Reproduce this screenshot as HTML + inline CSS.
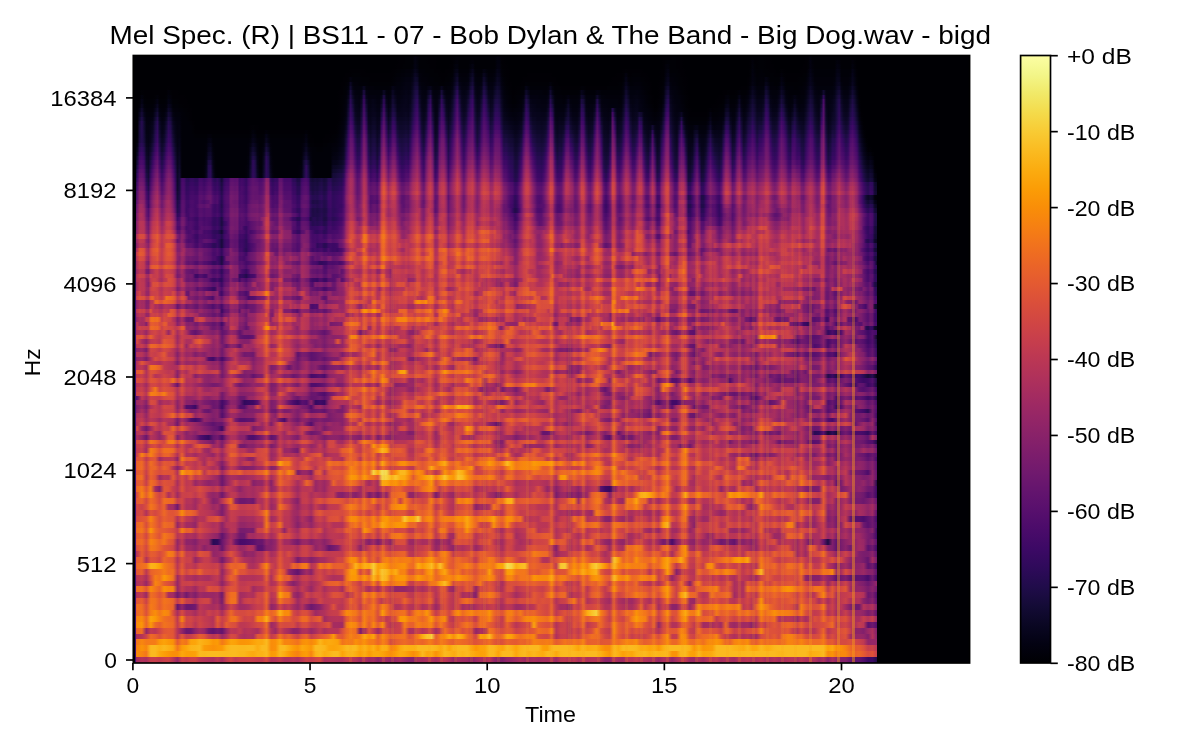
<!DOCTYPE html><html><head><meta charset="utf-8"><style>html,body{margin:0;padding:0;background:#fff;width:1200px;height:750px;overflow:hidden;position:relative}svg{will-change:transform}svg text{font-family:"Liberation Sans",sans-serif;fill:#000}#sp i{position:absolute;left:0;display:block}</style></head><body><div id="sp" style="position:absolute;left:133.30px;top:55.50px;width:836.30px;height:607.50px;overflow:hidden;background:#000004"><i style="top:0.00px;height:5.36px;width:744.2px;background:linear-gradient(90deg,#000004,#000004,#000004,#000004,#000004,#000004,#000004,#000004,#000004,#000004,#000004,#000004,#000004,#000004,#000004,#000004,#000004,#000004,#000004,#000004,#000004,#000004,#000004,#000004,#000004,#000004,#000004,#000004,#000004,#000004,#000004,#000004,#000004,#000004,#000004,#000004,#000004,#000004,#000004,#000004,#000004,#000004,#000004,#000004,#000004,#000004,#000004,#000004,#000004,#000004,#000004,#000004,#000004,#000004,#000004,#000004,#000004,#000004,#000004,#000004,#000004,#000004,#000004,#000004,#000004,#000004,#000004,#000004,#000004,#000004,#000004,#000004,#000004,#000004,#000004,#000004,#000004,#000004,#000004,#000004,#000004,#000004,#000004,#000004,#000004,#000004,#000004,#000004,#000004,#000004,#000004,#000004,#000004,#000004,#000004,#000004,#000004,#000004,#000004,#000004,#000004,#000004,#000004,#000004,#000004,#000004,#000004,#000004,#000004,#000004,#000004,#000004,#000004,#000004,#000004,#000004,#000004,#000004,#000004,#000004,#010005,#010005,#010005,#010106,#010106,#010106,#010106,#030210,#02010a,#010106,#010106,#010106,#010106,#010005,#010005,#010005,#010005,#000004,#000004,#000004,#000004,#000004,#000004,#000004,#010005,#010106,#010108,#010106,#010106,#010106,#010106,#010106,#010106,#010106,#010106,#010106,#010106,#010106,#010106,#010106,#010106,#010106,#010106,#010106,#02020c,#02010a,#010005,#010005,#000004,#000004,#000004,#000004,#000004,#000004,#000004,#000004,#000004,#000004,#000004,#000004,#000004,#000004,#000004,#000004,#000004,#000004,#000004,#000004,#000004,#000004,#000004,#000004,#000004,#000004,#000004,#000004,#000004,#000004,#000004,#000004,#000004,#000004,#000004,#000004,#000004,#000004,#000004,#000004,#000004,#000004,#000004,#000004,#000004,#000004,#000004,#000004,#000004,#000004,#000004,#000004,#000004,#000004,#000004,#000004,#000004,#000004,#000004,#000004,#000004,#000004,#000004,#000004,#000004,#000004,#000004,#000004,#000004,#000004,#000004,#010005,#010005,#010005,#010005,#010106,#010106,#010005,#010005,#010005,#000004,#000004,#000004,#000004,#000004,#000004,#000004,#000004,#000004,#000004,#000004,#000004,#000004,#000004,#000004,#000004,#000004,#000004,#000004,#000004,#000004,#000004,#000004,#000004,#000004,#000004,#000004,#000004,#000004,#000004,#010005,#010106,#010005,#010005,#010106,#010106,#010106,#010005,#010005,#010005,#000004,#000004,#000004,#000004,#000004,#000004,#000004,#000004,#000004,#000004,#000004,#000004,#000004,#000004,#000004,#010005,#010005,#02020c,#010106,#010106,#010106,#010106,#010106,#010106,#010106,#010106,#010106,#010106,#010106,#010106,#010106,#010106,#010106,#010106,#010106,#010106,#010005,#010005,#000004,#000004,#000004,#000004,#000004,#000004,#000004,#000004,#000004,#000004)"></i><i style="top:4.36px;height:5.36px;width:744.2px;background:linear-gradient(90deg,#000004,#000004,#000004,#000004,#000004,#000004,#000004,#000004,#000004,#000004,#000004,#000004,#000004,#000004,#000004,#000004,#000004,#000004,#000004,#000004,#000004,#000004,#000004,#000004,#000004,#000004,#000004,#000004,#000004,#000004,#000004,#000004,#000004,#000004,#000004,#000004,#000004,#000004,#000004,#000004,#000004,#000004,#000004,#000004,#000004,#000004,#000004,#000004,#000004,#000004,#000004,#000004,#000004,#000004,#000004,#000004,#000004,#000004,#000004,#000004,#000004,#000004,#000004,#000004,#000004,#000004,#000004,#000004,#000004,#000004,#000004,#000004,#000004,#000004,#000004,#000004,#000004,#000004,#000004,#000004,#000004,#000004,#000004,#000004,#000004,#000004,#000004,#000004,#000004,#000004,#000004,#000004,#000004,#000004,#000004,#000004,#000004,#000004,#000004,#000004,#000004,#000004,#000004,#000004,#000004,#000004,#000004,#000004,#000004,#000004,#000004,#000004,#000004,#000004,#000004,#000004,#000004,#000004,#000004,#000004,#010005,#010005,#010005,#010106,#010106,#010106,#010106,#040312,#02020c,#010106,#010106,#010106,#010106,#010005,#010005,#010005,#010005,#000004,#000004,#000004,#000004,#000004,#000004,#000004,#010005,#010108,#02010a,#010106,#010106,#010106,#010106,#010106,#010108,#02010a,#010106,#010106,#010106,#010106,#010106,#010106,#010106,#010106,#010106,#010106,#02020e,#02020e,#010005,#010005,#000004,#000004,#000004,#000004,#000004,#000004,#000004,#000004,#000004,#000004,#000004,#000004,#000004,#000004,#000004,#000004,#000004,#000004,#000004,#000004,#000004,#000004,#000004,#000004,#000004,#000004,#000004,#000004,#000004,#000004,#000004,#000004,#000004,#000004,#000004,#000004,#000004,#000004,#000004,#000004,#000004,#000004,#000004,#000004,#000004,#000004,#000004,#000004,#000004,#000004,#000004,#000004,#000004,#000004,#000004,#000004,#000004,#000004,#000004,#000004,#000004,#000004,#000004,#000004,#000004,#000004,#000004,#000004,#000004,#000004,#000004,#010005,#010106,#010108,#010106,#010106,#010106,#010005,#010005,#010005,#000004,#000004,#000004,#000004,#000004,#000004,#000004,#000004,#000004,#000004,#000004,#000004,#000004,#000004,#000004,#000004,#000004,#000004,#000004,#000004,#000004,#000004,#000004,#000004,#000004,#000004,#000004,#000004,#000004,#000004,#010005,#02010a,#010005,#010005,#010106,#010106,#010106,#010005,#010005,#010005,#000004,#000004,#000004,#000004,#000004,#000004,#000004,#000004,#000004,#000004,#000004,#000004,#000004,#000004,#000004,#010005,#010106,#030210,#010108,#010106,#010106,#010106,#010106,#010106,#010106,#010106,#010106,#010106,#010106,#02020c,#02010a,#010106,#010106,#010106,#010106,#010106,#02010a,#010106,#000004,#000004,#000004,#000004,#000004,#000004,#000004,#000004,#000004,#000004)"></i><i style="top:8.73px;height:5.36px;width:744.2px;background:linear-gradient(90deg,#000004,#000004,#000004,#000004,#000004,#000004,#000004,#000004,#000004,#000004,#000004,#000004,#000004,#000004,#000004,#000004,#000004,#000004,#000004,#000004,#000004,#000004,#000004,#000004,#000004,#000004,#000004,#000004,#000004,#000004,#000004,#000004,#000004,#000004,#000004,#000004,#000004,#000004,#000004,#000004,#000004,#000004,#000004,#000004,#000004,#000004,#000004,#000004,#000004,#000004,#000004,#000004,#000004,#000004,#000004,#000004,#000004,#000004,#000004,#000004,#000004,#000004,#000004,#000004,#000004,#000004,#000004,#000004,#000004,#000004,#000004,#000004,#000004,#000004,#000004,#000004,#000004,#000004,#000004,#000004,#000004,#000004,#000004,#000004,#000004,#000004,#000004,#000004,#000004,#000004,#000004,#000004,#000004,#000004,#000004,#000004,#000004,#000004,#000004,#000004,#000004,#000004,#000004,#000004,#000004,#000004,#000004,#000004,#000004,#000004,#000004,#000004,#000004,#000004,#000004,#000004,#000004,#000004,#000004,#010005,#010005,#010005,#010106,#010106,#010106,#010106,#010108,#040314,#02020e,#010106,#010106,#010106,#010106,#010106,#010005,#010005,#010005,#000004,#000004,#000004,#000004,#000004,#000004,#010005,#010005,#02020c,#02020e,#010106,#010106,#010106,#010106,#010106,#02020c,#040312,#010106,#010106,#010106,#010106,#010106,#010106,#010106,#010106,#010106,#010106,#030210,#030210,#010106,#010005,#010005,#000004,#000004,#000004,#000004,#000004,#000004,#000004,#000004,#000004,#000004,#000004,#000004,#000004,#000004,#000004,#000004,#000004,#000004,#000004,#000004,#000004,#000004,#000004,#000004,#000004,#000004,#000004,#000004,#000004,#000004,#000004,#000004,#000004,#000004,#000004,#000004,#000004,#000004,#000004,#000004,#000004,#000004,#000004,#000004,#000004,#000004,#000004,#000004,#000004,#000004,#000004,#000004,#000004,#000004,#000004,#000004,#000004,#000004,#000004,#000004,#000004,#000004,#000004,#000004,#000004,#000004,#000004,#000004,#000004,#000004,#010005,#02010a,#02020c,#010106,#010106,#010106,#010005,#010005,#010005,#000004,#000004,#000004,#000004,#000004,#000004,#000004,#000004,#000004,#000004,#000004,#000004,#000004,#000004,#000004,#000004,#000004,#000004,#000004,#000004,#000004,#000004,#000004,#000004,#000004,#000004,#000004,#000004,#000004,#000004,#010005,#02020c,#010106,#010005,#010106,#010106,#010106,#010005,#010005,#010005,#010005,#000004,#000004,#000004,#000004,#000004,#000004,#000004,#000004,#000004,#000004,#000004,#000004,#000004,#010005,#010005,#010106,#030210,#02010a,#010106,#010106,#010106,#010106,#010106,#010106,#010106,#010106,#010106,#010106,#030210,#02020e,#010106,#010106,#010106,#010106,#010106,#02020e,#010108,#000004,#000004,#000004,#000004,#000004,#000004,#000004,#000004,#000004,#000004)"></i><i style="top:13.09px;height:5.36px;width:744.2px;background:linear-gradient(90deg,#000004,#000004,#000004,#000004,#000004,#000004,#000004,#000004,#000004,#000004,#000004,#000004,#000004,#000004,#000004,#000004,#000004,#000004,#000004,#000004,#000004,#000004,#000004,#000004,#000004,#000004,#000004,#000004,#000004,#000004,#000004,#000004,#000004,#000004,#000004,#000004,#000004,#000004,#000004,#000004,#000004,#000004,#000004,#000004,#000004,#000004,#000004,#000004,#000004,#000004,#000004,#000004,#000004,#000004,#000004,#000004,#000004,#000004,#000004,#000004,#000004,#000004,#000004,#000004,#000004,#000004,#000004,#000004,#000004,#000004,#000004,#000004,#000004,#000004,#000004,#000004,#000004,#000004,#000004,#000004,#000004,#000004,#000004,#000004,#000004,#000004,#000004,#000004,#000004,#000004,#000004,#000004,#000004,#000004,#000004,#000004,#000004,#000004,#010005,#010005,#010005,#010005,#010005,#010005,#010005,#000004,#000004,#000004,#000004,#000004,#000004,#000004,#000004,#000004,#000004,#000004,#000004,#010005,#010005,#010106,#010106,#010108,#010108,#02010a,#02010a,#02010a,#02020e,#07051b,#040314,#010108,#010108,#010108,#010106,#010106,#010106,#010106,#010005,#010005,#010005,#000004,#000004,#010005,#010005,#010005,#010106,#040312,#050417,#010108,#010108,#010108,#010108,#010108,#040312,#08051d,#02010a,#010108,#010108,#010108,#040312,#02020c,#010108,#010108,#010108,#02010a,#050417,#040314,#010108,#010106,#010005,#010005,#000004,#000004,#000004,#000004,#000004,#000004,#000004,#000004,#000004,#000004,#000004,#000004,#000004,#000004,#000004,#000004,#000004,#000004,#000004,#000004,#000004,#000004,#000004,#000004,#000004,#000004,#000004,#000004,#000004,#000004,#000004,#000004,#000004,#000004,#000004,#000004,#000004,#000004,#000004,#000004,#000004,#000004,#000004,#000004,#000004,#000004,#000004,#000004,#000004,#000004,#000004,#010005,#010106,#010005,#010005,#010005,#010005,#010005,#010005,#010005,#000004,#000004,#000004,#000004,#000004,#000004,#000004,#000004,#010005,#010005,#02020c,#040312,#010106,#010106,#010106,#010106,#010005,#010005,#010005,#000004,#000004,#000004,#000004,#000004,#000004,#000004,#000004,#000004,#000004,#000004,#000004,#000004,#000004,#000004,#000004,#000004,#000004,#000004,#000004,#000004,#000004,#000004,#000004,#000004,#000004,#000004,#000004,#000004,#010106,#02020e,#010108,#010106,#010106,#010108,#010106,#010106,#010106,#010005,#010005,#010005,#000004,#000004,#010106,#010005,#000004,#000004,#000004,#000004,#000004,#000004,#000004,#010005,#010005,#010005,#02010a,#040314,#02020c,#010108,#010108,#010108,#010108,#010108,#010108,#010108,#010108,#010108,#010108,#040314,#040312,#010108,#010108,#010108,#010108,#010108,#040314,#02020c,#010005,#000004,#000004,#000004,#000004,#000004,#000004,#000004,#000004,#000004)"></i><i style="top:17.46px;height:5.36px;width:744.2px;background:linear-gradient(90deg,#000004,#000004,#000004,#000004,#000004,#000004,#000004,#000004,#000004,#000004,#000004,#000004,#000004,#000004,#000004,#000004,#000004,#000004,#000004,#000004,#000004,#000004,#000004,#000004,#000004,#000004,#000004,#000004,#000004,#000004,#000004,#000004,#000004,#000004,#000004,#000004,#000004,#000004,#000004,#000004,#000004,#000004,#000004,#000004,#000004,#000004,#000004,#000004,#000004,#000004,#000004,#000004,#000004,#000004,#000004,#000004,#000004,#000004,#000004,#000004,#000004,#000004,#000004,#000004,#000004,#000004,#000004,#000004,#000004,#000004,#000004,#000004,#000004,#000004,#000004,#000004,#000004,#000004,#000004,#000004,#000004,#000004,#000004,#000004,#000004,#000004,#000004,#000004,#000004,#000004,#000004,#000004,#000004,#000004,#000004,#000004,#010005,#010005,#010005,#010106,#010106,#010106,#010106,#010005,#010005,#010005,#010005,#010005,#010005,#010005,#010005,#010005,#010005,#010005,#010005,#010005,#010005,#010005,#010106,#010108,#010108,#02010a,#02010a,#02020c,#02020c,#02020c,#040312,#0b0724,#08051d,#02020c,#02010a,#010108,#010108,#010108,#010106,#010106,#010106,#010106,#010005,#010005,#010005,#010005,#010106,#010106,#010108,#060419,#0a0722,#02020c,#02010a,#02010a,#02010a,#02020c,#07051b,#0c0826,#02020e,#02010a,#02010a,#02020c,#09061f,#040314,#02010a,#02010a,#02010a,#02020e,#07051b,#060419,#02010a,#010106,#010005,#010005,#000004,#000004,#000004,#000004,#000004,#000004,#000004,#000004,#010005,#010005,#010005,#010005,#010005,#010005,#010005,#010005,#010005,#010005,#010005,#000004,#000004,#000004,#000004,#000004,#000004,#000004,#000004,#000004,#000004,#000004,#000004,#000004,#000004,#000004,#000004,#000004,#000004,#000004,#000004,#000004,#000004,#000004,#000004,#000004,#000004,#000004,#000004,#000004,#010005,#010005,#010005,#010106,#030210,#010106,#010005,#010106,#010106,#010106,#010106,#010005,#010005,#010005,#000004,#000004,#000004,#000004,#000004,#000004,#010005,#010005,#030210,#050417,#010108,#010108,#010108,#010106,#010106,#010005,#010005,#000004,#000004,#000004,#000004,#000004,#000004,#000004,#000004,#000004,#000004,#000004,#000004,#000004,#000004,#000004,#000004,#000004,#000004,#000004,#000004,#000004,#000004,#000004,#000004,#000004,#000004,#000004,#000004,#000004,#010106,#030210,#02010a,#010106,#010108,#010108,#010108,#010106,#010106,#010106,#010106,#010005,#010005,#010005,#02010a,#010106,#010005,#010005,#010005,#010005,#010005,#010005,#010005,#010005,#010106,#010106,#02020c,#050417,#030210,#010108,#010108,#010108,#010108,#010108,#010108,#010108,#010108,#010108,#02010a,#050417,#050417,#010108,#010108,#010108,#010108,#02010a,#060419,#02020e,#010005,#000004,#000004,#000004,#000004,#000004,#000004,#000004,#000004,#000004)"></i><i style="top:21.82px;height:5.36px;width:744.2px;background:linear-gradient(90deg,#000004,#000004,#000004,#000004,#000004,#000004,#000004,#000004,#000004,#000004,#000004,#000004,#000004,#000004,#000004,#000004,#000004,#000004,#000004,#000004,#000004,#000004,#000004,#000004,#000004,#000004,#000004,#000004,#000004,#000004,#000004,#000004,#000004,#000004,#000004,#000004,#000004,#000004,#000004,#000004,#000004,#000004,#000004,#000004,#000004,#000004,#000004,#000004,#000004,#000004,#000004,#000004,#000004,#000004,#000004,#000004,#000004,#000004,#000004,#000004,#000004,#000004,#000004,#000004,#000004,#000004,#000004,#000004,#000004,#000004,#000004,#000004,#000004,#000004,#000004,#000004,#000004,#000004,#000004,#000004,#000004,#000004,#000004,#000004,#000004,#000004,#000004,#000004,#000004,#000004,#000004,#000004,#000004,#000004,#000004,#010005,#010005,#010106,#030210,#010108,#010108,#010108,#010108,#010106,#010106,#010106,#010106,#010005,#010005,#010005,#010005,#010005,#010005,#010005,#010005,#010005,#010005,#010106,#010108,#02010a,#02010a,#02020c,#02020e,#030210,#030210,#030210,#050417,#0e092b,#0d0829,#02020e,#02010a,#02010a,#02010a,#010108,#010108,#010108,#010106,#010106,#010106,#010005,#010005,#010106,#010106,#010108,#02020c,#08051d,#10092d,#030210,#02020c,#02020c,#02020c,#02020e,#0a0722,#110a30,#030210,#02020c,#02020c,#030210,#10092d,#07051b,#02020c,#02020c,#02020c,#040312,#0a0722,#08051d,#02020e,#010108,#010106,#010005,#000004,#000004,#000004,#000004,#000004,#000004,#010005,#010005,#010005,#010005,#010005,#010005,#010005,#010005,#010005,#010005,#010005,#010005,#010005,#010005,#010005,#000004,#000004,#000004,#000004,#000004,#000004,#000004,#000004,#000004,#000004,#000004,#000004,#000004,#000004,#000004,#000004,#000004,#000004,#000004,#000004,#000004,#000004,#000004,#000004,#000004,#010005,#010005,#010005,#010005,#010005,#010108,#050417,#02010a,#010106,#010108,#010108,#010108,#010108,#010106,#010106,#010005,#010005,#000004,#000004,#000004,#000004,#000004,#010005,#010106,#040314,#08051d,#02010a,#02010a,#010108,#010108,#010106,#010106,#010005,#010005,#000004,#000004,#000004,#000004,#000004,#000004,#000004,#000004,#000004,#000004,#000004,#000004,#000004,#000004,#000004,#000004,#000004,#000004,#000004,#000004,#000004,#000004,#000004,#000004,#000004,#000004,#000004,#010005,#010108,#030210,#02020c,#010108,#010108,#02010a,#010108,#040312,#02020c,#010106,#010106,#010106,#010106,#010106,#030210,#02010a,#010005,#010005,#010005,#010005,#010005,#010005,#010106,#010106,#010106,#010108,#030210,#07051b,#040312,#02010a,#02010a,#02010a,#02010a,#02010a,#02010a,#02010a,#02010a,#02010a,#02020c,#07051b,#07051b,#02010a,#02010a,#02010a,#02010a,#02020e,#07051b,#040312,#010106,#000004,#000004,#000004,#000004,#000004,#000004,#000004,#000004,#000004)"></i><i style="top:26.19px;height:5.36px;width:744.2px;background:linear-gradient(90deg,#000004,#000004,#000004,#000004,#000004,#000004,#000004,#000004,#000004,#000004,#000004,#000004,#000004,#000004,#000004,#000004,#000004,#000004,#000004,#000004,#000004,#000004,#000004,#000004,#000004,#000004,#000004,#000004,#000004,#000004,#000004,#000004,#000004,#000004,#000004,#000004,#000004,#000004,#000004,#000004,#000004,#000004,#000004,#000004,#000004,#000004,#000004,#000004,#000004,#000004,#000004,#000004,#000004,#000004,#000004,#000004,#000004,#000004,#000004,#000004,#000004,#000004,#000004,#000004,#000004,#000004,#000004,#000004,#000004,#000004,#000004,#000004,#000004,#000004,#000004,#000004,#000004,#000004,#000004,#000004,#000004,#000004,#000004,#000004,#000004,#000004,#000004,#000004,#000004,#000004,#000004,#000004,#000004,#000004,#010005,#010005,#010106,#02010a,#0b0724,#02020c,#02010a,#02010a,#010108,#010108,#010108,#010108,#010106,#010106,#010106,#010106,#010106,#010106,#010106,#010106,#010106,#010106,#010106,#010108,#02010a,#02020c,#02020c,#02020e,#030210,#040312,#040312,#040312,#08051d,#120a32,#120a32,#040312,#02020c,#02020c,#02010a,#02010a,#010108,#010108,#010108,#010108,#010106,#010106,#010106,#010108,#010108,#02010a,#030210,#0b0724,#150b37,#050417,#030210,#02020e,#030210,#040312,#0e092b,#160b39,#040314,#02020e,#02020e,#040314,#150b37,#0b0724,#030210,#030210,#030210,#060419,#0c0826,#0a0722,#030210,#02010a,#010106,#010005,#010005,#000004,#000004,#000004,#000004,#010005,#010005,#010108,#010106,#010106,#010106,#010106,#010106,#010106,#010106,#010106,#010106,#010106,#02020c,#010106,#010005,#010005,#000004,#000004,#000004,#000004,#000004,#000004,#000004,#000004,#000004,#000004,#000004,#000004,#000004,#000004,#000004,#000004,#000004,#000004,#000004,#000004,#000004,#000004,#000004,#010005,#010005,#010005,#010005,#010106,#010106,#02020c,#08051d,#030210,#010108,#010108,#02010a,#02010a,#02010a,#010108,#010106,#010106,#010005,#010005,#000004,#000004,#000004,#010005,#010005,#010108,#060419,#0a0722,#02020e,#02010a,#02010a,#010108,#010106,#010106,#010005,#010005,#000004,#000004,#000004,#000004,#000004,#000004,#000004,#000004,#000004,#000004,#000004,#000004,#000004,#000004,#000004,#000004,#000004,#000004,#000004,#000004,#000004,#000004,#000004,#000004,#000004,#000004,#000004,#010005,#02010a,#040312,#02020e,#010108,#02010a,#02010a,#02010a,#07051b,#040312,#010108,#010108,#010106,#010106,#010108,#040314,#02020e,#010106,#010106,#010106,#010106,#010106,#010106,#010106,#010106,#010108,#02010a,#040312,#08051d,#050417,#02020c,#02010a,#02010a,#02010a,#02010a,#02010a,#02010a,#02010a,#02010a,#030210,#08051d,#0a0722,#02020e,#02010a,#02010a,#02010a,#030210,#09061f,#040314,#010106,#000004,#000004,#000004,#000004,#000004,#000004,#000004,#000004,#000004)"></i><i style="top:30.55px;height:5.36px;width:744.2px;background:linear-gradient(90deg,#000004,#000004,#000004,#000004,#000004,#000004,#000004,#000004,#000004,#000004,#000004,#000004,#000004,#000004,#000004,#000004,#010005,#000004,#000004,#000004,#000004,#000004,#000004,#000004,#000004,#000004,#000004,#000004,#000004,#000004,#000004,#000004,#000004,#000004,#000004,#000004,#000004,#000004,#000004,#000004,#000004,#000004,#000004,#000004,#000004,#000004,#000004,#000004,#000004,#000004,#000004,#000004,#000004,#000004,#000004,#000004,#000004,#000004,#000004,#000004,#000004,#000004,#000004,#000004,#000004,#000004,#000004,#000004,#000004,#000004,#000004,#000004,#000004,#000004,#000004,#000004,#000004,#000004,#000004,#000004,#000004,#000004,#000004,#000004,#000004,#000004,#000004,#000004,#000004,#000004,#000004,#000004,#000004,#000004,#010005,#010106,#010108,#02020e,#120a32,#040312,#02020c,#02020c,#02020c,#02020e,#0a0722,#02020c,#02010a,#02010a,#02010a,#010108,#010108,#010108,#010108,#010108,#010108,#010108,#02010a,#050417,#030210,#02020e,#02020e,#030210,#040312,#040314,#040312,#040314,#0a0722,#160b39,#180c3c,#060419,#02020e,#02020e,#02020c,#040314,#060419,#02020c,#02010a,#02010a,#02020c,#08051d,#02020c,#02010a,#02020c,#02020c,#040314,#110a30,#1f0c48,#09061f,#040312,#040312,#040312,#060419,#150b37,#1e0c45,#060419,#030210,#040312,#07051b,#1c0c43,#110a30,#040314,#040312,#040312,#0a0722,#110a30,#0d0829,#040314,#02020c,#010108,#010106,#010005,#000004,#000004,#010005,#010005,#010106,#010106,#050417,#02020e,#010108,#010108,#010108,#010108,#010108,#010108,#010108,#010108,#02010a,#08051d,#02020c,#010106,#010106,#010106,#010005,#010005,#010005,#010005,#010005,#010005,#010005,#010005,#010005,#010108,#010108,#010005,#010005,#010005,#010005,#010005,#010005,#010005,#010005,#010005,#010005,#010106,#010106,#010106,#010106,#010106,#010106,#010108,#030210,#0c0826,#050417,#02020c,#02020c,#02020c,#02020c,#02020c,#02010a,#010108,#010106,#010106,#010005,#000004,#000004,#000004,#010005,#010106,#02010a,#0b0724,#110a30,#030210,#02020c,#02020c,#02010a,#010108,#010106,#010106,#010005,#000004,#000004,#000004,#000004,#000004,#000004,#000004,#000004,#000004,#000004,#000004,#000004,#000004,#000004,#000004,#000004,#000004,#000004,#000004,#000004,#000004,#000004,#000004,#000004,#010005,#010005,#010005,#010106,#030210,#07051b,#040314,#02020c,#02020c,#02020c,#02020e,#0e092b,#08051d,#02010a,#02010a,#02010a,#010108,#02020e,#08051d,#040314,#010108,#010108,#010108,#010108,#010106,#010106,#010108,#010108,#02010a,#02020c,#050417,#0c0826,#07051b,#030210,#02020c,#02020c,#02020c,#02020c,#02020c,#02020c,#02020c,#02020e,#040312,#0b0724,#10092d,#040312,#02020c,#02020c,#02020e,#050417,#0d0829,#07051b,#02010a,#000004,#000004,#000004,#000004,#000004,#000004,#000004,#000004,#000004)"></i><i style="top:34.92px;height:5.36px;width:744.2px;background:linear-gradient(90deg,#000004,#000004,#000004,#000004,#010106,#010005,#010005,#010005,#010005,#010005,#010005,#010005,#010005,#010005,#010005,#010005,#02010a,#010106,#010005,#010005,#010005,#000004,#000004,#000004,#000004,#000004,#000004,#000004,#000004,#000004,#000004,#000004,#000004,#000004,#000004,#000004,#000004,#000004,#000004,#000004,#000004,#000004,#000004,#000004,#000004,#000004,#000004,#000004,#000004,#000004,#000004,#000004,#000004,#000004,#000004,#000004,#000004,#000004,#000004,#000004,#000004,#000004,#000004,#000004,#000004,#000004,#000004,#000004,#000004,#000004,#000004,#000004,#000004,#000004,#000004,#000004,#000004,#000004,#000004,#000004,#000004,#000004,#000004,#000004,#000004,#000004,#000004,#000004,#000004,#000004,#000004,#000004,#000004,#010005,#010005,#010106,#010108,#040314,#1b0c41,#07051b,#030210,#02020e,#02020e,#040314,#1e0c45,#040312,#02020e,#02020c,#02020c,#02020c,#02020c,#02020c,#02020e,#0c0826,#02020e,#02010a,#02020e,#0b0724,#040314,#030210,#030210,#040312,#040314,#050417,#040314,#050417,#0d0829,#1b0c41,#1f0c48,#08051d,#040312,#030210,#030210,#0a0722,#120a32,#030210,#02020e,#02020e,#040312,#180c3c,#060419,#02020e,#02020e,#030210,#07051b,#160b39,#2d0b59,#0d0829,#050417,#040314,#050417,#0a0722,#1c0c43,#260c51,#08051d,#040312,#040314,#0a0722,#240c4f,#160b39,#07051b,#050417,#050417,#0e092b,#150b37,#110a30,#060419,#02020e,#02010a,#010108,#010106,#010005,#010005,#010106,#010106,#010108,#02010a,#0e092b,#07051b,#02020c,#02020c,#02020c,#02020c,#02020c,#02020c,#02010a,#02010a,#02020e,#110a30,#040314,#010108,#010108,#010108,#010106,#010106,#010106,#010106,#010106,#010106,#010106,#010106,#010108,#07051b,#040312,#010108,#010108,#010108,#010108,#010108,#030210,#02020c,#010108,#010108,#010108,#010108,#010108,#010108,#010108,#010108,#010108,#02010a,#040312,#110a30,#08051d,#02020e,#02020e,#02020e,#030210,#02020e,#02020c,#02010a,#010108,#010106,#010005,#000004,#000004,#000004,#010005,#010106,#02020c,#10092d,#180c3c,#040314,#030210,#02020e,#02020c,#02010a,#010108,#010106,#010005,#000004,#000004,#000004,#000004,#000004,#000004,#000004,#000004,#000004,#000004,#000004,#000004,#000004,#000004,#000004,#000004,#010005,#010005,#010106,#010005,#010005,#010005,#010106,#02010a,#010106,#010106,#010106,#02010a,#040314,#0a0722,#060419,#030210,#02020e,#030210,#040312,#150b37,#0c0826,#02020e,#02020c,#02020c,#02020c,#040312,#0c0826,#08051d,#02020c,#02010a,#010108,#010108,#010108,#010108,#010108,#02010a,#02010a,#030210,#08051d,#10092d,#0b0724,#040312,#030210,#02020e,#040314,#110a30,#030210,#02020e,#030210,#030210,#050417,#0e092b,#160b39,#060419,#030210,#030210,#030210,#08051d,#120a32,#0a0722,#02020e,#000004,#000004,#000004,#000004,#000004,#000004,#000004,#000004,#000004)"></i><i style="top:39.28px;height:5.36px;width:744.2px;background:linear-gradient(90deg,#000004,#000004,#000004,#010005,#02020e,#010106,#010005,#010005,#010005,#010005,#010106,#02010a,#010005,#010005,#010005,#010106,#02020e,#02010a,#010005,#010005,#010005,#010005,#010005,#010005,#000004,#000004,#000004,#000004,#000004,#000004,#000004,#000004,#000004,#000004,#000004,#000004,#000004,#000004,#000004,#000004,#000004,#000004,#000004,#000004,#000004,#000004,#000004,#000004,#000004,#000004,#000004,#000004,#000004,#000004,#000004,#000004,#000004,#000004,#000004,#000004,#000004,#000004,#000004,#000004,#000004,#000004,#000004,#000004,#000004,#000004,#000004,#000004,#000004,#000004,#000004,#000004,#000004,#000004,#000004,#000004,#000004,#000004,#000004,#000004,#000004,#000004,#000004,#000004,#000004,#000004,#000004,#000004,#000004,#010005,#010106,#010108,#02010a,#07051b,#230c4c,#0c0826,#040312,#040312,#030210,#07051b,#2f0a5b,#07051b,#030210,#030210,#030210,#030210,#02020e,#02020e,#050417,#210c4a,#040314,#02020e,#040312,#10092d,#08051d,#040312,#040312,#040314,#050417,#060419,#050417,#07051b,#10092d,#1f0c48,#260c51,#0c0826,#040314,#040312,#040312,#120a32,#240c4f,#040314,#030210,#030210,#07051b,#240c4f,#0c0826,#040312,#040312,#040314,#0a0722,#1e0c45,#390963,#140b34,#07051b,#060419,#07051b,#0e092b,#240c4f,#2f0a5b,#0b0724,#040314,#060419,#0e092b,#2d0b59,#1e0c45,#0a0722,#060419,#07051b,#140b34,#190c3e,#150b37,#08051d,#030210,#02020c,#02010a,#010108,#010005,#010106,#010108,#010108,#02010a,#030210,#180c3c,#0d0829,#030210,#030210,#030210,#030210,#02020e,#02020e,#02020e,#02020e,#040312,#1b0c41,#0a0722,#02020c,#02010a,#02010a,#02010a,#010108,#02010a,#030210,#02010a,#02010a,#02010a,#02010a,#02020c,#10092d,#0b0724,#02020c,#02020c,#02020c,#02020c,#02020c,#10092d,#050417,#02020c,#02020c,#02010a,#02010a,#02010a,#02010a,#02010a,#02010a,#02010a,#02020c,#060419,#160b39,#0c0826,#030210,#030210,#040312,#040312,#030210,#02020e,#02020c,#02010a,#010108,#010106,#010005,#000004,#000004,#010005,#010108,#030210,#160b39,#210c4a,#060419,#040312,#02020e,#02020e,#02020c,#02010a,#010108,#010106,#010005,#000004,#000004,#000004,#000004,#000004,#000004,#000004,#000004,#000004,#000004,#000004,#000004,#000004,#010005,#010005,#010005,#02010a,#02020c,#010106,#010106,#010106,#010108,#050417,#02010a,#010108,#02010a,#02020e,#07051b,#0d0829,#09061f,#040312,#040312,#040314,#060419,#1c0c43,#120a32,#040312,#02020e,#02020e,#02020e,#060419,#120a32,#0c0826,#030210,#02020c,#02010a,#02020c,#040314,#02020c,#02010a,#02020c,#02020c,#040312,#0a0722,#140b34,#0e092b,#050417,#040312,#040312,#09061f,#310a5c,#040314,#030210,#040312,#040314,#08051d,#140b34,#1e0c45,#09061f,#040314,#040312,#040314,#0c0826,#180c3c,#0e092b,#040312,#010005,#000004,#000004,#000004,#000004,#000004,#000004,#000004,#000004)"></i><i style="top:43.65px;height:5.36px;width:744.2px;background:linear-gradient(90deg,#000004,#000004,#000004,#010106,#050417,#010108,#010106,#010106,#010106,#010106,#02010a,#040314,#010106,#010106,#010106,#010108,#040314,#02020e,#010106,#010106,#010106,#010005,#010005,#010005,#010005,#000004,#000004,#000004,#000004,#000004,#000004,#000004,#000004,#000004,#000004,#000004,#000004,#000004,#000004,#000004,#000004,#000004,#000004,#000004,#000004,#000004,#000004,#000004,#000004,#000004,#000004,#000004,#000004,#000004,#000004,#000004,#000004,#000004,#000004,#000004,#000004,#000004,#000004,#000004,#000004,#000004,#000004,#000004,#000004,#000004,#000004,#000004,#000004,#000004,#000004,#000004,#000004,#000004,#000004,#000004,#000004,#000004,#000004,#000004,#000004,#000004,#000004,#000004,#000004,#000004,#000004,#000004,#000004,#010005,#010106,#010108,#02020c,#0b0724,#2b0b57,#120a32,#050417,#040314,#040312,#0b0724,#3d0965,#0d0829,#040314,#040312,#050417,#040314,#030210,#030210,#0a0722,#310a5c,#08051d,#030210,#050417,#140b34,#0b0724,#040314,#040314,#050417,#060419,#07051b,#050417,#08051d,#140b34,#240c4f,#2f0a5b,#10092d,#050417,#040314,#050417,#1c0c43,#310a5c,#07051b,#040312,#040312,#0c0826,#320a5e,#160b39,#060419,#040314,#060419,#0e092b,#260c51,#450a69,#1b0c41,#09061f,#07051b,#09061f,#150b37,#2d0b59,#390963,#0e092b,#060419,#07051b,#150b37,#360961,#260c51,#0e092b,#08051d,#0a0722,#1b0c41,#1f0c48,#190c3e,#0a0722,#040312,#02020e,#02010a,#010108,#010106,#010106,#010108,#02010a,#02020c,#050417,#230c4c,#150b37,#050417,#040314,#040314,#040312,#040312,#030210,#030210,#030210,#060419,#260c51,#10092d,#02020e,#02020c,#02020c,#02020c,#02010a,#02020e,#08051d,#02020e,#02020c,#02020c,#02020c,#030210,#1c0c43,#140b34,#030210,#02020e,#02020e,#02020e,#040312,#240c4f,#0b0724,#030210,#02020e,#02020e,#02020e,#02020c,#02020c,#02020c,#02020c,#02010a,#02020e,#08051d,#1b0c41,#110a30,#040314,#040312,#040314,#050417,#040312,#030210,#02020e,#02010a,#010108,#010106,#010005,#000004,#010005,#010106,#010108,#040314,#1c0c43,#2b0b57,#08051d,#040314,#030210,#02020e,#02020e,#02010a,#010108,#010106,#010005,#000004,#000004,#000004,#000004,#000004,#000004,#000004,#000004,#000004,#000004,#000004,#000004,#010005,#010005,#010005,#010106,#02020e,#040312,#010108,#010108,#010108,#02020c,#0b0724,#02020e,#02010a,#02020c,#040312,#0a0722,#120a32,#0c0826,#050417,#050417,#060419,#09061f,#240c4f,#190c3e,#050417,#040312,#030210,#040312,#09061f,#180c3c,#10092d,#040314,#02020e,#02020c,#02020e,#08051d,#030210,#02020c,#02020c,#02020e,#050417,#0d0829,#180c3c,#120a32,#07051b,#040314,#040314,#10092d,#4d0d6c,#060419,#040312,#040314,#060419,#0a0722,#180c3c,#260c51,#0c0826,#060419,#050417,#060419,#110a30,#1e0c45,#120a32,#050417,#010106,#000004,#000004,#000004,#000004,#000004,#000004,#000004,#000004)"></i><i style="top:48.01px;height:5.36px;width:744.2px;background:linear-gradient(90deg,#000004,#000004,#000004,#02010a,#09061f,#02020c,#010108,#010108,#010108,#010108,#030210,#09061f,#02010a,#010108,#010108,#02010a,#08051d,#050417,#010108,#010108,#010108,#010106,#010106,#010005,#010005,#010005,#000004,#000004,#000004,#000004,#000004,#000004,#000004,#000004,#000004,#000004,#000004,#000004,#000004,#000004,#000004,#000004,#000004,#000004,#000004,#000004,#000004,#000004,#000004,#000004,#000004,#000004,#000004,#000004,#000004,#000004,#000004,#000004,#000004,#000004,#000004,#000004,#000004,#000004,#000004,#000004,#000004,#000004,#000004,#000004,#000004,#000004,#000004,#000004,#000004,#000004,#000004,#000004,#000004,#000004,#000004,#000004,#000004,#000004,#000004,#000004,#000004,#000004,#000004,#000004,#000004,#000004,#000004,#010005,#010106,#02010a,#02020e,#0e092b,#320a5e,#180c3c,#07051b,#050417,#040314,#0e092b,#440a68,#140b34,#050417,#040314,#060419,#050417,#040312,#040312,#10092d,#3b0964,#0c0826,#040312,#07051b,#180c3c,#10092d,#050417,#050417,#060419,#07051b,#07051b,#060419,#0a0722,#160b39,#290b55,#360961,#140b34,#060419,#050417,#07051b,#240c4f,#3b0964,#0a0722,#040312,#040314,#110a30,#3b0964,#1f0c48,#08051d,#050417,#08051d,#110a30,#2b0b57,#4c0c6b,#230c4c,#0b0724,#08051d,#0b0724,#1b0c41,#320a5e,#3e0966,#110a30,#07051b,#09061f,#1b0c41,#3d0965,#2d0b59,#140b34,#09061f,#0c0826,#210c4a,#260c51,#1e0c45,#0c0826,#040314,#030210,#02020c,#02010a,#010108,#010108,#02010a,#02020c,#02020e,#08051d,#2b0b57,#1e0c45,#07051b,#060419,#050417,#040314,#040314,#040312,#040312,#040312,#09061f,#310a5c,#190c3e,#030210,#02020e,#02020e,#02020e,#02020e,#040314,#0d0829,#040312,#02020e,#02020e,#02020e,#040314,#260c51,#1c0c43,#040314,#030210,#040312,#040312,#07051b,#320a5e,#120a32,#040312,#030210,#030210,#02020e,#02020e,#02020e,#02020e,#02020e,#02020c,#030210,#0b0724,#230c4c,#150b37,#060419,#040314,#050417,#060419,#040314,#040312,#02020e,#02020c,#02010a,#010108,#010106,#000004,#010005,#010108,#02010a,#07051b,#240c4f,#340a5f,#0a0722,#050417,#040312,#030210,#02020e,#02020c,#02010a,#010106,#010005,#000004,#000004,#000004,#000004,#000004,#000004,#000004,#000004,#000004,#000004,#010005,#010005,#010005,#010106,#010106,#010108,#050417,#07051b,#02010a,#02010a,#02010a,#040312,#10092d,#040312,#02020c,#02020e,#060419,#0d0829,#160b39,#10092d,#060419,#07051b,#07051b,#0c0826,#2b0b57,#210c4a,#07051b,#040314,#040314,#040314,#0d0829,#1f0c48,#160b39,#07051b,#030210,#02020e,#040312,#0d0829,#040314,#02020e,#030210,#030210,#07051b,#110a30,#1c0c43,#160b39,#09061f,#050417,#040314,#160b39,#540f6d,#08051d,#040312,#050417,#07051b,#0c0826,#190c3e,#2b0b57,#10092d,#08051d,#060419,#07051b,#150b37,#230c4c,#160b39,#08051d,#010108,#000004,#000004,#000004,#000004,#000004,#000004,#000004,#000004)"></i><i style="top:52.38px;height:5.36px;width:744.2px;background:linear-gradient(90deg,#000004,#000004,#000004,#040314,#10092d,#040312,#02010a,#02010a,#02010a,#02010a,#060419,#0e092b,#02020e,#02010a,#02010a,#030210,#0d0829,#09061f,#02020c,#02010a,#02010a,#010108,#010108,#010106,#010106,#010005,#010005,#000004,#000004,#000004,#000004,#000004,#000004,#000004,#000004,#000004,#000004,#000004,#000004,#000004,#000004,#000004,#000004,#000004,#000004,#000004,#000004,#000004,#000004,#000004,#000004,#000004,#000004,#000004,#000004,#000004,#000004,#000004,#000004,#000004,#000004,#000004,#000004,#000004,#000004,#000004,#000004,#000004,#000004,#000004,#000004,#000004,#000004,#000004,#000004,#000004,#000004,#000004,#000004,#000004,#000004,#000004,#000004,#000004,#000004,#000004,#000004,#000004,#000004,#000004,#000004,#000004,#000004,#010005,#010106,#02010a,#030210,#120a32,#360961,#1e0c45,#08051d,#060419,#050417,#120a32,#490b6a,#190c3e,#050417,#050417,#07051b,#060419,#040314,#040314,#160b39,#440a68,#110a30,#050417,#0a0722,#1c0c43,#150b37,#060419,#060419,#07051b,#08051d,#08051d,#07051b,#0b0724,#190c3e,#2f0a5b,#3b0964,#180c3c,#08051d,#050417,#09061f,#290b55,#400a67,#0d0829,#040314,#040314,#160b39,#400a67,#280b53,#0a0722,#060419,#09061f,#150b37,#310a5c,#510e6c,#280b53,#0d0829,#09061f,#0c0826,#210c4a,#380962,#440a68,#140b34,#08051d,#0a0722,#1f0c48,#420a68,#320a5e,#180c3c,#0b0724,#0e092b,#260c51,#2b0b57,#230c4c,#0e092b,#050417,#040312,#030210,#02020c,#02010a,#02020c,#02020c,#02020e,#030210,#0b0724,#320a5e,#240c4f,#09061f,#07051b,#060419,#050417,#050417,#040314,#040314,#040314,#0d0829,#3d0965,#230c4c,#040314,#030210,#030210,#030210,#030210,#07051b,#110a30,#050417,#030210,#030210,#030210,#060419,#2d0b59,#230c4c,#050417,#040312,#040314,#040314,#0b0724,#3d0965,#190c3e,#050417,#040312,#040312,#030210,#040312,#260c51,#09061f,#030210,#030210,#040314,#0e092b,#290b55,#1b0c41,#08051d,#050417,#060419,#07051b,#040314,#040312,#030210,#02020e,#02020c,#02010a,#010108,#010005,#010106,#02010a,#02020e,#0a0722,#2d0b59,#3b0964,#0b0724,#060419,#040312,#030210,#030210,#02020e,#02010a,#010108,#010106,#010005,#000004,#000004,#000004,#000004,#000004,#000004,#000004,#010005,#010108,#010005,#010106,#010106,#010108,#010108,#02010a,#0a0722,#0b0724,#02020e,#02020c,#02020c,#060419,#160b39,#060419,#02020e,#040312,#08051d,#10092d,#190c3e,#120a32,#08051d,#08051d,#09061f,#10092d,#320a5e,#280b53,#0a0722,#050417,#050417,#060419,#110a30,#280b53,#1c0c43,#0b0724,#040314,#030210,#060419,#110a30,#07051b,#030210,#040312,#040314,#09061f,#140b34,#1f0c48,#190c3e,#0b0724,#060419,#050417,#1e0c45,#57106e,#0a0722,#040314,#050417,#08051d,#0d0829,#1b0c41,#2d0b59,#120a32,#09061f,#07051b,#09061f,#190c3e,#260c51,#190c3e,#0a0722,#02010a,#000004,#000004,#000004,#000004,#000004,#000004,#000004,#000004)"></i><i style="top:56.74px;height:5.36px;width:744.2px;background:linear-gradient(90deg,#000004,#000004,#000004,#09061f,#160b39,#07051b,#02020e,#02020c,#02020c,#02020e,#0b0724,#160b39,#040314,#02020c,#02020e,#060419,#150b37,#10092d,#040312,#02020c,#02020c,#02020c,#010108,#010108,#010106,#010106,#010005,#000004,#000004,#000004,#000004,#000004,#000004,#000004,#000004,#000004,#000004,#000004,#000004,#000004,#000004,#000004,#000004,#000004,#000004,#000004,#000004,#000004,#000004,#000004,#000004,#000004,#000004,#000004,#000004,#000004,#000004,#000004,#000004,#000004,#000004,#000004,#000004,#000004,#000004,#000004,#000004,#000004,#000004,#000004,#000004,#000004,#000004,#000004,#000004,#000004,#000004,#000004,#000004,#000004,#000004,#000004,#000004,#000004,#000004,#000004,#000004,#000004,#000004,#000004,#000004,#000004,#000004,#010005,#010108,#02010a,#040312,#160b39,#3b0964,#260c51,#0b0724,#07051b,#07051b,#160b39,#4d0d6c,#210c4a,#07051b,#060419,#08051d,#08051d,#050417,#050417,#1f0c48,#4d0d6c,#180c3c,#07051b,#0d0829,#230c4c,#1c0c43,#09061f,#08051d,#08051d,#09061f,#0a0722,#08051d,#0e092b,#1e0c45,#340a5f,#400a67,#1e0c45,#0a0722,#07051b,#0c0826,#320a5e,#490b6a,#140b34,#050417,#050417,#1c0c43,#450a69,#320a5e,#0d0829,#07051b,#0c0826,#190c3e,#380962,#550f6d,#310a5c,#110a30,#0b0724,#10092d,#290b55,#3e0966,#490b6a,#180c3c,#0a0722,#0d0829,#260c51,#470b6a,#390963,#1f0c48,#0d0829,#120a32,#2d0b59,#310a5c,#290b55,#120a32,#07051b,#050417,#040312,#030210,#02020e,#02020e,#030210,#040312,#040314,#110a30,#390963,#2d0b59,#0c0826,#08051d,#08051d,#07051b,#07051b,#060419,#060419,#07051b,#120a32,#490b6a,#2f0a5b,#050417,#040312,#040314,#040314,#040314,#0b0724,#150b37,#08051d,#040314,#040314,#040312,#09061f,#340a5f,#2b0b57,#08051d,#040314,#050417,#060419,#110a30,#490b6a,#240c4f,#08051d,#040314,#040314,#040312,#050417,#490b6a,#110a30,#040312,#040312,#060419,#120a32,#320a5e,#230c4c,#0b0724,#060419,#08051d,#09061f,#140b34,#10092d,#040314,#030210,#02020e,#02020c,#02010a,#010108,#02010a,#02020c,#040312,#0e092b,#380962,#450a69,#0e092b,#07051b,#040314,#040312,#050417,#0b0724,#02020e,#02010a,#010108,#010005,#010005,#010005,#010005,#010005,#010005,#010005,#010005,#010106,#030210,#010108,#010108,#010108,#02010a,#02010a,#02020e,#10092d,#110a30,#040314,#02020e,#030210,#0a0722,#1c0c43,#09061f,#040312,#050417,#0c0826,#140b34,#1e0c45,#160b39,#0a0722,#0b0724,#0b0724,#150b37,#390963,#2f0a5b,#0d0829,#08051d,#07051b,#09061f,#180c3c,#310a5c,#240c4f,#10092d,#060419,#040314,#0a0722,#160b39,#0a0722,#050417,#050417,#050417,#0c0826,#180c3c,#240c4f,#1e0c45,#0d0829,#08051d,#060419,#260c51,#59106e,#0c0826,#040314,#060419,#0a0722,#0e092b,#1c0c43,#310a5c,#160b39,#0b0724,#09061f,#0b0724,#1e0c45,#290b55,#1e0c45,#0d0829,#02020e,#010005,#000004,#000004,#000004,#000004,#000004,#000004,#000004)"></i><i style="top:61.10px;height:5.36px;width:744.2px;background:linear-gradient(90deg,#000004,#000004,#000004,#0e092b,#1f0c48,#0c0826,#030210,#030210,#030210,#040314,#110a30,#210c4a,#07051b,#030210,#040312,#0a0722,#1e0c45,#160b39,#060419,#030210,#02020e,#02020e,#010108,#010108,#010108,#010106,#010005,#000004,#000004,#000004,#000004,#000004,#000004,#000004,#000004,#000004,#000004,#000004,#000004,#000004,#000004,#000004,#000004,#000004,#000004,#000004,#000004,#000004,#000004,#000004,#000004,#000004,#000004,#000004,#000004,#000004,#000004,#000004,#000004,#000004,#000004,#000004,#000004,#000004,#000004,#000004,#000004,#000004,#000004,#000004,#000004,#000004,#000004,#000004,#000004,#000004,#000004,#000004,#000004,#000004,#000004,#000004,#000004,#000004,#000004,#000004,#000004,#000004,#000004,#000004,#000004,#000004,#000004,#010005,#010108,#02020c,#050417,#1b0c41,#400a67,#2d0b59,#0e092b,#09061f,#09061f,#1c0c43,#540f6d,#290b55,#09061f,#07051b,#0a0722,#0a0722,#060419,#07051b,#290b55,#550f6d,#1f0c48,#0a0722,#110a30,#2d0b59,#240c4f,#0b0724,#0a0722,#0a0722,#0b0724,#0c0826,#0a0722,#110a30,#230c4c,#3b0964,#470b6a,#230c4c,#0c0826,#08051d,#10092d,#390963,#4d0d6c,#190c3e,#060419,#07051b,#240c4f,#4a0c6b,#3d0965,#120a32,#09061f,#0e092b,#1e0c45,#3d0965,#5c126e,#390963,#150b37,#0d0829,#150b37,#320a5e,#450a69,#4f0d6c,#1b0c41,#0c0826,#110a30,#2d0b59,#4d0d6c,#400a67,#280b53,#110a30,#160b39,#340a5f,#380962,#310a5c,#160b39,#09061f,#07051b,#050417,#040314,#040312,#030210,#040312,#040314,#060419,#160b39,#400a67,#340a5f,#110a30,#0a0722,#0a0722,#08051d,#08051d,#08051d,#08051d,#09061f,#190c3e,#540f6d,#3d0965,#08051d,#040314,#060419,#050417,#060419,#120a32,#190c3e,#0b0724,#060419,#050417,#050417,#0c0826,#3d0965,#320a5e,#0b0724,#060419,#07051b,#08051d,#190c3e,#520e6d,#2f0a5b,#0c0826,#060419,#050417,#040314,#07051b,#57106e,#1c0c43,#050417,#050417,#09061f,#180c3c,#3b0964,#2b0b57,#0e092b,#08051d,#09061f,#0b0724,#240c4f,#1c0c43,#050417,#040314,#030210,#02020e,#02020c,#02010a,#02020c,#02020e,#060419,#150b37,#420a68,#4f0d6c,#110a30,#09061f,#050417,#040314,#08051d,#1c0c43,#050417,#02020c,#010108,#010106,#010106,#010106,#010106,#010106,#010106,#010106,#010106,#02010a,#050417,#02010a,#02010a,#02010a,#02020c,#02020e,#040314,#180c3c,#180c3c,#07051b,#040312,#040312,#0e092b,#260c51,#0d0829,#050417,#07051b,#110a30,#180c3c,#240c4f,#190c3e,#0c0826,#0e092b,#0e092b,#1b0c41,#400a67,#360961,#120a32,#0a0722,#0a0722,#0c0826,#1e0c45,#3b0964,#2d0b59,#160b39,#09061f,#07051b,#10092d,#1c0c43,#0e092b,#08051d,#07051b,#07051b,#10092d,#1c0c43,#2b0b57,#230c4c,#110a30,#0a0722,#08051d,#310a5c,#5c126e,#0e092b,#050417,#07051b,#0c0826,#10092d,#1e0c45,#340a5f,#190c3e,#0e092b,#0b0724,#0e092b,#240c4f,#310a5c,#230c4c,#110a30,#040312,#010106,#000004,#000004,#000004,#000004,#000004,#000004,#000004)"></i><i style="top:65.47px;height:5.36px;width:744.2px;background:linear-gradient(90deg,#000004,#000004,#000004,#150b37,#280b53,#110a30,#040312,#030210,#040314,#07051b,#180c3c,#290b55,#0b0724,#040314,#050417,#10092d,#260c51,#1e0c45,#09061f,#040314,#030210,#030210,#010108,#010108,#010108,#010108,#010106,#010005,#000004,#000004,#000004,#000004,#000004,#000004,#000004,#000004,#000004,#000004,#000004,#000004,#000004,#000004,#000004,#000004,#000004,#000004,#000004,#000004,#000004,#000004,#000004,#000004,#000004,#000004,#000004,#000004,#000004,#000004,#000004,#000004,#000004,#000004,#000004,#000004,#000004,#000004,#000004,#000004,#000004,#000004,#000004,#000004,#000004,#000004,#000004,#000004,#000004,#000004,#000004,#000004,#000004,#000004,#000004,#000004,#000004,#000004,#000004,#000004,#000004,#000004,#000004,#000004,#000004,#010106,#02010a,#02020e,#07051b,#1f0c48,#470b6a,#360961,#120a32,#0b0724,#0b0724,#210c4a,#59106e,#340a5f,#0b0724,#08051d,#0c0826,#0c0826,#07051b,#09061f,#360961,#5d126e,#290b55,#0d0829,#160b39,#360961,#2d0b59,#10092d,#0c0826,#0c0826,#0d0829,#0e092b,#0c0826,#150b37,#290b55,#400a67,#4d0d6c,#2b0b57,#0e092b,#0a0722,#150b37,#420a68,#540f6d,#230c4c,#07051b,#08051d,#2d0b59,#510e6c,#470b6a,#180c3c,#0b0724,#120a32,#230c4c,#440a68,#62146e,#440a68,#190c3e,#10092d,#190c3e,#3b0964,#4c0c6b,#540f6d,#210c4a,#0e092b,#150b37,#340a5f,#520e6d,#470b6a,#310a5c,#150b37,#1c0c43,#3d0965,#3e0966,#380962,#190c3e,#0b0724,#0a0722,#08051d,#060419,#050417,#040314,#040314,#060419,#09061f,#1e0c45,#490b6a,#3e0966,#160b39,#0d0829,#0c0826,#0a0722,#0a0722,#09061f,#0a0722,#0c0826,#210c4a,#5c126e,#490b6a,#0a0722,#060419,#08051d,#07051b,#09061f,#190c3e,#1f0c48,#0e092b,#09061f,#07051b,#07051b,#10092d,#450a69,#3b0964,#0e092b,#08051d,#09061f,#0b0724,#230c4c,#5a116e,#3b0964,#110a30,#07051b,#07051b,#060419,#0a0722,#61136e,#290b55,#07051b,#08051d,#0c0826,#1e0c45,#420a68,#340a5f,#140b34,#0a0722,#0c0826,#0d0829,#320a5e,#280b53,#07051b,#050417,#040314,#040312,#030210,#02020e,#030210,#040312,#09061f,#1c0c43,#4d0d6c,#57106e,#140b34,#0b0724,#060419,#050417,#0c0826,#310a5c,#09061f,#02020e,#02010a,#010108,#010108,#010108,#010108,#010108,#010108,#010108,#010108,#030210,#09061f,#02020e,#02020c,#02020e,#030210,#030210,#08051d,#210c4a,#1f0c48,#0a0722,#040314,#050417,#150b37,#2d0b59,#120a32,#060419,#0a0722,#150b37,#1c0c43,#2b0b57,#1e0c45,#10092d,#120a32,#140b34,#210c4a,#470b6a,#3e0966,#190c3e,#0d0829,#0c0826,#10092d,#260c51,#440a68,#380962,#1e0c45,#0c0826,#09061f,#180c3c,#230c4c,#120a32,#0b0724,#0a0722,#09061f,#140b34,#210c4a,#320a5e,#280b53,#140b34,#0c0826,#0a0722,#3b0964,#61136e,#120a32,#060419,#09061f,#0e092b,#120a32,#210c4a,#390963,#1f0c48,#120a32,#0d0829,#110a30,#2b0b57,#360961,#280b53,#160b39,#050417,#02010a,#000004,#000004,#000004,#000004,#000004,#000004,#000004)"></i><i style="top:69.83px;height:5.36px;width:744.2px;background:linear-gradient(90deg,#000004,#000004,#010005,#180c3c,#260c51,#120a32,#040314,#040312,#050417,#09061f,#1c0c43,#2d0b59,#0d0829,#050417,#07051b,#140b34,#2b0b57,#230c4c,#0c0826,#050417,#030210,#040312,#010108,#010108,#010108,#010108,#010108,#010106,#000004,#000004,#000004,#000004,#000004,#000004,#000004,#000004,#000004,#000004,#000004,#000004,#000004,#000004,#000004,#000004,#000004,#000004,#000004,#000004,#000004,#000004,#000004,#000004,#000004,#010005,#010106,#010005,#010005,#000004,#000004,#000004,#000004,#000004,#000004,#000004,#000004,#000004,#000004,#000004,#000004,#000004,#000004,#000004,#000004,#000004,#000004,#000004,#000004,#000004,#000004,#000004,#000004,#000004,#000004,#000004,#000004,#000004,#000004,#000004,#000004,#000004,#000004,#000004,#010005,#010108,#02020c,#030210,#0a0722,#280b53,#4f0d6c,#400a67,#190c3e,#0e092b,#0e092b,#280b53,#61136e,#3e0966,#0e092b,#0a0722,#0e092b,#0e092b,#08051d,#0b0724,#420a68,#64156e,#320a5e,#110a30,#1b0c41,#3e0966,#360961,#140b34,#0e092b,#0e092b,#10092d,#110a30,#0e092b,#190c3e,#320a5e,#490b6a,#550f6d,#320a5e,#120a32,#0c0826,#1c0c43,#4a0c6b,#5c126e,#2d0b59,#09061f,#0b0724,#380962,#57106e,#510e6c,#1f0c48,#0d0829,#180c3c,#290b55,#4c0c6b,#6a176e,#4c0c6b,#210c4a,#140b34,#210c4a,#450a69,#520e6d,#5a116e,#280b53,#110a30,#190c3e,#3b0964,#57106e,#4d0d6c,#390963,#1b0c41,#230c4c,#450a69,#470b6a,#400a67,#1f0c48,#0e092b,#0d0829,#0b0724,#09061f,#07051b,#060419,#060419,#08051d,#0c0826,#280b53,#510e6c,#470b6a,#1e0c45,#110a30,#0e092b,#0c0826,#0c0826,#0b0724,#0c0826,#10092d,#290b55,#64156e,#520e6d,#0d0829,#07051b,#0a0722,#0a0722,#0c0826,#240c4f,#2b0b57,#140b34,#0c0826,#0a0722,#09061f,#150b37,#4d0d6c,#450a69,#140b34,#0a0722,#0b0724,#0e092b,#2f0a5b,#62146e,#440a68,#180c3c,#09061f,#08051d,#07051b,#0d0829,#67166e,#380962,#09061f,#0a0722,#0e092b,#240c4f,#4a0c6b,#3b0964,#180c3c,#0d0829,#0e092b,#120a32,#3d0965,#320a5e,#0a0722,#07051b,#050417,#060419,#140b34,#050417,#040312,#040314,#0d0829,#240c4f,#57106e,#5f136e,#180c3c,#0d0829,#08051d,#060419,#140b34,#3b0964,#110a30,#040314,#02020e,#02020c,#02020c,#040314,#050417,#02020c,#02020c,#02020c,#02020c,#060419,#0e092b,#040314,#030210,#040312,#040312,#040314,#0d0829,#2d0b59,#2b0b57,#10092d,#060419,#08051d,#1b0c41,#360961,#160b39,#08051d,#0d0829,#1b0c41,#230c4c,#340a5f,#240c4f,#120a32,#180c3c,#1b0c41,#290b55,#4f0d6c,#470b6a,#1f0c48,#110a30,#10092d,#140b34,#2d0b59,#4c0c6b,#3e0966,#260c51,#110a30,#0c0826,#1f0c48,#290b55,#160b39,#10092d,#0c0826,#0c0826,#180c3c,#280b53,#3b0964,#310a5c,#180c3c,#0e092b,#0d0829,#490b6a,#67166e,#160b39,#08051d,#0b0724,#120a32,#150b37,#290b55,#400a67,#260c51,#180c3c,#110a30,#160b39,#320a5e,#3e0966,#2f0a5b,#1c0c43,#08051d,#02020e,#010005,#000004,#000004,#000004,#000004,#000004,#000004)"></i><i style="top:74.20px;height:5.36px;width:744.2px;background:linear-gradient(90deg,#000004,#000004,#010106,#190c3e,#260c51,#150b37,#040314,#040312,#060419,#0b0724,#210c4a,#320a5e,#110a30,#060419,#09061f,#190c3e,#310a5c,#290b55,#10092d,#060419,#040312,#040312,#010108,#010108,#010108,#010108,#010108,#010106,#010005,#010005,#010005,#010005,#010005,#010005,#010005,#010005,#010005,#010005,#010005,#010005,#010005,#010005,#010005,#010005,#010005,#010005,#010005,#010005,#010005,#010005,#010005,#010005,#010005,#010106,#02020c,#010108,#010005,#010005,#010005,#010005,#02010a,#010106,#010005,#010005,#010005,#010005,#010005,#010005,#010005,#010005,#010005,#010005,#010005,#010005,#010005,#010005,#010005,#010005,#010108,#010005,#000004,#000004,#000004,#000004,#000004,#000004,#000004,#000004,#000004,#010005,#010005,#010005,#010106,#02010a,#02020e,#040314,#0e092b,#310a5c,#550f6d,#4a0c6b,#1f0c48,#110a30,#120a32,#320a5e,#69166e,#490b6a,#120a32,#0c0826,#120a32,#120a32,#0a0722,#0d0829,#4c0c6b,#6c186e,#3d0965,#160b39,#230c4c,#470b6a,#400a67,#190c3e,#120a32,#110a30,#120a32,#150b37,#110a30,#1e0c45,#3b0964,#510e6c,#5d126e,#3d0965,#160b39,#0e092b,#240c4f,#520e6d,#64156e,#380962,#0a0722,#0d0829,#400a67,#5f136e,#5a116e,#290b55,#110a30,#1c0c43,#320a5e,#540f6d,#721a6e,#540f6d,#280b53,#180c3c,#280b53,#4d0d6c,#59106e,#5f136e,#2d0b59,#140b34,#1e0c45,#420a68,#5c126e,#540f6d,#440a68,#210c4a,#290b55,#4d0d6c,#4f0d6c,#4a0c6b,#290b55,#120a32,#110a30,#0e092b,#0c0826,#0a0722,#07051b,#08051d,#0b0724,#10092d,#320a5e,#59106e,#4f0d6c,#260c51,#150b37,#120a32,#0e092b,#0e092b,#0d0829,#0e092b,#140b34,#320a5e,#6c186e,#5c126e,#110a30,#09061f,#0c0826,#0c0826,#110a30,#310a5c,#380962,#190c3e,#110a30,#0c0826,#0b0724,#1b0c41,#550f6d,#4d0d6c,#190c3e,#0c0826,#0d0829,#120a32,#3b0964,#6a176e,#4c0c6b,#1e0c45,#0a0722,#0a0722,#08051d,#120a32,#6f196e,#470b6a,#0c0826,#0c0826,#120a32,#290b55,#510e6c,#440a68,#1e0c45,#10092d,#120a32,#190c3e,#470b6a,#3d0965,#0e092b,#09061f,#07051b,#0a0722,#2d0b59,#08051d,#050417,#060419,#140b34,#2f0a5b,#61136e,#67166e,#1c0c43,#10092d,#09061f,#07051b,#1c0c43,#450a69,#1c0c43,#07051b,#040312,#02020e,#030210,#0a0722,#0c0826,#030210,#02020e,#02020e,#030210,#0a0722,#160b39,#08051d,#050417,#060419,#050417,#07051b,#140b34,#390963,#360961,#160b39,#08051d,#0a0722,#230c4c,#3e0966,#1c0c43,#0b0724,#10092d,#210c4a,#290b55,#3b0964,#2d0b59,#160b39,#1f0c48,#230c4c,#320a5e,#550f6d,#4f0d6c,#280b53,#160b39,#140b34,#190c3e,#360961,#520e6d,#470b6a,#2f0a5b,#150b37,#10092d,#280b53,#320a5e,#1c0c43,#150b37,#10092d,#0e092b,#1c0c43,#310a5c,#420a68,#390963,#1e0c45,#120a32,#110a30,#550f6d,#6f196e,#1b0c41,#0a0722,#0d0829,#180c3c,#190c3e,#310a5c,#490b6a,#2d0b59,#1e0c45,#150b37,#1c0c43,#3b0964,#470b6a,#380962,#230c4c,#0b0724,#040312,#010108,#000004,#000004,#000004,#000004,#000004,#000004)"></i><i style="top:78.56px;height:5.36px;width:744.2px;background:linear-gradient(90deg,#000004,#000004,#010108,#190c3e,#260c51,#160b39,#050417,#040314,#07051b,#0e092b,#260c51,#380962,#140b34,#08051d,#0c0826,#1e0c45,#360961,#2f0a5b,#140b34,#08051d,#040312,#040314,#010108,#010108,#010108,#010108,#010108,#010108,#010106,#010106,#010106,#010106,#010106,#010106,#02010a,#02010a,#010106,#010106,#010106,#010106,#010106,#010106,#010106,#010106,#010106,#010106,#010106,#010106,#010106,#010106,#010106,#010106,#010106,#010108,#040312,#02020e,#010106,#010106,#010106,#010108,#050417,#02020c,#010106,#010106,#010106,#010106,#010106,#010106,#010106,#010106,#010106,#010106,#010106,#010106,#010106,#010106,#010106,#010108,#030210,#010106,#010005,#000004,#000004,#000004,#000004,#000004,#000004,#010005,#010005,#010005,#010106,#010106,#010108,#02020c,#030210,#050417,#140b34,#390963,#5c126e,#520e6d,#280b53,#150b37,#180c3c,#3b0964,#71196e,#510e6c,#180c3c,#0e092b,#150b37,#150b37,#0b0724,#110a30,#550f6d,#741a6e,#450a69,#1c0c43,#2b0b57,#4f0d6c,#4a0c6b,#1f0c48,#150b37,#140b34,#160b39,#190c3e,#150b37,#240c4f,#450a69,#59106e,#65156e,#450a69,#1c0c43,#110a30,#2d0b59,#5a116e,#6c186e,#420a68,#0d0829,#10092d,#490b6a,#67166e,#62146e,#340a5f,#140b34,#230c4c,#3b0964,#5c126e,#7a1d6d,#5d126e,#310a5c,#1c0c43,#310a5c,#540f6d,#5f136e,#64156e,#340a5f,#160b39,#230c4c,#490b6a,#61136e,#59106e,#4c0c6b,#280b53,#320a5e,#550f6d,#59106e,#520e6d,#320a5e,#160b39,#160b39,#120a32,#10092d,#0d0829,#09061f,#0a0722,#0d0829,#150b37,#3e0966,#62146e,#59106e,#2f0a5b,#1b0c41,#160b39,#120a32,#120a32,#10092d,#110a30,#190c3e,#3b0964,#741a6e,#65156e,#150b37,#0b0724,#10092d,#10092d,#180c3c,#3d0965,#440a68,#210c4a,#180c3c,#10092d,#0e092b,#210c4a,#5d126e,#550f6d,#1f0c48,#10092d,#110a30,#180c3c,#470b6a,#71196e,#550f6d,#280b53,#0c0826,#0b0724,#0a0722,#160b39,#751b6e,#540f6d,#10092d,#10092d,#180c3c,#320a5e,#59106e,#4c0c6b,#260c51,#140b34,#160b39,#230c4c,#510e6c,#490b6a,#140b34,#0c0826,#08051d,#0e092b,#440a68,#0d0829,#060419,#08051d,#1b0c41,#3b0964,#69166e,#71196e,#240c4f,#140b34,#0b0724,#09061f,#280b53,#4f0d6c,#290b55,#0b0724,#040314,#040312,#040312,#0e092b,#150b37,#050417,#040312,#040312,#050417,#10092d,#1e0c45,#0d0829,#08051d,#08051d,#07051b,#0a0722,#1c0c43,#470b6a,#420a68,#1e0c45,#0a0722,#0d0829,#2b0b57,#470b6a,#210c4a,#0d0829,#150b37,#290b55,#320a5e,#440a68,#360961,#1b0c41,#280b53,#2b0b57,#3b0964,#5d126e,#57106e,#310a5c,#1b0c41,#190c3e,#1f0c48,#3e0966,#5a116e,#4f0d6c,#380962,#1b0c41,#140b34,#320a5e,#390963,#210c4a,#1c0c43,#140b34,#120a32,#230c4c,#380962,#4a0c6b,#420a68,#230c4c,#180c3c,#160b39,#5d126e,#771c6d,#210c4a,#0d0829,#110a30,#1e0c45,#1e0c45,#390963,#510e6c,#360961,#260c51,#1b0c41,#230c4c,#440a68,#4d0d6c,#3e0966,#2b0b57,#0e092b,#050417,#02010a,#000004,#000004,#000004,#000004,#000004,#000004)"></i><i style="top:82.93px;height:5.36px;width:744.2px;background:linear-gradient(90deg,#000004,#000004,#02010a,#1b0c41,#240c4f,#180c3c,#060419,#040314,#08051d,#110a30,#290b55,#3b0964,#180c3c,#0a0722,#0e092b,#240c4f,#3b0964,#340a5f,#180c3c,#09061f,#040314,#050417,#010108,#010108,#010108,#010108,#010108,#010108,#010108,#010108,#010108,#010108,#010108,#010108,#030210,#040312,#010108,#010108,#010108,#010108,#010108,#010108,#010108,#010108,#010108,#010108,#010108,#010108,#010108,#010108,#010108,#010108,#010108,#02020c,#060419,#040312,#02010a,#010108,#010108,#02010a,#09061f,#040312,#010108,#010108,#010108,#010108,#010108,#010108,#010108,#010108,#010108,#010108,#010108,#010108,#010108,#010108,#010108,#02010a,#040314,#010108,#010005,#010005,#000004,#000004,#000004,#000004,#010005,#010005,#010005,#010106,#010106,#010108,#02010a,#02020e,#040312,#07051b,#190c3e,#420a68,#64156e,#5a116e,#310a5c,#1b0c41,#1c0c43,#450a69,#771c6d,#5a116e,#1c0c43,#120a32,#190c3e,#190c3e,#0d0829,#150b37,#5d126e,#7c1d6d,#4f0d6c,#240c4f,#360961,#57106e,#520e6d,#280b53,#1b0c41,#180c3c,#1b0c41,#1e0c45,#190c3e,#2d0b59,#4d0d6c,#62146e,#6d186e,#4d0d6c,#210c4a,#150b37,#380962,#64156e,#741a6e,#4c0c6b,#10092d,#140b34,#520e6d,#6f196e,#6c186e,#400a67,#180c3c,#2b0b57,#450a69,#65156e,#84206b,#65156e,#390963,#230c4c,#390963,#5c126e,#65156e,#6a176e,#3b0964,#190c3e,#280b53,#4d0d6c,#67166e,#5f136e,#520e6d,#310a5c,#390963,#5f136e,#61136e,#5c126e,#3d0965,#1b0c41,#1c0c43,#160b39,#140b34,#120a32,#0c0826,#0c0826,#110a30,#1c0c43,#490b6a,#6c186e,#62146e,#390963,#210c4a,#1b0c41,#150b37,#150b37,#120a32,#150b37,#1f0c48,#450a69,#7d1e6d,#6d186e,#190c3e,#0e092b,#120a32,#140b34,#1f0c48,#4a0c6b,#510e6c,#2d0b59,#1f0c48,#140b34,#120a32,#280b53,#65156e,#5d126e,#260c51,#140b34,#150b37,#1e0c45,#510e6c,#781c6d,#5d126e,#310a5c,#10092d,#0d0829,#0c0826,#1b0c41,#7d1e6d,#5f136e,#150b37,#140b34,#1c0c43,#3b0964,#61136e,#540f6d,#2d0b59,#190c3e,#1b0c41,#2d0b59,#59106e,#520e6d,#190c3e,#0e092b,#0a0722,#150b37,#4f0d6c,#160b39,#08051d,#0a0722,#230c4c,#450a69,#721a6e,#781c6d,#2f0a5b,#160b39,#0d0829,#0a0722,#340a5f,#57106e,#3b0964,#110a30,#060419,#050417,#050417,#140b34,#210c4a,#08051d,#050417,#050417,#08051d,#160b39,#280b53,#140b34,#0c0826,#0b0724,#0a0722,#0d0829,#260c51,#520e6d,#4d0d6c,#260c51,#0d0829,#110a30,#360961,#510e6c,#290b55,#110a30,#190c3e,#310a5c,#3b0964,#4c0c6b,#3e0966,#1f0c48,#310a5c,#360961,#440a68,#65156e,#5f136e,#390963,#230c4c,#1e0c45,#260c51,#490b6a,#62146e,#57106e,#420a68,#210c4a,#190c3e,#3d0965,#420a68,#2b0b57,#240c4f,#180c3c,#160b39,#290b55,#400a67,#520e6d,#4a0c6b,#2b0b57,#1c0c43,#1b0c41,#67166e,#7d1e6d,#290b55,#10092d,#150b37,#240c4f,#260c51,#400a67,#57106e,#3e0966,#2f0a5b,#210c4a,#290b55,#4c0c6b,#550f6d,#470b6a,#320a5e,#120a32,#08051d,#030210,#010106,#000004,#000004,#000004,#000004,#000004)"></i><i style="top:87.29px;height:5.36px;width:744.2px;background:linear-gradient(90deg,#000004,#000004,#040312,#230c4c,#2b0b57,#1e0c45,#08051d,#050417,#0b0724,#180c3c,#320a5e,#440a68,#1e0c45,#0d0829,#140b34,#2d0b59,#440a68,#3d0965,#1e0c45,#0c0826,#040314,#060419,#010108,#010108,#010108,#010108,#010108,#010108,#010108,#010108,#010108,#010108,#010108,#02010a,#050417,#07051b,#02010a,#010108,#010108,#010108,#010108,#010108,#010108,#010108,#010108,#010108,#010108,#010108,#010108,#010108,#010108,#010108,#02010a,#040312,#0b0724,#07051b,#02020e,#010108,#010108,#02020e,#10092d,#08051d,#02010a,#010108,#010108,#010108,#010108,#010108,#010108,#010108,#010108,#010108,#010108,#010108,#010108,#010108,#02010a,#030210,#07051b,#02020c,#010106,#010106,#010005,#010005,#010005,#010005,#010106,#010106,#010108,#010108,#02010a,#02010a,#02020c,#030210,#040314,#08051d,#1e0c45,#470b6a,#67166e,#61136e,#380962,#1f0c48,#210c4a,#4a0c6b,#7c1d6d,#61136e,#210c4a,#140b34,#1c0c43,#1c0c43,#10092d,#190c3e,#65156e,#82206c,#57106e,#2b0b57,#3e0966,#5f136e,#5c126e,#2f0a5b,#1f0c48,#1b0c41,#1e0c45,#230c4c,#1c0c43,#340a5f,#540f6d,#67166e,#751b6e,#550f6d,#280b53,#190c3e,#400a67,#6c186e,#7c1d6d,#540f6d,#120a32,#180c3c,#59106e,#741a6e,#71196e,#490b6a,#1c0c43,#310a5c,#4a0c6b,#69166e,#88226a,#6c186e,#400a67,#280b53,#420a68,#62146e,#6c186e,#71196e,#440a68,#1e0c45,#310a5c,#57106e,#6d186e,#67166e,#5a116e,#380962,#400a67,#64156e,#65156e,#62146e,#440a68,#1f0c48,#230c4c,#1b0c41,#160b39,#150b37,#0d0829,#0e092b,#150b37,#230c4c,#520e6d,#741a6e,#6a176e,#440a68,#290b55,#1f0c48,#190c3e,#180c3c,#160b39,#190c3e,#260c51,#4d0d6c,#85216b,#771c6d,#210c4a,#110a30,#160b39,#160b39,#280b53,#540f6d,#59106e,#380962,#280b53,#180c3c,#180c3c,#310a5c,#6d186e,#65156e,#2f0a5b,#180c3c,#180c3c,#240c4f,#59106e,#7f1e6c,#64156e,#380962,#110a30,#0e092b,#0e092b,#230c4c,#84206b,#67166e,#190c3e,#180c3c,#230c4c,#440a68,#69166e,#5c126e,#360961,#1e0c45,#1f0c48,#390963,#62146e,#5c126e,#210c4a,#120a32,#0c0826,#1c0c43,#57106e,#1e0c45,#09061f,#0c0826,#290b55,#4c0c6b,#771c6d,#7d1e6d,#340a5f,#190c3e,#0e092b,#0c0826,#3e0966,#5d126e,#470b6a,#160b39,#07051b,#060419,#08051d,#180c3c,#2b0b57,#0b0724,#060419,#060419,#0a0722,#1c0c43,#2f0a5b,#190c3e,#10092d,#0e092b,#0c0826,#10092d,#2f0a5b,#5a116e,#550f6d,#310a5c,#110a30,#160b39,#3e0966,#59106e,#340a5f,#150b37,#1f0c48,#390963,#420a68,#520e6d,#450a69,#260c51,#380962,#3e0966,#4a0c6b,#6a176e,#64156e,#400a67,#280b53,#230c4c,#2b0b57,#4d0d6c,#67166e,#5c126e,#470b6a,#260c51,#1e0c45,#420a68,#450a69,#310a5c,#2b0b57,#1b0c41,#190c3e,#2f0a5b,#450a69,#550f6d,#4d0d6c,#310a5c,#1f0c48,#210c4a,#6c186e,#82206c,#310a5c,#120a32,#190c3e,#290b55,#2b0b57,#450a69,#5c126e,#440a68,#360961,#260c51,#2f0a5b,#520e6d,#5a116e,#4c0c6b,#390963,#180c3c,#0b0724,#040314,#02010a,#000004,#000004,#000004,#000004,#000004)"></i><i style="top:91.66px;height:5.36px;width:744.2px;background:linear-gradient(90deg,#000004,#000004,#07051b,#2b0b57,#340a5f,#260c51,#0a0722,#07051b,#0e092b,#1e0c45,#3b0964,#4a0c6b,#240c4f,#10092d,#190c3e,#360961,#4a0c6b,#450a69,#260c51,#10092d,#050417,#07051b,#010108,#010108,#010108,#010108,#010108,#010108,#010108,#010108,#010108,#010108,#010108,#02010a,#08051d,#0a0722,#02020c,#010108,#010108,#010108,#010108,#010108,#010108,#010108,#010108,#010108,#010108,#010108,#010108,#010108,#010108,#010108,#02010a,#07051b,#110a30,#0b0724,#030210,#010108,#02010a,#040314,#180c3c,#0d0829,#02020c,#010108,#010108,#010108,#010108,#010108,#010108,#010108,#010108,#010108,#010108,#010108,#010108,#010108,#02010a,#040314,#0b0724,#040312,#02010a,#010108,#010108,#010106,#010106,#010106,#010108,#010108,#010108,#010108,#02020c,#02020c,#02020e,#040314,#060419,#0a0722,#240c4f,#4d0d6c,#6c186e,#65156e,#3e0966,#230c4c,#260c51,#4f0d6c,#7f1e6c,#65156e,#260c51,#160b39,#1f0c48,#1f0c48,#120a32,#1e0c45,#6d186e,#8a226a,#61136e,#360961,#490b6a,#67166e,#64156e,#380962,#240c4f,#1e0c45,#210c4a,#260c51,#1f0c48,#3b0964,#5a116e,#6d186e,#7c1d6d,#5d126e,#2f0a5b,#1f0c48,#4a0c6b,#741a6e,#84206b,#5c126e,#150b37,#1b0c41,#5f136e,#771c6d,#751b6e,#510e6c,#1f0c48,#360961,#510e6c,#6d186e,#8c2369,#721a6e,#470b6a,#2d0b59,#4a0c6b,#6a176e,#721a6e,#781c6d,#4c0c6b,#260c51,#390963,#5f136e,#751b6e,#6f196e,#62146e,#400a67,#470b6a,#6a176e,#6a176e,#67166e,#4a0c6b,#260c51,#280b53,#1f0c48,#1b0c41,#190c3e,#10092d,#110a30,#190c3e,#2b0b57,#5c126e,#7d1e6d,#741a6e,#4d0d6c,#320a5e,#260c51,#1c0c43,#1c0c43,#190c3e,#1e0c45,#2f0a5b,#57106e,#8f2469,#801f6c,#290b55,#140b34,#1b0c41,#1b0c41,#310a5c,#5d126e,#62146e,#420a68,#320a5e,#1c0c43,#1c0c43,#3b0964,#771c6d,#6d186e,#380962,#1c0c43,#1c0c43,#2d0b59,#61136e,#84206b,#69166e,#400a67,#140b34,#10092d,#110a30,#2b0b57,#8a226a,#6f196e,#210c4a,#1c0c43,#290b55,#4d0d6c,#71196e,#65156e,#3e0966,#240c4f,#260c51,#470b6a,#6d186e,#65156e,#2b0b57,#160b39,#10092d,#240c4f,#5f136e,#290b55,#0b0724,#0e092b,#320a5e,#520e6d,#7d1e6d,#82206c,#390963,#1c0c43,#110a30,#0e092b,#470b6a,#62146e,#540f6d,#1c0c43,#08051d,#07051b,#0a0722,#1c0c43,#360961,#10092d,#07051b,#08051d,#0d0829,#230c4c,#380962,#1f0c48,#140b34,#110a30,#0e092b,#140b34,#390963,#64156e,#5d126e,#390963,#150b37,#1b0c41,#490b6a,#61136e,#3d0965,#1b0c41,#260c51,#400a67,#4a0c6b,#57106e,#4a0c6b,#2d0b59,#3e0966,#450a69,#510e6c,#6f196e,#69166e,#450a69,#2f0a5b,#280b53,#310a5c,#520e6d,#6a176e,#5f136e,#4c0c6b,#2b0b57,#230c4c,#470b6a,#490b6a,#340a5f,#320a5e,#1f0c48,#1c0c43,#340a5f,#4a0c6b,#59106e,#520e6d,#360961,#240c4f,#260c51,#71196e,#85216b,#360961,#150b37,#1c0c43,#2d0b59,#310a5c,#490b6a,#5f136e,#490b6a,#3d0965,#2d0b59,#340a5f,#57106e,#5d126e,#510e6c,#400a67,#1c0c43,#0d0829,#060419,#02020e,#010005,#010106,#000004,#000004,#000004)"></i><i style="top:96.02px;height:5.36px;width:744.2px;background:linear-gradient(90deg,#000004,#000004,#0b0724,#340a5f,#3d0965,#2d0b59,#0c0826,#08051d,#140b34,#280b53,#440a68,#520e6d,#2b0b57,#150b37,#210c4a,#400a67,#520e6d,#4d0d6c,#2d0b59,#140b34,#060419,#09061f,#010108,#010108,#010108,#010108,#010108,#010108,#010108,#010108,#010108,#010108,#010108,#02020c,#0c0826,#0e092b,#030210,#010108,#010108,#010108,#010108,#010108,#010108,#010108,#010108,#010108,#010108,#010108,#010108,#010108,#010108,#010108,#02010a,#0a0722,#180c3c,#110a30,#040312,#02010a,#02010a,#07051b,#210c4a,#150b37,#02020e,#010108,#010108,#010108,#010108,#010108,#010108,#010108,#010108,#010108,#010108,#010108,#010108,#010108,#02010a,#08051d,#10092d,#060419,#02020c,#010108,#010108,#010108,#010108,#010108,#010108,#010108,#010108,#010108,#02020e,#030210,#040312,#050417,#07051b,#0c0826,#2b0b57,#520e6d,#71196e,#6a176e,#440a68,#280b53,#2b0b57,#540f6d,#84206b,#6a176e,#2b0b57,#190c3e,#230c4c,#240c4f,#140b34,#230c4c,#751b6e,#902568,#69166e,#3e0966,#540f6d,#6f196e,#6c186e,#400a67,#2b0b57,#210c4a,#240c4f,#2b0b57,#240c4f,#420a68,#61136e,#741a6e,#84206b,#65156e,#380962,#260c51,#540f6d,#7d1e6d,#8c2369,#65156e,#190c3e,#210c4a,#65156e,#7c1d6d,#7a1d6d,#550f6d,#240c4f,#3d0965,#550f6d,#721a6e,#902568,#771c6d,#4d0d6c,#340a5f,#510e6c,#721a6e,#7a1d6d,#7f1e6c,#550f6d,#2f0a5b,#420a68,#69166e,#7d1e6d,#751b6e,#6a176e,#490b6a,#4d0d6c,#71196e,#6f196e,#6c186e,#510e6c,#2d0b59,#2f0a5b,#240c4f,#1f0c48,#1e0c45,#120a32,#140b34,#1f0c48,#340a5f,#64156e,#85216b,#7d1e6d,#57106e,#3d0965,#2d0b59,#210c4a,#210c4a,#1e0c45,#240c4f,#390963,#62146e,#972766,#8a226a,#340a5f,#180c3c,#1f0c48,#210c4a,#390963,#69166e,#6c186e,#4d0d6c,#3d0965,#230c4c,#230c4c,#450a69,#7f1e6c,#771c6d,#400a67,#230c4c,#210c4a,#360961,#67166e,#88226a,#6f196e,#450a69,#160b39,#120a32,#140b34,#340a5f,#922568,#781c6d,#280b53,#230c4c,#320a5e,#550f6d,#7a1d6d,#6f196e,#490b6a,#2b0b57,#2d0b59,#510e6c,#771c6d,#6f196e,#360961,#1b0c41,#140b34,#2f0a5b,#67166e,#340a5f,#0d0829,#110a30,#390963,#59106e,#82206c,#87216b,#400a67,#230c4c,#120a32,#110a30,#4d0d6c,#69166e,#5d126e,#240c4f,#09061f,#09061f,#0c0826,#230c4c,#3e0966,#150b37,#09061f,#09061f,#110a30,#290b55,#400a67,#260c51,#190c3e,#150b37,#110a30,#190c3e,#440a68,#6c186e,#67166e,#440a68,#190c3e,#210c4a,#520e6d,#69166e,#470b6a,#1f0c48,#2d0b59,#490b6a,#510e6c,#5d126e,#510e6c,#320a5e,#470b6a,#4d0d6c,#550f6d,#721a6e,#6d186e,#4c0c6b,#340a5f,#2d0b59,#360961,#57106e,#6d186e,#64156e,#510e6c,#320a5e,#290b55,#4d0d6c,#4c0c6b,#390963,#390963,#230c4c,#1f0c48,#390963,#4d0d6c,#5d126e,#57106e,#3d0965,#290b55,#2b0b57,#751b6e,#88226a,#3b0964,#180c3c,#1f0c48,#320a5e,#340a5f,#4c0c6b,#62146e,#4d0d6c,#440a68,#320a5e,#390963,#5c126e,#62146e,#550f6d,#470b6a,#210c4a,#120a32,#08051d,#040312,#02010a,#02020c,#010106,#000004,#000004)"></i><i style="top:100.39px;height:5.36px;width:744.2px;background:linear-gradient(90deg,#000004,#000004,#110a30,#3e0966,#440a68,#360961,#0e092b,#0a0722,#180c3c,#310a5c,#4c0c6b,#5a116e,#340a5f,#190c3e,#280b53,#490b6a,#5a116e,#550f6d,#380962,#180c3c,#07051b,#0a0722,#010108,#010108,#010108,#010108,#010108,#010108,#010108,#010108,#010108,#010108,#010108,#030210,#10092d,#120a32,#040312,#010108,#010108,#010108,#010108,#010108,#010108,#010108,#010108,#010108,#010108,#010108,#010108,#010108,#010108,#010108,#02020c,#0c0826,#210c4a,#180c3c,#050417,#02010a,#02010a,#0a0722,#2b0b57,#1c0c43,#040312,#010108,#010108,#010108,#010108,#010108,#010108,#010108,#010108,#010108,#010108,#010108,#010108,#010108,#02020c,#0b0724,#150b37,#09061f,#02020e,#010108,#010108,#010108,#010108,#010108,#010108,#010108,#010108,#010108,#040312,#040312,#040314,#07051b,#09061f,#0e092b,#310a5c,#57106e,#751b6e,#6f196e,#4a0c6b,#2d0b59,#320a5e,#5a116e,#87216b,#71196e,#320a5e,#1e0c45,#280b53,#280b53,#160b39,#2b0b57,#7d1e6d,#982766,#721a6e,#490b6a,#5d126e,#781c6d,#751b6e,#4a0c6b,#320a5e,#260c51,#290b55,#310a5c,#290b55,#490b6a,#67166e,#7a1d6d,#8a226a,#6d186e,#400a67,#2d0b59,#5f136e,#85216b,#932667,#6d186e,#1e0c45,#280b53,#6c186e,#801f6c,#7f1e6c,#5c126e,#280b53,#420a68,#5a116e,#771c6d,#952667,#7d1e6d,#540f6d,#390963,#57106e,#781c6d,#801f6c,#87216b,#5d126e,#390963,#4c0c6b,#71196e,#85216b,#7d1e6d,#721a6e,#4f0d6c,#550f6d,#771c6d,#741a6e,#71196e,#57106e,#340a5f,#360961,#2b0b57,#240c4f,#230c4c,#150b37,#160b39,#240c4f,#3d0965,#6f196e,#8f2469,#87216b,#61136e,#470b6a,#340a5f,#260c51,#260c51,#230c4c,#2b0b57,#420a68,#6c186e,#a02a63,#932667,#3e0966,#1c0c43,#240c4f,#280b53,#440a68,#721a6e,#741a6e,#57106e,#450a69,#290b55,#290b55,#4f0d6c,#88226a,#7f1e6c,#4a0c6b,#290b55,#280b53,#3e0966,#6f196e,#8d2369,#741a6e,#4c0c6b,#1b0c41,#140b34,#180c3c,#3d0965,#982766,#801f6c,#310a5c,#290b55,#3b0964,#5f136e,#82206c,#771c6d,#520e6d,#340a5f,#360961,#5c126e,#801f6c,#781c6d,#400a67,#1f0c48,#180c3c,#390963,#6f196e,#400a67,#10092d,#140b34,#420a68,#5f136e,#88226a,#8d2369,#450a69,#280b53,#150b37,#140b34,#550f6d,#6d186e,#65156e,#2f0a5b,#0b0724,#0a0722,#10092d,#2b0b57,#490b6a,#1c0c43,#0b0724,#0b0724,#160b39,#310a5c,#470b6a,#2f0a5b,#210c4a,#190c3e,#140b34,#1e0c45,#4c0c6b,#751b6e,#6f196e,#4c0c6b,#1e0c45,#280b53,#5c126e,#721a6e,#510e6c,#280b53,#340a5f,#510e6c,#59106e,#64156e,#57106e,#390963,#4f0d6c,#550f6d,#5a116e,#751b6e,#71196e,#510e6c,#3b0964,#320a5e,#3b0964,#5c126e,#721a6e,#69166e,#550f6d,#380962,#2f0a5b,#520e6d,#4f0d6c,#3e0966,#420a68,#280b53,#230c4c,#3e0966,#520e6d,#61136e,#5a116e,#420a68,#2d0b59,#310a5c,#7a1d6d,#8c2369,#400a67,#1b0c41,#240c4f,#380962,#390963,#4f0d6c,#67166e,#520e6d,#490b6a,#380962,#400a67,#61136e,#67166e,#5a116e,#4c0c6b,#280b53,#160b39,#0b0724,#050417,#02020e,#040312,#02020c,#000004,#000004)"></i><i style="top:104.75px;height:5.36px;width:744.2px;background:linear-gradient(90deg,#000004,#010106,#180c3c,#470b6a,#4c0c6b,#400a67,#120a32,#0c0826,#1f0c48,#3b0964,#550f6d,#62146e,#3d0965,#1f0c48,#320a5e,#510e6c,#62146e,#5d126e,#400a67,#1e0c45,#08051d,#0c0826,#010108,#010108,#010108,#010108,#010108,#010108,#010108,#010108,#010108,#010108,#010108,#040312,#1b0c41,#1e0c45,#050417,#02010a,#010108,#010108,#010108,#010108,#010108,#010108,#010108,#010108,#010108,#010108,#010108,#010108,#010108,#010108,#02020e,#0e092b,#2f0a5b,#210c4a,#060419,#02010a,#02020c,#0c0826,#2f0a5b,#1f0c48,#040314,#02010a,#010108,#010108,#010108,#010108,#010108,#010108,#010108,#010108,#010108,#010108,#010108,#010108,#02020e,#140b34,#210c4a,#110a30,#030210,#010108,#010108,#010108,#010108,#010108,#010108,#010108,#010108,#010108,#060419,#060419,#07051b,#0a0722,#0c0826,#140b34,#3d0965,#61136e,#7d1e6d,#771c6d,#520e6d,#360961,#3b0964,#61136e,#8f2469,#781c6d,#3b0964,#230c4c,#2d0b59,#2f0a5b,#1b0c41,#340a5f,#87216b,#a02a63,#7c1d6d,#520e6d,#67166e,#82206c,#7f1e6c,#540f6d,#390963,#2b0b57,#2f0a5b,#380962,#320a5e,#510e6c,#6f196e,#82206c,#922568,#751b6e,#470b6a,#340a5f,#67166e,#8d2369,#9a2865,#751b6e,#240c4f,#310a5c,#741a6e,#87216b,#87216b,#64156e,#2f0a5b,#4a0c6b,#62146e,#7d1e6d,#9d2964,#85216b,#5c126e,#420a68,#5f136e,#82206c,#8a226a,#902568,#67166e,#440a68,#550f6d,#7c1d6d,#8f2469,#87216b,#7c1d6d,#57106e,#5d126e,#7f1e6c,#7c1d6d,#781c6d,#5f136e,#3d0965,#3e0966,#310a5c,#290b55,#260c51,#180c3c,#190c3e,#2b0b57,#450a69,#771c6d,#982766,#902568,#6a176e,#4f0d6c,#3b0964,#2b0b57,#2b0b57,#280b53,#320a5e,#4a0c6b,#741a6e,#a82e5f,#9b2964,#490b6a,#240c4f,#290b55,#2f0a5b,#4d0d6c,#7d1e6d,#7f1e6c,#62146e,#510e6c,#320a5e,#340a5f,#59106e,#902568,#88226a,#540f6d,#320a5e,#2f0a5b,#470b6a,#771c6d,#952667,#7c1d6d,#550f6d,#1f0c48,#180c3c,#1c0c43,#470b6a,#a02a63,#8a226a,#3b0964,#320a5e,#450a69,#69166e,#8c2369,#801f6c,#5c126e,#3d0965,#400a67,#67166e,#8a226a,#82206c,#4a0c6b,#260c51,#1c0c43,#450a69,#781c6d,#4a0c6b,#140b34,#180c3c,#4a0c6b,#67166e,#902568,#932667,#4d0d6c,#2f0a5b,#180c3c,#180c3c,#5d126e,#751b6e,#6d186e,#390963,#0d0829,#0c0826,#140b34,#340a5f,#510e6c,#240c4f,#0d0829,#0d0829,#1c0c43,#390963,#510e6c,#380962,#280b53,#1e0c45,#180c3c,#240c4f,#550f6d,#7f1e6c,#781c6d,#550f6d,#240c4f,#320a5e,#65156e,#7c1d6d,#5a116e,#310a5c,#3d0965,#59106e,#61136e,#6c186e,#5f136e,#420a68,#57106e,#5c126e,#62146e,#7d1e6d,#781c6d,#59106e,#440a68,#3b0964,#440a68,#64156e,#781c6d,#71196e,#5f136e,#400a67,#390963,#5c126e,#59106e,#490b6a,#4c0c6b,#310a5c,#290b55,#470b6a,#5a116e,#69166e,#62146e,#4a0c6b,#340a5f,#390963,#84206b,#952667,#4a0c6b,#210c4a,#2b0b57,#420a68,#440a68,#59106e,#6f196e,#5a116e,#510e6c,#420a68,#470b6a,#67166e,#6d186e,#62146e,#540f6d,#310a5c,#1c0c43,#0e092b,#08051d,#040314,#07051b,#040314,#000004,#000004)"></i><i style="top:109.11px;height:5.36px;width:744.2px;background:linear-gradient(90deg,#000004,#02020c,#210c4a,#4f0d6c,#540f6d,#490b6a,#150b37,#0e092b,#260c51,#450a69,#5d126e,#6c186e,#450a69,#260c51,#3b0964,#5a116e,#6c186e,#65156e,#490b6a,#240c4f,#09061f,#0e092b,#010108,#010108,#010108,#010108,#010108,#010108,#010108,#010108,#010108,#010108,#02010a,#050417,#230c4c,#290b55,#07051b,#02010a,#010108,#010108,#010108,#010108,#010108,#010108,#010108,#010108,#010108,#010108,#010108,#010108,#010108,#02010a,#030210,#110a30,#2f0a5b,#230c4c,#08051d,#02010a,#02020c,#0e092b,#2f0a5b,#210c4a,#060419,#02010a,#010108,#010108,#010108,#010108,#010108,#010108,#010108,#010108,#010108,#010108,#010108,#02010a,#030210,#150b37,#320a5e,#180c3c,#040312,#02010a,#010108,#010108,#010108,#010108,#010108,#010108,#010108,#010108,#0a0722,#0b0724,#0c0826,#0e092b,#110a30,#1b0c41,#4a0c6b,#6d186e,#88226a,#82206c,#5c126e,#3e0966,#450a69,#6c186e,#982766,#82206c,#450a69,#290b55,#340a5f,#360961,#1f0c48,#400a67,#922568,#ab2f5e,#87216b,#5c126e,#721a6e,#8c2369,#8a226a,#5f136e,#440a68,#320a5e,#360961,#400a67,#3d0965,#5a116e,#781c6d,#8a226a,#9a2865,#7c1d6d,#4f0d6c,#3b0964,#6d186e,#922568,#a02a63,#7d1e6d,#2d0b59,#390963,#7d1e6d,#902568,#922568,#6d186e,#380962,#540f6d,#6d186e,#88226a,#a62d60,#902568,#65156e,#4a0c6b,#69166e,#8d2369,#952667,#9b2964,#721a6e,#4d0d6c,#5f136e,#87216b,#982766,#922568,#85216b,#61136e,#67166e,#8a226a,#87216b,#82206c,#69166e,#450a69,#450a69,#360961,#2d0b59,#290b55,#190c3e,#1c0c43,#310a5c,#4d0d6c,#801f6c,#a02a63,#9a2865,#751b6e,#57106e,#440a68,#320a5e,#310a5c,#2d0b59,#390963,#520e6d,#7a1d6d,#ad305d,#a22b62,#510e6c,#2b0b57,#310a5c,#360961,#57106e,#88226a,#88226a,#6c186e,#5a116e,#3b0964,#3e0966,#64156e,#9b2964,#932667,#5d126e,#3b0964,#380962,#510e6c,#82206c,#9f2a63,#85216b,#5f136e,#240c4f,#1b0c41,#240c4f,#520e6d,#a92e5e,#952667,#450a69,#3b0964,#4f0d6c,#721a6e,#952667,#8c2369,#65156e,#470b6a,#4a0c6b,#721a6e,#952667,#8d2369,#550f6d,#2f0a5b,#230c4c,#510e6c,#82206c,#550f6d,#180c3c,#1c0c43,#520e6d,#71196e,#9a2865,#9d2964,#57106e,#390963,#1c0c43,#1c0c43,#69166e,#7f1e6c,#781c6d,#470b6a,#10092d,#10092d,#190c3e,#3d0965,#5a116e,#2f0a5b,#10092d,#110a30,#230c4c,#440a68,#59106e,#420a68,#320a5e,#240c4f,#1c0c43,#2d0b59,#5f136e,#88226a,#82206c,#61136e,#2d0b59,#3d0965,#6f196e,#85216b,#64156e,#3b0964,#450a69,#62146e,#6a176e,#751b6e,#69166e,#4c0c6b,#5f136e,#65156e,#6d186e,#87216b,#82206c,#62146e,#4c0c6b,#440a68,#4d0d6c,#6d186e,#84206b,#7c1d6d,#6a176e,#4a0c6b,#440a68,#69166e,#67166e,#57106e,#59106e,#3b0964,#340a5f,#520e6d,#65156e,#741a6e,#6d186e,#540f6d,#3e0966,#450a69,#8f2469,#a02a63,#57106e,#2f0a5b,#380962,#4d0d6c,#510e6c,#65156e,#7c1d6d,#67166e,#5a116e,#4c0c6b,#510e6c,#721a6e,#771c6d,#6c186e,#5d126e,#390963,#230c4c,#140b34,#0b0724,#07051b,#0a0722,#07051b,#010005,#000004)"></i><i style="top:113.48px;height:5.36px;width:744.2px;background:linear-gradient(90deg,#000004,#040314,#2b0b57,#59106e,#5c126e,#510e6c,#190c3e,#110a30,#2f0a5b,#4f0d6c,#67166e,#741a6e,#4f0d6c,#2d0b59,#450a69,#62146e,#741a6e,#6f196e,#520e6d,#2b0b57,#0a0722,#110a30,#010108,#010108,#010108,#010108,#010108,#010108,#010108,#010108,#010108,#010108,#02010a,#060419,#240c4f,#2b0b57,#09061f,#02010a,#010108,#010108,#010108,#010108,#010108,#010108,#010108,#010108,#010108,#010108,#010108,#010108,#010108,#02010a,#040312,#140b34,#2f0a5b,#240c4f,#09061f,#02020c,#02020e,#10092d,#2f0a5b,#230c4c,#07051b,#02010a,#010108,#010108,#010108,#010108,#010108,#010108,#010108,#010108,#010108,#010108,#010108,#02010a,#040312,#180c3c,#320a5e,#1b0c41,#040314,#02010a,#010108,#010108,#010108,#010108,#010108,#010108,#010108,#010108,#0e092b,#10092d,#120a32,#150b37,#160b39,#230c4c,#550f6d,#7a1d6d,#952667,#8d2369,#65156e,#470b6a,#4f0d6c,#751b6e,#a22b62,#8c2369,#4f0d6c,#310a5c,#3d0965,#3e0966,#280b53,#4a0c6b,#9b2964,#b43359,#922568,#67166e,#7d1e6d,#972766,#952667,#6a176e,#4c0c6b,#3b0964,#3e0966,#490b6a,#450a69,#65156e,#82206c,#922568,#a02a63,#84206b,#550f6d,#420a68,#741a6e,#982766,#a62d60,#85216b,#360961,#440a68,#85216b,#9a2865,#9b2964,#781c6d,#400a67,#5d126e,#771c6d,#922568,#b1325a,#9b2964,#6f196e,#520e6d,#741a6e,#982766,#a02a63,#a52c60,#7d1e6d,#59106e,#6a176e,#902568,#a32c61,#9b2964,#902568,#6a176e,#721a6e,#952667,#902568,#8c2369,#721a6e,#4d0d6c,#4c0c6b,#3d0965,#310a5c,#2d0b59,#1c0c43,#1f0c48,#380962,#550f6d,#88226a,#a92e5e,#a52c60,#801f6c,#61136e,#4c0c6b,#380962,#360961,#320a5e,#3e0966,#59106e,#7f1e6c,#b1325a,#a82e5f,#59106e,#340a5f,#380962,#3d0965,#62146e,#932667,#932667,#781c6d,#65156e,#440a68,#490b6a,#6d186e,#a52c60,#9d2964,#67166e,#440a68,#400a67,#5a116e,#8c2369,#a92e5e,#902568,#69166e,#2d0b59,#1f0c48,#2f0a5b,#5d126e,#b43359,#a02a63,#4f0d6c,#440a68,#59106e,#7d1e6d,#a02a63,#952667,#71196e,#510e6c,#520e6d,#7f1e6c,#a02a63,#982766,#61136e,#380962,#2b0b57,#5c126e,#8c2369,#5f136e,#1c0c43,#210c4a,#5a116e,#7a1d6d,#a32c61,#a62d60,#61136e,#440a68,#240c4f,#240c4f,#721a6e,#87216b,#82206c,#540f6d,#120a32,#120a32,#1e0c45,#470b6a,#62146e,#390963,#120a32,#150b37,#290b55,#4c0c6b,#62146e,#4c0c6b,#3d0965,#2b0b57,#210c4a,#360961,#6a176e,#922568,#8d2369,#6a176e,#380962,#470b6a,#7a1d6d,#8f2469,#6f196e,#470b6a,#4f0d6c,#6c186e,#741a6e,#801f6c,#741a6e,#550f6d,#67166e,#6f196e,#771c6d,#922568,#8d2369,#6d186e,#550f6d,#4c0c6b,#57106e,#781c6d,#8f2469,#87216b,#751b6e,#550f6d,#4f0d6c,#771c6d,#771c6d,#67166e,#65156e,#470b6a,#400a67,#5d126e,#721a6e,#7f1e6c,#771c6d,#5d126e,#490b6a,#4f0d6c,#9b2964,#ad305d,#64156e,#3b0964,#420a68,#5a116e,#5f136e,#741a6e,#8a226a,#721a6e,#65156e,#540f6d,#5c126e,#7c1d6d,#82206c,#751b6e,#67166e,#420a68,#2b0b57,#190c3e,#10092d,#0a0722,#0e092b,#0b0724,#010108,#010005)"></i><i style="top:117.84px;height:5.36px;width:744.2px;background:linear-gradient(90deg,#000004,#09061f,#360961,#61136e,#65156e,#59106e,#1f0c48,#140b34,#390963,#57106e,#6f196e,#7d1e6d,#59106e,#380962,#4d0d6c,#6c186e,#7d1e6d,#781c6d,#5a116e,#320a5e,#0c0826,#140b34,#010108,#010108,#010108,#010108,#010108,#010108,#010108,#010108,#010108,#010108,#02010a,#08051d,#260c51,#2b0b57,#0b0724,#02020c,#010108,#010108,#010108,#010108,#010108,#010108,#010108,#010108,#010108,#010108,#010108,#010108,#010108,#02010a,#040314,#150b37,#310a5c,#260c51,#0b0724,#02020e,#030210,#120a32,#2f0a5b,#240c4f,#09061f,#02020c,#010108,#010108,#010108,#010108,#010108,#010108,#010108,#010108,#010108,#010108,#010108,#02010a,#040314,#190c3e,#320a5e,#1c0c43,#050417,#02010a,#010108,#010108,#010108,#010108,#010108,#010108,#010108,#010108,#150b37,#160b39,#190c3e,#1c0c43,#1e0c45,#2d0b59,#64156e,#87216b,#a22b62,#982766,#6f196e,#510e6c,#5a116e,#801f6c,#ab2f5e,#972766,#59106e,#390963,#450a69,#470b6a,#310a5c,#550f6d,#a62d60,#bf3952,#9d2964,#721a6e,#8a226a,#a22b62,#a02a63,#751b6e,#550f6d,#420a68,#450a69,#510e6c,#4f0d6c,#6f196e,#8c2369,#9a2865,#a82e5f,#8c2369,#5c126e,#490b6a,#7c1d6d,#9f2a63,#ad305d,#8d2369,#3e0966,#4c0c6b,#8f2469,#a32c61,#a62d60,#82206c,#490b6a,#67166e,#82206c,#9d2964,#bc3754,#a52c60,#7a1d6d,#5c126e,#7d1e6d,#a22b62,#a92e5e,#b0315b,#88226a,#64156e,#751b6e,#9b2964,#ae305c,#a62d60,#9b2964,#751b6e,#7c1d6d,#9f2a63,#9b2964,#952667,#7a1d6d,#550f6d,#520e6d,#420a68,#360961,#310a5c,#1f0c48,#230c4c,#3e0966,#5d126e,#922568,#b1325a,#ae305c,#8c2369,#6a176e,#520e6d,#3d0965,#3b0964,#380962,#470b6a,#61136e,#85216b,#b73557,#b0315b,#61136e,#3d0965,#3e0966,#450a69,#6d186e,#9f2a63,#9d2964,#84206b,#6f196e,#4c0c6b,#520e6d,#781c6d,#ae305c,#a62d60,#721a6e,#4d0d6c,#490b6a,#64156e,#972766,#b3325a,#9a2865,#741a6e,#380962,#260c51,#390963,#67166e,#bd3853,#a92e5e,#5a116e,#4d0d6c,#64156e,#87216b,#a92e5e,#a02a63,#7c1d6d,#5a116e,#5c126e,#8c2369,#ab2f5e,#a32c61,#6c186e,#400a67,#360961,#67166e,#952667,#6a176e,#230c4c,#290b55,#64156e,#84206b,#ad305d,#b1325a,#6c186e,#4d0d6c,#2d0b59,#2f0a5b,#7d1e6d,#902568,#8c2369,#5f136e,#160b39,#160b39,#280b53,#4f0d6c,#6c186e,#440a68,#160b39,#190c3e,#320a5e,#550f6d,#6a176e,#550f6d,#450a69,#320a5e,#280b53,#3e0966,#741a6e,#9d2964,#972766,#751b6e,#420a68,#520e6d,#84206b,#982766,#7a1d6d,#510e6c,#57106e,#771c6d,#7f1e6c,#8a226a,#7d1e6d,#61136e,#71196e,#781c6d,#82206c,#9b2964,#972766,#771c6d,#5f136e,#550f6d,#61136e,#82206c,#982766,#922568,#801f6c,#61136e,#5c126e,#85216b,#85216b,#771c6d,#721a6e,#520e6d,#4c0c6b,#6a176e,#7d1e6d,#8a226a,#82206c,#67166e,#520e6d,#5a116e,#a82e5f,#b93556,#721a6e,#490b6a,#4d0d6c,#69166e,#6d186e,#82206c,#972766,#7f1e6c,#6f196e,#5d126e,#65156e,#85216b,#8c2369,#7f1e6c,#71196e,#4a0c6b,#360961,#1f0c48,#140b34,#0d0829,#140b34,#10092d,#02020e,#02010a)"></i><i style="top:122.21px;height:5.36px;width:744.2px;background:linear-gradient(90deg,#010005,#0e092b,#3e0966,#6a176e,#6d186e,#62146e,#280b53,#180c3c,#440a68,#61136e,#7a1d6d,#87216b,#62146e,#400a67,#550f6d,#751b6e,#87216b,#801f6c,#64156e,#3b0964,#0d0829,#180c3c,#450a69,#450a69,#2b0b57,#290b55,#340a5f,#340a5f,#2d0b59,#2d0b59,#420a68,#420a68,#380962,#400a67,#4a0c6b,#4d0d6c,#320a5e,#290b55,#340a5f,#260c51,#140b34,#310a5c,#3b0964,#3e0966,#5d126e,#5d126e,#59106e,#5d126e,#3d0965,#440a68,#3d0965,#320a5e,#490b6a,#550f6d,#5f136e,#5a116e,#550f6d,#4c0c6b,#4d0d6c,#5c126e,#8c2369,#84206b,#360961,#2b0b57,#360961,#340a5f,#5f136e,#5d126e,#440a68,#440a68,#440a68,#440a68,#2b0b57,#2b0b57,#1c0c43,#1e0c45,#3e0966,#490b6a,#4c0c6b,#3e0966,#180c3c,#140b34,#180c3c,#150b37,#180c3c,#1c0c43,#150b37,#180c3c,#260c51,#290b55,#1c0c43,#1e0c45,#210c4a,#240c4f,#240c4f,#390963,#6f196e,#932667,#ab2f5e,#a22b62,#781c6d,#59106e,#64156e,#8a226a,#b43359,#a02a63,#64156e,#440a68,#4d0d6c,#4d0d6c,#3b0964,#61136e,#b3325a,#c83f4b,#a92e5e,#7f1e6c,#972766,#ad305d,#ad305d,#801f6c,#61136e,#4a0c6b,#4c0c6b,#59106e,#5a116e,#781c6d,#952667,#a32c61,#b1325a,#932667,#64156e,#510e6c,#82206c,#a52c60,#b3325a,#972766,#490b6a,#550f6d,#9a2865,#ad305d,#b0315b,#8d2369,#520e6d,#71196e,#8c2369,#a62d60,#c43c4e,#b0315b,#84206b,#64156e,#87216b,#ad305d,#b43359,#ba3655,#932667,#6d186e,#801f6c,#a82e5f,#b93556,#b1325a,#a62d60,#801f6c,#87216b,#ab2f5e,#a62d60,#a02a63,#85216b,#5f136e,#59106e,#490b6a,#3b0964,#360961,#230c4c,#280b53,#450a69,#67166e,#9b2964,#ba3655,#b73557,#972766,#741a6e,#5a116e,#440a68,#400a67,#3e0966,#4d0d6c,#69166e,#8d2369,#bd3853,#b73557,#6a176e,#470b6a,#450a69,#4f0d6c,#771c6d,#a92e5e,#a82e5f,#8f2469,#7a1d6d,#550f6d,#5d126e,#84206b,#b93556,#b1325a,#7d1e6d,#57106e,#520e6d,#6f196e,#a22b62,#bd3853,#a52c60,#7f1e6c,#420a68,#2f0a5b,#440a68,#721a6e,#c63d4d,#b43359,#64156e,#550f6d,#6d186e,#922568,#b3325a,#a92e5e,#85216b,#64156e,#65156e,#972766,#b43359,#ad305d,#771c6d,#4a0c6b,#420a68,#721a6e,#9f2a63,#751b6e,#2b0b57,#320a5e,#6d186e,#8f2469,#b73557,#bc3754,#751b6e,#59106e,#380962,#3b0964,#88226a,#9b2964,#972766,#69166e,#190c3e,#1b0c41,#320a5e,#59106e,#751b6e,#4d0d6c,#1b0c41,#1e0c45,#3b0964,#5d126e,#721a6e,#5f136e,#4f0d6c,#3b0964,#2f0a5b,#490b6a,#7f1e6c,#a82e5f,#a22b62,#801f6c,#4c0c6b,#5d126e,#8f2469,#a32c61,#85216b,#5c126e,#62146e,#82206c,#8a226a,#952667,#88226a,#6a176e,#7a1d6d,#84206b,#8d2369,#a62d60,#a22b62,#82206c,#69166e,#5d126e,#6c186e,#8d2369,#a52c60,#9d2964,#8d2369,#6c186e,#69166e,#932667,#932667,#85216b,#801f6c,#5c126e,#57106e,#771c6d,#8a226a,#972766,#8d2369,#721a6e,#5c126e,#67166e,#b3325a,#c43c4e,#7f1e6c,#550f6d,#57106e,#741a6e,#7a1d6d,#8f2469,#a32c61,#8a226a,#7a1d6d,#67166e,#71196e,#902568,#972766,#8a226a,#7a1d6d,#540f6d,#3d0965,#260c51,#180c3c,#110a30,#190c3e,#150b37,#040314,#02020e)"></i><i style="top:126.57px;height:5.36px;width:744.2px;background:linear-gradient(90deg,#02020c,#150b37,#490b6a,#721a6e,#751b6e,#6a176e,#310a5c,#1c0c43,#4c0c6b,#69166e,#82206c,#8f2469,#6c186e,#4a0c6b,#5f136e,#7d1e6d,#8c2369,#87216b,#6a176e,#420a68,#0e092b,#190c3e,#490b6a,#490b6a,#2f0a5b,#2f0a5b,#390963,#390963,#320a5e,#320a5e,#470b6a,#470b6a,#3d0965,#470b6a,#510e6c,#520e6d,#390963,#310a5c,#390963,#2b0b57,#190c3e,#360961,#420a68,#440a68,#62146e,#62146e,#5d126e,#61136e,#400a67,#450a69,#3e0966,#340a5f,#4a0c6b,#57106e,#61136e,#5d126e,#5c126e,#520e6d,#540f6d,#64156e,#932667,#8c2369,#3e0966,#320a5e,#3d0965,#3b0964,#65156e,#64156e,#490b6a,#490b6a,#490b6a,#490b6a,#320a5e,#320a5e,#230c4c,#230c4c,#470b6a,#4f0d6c,#510e6c,#450a69,#1c0c43,#180c3c,#1b0c41,#180c3c,#1e0c45,#210c4a,#180c3c,#1b0c41,#2b0b57,#2f0a5b,#1f0c48,#230c4c,#240c4f,#290b55,#290b55,#3e0966,#751b6e,#972766,#ad305d,#a32c61,#7c1d6d,#5d126e,#69166e,#8d2369,#b73557,#a62d60,#69166e,#550f6d,#5f136e,#5f136e,#4f0d6c,#751b6e,#c63d4d,#da4e3c,#c03a51,#982766,#ae305c,#c33b4f,#c13a50,#982766,#771c6d,#5f136e,#5f136e,#6d186e,#6d186e,#8d2369,#a82e5f,#b43359,#c13a50,#a62d60,#771c6d,#64156e,#952667,#b63458,#c43c4e,#a92e5e,#5d126e,#6a176e,#ad305d,#bf3952,#c13a50,#a22b62,#64156e,#82206c,#9b2964,#b3325a,#ce4347,#bc3754,#922568,#741a6e,#972766,#ba3655,#c03a51,#c73e4c,#a52c60,#82206c,#932667,#b93556,#c83f4b,#c33b4f,#bc3754,#972766,#9d2964,#bf3952,#ba3655,#b43359,#9a2865,#741a6e,#6d186e,#5d126e,#510e6c,#4c0c6b,#340a5f,#3b0964,#59106e,#7a1d6d,#ad305d,#c83f4b,#c63d4d,#a82e5f,#87216b,#6c186e,#550f6d,#520e6d,#510e6c,#62146e,#7f1e6c,#a22b62,#ce4347,#c73e4c,#7d1e6d,#59106e,#57106e,#62146e,#8c2369,#ba3655,#b63458,#9f2a63,#8f2469,#67166e,#6f196e,#972766,#ca404a,#c33b4f,#932667,#6d186e,#67166e,#85216b,#b73557,#cf4446,#ba3655,#952667,#57106e,#440a68,#5a116e,#87216b,#d44842,#c63d4d,#781c6d,#67166e,#7d1e6d,#a02a63,#c03a51,#b93556,#952667,#751b6e,#781c6d,#a92e5e,#c33b4f,#bd3853,#8c2369,#5d126e,#57106e,#87216b,#b3325a,#8c2369,#440a68,#490b6a,#84206b,#a32c61,#ca404a,#ce4347,#8c2369,#6f196e,#4d0d6c,#520e6d,#9f2a63,#b0315b,#ad305d,#7f1e6c,#290b55,#2b0b57,#490b6a,#6c186e,#88226a,#61136e,#280b53,#2d0b59,#4d0d6c,#6d186e,#82206c,#71196e,#62146e,#4f0d6c,#440a68,#5d126e,#952667,#bc3754,#b63458,#972766,#64156e,#741a6e,#a62d60,#b93556,#9b2964,#741a6e,#781c6d,#982766,#9f2a63,#a92e5e,#9f2a63,#801f6c,#902568,#9a2865,#a22b62,#ba3655,#b63458,#982766,#7f1e6c,#741a6e,#82206c,#a22b62,#b93556,#b1325a,#a22b62,#82206c,#7f1e6c,#a92e5e,#a82e5f,#9b2964,#972766,#721a6e,#6c186e,#8c2369,#9f2a63,#ab2f5e,#a32c61,#87216b,#71196e,#7c1d6d,#c63d4d,#d44842,#902568,#69166e,#6a176e,#85216b,#8a226a,#9f2a63,#b3325a,#9d2964,#8f2469,#7c1d6d,#87216b,#a62d60,#a92e5e,#9d2964,#8d2369,#67166e,#510e6c,#3b0964,#2b0b57,#210c4a,#320a5e,#2d0b59,#0d0829,#0b0724)"></i><i style="top:130.94px;height:5.36px;width:744.2px;background:linear-gradient(90deg,#040314,#1b0c41,#4f0d6c,#7a1d6d,#7d1e6d,#721a6e,#3b0964,#230c4c,#540f6d,#721a6e,#8a226a,#972766,#741a6e,#510e6c,#64156e,#801f6c,#8f2469,#88226a,#6c186e,#440a68,#10092d,#1b0c41,#4a0c6b,#4c0c6b,#320a5e,#340a5f,#3e0966,#3e0966,#390963,#380962,#4c0c6b,#4c0c6b,#440a68,#4d0d6c,#57106e,#59106e,#400a67,#360961,#3e0966,#310a5c,#1e0c45,#3d0965,#470b6a,#4a0c6b,#69166e,#67166e,#62146e,#67166e,#440a68,#4c0c6b,#440a68,#390963,#510e6c,#5d126e,#65156e,#64156e,#62146e,#550f6d,#59106e,#67166e,#972766,#902568,#440a68,#380962,#400a67,#3e0966,#69166e,#67166e,#4c0c6b,#4c0c6b,#4c0c6b,#4c0c6b,#380962,#380962,#280b53,#290b55,#4c0c6b,#550f6d,#57106e,#4c0c6b,#1f0c48,#190c3e,#1e0c45,#1b0c41,#210c4a,#240c4f,#1b0c41,#1e0c45,#310a5c,#340a5f,#240c4f,#280b53,#290b55,#2f0a5b,#310a5c,#470b6a,#7a1d6d,#982766,#ad305d,#a32c61,#7d1e6d,#5f136e,#6a176e,#8d2369,#b93556,#a92e5e,#6f196e,#5c126e,#64156e,#65156e,#57106e,#7f1e6c,#cc4248,#e15635,#c83f4b,#a52c60,#ba3655,#cb4149,#c83f4b,#a02a63,#7d1e6d,#67166e,#67166e,#751b6e,#751b6e,#932667,#ab2f5e,#b73557,#c43c4e,#ab2f5e,#7d1e6d,#6a176e,#9b2964,#bc3754,#c83f4b,#b0315b,#64156e,#71196e,#b1325a,#c13a50,#c73e4c,#a82e5f,#6a176e,#88226a,#a02a63,#b63458,#cf4446,#bf3952,#972766,#7a1d6d,#9d2964,#bf3952,#c43c4e,#ca404a,#a82e5f,#88226a,#9a2865,#bf3952,#ce4347,#c83f4b,#c13a50,#9f2a63,#a52c60,#c63d4d,#c33b4f,#bd3853,#a32c61,#7f1e6c,#771c6d,#62146e,#550f6d,#510e6c,#3b0964,#440a68,#62146e,#84206b,#b3325a,#cc4248,#cb4149,#b0315b,#902568,#751b6e,#5c126e,#5a116e,#5a116e,#6c186e,#88226a,#ab2f5e,#d54a41,#d04545,#88226a,#64156e,#61136e,#69166e,#902568,#bd3853,#b73557,#a32c61,#972766,#71196e,#781c6d,#9f2a63,#d04545,#cb4149,#9b2964,#751b6e,#6f196e,#8d2369,#c03a51,#d54a41,#c13a50,#9f2a63,#61136e,#4a0c6b,#61136e,#8c2369,#d74b3f,#c73e4c,#7c1d6d,#6c186e,#84206b,#a32c61,#c33b4f,#bc3754,#9b2964,#7c1d6d,#801f6c,#b1325a,#ca404a,#c43c4e,#972766,#6a176e,#64156e,#922568,#bc3754,#982766,#4f0d6c,#520e6d,#8f2469,#ae305c,#d24644,#d54a41,#952667,#781c6d,#520e6d,#59106e,#a32c61,#b43359,#b1325a,#8a226a,#340a5f,#360961,#540f6d,#741a6e,#902568,#6c186e,#310a5c,#340a5f,#540f6d,#71196e,#85216b,#771c6d,#6a176e,#57106e,#4a0c6b,#67166e,#9f2a63,#c43c4e,#bf3952,#a22b62,#6d186e,#7c1d6d,#ad305d,#bf3952,#a22b62,#7c1d6d,#7f1e6c,#a22b62,#a82e5f,#b1325a,#a62d60,#8a226a,#9a2865,#a32c61,#ad305d,#c33b4f,#bd3853,#a22b62,#88226a,#7c1d6d,#8a226a,#ab2f5e,#c03a51,#ba3655,#ae305c,#8d2369,#8c2369,#b43359,#b1325a,#a52c60,#a32c61,#7d1e6d,#771c6d,#982766,#ab2f5e,#b63458,#ae305c,#932667,#7c1d6d,#87216b,#ce4347,#d94d3d,#982766,#71196e,#721a6e,#8a226a,#8f2469,#a22b62,#b93556,#a32c61,#972766,#84206b,#902568,#b0315b,#b1325a,#a52c60,#952667,#6d186e,#57106e,#400a67,#310a5c,#260c51,#380962,#310a5c,#10092d,#0d0829)"></i><i style="top:135.30px;height:5.36px;width:744.2px;background:linear-gradient(90deg,#0a0722,#260c51,#5c126e,#85216b,#88226a,#7d1e6d,#470b6a,#2d0b59,#5f136e,#7f1e6c,#932667,#a02a63,#7d1e6d,#57106e,#6a176e,#85216b,#922568,#8d2369,#721a6e,#4a0c6b,#140b34,#1e0c45,#4d0d6c,#4f0d6c,#360961,#380962,#420a68,#440a68,#3d0965,#3d0965,#520e6d,#520e6d,#4a0c6b,#540f6d,#5d126e,#5f136e,#470b6a,#3e0966,#450a69,#380962,#230c4c,#420a68,#4d0d6c,#4f0d6c,#6f196e,#6d186e,#69166e,#6c186e,#490b6a,#4a0c6b,#420a68,#390963,#4f0d6c,#5c126e,#64156e,#62146e,#62146e,#59106e,#5c126e,#6c186e,#9b2964,#922568,#470b6a,#390963,#470b6a,#440a68,#6d186e,#6c186e,#510e6c,#510e6c,#520e6d,#520e6d,#3b0964,#3b0964,#290b55,#2b0b57,#4f0d6c,#57106e,#59106e,#4d0d6c,#260c51,#1c0c43,#230c4c,#1f0c48,#260c51,#290b55,#1f0c48,#240c4f,#390963,#3e0966,#2b0b57,#2f0a5b,#310a5c,#360961,#380962,#4c0c6b,#7d1e6d,#9b2964,#ab2f5e,#a22b62,#7d1e6d,#61136e,#6c186e,#8d2369,#b73557,#a92e5e,#741a6e,#5f136e,#67166e,#6a176e,#5d126e,#85216b,#d24644,#e45a31,#d04545,#b0315b,#c33b4f,#d34743,#d34743,#ad305d,#8a226a,#6d186e,#6d186e,#7f1e6c,#801f6c,#9d2964,#b63458,#c03a51,#ce4347,#b63458,#88226a,#771c6d,#a22b62,#bf3952,#cb4149,#b43359,#6a176e,#771c6d,#b63458,#c43c4e,#ca404a,#ab2f5e,#6d186e,#8a226a,#9f2a63,#b3325a,#ce4347,#bc3754,#952667,#7a1d6d,#9d2964,#bf3952,#c33b4f,#ca404a,#a92e5e,#8c2369,#a02a63,#c73e4c,#d44842,#d04545,#cb4149,#a92e5e,#b1325a,#d04545,#ca404a,#c13a50,#a92e5e,#85216b,#7c1d6d,#69166e,#5a116e,#550f6d,#3e0966,#470b6a,#67166e,#87216b,#b63458,#cc4248,#ca404a,#b1325a,#932667,#781c6d,#61136e,#5d126e,#5f136e,#721a6e,#902568,#b3325a,#d74b3f,#d04545,#8a226a,#65156e,#62146e,#6d186e,#952667,#bd3853,#b73557,#a32c61,#982766,#741a6e,#7c1d6d,#a22b62,#d34743,#ce4347,#a02a63,#7f1e6c,#771c6d,#972766,#c73e4c,#da4e3c,#c73e4c,#a62d60,#69166e,#510e6c,#67166e,#902568,#d84c3e,#ca404a,#801f6c,#6d186e,#84206b,#a22b62,#c03a51,#bc3754,#9d2964,#7f1e6c,#85216b,#b43359,#c73e4c,#c33b4f,#982766,#6d186e,#69166e,#972766,#bf3952,#9f2a63,#57106e,#59106e,#952667,#b43359,#d24644,#d44842,#952667,#7d1e6d,#5c126e,#64156e,#b0315b,#c33b4f,#c13a50,#972766,#3e0966,#440a68,#5f136e,#7a1d6d,#952667,#71196e,#360961,#390963,#59106e,#741a6e,#88226a,#7c1d6d,#721a6e,#5d126e,#520e6d,#71196e,#a82e5f,#cf4446,#cb4149,#b0315b,#7c1d6d,#8d2369,#bc3754,#cb4149,#b1325a,#8c2369,#8c2369,#ab2f5e,#b1325a,#ba3655,#b0315b,#952667,#a52c60,#ae305c,#b93556,#cc4248,#ca404a,#b0315b,#972766,#8c2369,#9a2865,#b93556,#ca404a,#c63d4d,#b93556,#982766,#972766,#bd3853,#ba3655,#ae305c,#ad305d,#87216b,#82206c,#9f2a63,#b0315b,#ba3655,#b3325a,#9a2865,#82206c,#8d2369,#d24644,#db503b,#a02a63,#7a1d6d,#7c1d6d,#972766,#9a2865,#ad305d,#c33b4f,#b1325a,#a62d60,#932667,#9f2a63,#ba3655,#bc3754,#ae305c,#9d2964,#751b6e,#5d126e,#470b6a,#340a5f,#280b53,#3b0964,#360961,#120a32,#10092d)"></i><i style="top:139.67px;height:5.36px;width:744.2px;background:linear-gradient(90deg,#0d0829,#2b0b57,#5f136e,#88226a,#8c2369,#82206c,#4c0c6b,#320a5e,#69166e,#87216b,#9b2964,#a82e5f,#87216b,#64156e,#771c6d,#902568,#9a2865,#922568,#771c6d,#510e6c,#160b39,#210c4a,#510e6c,#520e6d,#3b0964,#3b0964,#470b6a,#470b6a,#450a69,#450a69,#59106e,#5a116e,#520e6d,#5f136e,#67166e,#69166e,#520e6d,#490b6a,#4f0d6c,#3e0966,#290b55,#490b6a,#520e6d,#550f6d,#751b6e,#721a6e,#6d186e,#71196e,#4a0c6b,#4f0d6c,#470b6a,#3d0965,#520e6d,#5f136e,#67166e,#64156e,#65156e,#62146e,#67166e,#771c6d,#a62d60,#a02a63,#540f6d,#470b6a,#4f0d6c,#4c0c6b,#751b6e,#741a6e,#59106e,#550f6d,#550f6d,#550f6d,#420a68,#420a68,#320a5e,#360961,#59106e,#62146e,#64156e,#59106e,#2f0a5b,#240c4f,#280b53,#240c4f,#2d0b59,#320a5e,#240c4f,#290b55,#3e0966,#3e0966,#2f0a5b,#320a5e,#360961,#3b0964,#3b0964,#510e6c,#88226a,#a22b62,#b3325a,#a92e5e,#87216b,#67166e,#721a6e,#922568,#bc3754,#b0315b,#7c1d6d,#510e6c,#57106e,#5c126e,#510e6c,#7a1d6d,#c83f4b,#db503b,#c63d4d,#a32c61,#b63458,#c63d4d,#c43c4e,#9d2964,#7a1d6d,#5d126e,#5a116e,#69166e,#69166e,#8a226a,#a22b62,#ad305d,#bc3754,#a22b62,#7a1d6d,#6a176e,#982766,#b43359,#c13a50,#ab2f5e,#61136e,#62146e,#a22b62,#b0315b,#b73557,#982766,#5a116e,#751b6e,#88226a,#9f2a63,#ba3655,#a82e5f,#84206b,#67166e,#8a226a,#ad305d,#b0315b,#b93556,#9a2865,#7d1e6d,#952667,#b73557,#c63d4d,#c13a50,#bf3952,#9b2964,#a32c61,#c33b4f,#bd3853,#b63458,#9f2a63,#7a1d6d,#721a6e,#5c126e,#4c0c6b,#440a68,#2d0b59,#390963,#59106e,#7a1d6d,#a82e5f,#bf3952,#bc3754,#a02a63,#85216b,#6a176e,#510e6c,#4d0d6c,#510e6c,#67166e,#84206b,#a82e5f,#cc4248,#c63d4d,#7d1e6d,#59106e,#540f6d,#5f136e,#85216b,#ab2f5e,#a52c60,#932667,#8c2369,#67166e,#71196e,#952667,#cb4149,#c73e4c,#9a2865,#751b6e,#6c186e,#8d2369,#bd3853,#d24644,#b93556,#982766,#59106e,#420a68,#59106e,#7f1e6c,#ca404a,#ba3655,#6f196e,#5d126e,#6d186e,#8c2369,#ab2f5e,#a52c60,#87216b,#6a176e,#71196e,#9f2a63,#ad305d,#a82e5f,#7f1e6c,#540f6d,#520e6d,#7f1e6c,#a62d60,#88226a,#400a67,#400a67,#87216b,#a52c60,#ca404a,#ce4347,#8d2369,#71196e,#4f0d6c,#57106e,#982766,#a62d60,#a62d60,#7a1d6d,#210c4a,#260c51,#400a67,#5d126e,#7a1d6d,#550f6d,#1e0c45,#1f0c48,#3b0964,#520e6d,#67166e,#5d126e,#550f6d,#440a68,#390963,#59106e,#902568,#b73557,#b1325a,#952667,#62146e,#721a6e,#9b2964,#ad305d,#902568,#6c186e,#71196e,#952667,#9a2865,#a32c61,#982766,#7d1e6d,#8f2469,#982766,#a02a63,#b43359,#b1325a,#902568,#771c6d,#6c186e,#781c6d,#9f2a63,#b3325a,#ae305c,#a22b62,#801f6c,#7f1e6c,#a62d60,#a22b62,#952667,#972766,#6f196e,#69166e,#87216b,#9f2a63,#ad305d,#a62d60,#8d2369,#751b6e,#801f6c,#c43c4e,#ce4347,#85216b,#61136e,#61136e,#7a1d6d,#7c1d6d,#8f2469,#a82e5f,#972766,#8d2369,#801f6c,#8c2369,#ab2f5e,#a92e5e,#9b2964,#8c2369,#64156e,#4a0c6b,#2d0b59,#150b37,#0b0724,#110a30,#0d0829,#02010a,#010106)"></i><i style="top:144.03px;height:5.36px;width:744.2px;background:linear-gradient(90deg,#140b34,#360961,#6a176e,#922568,#952667,#8c2369,#550f6d,#3d0965,#6f196e,#8f2469,#a32c61,#ae305c,#8f2469,#6d186e,#84206b,#9d2964,#a62d60,#9a2865,#7f1e6c,#57106e,#1e0c45,#280b53,#59106e,#59106e,#400a67,#400a67,#4c0c6b,#4c0c6b,#450a69,#450a69,#59106e,#520e6d,#4a0c6b,#540f6d,#59106e,#67166e,#520e6d,#490b6a,#510e6c,#390963,#240c4f,#450a69,#510e6c,#540f6d,#741a6e,#6d186e,#69166e,#6c186e,#490b6a,#4d0d6c,#450a69,#3d0965,#520e6d,#64156e,#6a176e,#6a176e,#6c186e,#62146e,#69166e,#771c6d,#a62d60,#a02a63,#59106e,#4c0c6b,#4f0d6c,#4c0c6b,#771c6d,#7c1d6d,#5f136e,#5f136e,#5c126e,#5c126e,#450a69,#450a69,#360961,#390963,#5d126e,#5f136e,#5f136e,#550f6d,#2b0b57,#1c0c43,#210c4a,#1e0c45,#240c4f,#290b55,#210c4a,#240c4f,#390963,#3d0965,#2f0a5b,#320a5e,#360961,#3b0964,#3d0965,#520e6d,#82206c,#9f2a63,#b1325a,#a92e5e,#88226a,#6f196e,#771c6d,#952667,#bd3853,#ab2f5e,#771c6d,#4d0d6c,#550f6d,#57106e,#4a0c6b,#721a6e,#bf3952,#d34743,#bc3754,#9d2964,#ad305d,#bc3754,#bd3853,#982766,#781c6d,#5c126e,#5d126e,#6c186e,#6c186e,#84206b,#982766,#a22b62,#b3325a,#9d2964,#721a6e,#62146e,#8f2469,#a92e5e,#b63458,#a02a63,#59106e,#64156e,#a02a63,#b3325a,#ba3655,#9d2964,#61136e,#7c1d6d,#8c2369,#9d2964,#b93556,#a82e5f,#85216b,#6c186e,#8f2469,#ae305c,#b0315b,#b43359,#952667,#7c1d6d,#902568,#b1325a,#bd3853,#b93556,#b43359,#932667,#982766,#b63458,#b0315b,#a82e5f,#922568,#71196e,#6c186e,#59106e,#490b6a,#400a67,#290b55,#340a5f,#59106e,#771c6d,#a32c61,#b93556,#b73557,#9f2a63,#84206b,#6a176e,#510e6c,#4c0c6b,#510e6c,#61136e,#7c1d6d,#9b2964,#c43c4e,#bd3853,#771c6d,#550f6d,#520e6d,#5c126e,#7f1e6c,#a22b62,#982766,#88226a,#85216b,#64156e,#6a176e,#8d2369,#bd3853,#c03a51,#952667,#721a6e,#6a176e,#88226a,#b43359,#c73e4c,#b1325a,#932667,#510e6c,#3d0965,#510e6c,#741a6e,#bd3853,#b0315b,#69166e,#5a116e,#6c186e,#88226a,#a62d60,#a22b62,#922568,#781c6d,#7c1d6d,#a62d60,#b63458,#b0315b,#8a226a,#61136e,#5a116e,#801f6c,#a52c60,#88226a,#470b6a,#490b6a,#85216b,#a32c61,#c73e4c,#cc4248,#8f2469,#771c6d,#540f6d,#5c126e,#ab2f5e,#b43359,#b63458,#8c2369,#2f0a5b,#320a5e,#470b6a,#5f136e,#7c1d6d,#5c126e,#240c4f,#260c51,#450a69,#5c126e,#6d186e,#64156e,#5d126e,#490b6a,#3d0965,#5d126e,#902568,#b0315b,#ab2f5e,#952667,#67166e,#771c6d,#a22b62,#b1325a,#982766,#781c6d,#7d1e6d,#9b2964,#9f2a63,#a82e5f,#9a2865,#801f6c,#952667,#a52c60,#a82e5f,#ba3655,#b63458,#9b2964,#85216b,#781c6d,#84206b,#9a2865,#ae305c,#ad305d,#a52c60,#88226a,#84206b,#a92e5e,#a32c61,#9a2865,#9f2a63,#7a1d6d,#741a6e,#902568,#a22b62,#a92e5e,#a52c60,#8d2369,#771c6d,#801f6c,#cb4149,#d34743,#902568,#6c186e,#67166e,#7d1e6d,#7f1e6c,#922568,#ab2f5e,#9b2964,#932667,#84206b,#8f2469,#ad305d,#ad305d,#9d2964,#8f2469,#61136e,#4c0c6b,#320a5e,#1e0c45,#120a32,#1b0c41,#160b39,#040314,#030210)"></i><i style="top:148.40px;height:5.36px;width:744.2px;background:linear-gradient(90deg,#1f0c48,#450a69,#781c6d,#a02a63,#a22b62,#902568,#5a116e,#390963,#6c186e,#8c2369,#9f2a63,#a92e5e,#8a226a,#6a176e,#82206c,#9b2964,#a32c61,#9d2964,#82206c,#5a116e,#1f0c48,#2d0b59,#5a116e,#5a116e,#400a67,#3e0966,#4a0c6b,#4a0c6b,#440a68,#4c0c6b,#5f136e,#5f136e,#59106e,#62146e,#65156e,#57106e,#420a68,#3b0964,#440a68,#360961,#210c4a,#420a68,#4d0d6c,#510e6c,#71196e,#71196e,#6c186e,#6f196e,#4c0c6b,#510e6c,#4c0c6b,#440a68,#61136e,#6d186e,#741a6e,#741a6e,#771c6d,#6d186e,#721a6e,#82206c,#a92e5e,#a32c61,#59106e,#4c0c6b,#540f6d,#510e6c,#7c1d6d,#781c6d,#5d126e,#5c126e,#5c126e,#5c126e,#4c0c6b,#4a0c6b,#3b0964,#3d0965,#61136e,#67166e,#65156e,#5a116e,#310a5c,#240c4f,#280b53,#230c4c,#280b53,#2d0b59,#210c4a,#240c4f,#380962,#3d0965,#2f0a5b,#320a5e,#380962,#380962,#390963,#4d0d6c,#7f1e6c,#982766,#ab2f5e,#a92e5e,#8a226a,#71196e,#801f6c,#9b2964,#c33b4f,#b0315b,#7f1e6c,#540f6d,#65156e,#67166e,#5a116e,#7f1e6c,#c73e4c,#d74b3f,#c13a50,#a52c60,#b1325a,#b93556,#bc3754,#9b2964,#7d1e6d,#62146e,#5a116e,#6a176e,#69166e,#82206c,#972766,#9f2a63,#b0315b,#9a2865,#71196e,#69166e,#932667,#ab2f5e,#b73557,#a52c60,#5c126e,#67166e,#a02a63,#ae305c,#b73557,#9d2964,#62146e,#7a1d6d,#8a226a,#9d2964,#b93556,#a92e5e,#82206c,#6c186e,#8d2369,#ab2f5e,#b0315b,#b3325a,#952667,#7d1e6d,#932667,#b1325a,#ba3655,#b43359,#b3325a,#952667,#972766,#b3325a,#a62d60,#a02a63,#84206b,#65156e,#67166e,#540f6d,#440a68,#3d0965,#280b53,#320a5e,#520e6d,#71196e,#a62d60,#ba3655,#ba3655,#a52c60,#8d2369,#721a6e,#550f6d,#520e6d,#550f6d,#59106e,#721a6e,#8d2369,#b63458,#ae305c,#6a176e,#4c0c6b,#490b6a,#57106e,#7a1d6d,#9a2865,#8d2369,#801f6c,#801f6c,#61136e,#67166e,#85216b,#b0315b,#ad305d,#82206c,#62146e,#5c126e,#771c6d,#9f2a63,#b0315b,#982766,#7d1e6d,#490b6a,#360961,#490b6a,#69166e,#b1325a,#a52c60,#62146e,#520e6d,#62146e,#7d1e6d,#9d2964,#9a2865,#801f6c,#69166e,#751b6e,#9d2964,#a62d60,#a02a63,#7c1d6d,#540f6d,#4d0d6c,#6d186e,#8d2369,#741a6e,#340a5f,#360961,#741a6e,#922568,#ba3655,#c13a50,#85216b,#71196e,#4d0d6c,#59106e,#9b2964,#a22b62,#a32c61,#7c1d6d,#230c4c,#240c4f,#3b0964,#520e6d,#71196e,#550f6d,#1f0c48,#210c4a,#3d0965,#510e6c,#5f136e,#550f6d,#510e6c,#3e0966,#310a5c,#490b6a,#7a1d6d,#952667,#902568,#7f1e6c,#57106e,#65156e,#8f2469,#9f2a63,#88226a,#6d186e,#7a1d6d,#952667,#972766,#a02a63,#9a2865,#84206b,#9a2865,#a52c60,#a52c60,#b3325a,#ae305c,#922568,#7d1e6d,#71196e,#771c6d,#8c2369,#a02a63,#9f2a63,#9b2964,#82206c,#85216b,#a82e5f,#a22b62,#9b2964,#a22b62,#801f6c,#781c6d,#952667,#a52c60,#ae305c,#ab2f5e,#952667,#7c1d6d,#85216b,#c03a51,#c63d4d,#801f6c,#5f136e,#69166e,#7d1e6d,#7d1e6d,#8f2469,#a52c60,#982766,#922568,#84206b,#8d2369,#ad305d,#ab2f5e,#9f2a63,#932667,#6f196e,#57106e,#3d0965,#280b53,#1e0c45,#290b55,#240c4f,#0b0724,#08051d)"></i><i style="top:152.76px;height:5.36px;width:744.2px;background:linear-gradient(90deg,#230c4c,#490b6a,#7c1d6d,#a32c61,#a52c60,#9b2964,#67166e,#4f0d6c,#801f6c,#9b2964,#b0315b,#b93556,#9b2964,#7a1d6d,#8d2369,#a52c60,#a92e5e,#a32c61,#8a226a,#62146e,#240c4f,#2f0a5b,#5a116e,#5a116e,#3e0966,#440a68,#4d0d6c,#4c0c6b,#450a69,#440a68,#550f6d,#550f6d,#4d0d6c,#550f6d,#550f6d,#540f6d,#400a67,#3b0964,#440a68,#360961,#260c51,#450a69,#520e6d,#57106e,#771c6d,#771c6d,#721a6e,#771c6d,#540f6d,#540f6d,#4f0d6c,#470b6a,#5f136e,#6c186e,#6f196e,#6f196e,#741a6e,#6a176e,#6f196e,#7f1e6c,#ad305d,#a82e5f,#65156e,#57106e,#5d126e,#5a116e,#85216b,#7d1e6d,#62146e,#61136e,#5f136e,#5d126e,#440a68,#420a68,#310a5c,#320a5e,#550f6d,#5d126e,#5a116e,#510e6c,#280b53,#1c0c43,#210c4a,#1c0c43,#210c4a,#240c4f,#1e0c45,#1f0c48,#320a5e,#380962,#2d0b59,#2f0a5b,#340a5f,#3b0964,#3e0966,#540f6d,#7f1e6c,#982766,#ab2f5e,#ad305d,#902568,#771c6d,#7d1e6d,#952667,#bc3754,#b1325a,#801f6c,#59106e,#64156e,#67166e,#59106e,#7a1d6d,#c03a51,#cf4446,#b63458,#9b2964,#a52c60,#b1325a,#b73557,#9a2865,#7f1e6c,#65156e,#62146e,#721a6e,#6f196e,#88226a,#9a2865,#a22b62,#b3325a,#b0315b,#88226a,#7c1d6d,#a32c61,#b93556,#b0315b,#9d2964,#59106e,#64156e,#9b2964,#a82e5f,#b1325a,#9b2964,#62146e,#7a1d6d,#87216b,#952667,#b63458,#a82e5f,#88226a,#721a6e,#932667,#b0315b,#ae305c,#b43359,#982766,#82206c,#982766,#b3325a,#b63458,#b0315b,#b1325a,#952667,#952667,#ae305c,#9d2964,#972766,#84206b,#65156e,#65156e,#5c126e,#4a0c6b,#340a5f,#1f0c48,#280b53,#470b6a,#6f196e,#972766,#ab2f5e,#ab2f5e,#9a2865,#82206c,#69166e,#4d0d6c,#4a0c6b,#4d0d6c,#5f136e,#751b6e,#8d2369,#b0315b,#a92e5e,#67166e,#4c0c6b,#4a0c6b,#550f6d,#751b6e,#902568,#84206b,#781c6d,#7c1d6d,#65156e,#69166e,#84206b,#b1325a,#ae305c,#85216b,#67166e,#62146e,#7d1e6d,#a22b62,#ae305c,#982766,#801f6c,#4c0c6b,#3b0964,#4c0c6b,#69166e,#b1325a,#a62d60,#69166e,#59106e,#67166e,#82206c,#a02a63,#9f2a63,#88226a,#741a6e,#82206c,#a92e5e,#b0315b,#a82e5f,#85216b,#67166e,#5d126e,#781c6d,#952667,#7d1e6d,#470b6a,#4a0c6b,#87216b,#972766,#bf3952,#c73e4c,#8f2469,#7d1e6d,#5a116e,#61136e,#9f2a63,#a32c61,#ad305d,#87216b,#2b0b57,#310a5c,#470b6a,#5c126e,#781c6d,#61136e,#290b55,#2b0b57,#490b6a,#5d126e,#69166e,#5a116e,#550f6d,#420a68,#320a5e,#490b6a,#6f196e,#84206b,#801f6c,#741a6e,#5a116e,#6a176e,#88226a,#982766,#85216b,#6f196e,#7a1d6d,#932667,#932667,#9d2964,#982766,#88226a,#a22b62,#ad305d,#a82e5f,#b43359,#ad305d,#952667,#82206c,#751b6e,#6a176e,#7a1d6d,#8d2369,#8f2469,#8d2369,#781c6d,#7c1d6d,#9f2a63,#9a2865,#952667,#a02a63,#801f6c,#771c6d,#932667,#a32c61,#b0315b,#ad305d,#9a2865,#84206b,#8c2369,#c83f4b,#ce4347,#8a226a,#6a176e,#69166e,#7c1d6d,#7a1d6d,#8c2369,#b3325a,#a82e5f,#a32c61,#972766,#9b2964,#b93556,#b73557,#ad305d,#a22b62,#7d1e6d,#65156e,#4c0c6b,#380962,#290b55,#390963,#320a5e,#120a32,#10092d)"></i><i style="top:157.12px;height:5.36px;width:744.2px;background:linear-gradient(90deg,#310a5c,#550f6d,#88226a,#ae305c,#b0315b,#9f2a63,#69166e,#520e6d,#85216b,#a32c61,#b63458,#bf3952,#a22b62,#84206b,#952667,#ad305d,#b43359,#ae305c,#9d2964,#751b6e,#2f0a5b,#380962,#61136e,#5f136e,#440a68,#420a68,#510e6c,#4f0d6c,#470b6a,#450a69,#57106e,#57106e,#4f0d6c,#550f6d,#550f6d,#540f6d,#440a68,#400a67,#4a0c6b,#3e0966,#2b0b57,#4c0c6b,#59106e,#5d126e,#7c1d6d,#7c1d6d,#771c6d,#7c1d6d,#59106e,#5f136e,#57106e,#510e6c,#69166e,#751b6e,#7a1d6d,#7c1d6d,#7f1e6c,#771c6d,#781c6d,#87216b,#b43359,#bd3853,#751b6e,#67166e,#6d186e,#69166e,#952667,#922568,#771c6d,#751b6e,#751b6e,#721a6e,#5a116e,#59106e,#490b6a,#3b0964,#5d126e,#61136e,#5d126e,#520e6d,#290b55,#1e0c45,#210c4a,#1f0c48,#230c4c,#280b53,#1f0c48,#230c4c,#360961,#390963,#2f0a5b,#340a5f,#390963,#440a68,#490b6a,#5a116e,#8a226a,#a32c61,#b73557,#b63458,#9b2964,#82206c,#87216b,#9f2a63,#c43c4e,#ba3655,#8c2369,#721a6e,#781c6d,#7a1d6d,#6c186e,#8c2369,#cb4149,#d84c3e,#b43359,#9b2964,#a22b62,#ad305d,#b63458,#9b2964,#84206b,#7a1d6d,#771c6d,#87216b,#87216b,#9d2964,#ad305d,#b43359,#c43c4e,#b3325a,#8d2369,#7d1e6d,#a52c60,#b73557,#c33b4f,#b1325a,#71196e,#7a1d6d,#b0315b,#bc3754,#c63d4d,#b1325a,#781c6d,#8f2469,#9a2865,#a62d60,#c33b4f,#b73557,#982766,#8c2369,#ab2f5e,#c43c4e,#c13a50,#c73e4c,#ad305d,#982766,#a02a63,#b73557,#bd3853,#b93556,#bc3754,#a02a63,#a02a63,#b43359,#a52c60,#9f2a63,#8d2369,#721a6e,#751b6e,#64156e,#540f6d,#4c0c6b,#380962,#490b6a,#6a176e,#85216b,#ab2f5e,#ca404a,#cb4149,#bd3853,#a92e5e,#7c1d6d,#5f136e,#5a116e,#5c126e,#771c6d,#8a226a,#9f2a63,#c33b4f,#bd3853,#7d1e6d,#65156e,#6c186e,#751b6e,#922568,#ab2f5e,#9d2964,#8a226a,#902568,#771c6d,#771c6d,#902568,#bc3754,#b93556,#922568,#771c6d,#721a6e,#87216b,#a82e5f,#b1325a,#9a2865,#85216b,#540f6d,#470b6a,#550f6d,#6d186e,#b43359,#ab2f5e,#71196e,#6a176e,#771c6d,#8f2469,#ab2f5e,#ab2f5e,#982766,#85216b,#952667,#ba3655,#bd3853,#b43359,#932667,#6a176e,#61136e,#7a1d6d,#932667,#7c1d6d,#4d0d6c,#510e6c,#952667,#b3325a,#d84c3e,#e15635,#b1325a,#a32c61,#721a6e,#65156e,#a02a63,#a22b62,#a52c60,#7f1e6c,#340a5f,#320a5e,#450a69,#57106e,#781c6d,#62146e,#310a5c,#320a5e,#4d0d6c,#5f136e,#62146e,#57106e,#540f6d,#440a68,#320a5e,#420a68,#64156e,#741a6e,#781c6d,#71196e,#520e6d,#62146e,#85216b,#932667,#85216b,#721a6e,#7c1d6d,#932667,#88226a,#922568,#8f2469,#7d1e6d,#9a2865,#a52c60,#932667,#9d2964,#932667,#7d1e6d,#6c186e,#5d126e,#5c126e,#69166e,#7c1d6d,#902568,#932667,#82206c,#8d2369,#ae305c,#a62d60,#a52c60,#b3325a,#972766,#8c2369,#982766,#a62d60,#b1325a,#b0315b,#ab2f5e,#952667,#9d2964,#d54a41,#d94d3d,#922568,#721a6e,#721a6e,#8c2369,#88226a,#9a2865,#b73557,#ad305d,#ab2f5e,#9f2a63,#a82e5f,#c43c4e,#c33b4f,#bf3952,#b73557,#952667,#7d1e6d,#64156e,#510e6c,#3d0965,#4f0d6c,#490b6a,#210c4a,#1e0c45)"></i><i style="top:161.49px;height:5.36px;width:744.2px;background:linear-gradient(90deg,#2f0a5b,#540f6d,#87216b,#ab2f5e,#ad305d,#a52c60,#721a6e,#5c126e,#8d2369,#ab2f5e,#b93556,#c33b4f,#a62d60,#88226a,#9b2964,#b1325a,#b93556,#b3325a,#a22b62,#7a1d6d,#3e0966,#4a0c6b,#721a6e,#6f196e,#520e6d,#400a67,#490b6a,#450a69,#3b0964,#390963,#4d0d6c,#4d0d6c,#450a69,#4c0c6b,#490b6a,#470b6a,#360961,#320a5e,#3b0964,#2d0b59,#1b0c41,#420a68,#4f0d6c,#520e6d,#751b6e,#751b6e,#71196e,#751b6e,#520e6d,#59106e,#540f6d,#470b6a,#5f136e,#6c186e,#71196e,#741a6e,#7a1d6d,#721a6e,#8c2369,#9b2964,#c73e4c,#c33b4f,#6a176e,#5d126e,#62146e,#5f136e,#8a226a,#88226a,#6c186e,#6a176e,#67166e,#550f6d,#3b0964,#390963,#280b53,#290b55,#4d0d6c,#4f0d6c,#4c0c6b,#420a68,#1c0c43,#260c51,#280b53,#210c4a,#260c51,#290b55,#1c0c43,#1e0c45,#310a5c,#340a5f,#280b53,#2b0b57,#320a5e,#3d0965,#400a67,#57106e,#87216b,#a02a63,#b63458,#b63458,#9d2964,#751b6e,#7a1d6d,#902568,#b63458,#bc3754,#8d2369,#741a6e,#7c1d6d,#7c1d6d,#6d186e,#8c2369,#cb4149,#d54a41,#c33b4f,#ad305d,#b0315b,#ba3655,#ba3655,#a22b62,#8c2369,#741a6e,#71196e,#801f6c,#84206b,#9a2865,#a92e5e,#b0315b,#c13a50,#b0315b,#8c2369,#7f1e6c,#ad305d,#bf3952,#c83f4b,#ba3655,#7a1d6d,#82206c,#b63458,#bf3952,#bf3952,#ab2f5e,#741a6e,#88226a,#932667,#a02a63,#bf3952,#b3325a,#952667,#8d2369,#ae305c,#c63d4d,#c13a50,#c73e4c,#ae305c,#9a2865,#b1325a,#c63d4d,#ca404a,#c43c4e,#c73e4c,#ae305c,#ad305d,#bf3952,#ad305d,#a22b62,#922568,#7a1d6d,#7d1e6d,#6c186e,#5d126e,#550f6d,#380962,#440a68,#64156e,#801f6c,#a62d60,#b93556,#ba3655,#ad305d,#952667,#7c1d6d,#5f136e,#5a116e,#5d126e,#6d186e,#801f6c,#932667,#b73557,#bd3853,#7d1e6d,#65156e,#67166e,#771c6d,#932667,#ab2f5e,#9b2964,#902568,#952667,#7c1d6d,#7c1d6d,#922568,#bc3754,#b93556,#932667,#7a1d6d,#771c6d,#88226a,#a62d60,#b0315b,#9a2865,#85216b,#57106e,#4d0d6c,#5c126e,#721a6e,#b73557,#b0315b,#771c6d,#5c126e,#69166e,#801f6c,#9f2a63,#a02a63,#8f2469,#7d1e6d,#8c2369,#b0315b,#b1325a,#a62d60,#82206c,#5d126e,#520e6d,#65156e,#7d1e6d,#67166e,#440a68,#470b6a,#84206b,#a22b62,#c83f4b,#db503b,#ab2f5e,#9f2a63,#7d1e6d,#82206c,#ba3655,#bc3754,#c13a50,#a02a63,#470b6a,#450a69,#59106e,#6a176e,#8c2369,#6f196e,#3d0965,#3e0966,#5a116e,#6d186e,#751b6e,#6a176e,#61136e,#4f0d6c,#3d0965,#4c0c6b,#6c186e,#771c6d,#751b6e,#6f196e,#540f6d,#69166e,#8c2369,#9b2964,#8d2369,#7c1d6d,#85216b,#a22b62,#9f2a63,#a82e5f,#a52c60,#952667,#b1325a,#bc3754,#b3325a,#ba3655,#9f2a63,#88226a,#781c6d,#6a176e,#69166e,#741a6e,#87216b,#88226a,#8d2369,#7d1e6d,#932667,#b1325a,#a92e5e,#a82e5f,#b73557,#9d2964,#922568,#ab2f5e,#b73557,#ba3655,#ba3655,#a92e5e,#952667,#9d2964,#d34743,#d54a41,#932667,#771c6d,#7c1d6d,#8c2369,#88226a,#982766,#b63458,#ad305d,#ae305c,#a22b62,#a92e5e,#c43c4e,#c13a50,#b73557,#b1325a,#902568,#7a1d6d,#5c126e,#490b6a,#3b0964,#4f0d6c,#490b6a,#210c4a,#1c0c43)"></i><i style="top:165.85px;height:5.36px;width:744.2px;background:linear-gradient(90deg,#3e0966,#62146e,#932667,#b73557,#b93556,#b3325a,#801f6c,#6c186e,#9f2a63,#bc3754,#c33b4f,#cc4248,#b3325a,#952667,#a82e5f,#c73e4c,#cc4248,#c73e4c,#b1325a,#8c2369,#4f0d6c,#520e6d,#771c6d,#741a6e,#550f6d,#4a0c6b,#510e6c,#4c0c6b,#420a68,#3e0966,#520e6d,#520e6d,#490b6a,#4d0d6c,#490b6a,#450a69,#340a5f,#320a5e,#3b0964,#2d0b59,#190c3e,#340a5f,#400a67,#520e6d,#741a6e,#741a6e,#6f196e,#741a6e,#510e6c,#550f6d,#510e6c,#490b6a,#4c0c6b,#59106e,#5f136e,#64156e,#6d186e,#69166e,#721a6e,#9f2a63,#cb4149,#c63d4d,#7f1e6c,#721a6e,#69166e,#64156e,#902568,#8d2369,#751b6e,#721a6e,#71196e,#6f196e,#550f6d,#540f6d,#3b0964,#3d0965,#61136e,#62146e,#5f136e,#550f6d,#2f0a5b,#240c4f,#2b0b57,#260c51,#2b0b57,#2f0a5b,#230c4c,#260c51,#3b0964,#3e0966,#340a5f,#390963,#3e0966,#450a69,#4a0c6b,#62146e,#9b2964,#b43359,#c83f4b,#ca404a,#b3325a,#9b2964,#8c2369,#a22b62,#c73e4c,#bf3952,#902568,#771c6d,#7d1e6d,#88226a,#7a1d6d,#9f2a63,#d94d3d,#e25734,#cf4446,#ba3655,#bc3754,#c43c4e,#cc4248,#a92e5e,#932667,#7a1d6d,#85216b,#952667,#902568,#a52c60,#b43359,#ba3655,#cc4248,#bd3853,#9a2865,#8f2469,#b43359,#c43c4e,#ce4347,#c03a51,#7f1e6c,#87216b,#ae305c,#b63458,#c03a51,#ae305c,#781c6d,#8d2369,#982766,#a52c60,#cc4248,#c33b4f,#a82e5f,#952667,#b43359,#cb4149,#c73e4c,#cc4248,#b43359,#8f2469,#a62d60,#ba3655,#bd3853,#b73557,#ba3655,#a02a63,#9d2964,#ae305c,#b0315b,#ab2f5e,#9d2964,#85216b,#8a226a,#751b6e,#65156e,#5d126e,#490b6a,#550f6d,#771c6d,#902568,#b43359,#c33b4f,#c43c4e,#b73557,#a02a63,#88226a,#6c186e,#5d126e,#61136e,#721a6e,#85216b,#a32c61,#c63d4d,#c13a50,#82206c,#6a176e,#6c186e,#71196e,#8f2469,#a52c60,#932667,#8a226a,#922568,#781c6d,#7a1d6d,#8f2469,#b93556,#b63458,#902568,#7f1e6c,#7c1d6d,#902568,#b0315b,#b93556,#a62d60,#932667,#64156e,#550f6d,#64156e,#781c6d,#b43359,#ad305d,#741a6e,#67166e,#721a6e,#8a226a,#a82e5f,#ab2f5e,#932667,#82206c,#952667,#ba3655,#c73e4c,#bf3952,#a02a63,#7d1e6d,#71196e,#84206b,#9b2964,#85216b,#520e6d,#540f6d,#8f2469,#ab2f5e,#ce4347,#d74b3f,#b3325a,#a62d60,#88226a,#7c1d6d,#b43359,#b43359,#ba3655,#a92e5e,#520e6d,#520e6d,#65156e,#771c6d,#9a2865,#87216b,#550f6d,#540f6d,#71196e,#721a6e,#781c6d,#6c186e,#67166e,#520e6d,#400a67,#510e6c,#7a1d6d,#85216b,#84206b,#7d1e6d,#62146e,#71196e,#932667,#a32c61,#952667,#781c6d,#82206c,#982766,#a32c61,#ab2f5e,#a62d60,#972766,#b43359,#bd3853,#b43359,#bc3754,#b43359,#a02a63,#902568,#84206b,#82206c,#8d2369,#9d2964,#9f2a63,#a22b62,#922568,#972766,#b43359,#a92e5e,#a82e5f,#b93556,#a02a63,#922568,#ab2f5e,#b63458,#bd3853,#bd3853,#ad305d,#9b2964,#a02a63,#d44842,#d54a41,#952667,#781c6d,#7c1d6d,#8a226a,#84206b,#922568,#b43359,#ad305d,#ae305c,#a32c61,#a82e5f,#c03a51,#bc3754,#b1325a,#ab2f5e,#8d2369,#781c6d,#5f136e,#490b6a,#3b0964,#4d0d6c,#470b6a,#1f0c48,#1c0c43)"></i><i style="top:170.22px;height:5.36px;width:744.2px;background:linear-gradient(90deg,#3e0966,#62146e,#932667,#b63458,#b93556,#b63458,#85216b,#71196e,#a52c60,#c13a50,#c73e4c,#d24644,#b93556,#9d2964,#b0315b,#c33b4f,#c83f4b,#c33b4f,#ab2f5e,#85216b,#490b6a,#490b6a,#6d186e,#67166e,#470b6a,#4c0c6b,#510e6c,#4a0c6b,#3e0966,#3d0965,#4f0d6c,#59106e,#510e6c,#540f6d,#520e6d,#4d0d6c,#3d0965,#390963,#420a68,#340a5f,#210c4a,#400a67,#4c0c6b,#57106e,#781c6d,#771c6d,#71196e,#741a6e,#510e6c,#57106e,#3e0966,#360961,#4c0c6b,#59106e,#61136e,#67166e,#741a6e,#741a6e,#87216b,#9a2865,#c73e4c,#c33b4f,#7c1d6d,#6f196e,#751b6e,#741a6e,#a02a63,#9d2964,#801f6c,#781c6d,#771c6d,#751b6e,#520e6d,#510e6c,#400a67,#420a68,#64156e,#67166e,#64156e,#5d126e,#360961,#340a5f,#360961,#360961,#3d0965,#400a67,#340a5f,#2d0b59,#420a68,#450a69,#3b0964,#3e0966,#440a68,#4f0d6c,#550f6d,#6d186e,#9f2a63,#b93556,#cc4248,#ce4347,#b93556,#a32c61,#a82e5f,#bd3853,#de5238,#d84c3e,#b1325a,#982766,#9b2964,#9b2964,#8d2369,#a92e5e,#e15635,#e8602d,#d54a41,#c03a51,#c03a51,#c73e4c,#cf4446,#b43359,#a02a63,#87216b,#82206c,#902568,#982766,#ae305c,#bc3754,#c33b4f,#d44842,#c73e4c,#a62d60,#9d2964,#c13a50,#cb4149,#d44842,#c63d4d,#972766,#9f2a63,#cc4248,#c13a50,#cb4149,#b63458,#82206c,#972766,#a22b62,#ae305c,#cb4149,#c33b4f,#a82e5f,#a02a63,#bf3952,#d44842,#d04545,#d44842,#bd3853,#ad305d,#c13a50,#d24644,#ce4347,#c83f4b,#cb4149,#b43359,#b0315b,#bf3952,#ab2f5e,#a92e5e,#9d2964,#87216b,#8d2369,#7c1d6d,#6c186e,#64156e,#4f0d6c,#5c126e,#801f6c,#9a2865,#bc3754,#ca404a,#d34743,#c73e4c,#b73557,#a22b62,#85216b,#801f6c,#84206b,#88226a,#9b2964,#b0315b,#d04545,#d04545,#952667,#7d1e6d,#7f1e6c,#8a226a,#a62d60,#bc3754,#a92e5e,#a02a63,#a82e5f,#902568,#8f2469,#a22b62,#c83f4b,#c43c4e,#a22b62,#8c2369,#8f2469,#a32c61,#c13a50,#ca404a,#ad305d,#9b2964,#6c186e,#5c126e,#69166e,#7d1e6d,#c03a51,#b93556,#801f6c,#721a6e,#7f1e6c,#952667,#b43359,#ab2f5e,#9d2964,#8d2369,#a22b62,#c63d4d,#c43c4e,#ba3655,#9d2964,#7a1d6d,#6f196e,#922568,#a82e5f,#932667,#64156e,#6d186e,#a82e5f,#c03a51,#de5238,#e45a31,#b63458,#a22b62,#85216b,#8d2369,#c33b4f,#c63d4d,#cc4248,#b0315b,#59106e,#540f6d,#69166e,#7a1d6d,#9f2a63,#8c2369,#59106e,#5c126e,#82206c,#972766,#9d2964,#902568,#8a226a,#741a6e,#61136e,#71196e,#902568,#8f2469,#8d2369,#87216b,#6c186e,#7a1d6d,#9d2964,#ab2f5e,#9d2964,#8f2469,#972766,#bd3853,#b73557,#bf3952,#ba3655,#ba3655,#d44842,#db503b,#d34743,#d94d3d,#b93556,#a62d60,#982766,#8c2369,#8a226a,#972766,#a62d60,#a82e5f,#ab2f5e,#9b2964,#a92e5e,#c43c4e,#b93556,#b73557,#c03a51,#a82e5f,#982766,#b0315b,#b73557,#d04545,#cf4446,#c13a50,#a92e5e,#b0315b,#df5337,#e05536,#a32c61,#8a226a,#8d2369,#9a2865,#922568,#982766,#b1325a,#a92e5e,#ad305d,#a32c61,#a52c60,#c13a50,#bc3754,#b1325a,#ad305d,#8f2469,#7c1d6d,#510e6c,#3d0965,#2f0a5b,#420a68,#3d0965,#160b39,#140b34)"></i><i style="top:174.58px;height:5.36px;width:744.2px;background:linear-gradient(90deg,#470b6a,#6a176e,#9a2865,#bc3754,#ba3655,#b73557,#8a226a,#771c6d,#ab2f5e,#c73e4c,#ca404a,#d44842,#bd3853,#a32c61,#b43359,#ce4347,#d34743,#cf4446,#bc3754,#972766,#5a116e,#59106e,#7a1d6d,#721a6e,#510e6c,#490b6a,#4d0d6c,#550f6d,#490b6a,#450a69,#57106e,#57106e,#440a68,#470b6a,#420a68,#400a67,#310a5c,#2d0b59,#2f0a5b,#210c4a,#110a30,#340a5f,#400a67,#540f6d,#741a6e,#71196e,#6a176e,#6d186e,#4a0c6b,#4f0d6c,#490b6a,#380962,#4c0c6b,#450a69,#4d0d6c,#57106e,#67166e,#69166e,#741a6e,#88226a,#bc3754,#b73557,#6f196e,#62146e,#69166e,#64156e,#8f2469,#a92e5e,#8d2369,#8a226a,#88226a,#87216b,#470b6a,#450a69,#340a5f,#360961,#59106e,#5c126e,#771c6d,#6f196e,#4a0c6b,#3e0966,#320a5e,#2f0a5b,#380962,#3b0964,#2b0b57,#2f0a5b,#420a68,#440a68,#440a68,#470b6a,#470b6a,#520e6d,#5a116e,#721a6e,#a52c60,#bd3853,#cf4446,#d24644,#b3325a,#9d2964,#a22b62,#b93556,#da4e3c,#d44842,#ad305d,#a62d60,#ad305d,#ad305d,#9f2a63,#b43359,#e75e2e,#ed6925,#dd513a,#ca404a,#c83f4b,#cf4446,#d54a41,#c13a50,#ad305d,#952667,#8f2469,#9a2865,#932667,#a82e5f,#bc3754,#c33b4f,#d54a41,#ca404a,#a62d60,#9f2a63,#c33b4f,#cf4446,#d74b3f,#ca404a,#87216b,#8d2369,#bc3754,#c13a50,#cb4149,#bd3853,#8c2369,#a02a63,#ab2f5e,#b73557,#d44842,#cc4248,#b43359,#a22b62,#c63d4d,#da4e3c,#d44842,#d94d3d,#c33b4f,#c13a50,#db503b,#e8602d,#e8602d,#e35933,#e65d2f,#d34743,#cf4446,#da4e3c,#b93556,#b63458,#ab2f5e,#952667,#9f2a63,#8d2369,#7d1e6d,#751b6e,#5a116e,#69166e,#88226a,#a32c61,#c13a50,#ce4347,#cf4446,#c33b4f,#b1325a,#9b2964,#952667,#902568,#952667,#a82e5f,#a62d60,#b93556,#de5238,#da4e3c,#a22b62,#8a226a,#8c2369,#972766,#b3325a,#c73e4c,#b43359,#a92e5e,#b63458,#9b2964,#902568,#a22b62,#c73e4c,#c73e4c,#a62d60,#922568,#8a226a,#a02a63,#bd3853,#ca404a,#b73557,#a62d60,#771c6d,#67166e,#741a6e,#85216b,#c73e4c,#bf3952,#8f2469,#801f6c,#922568,#a92e5e,#c73e4c,#ca404a,#bd3853,#b1325a,#c43c4e,#e25734,#d44842,#cc4248,#b1325a,#a22b62,#952667,#a62d60,#bc3754,#a82e5f,#781c6d,#771c6d,#b0315b,#c73e4c,#e25734,#e75e2e,#b93556,#ad305d,#6d186e,#751b6e,#ad305d,#ae305c,#b93556,#9d2964,#450a69,#59106e,#6d186e,#801f6c,#a92e5e,#982766,#65156e,#6a176e,#972766,#ad305d,#b3325a,#a52c60,#9f2a63,#7c1d6d,#67166e,#6f196e,#8d2369,#982766,#952667,#902568,#741a6e,#84206b,#a62d60,#b3325a,#b1325a,#a32c61,#ab2f5e,#bf3952,#b93556,#bf3952,#ba3655,#a52c60,#b1325a,#ba3655,#b0315b,#cb4149,#c73e4c,#b63458,#a62d60,#9a2865,#982766,#a52c60,#b43359,#b63458,#b93556,#a92e5e,#ad305d,#ba3655,#ae305c,#ad305d,#bf3952,#a62d60,#952667,#a92e5e,#bc3754,#c33b4f,#c03a51,#b3325a,#a32c61,#a92e5e,#d94d3d,#d94d3d,#952667,#7d1e6d,#82206c,#8d2369,#84206b,#8f2469,#ab2f5e,#a32c61,#a82e5f,#a32c61,#a32c61,#b3325a,#ab2f5e,#a02a63,#9b2964,#7f1e6c,#6d186e,#57106e,#400a67,#320a5e,#440a68,#3d0965,#180c3c,#140b34)"></i><i style="top:178.95px;height:5.36px;width:744.2px;background:linear-gradient(90deg,#64156e,#87216b,#bd3853,#d94d3d,#d84c3e,#d74b3f,#ae305c,#8a226a,#bf3952,#d74b3f,#dd513a,#e55c30,#d34743,#bc3754,#cc4248,#db503b,#df5337,#db503b,#da4e3c,#bc3754,#801f6c,#6c186e,#8c2369,#82206c,#5f136e,#510e6c,#520e6d,#4a0c6b,#3d0965,#390963,#4d0d6c,#4c0c6b,#490b6a,#4c0c6b,#470b6a,#450a69,#360961,#320a5e,#3b0964,#340a5f,#210c4a,#3e0966,#4a0c6b,#4d0d6c,#6d186e,#69166e,#61136e,#64156e,#400a67,#440a68,#3d0965,#320a5e,#470b6a,#57106e,#62146e,#6c186e,#7f1e6c,#82206c,#902568,#a32c61,#d84c3e,#d44842,#922568,#82206c,#87216b,#82206c,#ae305c,#ab2f5e,#8f2469,#8d2369,#8c2369,#88226a,#69166e,#69166e,#59106e,#5a116e,#7d1e6d,#7f1e6c,#7d1e6d,#771c6d,#4d0d6c,#440a68,#470b6a,#420a68,#4a0c6b,#4c0c6b,#3e0966,#420a68,#540f6d,#57106e,#4c0c6b,#4f0d6c,#540f6d,#57106e,#5f136e,#771c6d,#a82e5f,#c73e4c,#d94d3d,#dd513a,#cc4248,#ba3655,#bf3952,#d24644,#f37819,#f1711f,#d74b3f,#c33b4f,#c83f4b,#c83f4b,#ba3655,#d24644,#f06f20,#f47918,#e75e2e,#d84c3e,#d44842,#da4e3c,#e05536,#ce4347,#bc3754,#972766,#902568,#9f2a63,#ae305c,#c13a50,#cc4248,#d94d3d,#e8602d,#e05536,#c73e4c,#c03a51,#de5238,#e75e2e,#eb6628,#e25734,#ab2f5e,#b0315b,#d84c3e,#d24644,#da4e3c,#d04545,#a22b62,#b63458,#bc3754,#cb4149,#e45a31,#df5337,#cb4149,#ae305c,#cc4248,#de5238,#d94d3d,#dd513a,#cc4248,#bd3853,#d24644,#de5238,#de5238,#d84c3e,#db503b,#c73e4c,#c13a50,#d44842,#c03a51,#bd3853,#b3325a,#8c2369,#952667,#85216b,#751b6e,#7d1e6d,#6a176e,#771c6d,#972766,#ae305c,#ca404a,#d54a41,#d54a41,#cb4149,#bd3853,#a92e5e,#8d2369,#88226a,#9b2964,#ae305c,#c03a51,#d04545,#ea632a,#e75e2e,#b43359,#9f2a63,#a62d60,#b1325a,#ca404a,#cc4248,#ba3655,#b1325a,#ad305d,#932667,#8f2469,#a02a63,#c43c4e,#c03a51,#a02a63,#8c2369,#a22b62,#b73557,#d24644,#d94d3d,#ca404a,#b43359,#85216b,#751b6e,#801f6c,#8a226a,#ca404a,#c33b4f,#8c2369,#7c1d6d,#88226a,#9f2a63,#bf3952,#c33b4f,#b63458,#ab2f5e,#c63d4d,#e25734,#df5337,#d84c3e,#c13a50,#87216b,#7c1d6d,#8c2369,#a22b62,#85216b,#550f6d,#520e6d,#8a226a,#a02a63,#bf3952,#c63d4d,#8c2369,#9b2964,#84206b,#87216b,#bd3853,#c03a51,#cb4149,#b3325a,#5d126e,#61136e,#751b6e,#9b2964,#c03a51,#ae305c,#7c1d6d,#801f6c,#9b2964,#b0315b,#b63458,#9f2a63,#9a2865,#82206c,#6c186e,#7c1d6d,#9a2865,#a32c61,#a02a63,#9b2964,#801f6c,#8f2469,#c83f4b,#d34743,#c73e4c,#bc3754,#c33b4f,#d34743,#cc4248,#b73557,#b3325a,#b63458,#d04545,#d84c3e,#cc4248,#d34743,#cb4149,#bd3853,#b3325a,#a82e5f,#a52c60,#b1325a,#c73e4c,#c73e4c,#c03a51,#b1325a,#b43359,#ca404a,#bc3754,#bc3754,#ce4347,#b73557,#a62d60,#b93556,#bd3853,#c13a50,#c03a51,#b3325a,#a62d60,#ab2f5e,#de5238,#df5337,#a22b62,#8c2369,#922568,#88226a,#7c1d6d,#85216b,#a22b62,#9a2865,#a02a63,#972766,#932667,#a52c60,#ad305d,#a02a63,#9f2a63,#84206b,#721a6e,#5c126e,#470b6a,#360961,#3d0965,#360961,#140b34,#120a32)"></i><i style="top:183.31px;height:5.36px;width:744.2px;background:linear-gradient(90deg,#62146e,#84206b,#a22b62,#c03a51,#bf3952,#bc3754,#8f2469,#7d1e6d,#b1325a,#ca404a,#d44842,#e25734,#cf4446,#ba3655,#cb4149,#ce4347,#d24644,#ce4347,#bd3853,#9d2964,#61136e,#6c186e,#8c2369,#751b6e,#540f6d,#4a0c6b,#4d0d6c,#510e6c,#420a68,#3e0966,#520e6d,#520e6d,#5f136e,#62146e,#5c126e,#59106e,#490b6a,#450a69,#390963,#290b55,#160b39,#340a5f,#400a67,#440a68,#65156e,#62146e,#5d126e,#5f136e,#3b0964,#3e0966,#380962,#2b0b57,#450a69,#520e6d,#5c126e,#65156e,#69166e,#6d186e,#7a1d6d,#8c2369,#bd3853,#c33b4f,#7d1e6d,#721a6e,#771c6d,#721a6e,#9f2a63,#9b2964,#801f6c,#7f1e6c,#7f1e6c,#7d1e6d,#65156e,#65156e,#57106e,#5a116e,#7d1e6d,#82206c,#7d1e6d,#751b6e,#510e6c,#450a69,#470b6a,#400a67,#490b6a,#4a0c6b,#490b6a,#4c0c6b,#5f136e,#62146e,#550f6d,#5a116e,#5f136e,#6d186e,#751b6e,#8d2369,#bc3754,#d04545,#e15635,#d44842,#c43c4e,#b3325a,#b63458,#dd513a,#f3761b,#f1711f,#d74b3f,#c63d4d,#cc4248,#cb4149,#bd3853,#d34743,#ec6726,#f1711f,#e25734,#d34743,#ce4347,#d44842,#db503b,#cb4149,#ba3655,#b3325a,#ad305d,#ba3655,#b3325a,#c43c4e,#cf4446,#d44842,#e55c30,#dd513a,#c33b4f,#bd3853,#da4e3c,#e35933,#e15635,#d54a41,#9b2964,#a02a63,#ca404a,#ce4347,#d84c3e,#ce4347,#a02a63,#b3325a,#bd3853,#c83f4b,#e25734,#de5238,#ca404a,#b93556,#d44842,#e35933,#e35933,#e65d2f,#d44842,#c73e4c,#d94d3d,#e45a31,#e9612b,#e55c30,#e9612b,#c43c4e,#bf3952,#ca404a,#b43359,#b1325a,#a82e5f,#952667,#9b2964,#8a226a,#7a1d6d,#721a6e,#5d126e,#6a176e,#8a226a,#9b2964,#b93556,#c33b4f,#c33b4f,#b73557,#bf3952,#ad305d,#902568,#8d2369,#922568,#a32c61,#b43359,#c63d4d,#e15635,#e65d2f,#b43359,#a02a63,#a32c61,#ad305d,#cb4149,#da4e3c,#ca404a,#b0315b,#bc3754,#a52c60,#a02a63,#b0315b,#d24644,#cf4446,#ad305d,#9b2964,#9d2964,#a62d60,#c13a50,#ca404a,#b93556,#b43359,#85216b,#771c6d,#801f6c,#902568,#cf4446,#c73e4c,#922568,#84206b,#9b2964,#b0315b,#ca404a,#cc4248,#c13a50,#b73557,#cb4149,#e35933,#e05536,#d54a41,#c13a50,#a52c60,#922568,#a02a63,#b93556,#a82e5f,#781c6d,#751b6e,#ab2f5e,#bd3853,#d84c3e,#dd513a,#a82e5f,#9d2964,#87216b,#902568,#cc4248,#ce4347,#d94d3d,#c63d4d,#62146e,#65156e,#781c6d,#88226a,#c03a51,#b3325a,#82206c,#85216b,#a32c61,#b63458,#b3325a,#a62d60,#a32c61,#8d2369,#781c6d,#88226a,#a52c60,#ae305c,#9b2964,#952667,#7c1d6d,#88226a,#a82e5f,#b43359,#a62d60,#b3325a,#ba3655,#ca404a,#b93556,#bd3853,#b93556,#ab2f5e,#ca404a,#d04545,#c33b4f,#ca404a,#c63d4d,#b3325a,#a92e5e,#9f2a63,#9b2964,#ab2f5e,#b93556,#ba3655,#bd3853,#b1325a,#b43359,#c83f4b,#b93556,#a62d60,#ba3655,#a52c60,#902568,#a22b62,#a32c61,#a82e5f,#a62d60,#982766,#a22b62,#a62d60,#d54a41,#d54a41,#982766,#84206b,#8c2369,#952667,#902568,#982766,#b3325a,#b0315b,#b63458,#ad305d,#a82e5f,#b1325a,#a82e5f,#9f2a63,#9d2964,#84206b,#751b6e,#61136e,#2f0a5b,#230c4c,#340a5f,#2d0b59,#0c0826,#0a0722)"></i><i style="top:187.68px;height:5.36px;width:744.2px;background:linear-gradient(90deg,#470b6a,#6a176e,#982766,#b73557,#b63458,#b1325a,#9b2964,#8a226a,#bc3754,#d04545,#d94d3d,#df5337,#ca404a,#b73557,#c83f4b,#e35933,#e55c30,#e35933,#d94d3d,#bd3853,#84206b,#84206b,#9a2865,#902568,#62146e,#5a116e,#5f136e,#57106e,#490b6a,#450a69,#59106e,#510e6c,#450a69,#470b6a,#400a67,#3d0965,#2d0b59,#2b0b57,#390963,#290b55,#160b39,#340a5f,#420a68,#450a69,#69166e,#65156e,#5d126e,#62146e,#3d0965,#400a67,#380962,#2d0b59,#3b0964,#470b6a,#4f0d6c,#5a116e,#6c186e,#6f196e,#7c1d6d,#85216b,#b73557,#b3325a,#71196e,#65156e,#6c186e,#65156e,#922568,#8f2469,#721a6e,#721a6e,#721a6e,#721a6e,#5c126e,#5c126e,#4f0d6c,#550f6d,#781c6d,#8a226a,#85216b,#7d1e6d,#550f6d,#490b6a,#4a0c6b,#2f0a5b,#380962,#390963,#280b53,#290b55,#3d0965,#400a67,#3b0964,#3d0965,#400a67,#62146e,#69166e,#7f1e6c,#a32c61,#ba3655,#cc4248,#d24644,#c13a50,#b3325a,#b3325a,#bc3754,#dd513a,#e05536,#bf3952,#ad305d,#b63458,#b63458,#a32c61,#bf3952,#eb6429,#ee6a24,#df5337,#d04545,#cb4149,#d04545,#d94d3d,#ca404a,#ce4347,#ba3655,#b63458,#c13a50,#ba3655,#b43359,#bf3952,#c43c4e,#d84c3e,#cf4446,#b0315b,#a92e5e,#ca404a,#d34743,#d94d3d,#d54a41,#9b2964,#9f2a63,#ca404a,#cc4248,#ca404a,#bf3952,#902568,#a32c61,#ab2f5e,#b63458,#d44842,#c43c4e,#ae305c,#9b2964,#b93556,#ca404a,#c03a51,#c33b4f,#b63458,#a62d60,#bd3853,#ca404a,#ca404a,#c43c4e,#ca404a,#b73557,#b1325a,#bd3853,#a52c60,#a32c61,#9a2865,#932667,#a02a63,#902568,#84206b,#7c1d6d,#67166e,#721a6e,#902568,#a52c60,#bf3952,#c73e4c,#c73e4c,#bc3754,#b93556,#a82e5f,#8d2369,#88226a,#8d2369,#9f2a63,#ae305c,#bd3853,#d94d3d,#d54a41,#9f2a63,#8d2369,#922568,#82206c,#9a2865,#ab2f5e,#952667,#8d2369,#9d2964,#87216b,#801f6c,#902568,#d54a41,#d34743,#b73557,#a62d60,#a82e5f,#c03a51,#d84c3e,#df5337,#a82e5f,#9a2865,#6c186e,#5d126e,#67166e,#751b6e,#c63d4d,#bf3952,#88226a,#7a1d6d,#82206c,#932667,#c73e4c,#c83f4b,#bd3853,#b3325a,#c63d4d,#dd513a,#d94d3d,#d44842,#c33b4f,#a92e5e,#9f2a63,#ad305d,#c33b4f,#b63458,#88226a,#84206b,#a92e5e,#bc3754,#d54a41,#d94d3d,#a32c61,#9a2865,#85216b,#8d2369,#b0315b,#b3325a,#c13a50,#ad305d,#61136e,#65156e,#902568,#9b2964,#bf3952,#b1325a,#82206c,#7a1d6d,#952667,#a62d60,#ab2f5e,#a22b62,#c13a50,#ae305c,#9a2865,#a92e5e,#c43c4e,#cc4248,#d34743,#ce4347,#b73557,#c13a50,#ce4347,#d74b3f,#cb4149,#c13a50,#c83f4b,#d74b3f,#ce4347,#b63458,#b3325a,#a62d60,#c73e4c,#cc4248,#bf3952,#c43c4e,#c03a51,#b3325a,#ab2f5e,#b0315b,#ab2f5e,#ba3655,#c63d4d,#c73e4c,#cb4149,#c73e4c,#ca404a,#da4e3c,#cc4248,#cb4149,#e15635,#d04545,#bd3853,#ca404a,#cb4149,#cc4248,#cb4149,#b0315b,#a62d60,#ab2f5e,#d84c3e,#d94d3d,#9d2964,#902568,#9a2865,#a92e5e,#9a2865,#a02a63,#ba3655,#b43359,#ba3655,#b3325a,#ad305d,#b93556,#9d2964,#932667,#932667,#7d1e6d,#71196e,#5c126e,#490b6a,#390963,#510e6c,#4a0c6b,#240c4f,#1f0c48)"></i><i style="top:192.04px;height:5.36px;width:744.2px;background:linear-gradient(90deg,#6a176e,#8c2369,#b93556,#e15635,#e05536,#db503b,#b3325a,#a22b62,#cf4446,#e05536,#e45a31,#e8602d,#d24644,#c13a50,#d04545,#de5238,#e15635,#df5337,#d34743,#b93556,#801f6c,#801f6c,#9d2964,#a52c60,#82206c,#7c1d6d,#7f1e6c,#771c6d,#6a176e,#67166e,#751b6e,#741a6e,#69166e,#69166e,#61136e,#5d126e,#4c0c6b,#4a0c6b,#540f6d,#450a69,#310a5c,#520e6d,#61136e,#64156e,#88226a,#71196e,#69166e,#6a176e,#420a68,#450a69,#340a5f,#280b53,#3b0964,#470b6a,#550f6d,#5d126e,#71196e,#741a6e,#7f1e6c,#88226a,#b93556,#b43359,#6d186e,#64156e,#64156e,#5f136e,#8c2369,#88226a,#6a176e,#6c186e,#6d186e,#6f196e,#57106e,#5a116e,#4d0d6c,#540f6d,#85216b,#85216b,#7d1e6d,#741a6e,#4c0c6b,#3e0966,#470b6a,#3e0966,#450a69,#470b6a,#380962,#390963,#4d0d6c,#400a67,#3b0964,#3e0966,#380962,#450a69,#4c0c6b,#62146e,#902568,#a62d60,#ba3655,#c63d4d,#b63458,#ca404a,#ca404a,#d84c3e,#f06f20,#d74b3f,#b63458,#a32c61,#ae305c,#ae305c,#a62d60,#bc3754,#e8602d,#eb6628,#db503b,#cf4446,#c73e4c,#cc4248,#d74b3f,#c33b4f,#b63458,#a22b62,#9f2a63,#c13a50,#b93556,#c83f4b,#d24644,#d74b3f,#e8602d,#e15635,#cb4149,#c73e4c,#e15635,#e75e2e,#ec6726,#e45a31,#b1325a,#b43359,#e65d2f,#e8602d,#ef6e21,#ea632a,#c83f4b,#d54a41,#db503b,#e35933,#ec6726,#ea632a,#da4e3c,#cc4248,#e25734,#ec6726,#e45a31,#e65d2f,#d34743,#cc4248,#de5238,#e75e2e,#e65d2f,#e45a31,#ed6925,#e25734,#dd513a,#e55c30,#d44842,#d24644,#bd3853,#ae305c,#ba3655,#ab2f5e,#9b2964,#922568,#7d1e6d,#88226a,#a52c60,#c03a51,#d54a41,#db503b,#da4e3c,#d24644,#cb4149,#bc3754,#a22b62,#9a2865,#9d2964,#ad305d,#ba3655,#c83f4b,#f2741c,#f1731d,#ca404a,#ba3655,#c03a51,#c83f4b,#cb4149,#d84c3e,#c73e4c,#c03a51,#cf4446,#bf3952,#b93556,#cb4149,#e75e2e,#e65d2f,#cf4446,#b43359,#b73557,#c83f4b,#e75e2e,#eb6628,#e05536,#d74b3f,#ae305c,#a22b62,#982766,#a52c60,#df5337,#d94d3d,#a92e5e,#952667,#9b2964,#a92e5e,#c33b4f,#c33b4f,#b73557,#ad305d,#d24644,#e45a31,#df5337,#db503b,#ce4347,#b93556,#ae305c,#ba3655,#d04545,#c43c4e,#982766,#952667,#b63458,#c43c4e,#db503b,#db503b,#a62d60,#9b2964,#8a226a,#922568,#c43c4e,#c73e4c,#d54a41,#c63d4d,#751b6e,#7a1d6d,#88226a,#952667,#b93556,#922568,#62146e,#64156e,#7d1e6d,#8c2369,#922568,#8a226a,#8a226a,#781c6d,#7c1d6d,#8c2369,#a82e5f,#b0315b,#ab2f5e,#b1325a,#982766,#a22b62,#bd3853,#ad305d,#9f2a63,#932667,#9f2a63,#ad305d,#a22b62,#a52c60,#a22b62,#972766,#c63d4d,#cc4248,#bc3754,#c03a51,#bc3754,#ca404a,#c43c4e,#bc3754,#b63458,#bd3853,#c83f4b,#ca404a,#cf4446,#b43359,#b73557,#c83f4b,#a62d60,#a62d60,#bd3853,#a92e5e,#922568,#9f2a63,#b0315b,#b1325a,#ae305c,#9d2964,#972766,#9b2964,#ca404a,#cb4149,#8d2369,#62146e,#6d186e,#771c6d,#64156e,#6f196e,#8a226a,#87216b,#8f2469,#87216b,#972766,#a22b62,#982766,#902568,#922568,#7d1e6d,#61136e,#4d0d6c,#3d0965,#2f0a5b,#400a67,#3b0964,#150b37,#120a32)"></i><i style="top:196.41px;height:5.36px;width:744.2px;background:linear-gradient(90deg,#85216b,#a62d60,#cf4446,#e55c30,#e35933,#df5337,#b73557,#a62d60,#cf4446,#de5238,#e15635,#e35933,#cf4446,#c13a50,#d34743,#df5337,#e45a31,#e25734,#d94d3d,#c13a50,#8c2369,#8c2369,#a82e5f,#a22b62,#7f1e6c,#7f1e6c,#82206c,#7c1d6d,#6f196e,#6a176e,#7d1e6d,#7a1d6d,#65156e,#65156e,#5d126e,#59106e,#470b6a,#470b6a,#520e6d,#440a68,#2f0a5b,#520e6d,#5c126e,#62146e,#85216b,#801f6c,#781c6d,#781c6d,#510e6c,#540f6d,#4a0c6b,#3d0965,#5d126e,#69166e,#6f196e,#781c6d,#8a226a,#8d2369,#982766,#a82e5f,#e15635,#de5238,#a02a63,#972766,#721a6e,#6d186e,#9a2865,#972766,#7a1d6d,#8c2369,#8f2469,#902568,#7c1d6d,#7f1e6c,#741a6e,#7a1d6d,#a02a63,#9d2964,#952667,#a22b62,#7a1d6d,#6c186e,#6a176e,#61136e,#64156e,#65156e,#57106e,#5a116e,#550f6d,#57106e,#520e6d,#550f6d,#5a116e,#5a116e,#61136e,#8c2369,#b73557,#ca404a,#da4e3c,#df5337,#d44842,#b43359,#b1325a,#c03a51,#e05536,#de5238,#bf3952,#b0315b,#bc3754,#c33b4f,#ae305c,#c03a51,#ea632a,#ed6925,#df5337,#d34743,#ca404a,#cf4446,#d94d3d,#ce4347,#c73e4c,#b73557,#b3325a,#c03a51,#b73557,#c63d4d,#ce4347,#d24644,#e45a31,#de5238,#bd3853,#b93556,#d44842,#da4e3c,#ee6a24,#e75e2e,#b1325a,#b43359,#d94d3d,#db503b,#e55c30,#e65d2f,#c43c4e,#d24644,#d74b3f,#de5238,#f1731d,#ef6e21,#e05536,#d44842,#e65d2f,#ea632a,#e05536,#e25734,#ce4347,#c13a50,#d54a41,#df5337,#de5238,#db503b,#e45a31,#d84c3e,#d34743,#db503b,#c83f4b,#c63d4d,#bf3952,#b0315b,#bf3952,#b0315b,#a02a63,#952667,#801f6c,#8c2369,#ab2f5e,#ba3655,#d94d3d,#de5238,#dd513a,#d44842,#cf4446,#c13a50,#972766,#932667,#972766,#a52c60,#b1325a,#c33b4f,#de5238,#db503b,#a82e5f,#9a2865,#ab2f5e,#b43359,#c73e4c,#d24644,#c03a51,#ba3655,#cc4248,#b93556,#b3325a,#c03a51,#df5337,#de5238,#c63d4d,#b93556,#bc3754,#ca404a,#de5238,#e35933,#d54a41,#cb4149,#a32c61,#972766,#9b2964,#9a2865,#d74b3f,#d04545,#bd3853,#b1325a,#b43359,#c03a51,#d54a41,#d54a41,#ca404a,#85216b,#9b2964,#b0315b,#a82e5f,#a52c60,#952667,#801f6c,#8c2369,#9a2865,#b3325a,#a92e5e,#781c6d,#741a6e,#a62d60,#b43359,#ce4347,#d04545,#801f6c,#771c6d,#65156e,#6f196e,#a22b62,#a52c60,#b73557,#b63458,#65156e,#6a176e,#751b6e,#801f6c,#a52c60,#982766,#6a176e,#8a226a,#a02a63,#ad305d,#b3325a,#ab2f5e,#ae305c,#9f2a63,#8c2369,#85216b,#a22b62,#a92e5e,#a52c60,#9f2a63,#87216b,#902568,#a92e5e,#b1325a,#922568,#88226a,#932667,#a02a63,#932667,#972766,#932667,#8a226a,#c03a51,#c63d4d,#b3325a,#b73557,#b3325a,#a62d60,#a82e5f,#9f2a63,#a82e5f,#b0315b,#c83f4b,#ca404a,#d04545,#c83f4b,#c03a51,#cf4446,#b3325a,#b1325a,#c83f4b,#b73557,#9f2a63,#a82e5f,#a52c60,#a52c60,#a32c61,#a32c61,#9f2a63,#9b2964,#ca404a,#ca404a,#8c2369,#7f1e6c,#8c2369,#932667,#7f1e6c,#82206c,#9b2964,#952667,#9f2a63,#972766,#932667,#9b2964,#922568,#8a226a,#8f2469,#7c1d6d,#71196e,#5f136e,#4d0d6c,#400a67,#510e6c,#4f0d6c,#290b55,#240c4f)"></i><i style="top:200.77px;height:5.36px;width:744.2px;background:linear-gradient(90deg,#7a1d6d,#9a2865,#c13a50,#d94d3d,#d74b3f,#d34743,#a92e5e,#972766,#c63d4d,#d44842,#d74b3f,#e05536,#cb4149,#bf3952,#d24644,#dd513a,#df5337,#de5238,#d44842,#bf3952,#8a226a,#7f1e6c,#9b2964,#932667,#721a6e,#6c186e,#71196e,#6a176e,#67166e,#64156e,#771c6d,#751b6e,#69166e,#69166e,#61136e,#5c126e,#4c0c6b,#4c0c6b,#3e0966,#310a5c,#1b0c41,#3e0966,#71196e,#751b6e,#7f1e6c,#7a1d6d,#721a6e,#721a6e,#4a0c6b,#4d0d6c,#440a68,#4d0d6c,#5f136e,#6a176e,#71196e,#781c6d,#8c2369,#902568,#932667,#b1325a,#da4e3c,#d84c3e,#972766,#8f2469,#952667,#84206b,#b0315b,#ad305d,#8f2469,#922568,#932667,#a92e5e,#932667,#972766,#8c2369,#7a1d6d,#9f2a63,#9b2964,#932667,#88226a,#61136e,#540f6d,#69166e,#5f136e,#62146e,#771c6d,#69166e,#6a176e,#7f1e6c,#801f6c,#64156e,#69166e,#6d186e,#7c1d6d,#8a226a,#9d2964,#c73e4c,#d74b3f,#e55c30,#dd513a,#d34743,#c83f4b,#ce4347,#da4e3c,#f1711f,#ef6e21,#da4e3c,#cf4446,#da4e3c,#d54a41,#c03a51,#cf4446,#f1731d,#f8850f,#ef6c23,#e75e2e,#df5337,#e35933,#ec6726,#de5238,#d84c3e,#cb4149,#c83f4b,#d24644,#c83f4b,#d44842,#da4e3c,#de5238,#ec6726,#e75e2e,#db503b,#d84c3e,#eb6429,#ef6c23,#ec6726,#e75e2e,#b93556,#bc3754,#de5238,#e05536,#e9612b,#e35933,#b93556,#c63d4d,#c83f4b,#d04545,#e8602d,#e55c30,#d74b3f,#cb4149,#df5337,#ef6c23,#e65d2f,#e8602d,#d34743,#c83f4b,#db503b,#e65d2f,#e55c30,#e35933,#e45a31,#d94d3d,#d34743,#db503b,#c63d4d,#c43c4e,#bf3952,#bd3853,#ce4347,#c33b4f,#b43359,#ad305d,#82206c,#8c2369,#a62d60,#b43359,#c83f4b,#ce4347,#cc4248,#c43c4e,#c03a51,#b3325a,#9a2865,#952667,#9a2865,#9f2a63,#a92e5e,#b63458,#d24644,#d04545,#ab2f5e,#9d2964,#a62d60,#ae305c,#c03a51,#cb4149,#b63458,#b1325a,#b0315b,#a02a63,#972766,#a32c61,#c63d4d,#c43c4e,#a92e5e,#9d2964,#c43c4e,#d24644,#e45a31,#e8602d,#dd513a,#d54a41,#b43359,#a82e5f,#ad305d,#b73557,#ea632a,#e55c30,#bc3754,#b1325a,#c73e4c,#d04545,#e25734,#e35933,#d94d3d,#d24644,#e25734,#ea632a,#ca404a,#c73e4c,#ba3655,#a82e5f,#9f2a63,#b0315b,#c73e4c,#bf3952,#982766,#932667,#c43c4e,#d04545,#e45a31,#e75e2e,#b73557,#b0315b,#a22b62,#982766,#c83f4b,#cb4149,#da4e3c,#ce4347,#801f6c,#85216b,#902568,#9a2865,#bc3754,#b1325a,#84206b,#85216b,#9a2865,#a62d60,#ad305d,#b0315b,#b3325a,#b1325a,#9f2a63,#ad305d,#c63d4d,#cc4248,#c73e4c,#c13a50,#ab2f5e,#b3325a,#bd3853,#c33b4f,#b63458,#a82e5f,#b3325a,#bf3952,#b1325a,#b43359,#b1325a,#a82e5f,#cc4248,#db503b,#cb4149,#c73e4c,#c43c4e,#ba3655,#b73557,#b0315b,#a62d60,#ae305c,#b93556,#bc3754,#c33b4f,#ba3655,#ba3655,#c83f4b,#b63458,#b43359,#cc4248,#bd3853,#ae305c,#b73557,#b3325a,#b3325a,#b0315b,#9b2964,#982766,#9b2964,#bd3853,#bf3952,#7f1e6c,#721a6e,#85216b,#8d2369,#781c6d,#7d1e6d,#982766,#932667,#ae305c,#a62d60,#9b2964,#a32c61,#9a2865,#9f2a63,#a22b62,#8f2469,#85216b,#550f6d,#440a68,#360961,#490b6a,#420a68,#1b0c41,#180c3c)"></i><i style="top:205.14px;height:5.36px;width:744.2px;background:linear-gradient(90deg,#6d186e,#8a226a,#b1325a,#ca404a,#c63d4d,#c33b4f,#8f2469,#801f6c,#c33b4f,#cf4446,#d04545,#d44842,#bf3952,#b43359,#c83f4b,#d24644,#d34743,#cf4446,#c63d4d,#b0315b,#7c1d6d,#801f6c,#9b2964,#88226a,#67166e,#5f136e,#65156e,#5f136e,#520e6d,#4f0d6c,#62146e,#61136e,#520e6d,#520e6d,#490b6a,#450a69,#340a5f,#340a5f,#400a67,#310a5c,#1b0c41,#420a68,#4f0d6c,#540f6d,#771c6d,#741a6e,#6c186e,#6d186e,#540f6d,#59106e,#4f0d6c,#440a68,#4a0c6b,#550f6d,#5c126e,#64156e,#771c6d,#7c1d6d,#87216b,#952667,#c33b4f,#d24644,#8f2469,#87216b,#8f2469,#8a226a,#b63458,#b3325a,#972766,#7f1e6c,#801f6c,#82206c,#6c186e,#6d186e,#62146e,#67166e,#922568,#8f2469,#88226a,#7d1e6d,#57106e,#4a0c6b,#4a0c6b,#420a68,#310a5c,#310a5c,#360961,#380962,#4a0c6b,#4c0c6b,#490b6a,#4c0c6b,#4f0d6c,#490b6a,#4d0d6c,#61136e,#8c2369,#9f2a63,#b1325a,#b93556,#cf4446,#c73e4c,#c03a51,#cc4248,#e8602d,#e05536,#c63d4d,#ba3655,#c83f4b,#bf3952,#a52c60,#b3325a,#de5238,#e05536,#cc4248,#c13a50,#b43359,#ba3655,#d94d3d,#d24644,#cc4248,#c13a50,#b73557,#c33b4f,#b93556,#c33b4f,#c43c4e,#c73e4c,#da4e3c,#da4e3c,#c63d4d,#c03a51,#d74b3f,#dd513a,#e35933,#de5238,#a02a63,#a32c61,#c83f4b,#cb4149,#e75e2e,#e15635,#bf3952,#ba3655,#bc3754,#c13a50,#de5238,#da4e3c,#c33b4f,#b73557,#ce4347,#d84c3e,#cb4149,#cc4248,#b73557,#ae305c,#c43c4e,#cc4248,#ca404a,#c73e4c,#d34743,#c73e4c,#b63458,#bd3853,#a32c61,#a22b62,#9d2964,#b3325a,#c73e4c,#bc3754,#a02a63,#982766,#84206b,#8d2369,#b1325a,#bf3952,#d04545,#d44842,#d34743,#c73e4c,#c33b4f,#b73557,#a02a63,#b0315b,#b3325a,#bd3853,#c73e4c,#cf4446,#cf4446,#ce4347,#982766,#8c2369,#972766,#9d2964,#c43c4e,#cc4248,#b73557,#b3325a,#c63d4d,#b93556,#ae305c,#b73557,#d74b3f,#d44842,#bd3853,#b3325a,#ba3655,#c73e4c,#db503b,#e05536,#d34743,#c13a50,#9a2865,#8f2469,#922568,#9b2964,#d74b3f,#d24644,#a32c61,#982766,#982766,#a32c61,#ba3655,#ba3655,#b0315b,#a62d60,#c63d4d,#d44842,#cb4149,#c83f4b,#bd3853,#ae305c,#9a2865,#b0315b,#c73e4c,#c03a51,#982766,#952667,#c63d4d,#d24644,#e65d2f,#e9612b,#ad305d,#a62d60,#982766,#a02a63,#ce4347,#cf4446,#e9612b,#df5337,#982766,#9d2964,#a62d60,#b0315b,#d04545,#c73e4c,#a82e5f,#a82e5f,#bc3754,#c63d4d,#cb4149,#c63d4d,#ca404a,#b1325a,#9d2964,#a92e5e,#c33b4f,#ca404a,#c33b4f,#c63d4d,#b0315b,#b63458,#cb4149,#cf4446,#b0315b,#a62d60,#b3325a,#bd3853,#a22b62,#a52c60,#a32c61,#9a2865,#c13a50,#d34743,#c03a51,#cc4248,#ca404a,#c13a50,#c03a51,#ba3655,#b1325a,#bd3853,#c73e4c,#c73e4c,#ce4347,#c63d4d,#c73e4c,#d24644,#bf3952,#c13a50,#d84c3e,#cb4149,#b3325a,#ba3655,#b43359,#b43359,#972766,#8d2369,#8a226a,#8d2369,#bc3754,#bd3853,#7d1e6d,#721a6e,#801f6c,#771c6d,#62146e,#67166e,#84206b,#7f1e6c,#8a226a,#85216b,#9a2865,#a22b62,#972766,#8d2369,#922568,#7f1e6c,#771c6d,#65156e,#540f6d,#450a69,#61136e,#5a116e,#320a5e,#0c0826)"></i><i style="top:209.50px;height:5.36px;width:744.2px;background:linear-gradient(90deg,#741a6e,#8f2469,#b43359,#ca404a,#c63d4d,#c43c4e,#9d2964,#932667,#dd513a,#e65d2f,#e65d2f,#e9612b,#d94d3d,#d24644,#e25734,#e8602d,#e45a31,#e35933,#dd513a,#cb4149,#9b2964,#a22b62,#bc3754,#b63458,#952667,#8d2369,#932667,#8d2369,#801f6c,#7d1e6d,#922568,#902568,#85216b,#85216b,#781c6d,#751b6e,#65156e,#65156e,#6d186e,#5f136e,#4a0c6b,#6a176e,#7d1e6d,#82206c,#a52c60,#8f2469,#87216b,#8a226a,#5d126e,#62146e,#5a116e,#4d0d6c,#61136e,#6a176e,#71196e,#781c6d,#972766,#9b2964,#a62d60,#b73557,#df5337,#dd513a,#9d2964,#952667,#9f2a63,#982766,#c43c4e,#c13a50,#a62d60,#a62d60,#a22b62,#a32c61,#8c2369,#8d2369,#801f6c,#85216b,#a82e5f,#a52c60,#9d2964,#952667,#7d1e6d,#721a6e,#741a6e,#6c186e,#71196e,#721a6e,#4d0d6c,#4d0d6c,#61136e,#61136e,#5d126e,#65156e,#6a176e,#771c6d,#7c1d6d,#8f2469,#b73557,#c73e4c,#d74b3f,#dd513a,#c63d4d,#bf3952,#b73557,#c13a50,#e05536,#df5337,#c63d4d,#d54a41,#e25734,#e15635,#cb4149,#d44842,#f2741c,#f3761b,#cc4248,#c13a50,#b1325a,#b0315b,#c03a51,#ba3655,#b73557,#ae305c,#ae305c,#b93556,#ad305d,#b63458,#ba3655,#bc3754,#d04545,#c83f4b,#c73e4c,#c33b4f,#d84c3e,#dd513a,#e45a31,#da4e3c,#ab2f5e,#ae305c,#d24644,#d44842,#e15635,#db503b,#b73557,#c03a51,#c03a51,#d04545,#e8602d,#e55c30,#d84c3e,#d04545,#e25734,#ec6726,#e25734,#e45a31,#d44842,#bc3754,#d24644,#d74b3f,#d44842,#d04545,#dd513a,#d34743,#ca404a,#e05536,#cb4149,#ca404a,#c73e4c,#bf3952,#c73e4c,#bd3853,#b1325a,#ab2f5e,#972766,#9f2a63,#b73557,#c13a50,#cb4149,#cf4446,#cf4446,#c83f4b,#c63d4d,#bc3754,#9a2865,#972766,#982766,#a32c61,#ad305d,#b63458,#d44842,#d34743,#a02a63,#952667,#a02a63,#a82e5f,#b73557,#c13a50,#a92e5e,#a52c60,#ba3655,#ad305d,#a02a63,#932667,#b63458,#b3325a,#9a2865,#902568,#9b2964,#a82e5f,#bf3952,#c43c4e,#b63458,#ca404a,#a52c60,#9b2964,#9d2964,#a52c60,#de5238,#b73557,#85216b,#7c1d6d,#7a1d6d,#85216b,#9b2964,#9d2964,#922568,#8a226a,#bd3853,#cb4149,#c13a50,#bd3853,#ce4347,#c13a50,#b63458,#bf3952,#d44842,#ce4347,#ab2f5e,#801f6c,#b3325a,#c03a51,#d84c3e,#dd513a,#a92e5e,#b3325a,#a62d60,#ad305d,#d84c3e,#d94d3d,#e75e2e,#de5238,#972766,#9b2964,#9d2964,#a52c60,#c83f4b,#bf3952,#952667,#952667,#a92e5e,#bc3754,#c13a50,#bc3754,#c33b4f,#b63458,#a22b62,#ae305c,#c63d4d,#cc4248,#d84c3e,#d44842,#c03a51,#c63d4d,#d74b3f,#da4e3c,#ce4347,#c73e4c,#d24644,#c13a50,#b3325a,#b43359,#b3325a,#ab2f5e,#d24644,#d54a41,#c33b4f,#c63d4d,#c43c4e,#e25734,#e25734,#de5238,#d74b3f,#dd513a,#bc3754,#bc3754,#c33b4f,#ba3655,#bc3754,#c63d4d,#b0315b,#ae305c,#c33b4f,#b63458,#9a2865,#a22b62,#c13a50,#c03a51,#bf3952,#b63458,#b63458,#952667,#c13a50,#c13a50,#84206b,#781c6d,#88226a,#9a2865,#84206b,#8a226a,#a62d60,#a32c61,#b0315b,#ab2f5e,#9f2a63,#a82e5f,#9b2964,#a22b62,#a52c60,#922568,#88226a,#771c6d,#65156e,#550f6d,#67166e,#5d126e,#360961,#310a5c)"></i><i style="top:213.86px;height:5.36px;width:744.2px;background:linear-gradient(90deg,#69166e,#82206c,#a62d60,#bc3754,#b73557,#b63458,#7c1d6d,#751b6e,#a62d60,#b3325a,#c43c4e,#c83f4b,#b43359,#ad305d,#c33b4f,#cb4149,#cb4149,#c73e4c,#c03a51,#ab2f5e,#7c1d6d,#88226a,#a22b62,#8d2369,#6c186e,#67166e,#64156e,#5f136e,#69166e,#65156e,#7a1d6d,#7a1d6d,#6f196e,#6f196e,#67166e,#59106e,#490b6a,#4a0c6b,#540f6d,#440a68,#2d0b59,#4f0d6c,#5a116e,#5d126e,#8f2469,#8c2369,#84206b,#87216b,#61136e,#4d0d6c,#450a69,#380962,#4c0c6b,#69166e,#6f196e,#771c6d,#8c2369,#9b2964,#a62d60,#b3325a,#db503b,#c73e4c,#82206c,#7c1d6d,#84206b,#7f1e6c,#ad305d,#a92e5e,#8c2369,#88226a,#8a226a,#8a226a,#8d2369,#8f2469,#801f6c,#84206b,#a52c60,#a22b62,#9a2865,#922568,#6d186e,#64156e,#65156e,#5d126e,#64156e,#64156e,#510e6c,#520e6d,#69166e,#69166e,#64156e,#67166e,#6a176e,#771c6d,#5d126e,#6f196e,#982766,#a82e5f,#ba3655,#b63458,#ad305d,#a52c60,#a22b62,#ad305d,#cf4446,#ce4347,#b1325a,#a92e5e,#bc3754,#b93556,#8d2369,#952667,#c33b4f,#c43c4e,#ad305d,#a22b62,#8f2469,#bc3754,#cc4248,#c83f4b,#c73e4c,#c03a51,#c03a51,#ca404a,#bd3853,#bd3853,#bf3952,#c03a51,#d34743,#cc4248,#b63458,#b1325a,#c43c4e,#ca404a,#d34743,#cf4446,#b0315b,#b3325a,#d54a41,#e35933,#ed6925,#ea632a,#cb4149,#d24644,#d04545,#d44842,#ba3655,#b63458,#a52c60,#9f2a63,#b43359,#c03a51,#ae305c,#cc4248,#b93556,#b43359,#cb4149,#cf4446,#cb4149,#d24644,#df5337,#cb4149,#c13a50,#c63d4d,#ab2f5e,#ab2f5e,#a82e5f,#a02a63,#bc3754,#b43359,#b1325a,#ad305d,#972766,#9f2a63,#b63458,#bf3952,#ce4347,#d24644,#bc3754,#b63458,#b43359,#b73557,#a22b62,#9f2a63,#a82e5f,#b1325a,#b73557,#c03a51,#d74b3f,#d54a41,#a32c61,#982766,#a52c60,#a92e5e,#b0315b,#b93556,#982766,#932667,#a92e5e,#9d2964,#8d2369,#932667,#c73e4c,#c43c4e,#ae305c,#a82e5f,#b3325a,#c03a51,#d44842,#d04545,#c33b4f,#bf3952,#9a2865,#922568,#922568,#982766,#d34743,#cf4446,#a22b62,#982766,#972766,#a02a63,#b63458,#b73557,#ad305d,#d44842,#e55c30,#ed6925,#e65d2f,#e45a31,#dd513a,#d34743,#922568,#982766,#b1325a,#a92e5e,#87216b,#85216b,#b73557,#b1325a,#cc4248,#d24644,#c73e4c,#c43c4e,#b93556,#bf3952,#e45a31,#e55c30,#f1711f,#e05536,#9b2964,#9f2a63,#a52c60,#ad305d,#cf4446,#c73e4c,#972766,#972766,#b1325a,#b93556,#bf3952,#ba3655,#c13a50,#b63458,#a22b62,#ad305d,#ba3655,#c03a51,#b93556,#a82e5f,#902568,#952667,#a32c61,#a62d60,#972766,#8f2469,#9b2964,#a52c60,#bc3754,#c63d4d,#c33b4f,#bd3853,#e15635,#e45a31,#d34743,#d74b3f,#d54a41,#d04545,#c73e4c,#c33b4f,#ba3655,#ba3655,#c13a50,#c03a51,#c73e4c,#bc3754,#bc3754,#c43c4e,#ad305d,#ab2f5e,#c73e4c,#db503b,#c43c4e,#ca404a,#c43c4e,#c33b4f,#c13a50,#ba3655,#ba3655,#bc3754,#c43c4e,#c43c4e,#85216b,#7c1d6d,#8d2369,#922568,#84206b,#8a226a,#a62d60,#a52c60,#c83f4b,#c63d4d,#ba3655,#c13a50,#b43359,#ab2f5e,#b0315b,#9d2964,#932667,#61136e,#510e6c,#420a68,#550f6d,#4f0d6c,#240c4f,#210c4a)"></i><i style="top:218.23px;height:5.36px;width:744.2px;background:linear-gradient(90deg,#84206b,#9b2964,#bd3853,#cf4446,#cb4149,#cb4149,#a82e5f,#a22b62,#d04545,#c43c4e,#c43c4e,#c83f4b,#b63458,#ae305c,#c33b4f,#d74b3f,#d54a41,#d44842,#cf4446,#a62d60,#751b6e,#7f1e6c,#9a2865,#932667,#721a6e,#6d186e,#741a6e,#6d186e,#3e0966,#3b0964,#510e6c,#510e6c,#440a68,#440a68,#65156e,#64156e,#550f6d,#550f6d,#5f136e,#510e6c,#390963,#57106e,#64156e,#67166e,#8a226a,#88226a,#801f6c,#85216b,#310a5c,#360961,#2d0b59,#210c4a,#340a5f,#400a67,#450a69,#4d0d6c,#82206c,#87216b,#922568,#9f2a63,#ca404a,#b43359,#6f196e,#6a176e,#741a6e,#751b6e,#a32c61,#b0315b,#922568,#922568,#922568,#932667,#751b6e,#771c6d,#69166e,#6c186e,#a82e5f,#a32c61,#9d2964,#952667,#781c6d,#6f196e,#71196e,#69166e,#71196e,#71196e,#5d126e,#5d126e,#71196e,#71196e,#550f6d,#59106e,#5a116e,#67166e,#6a176e,#7a1d6d,#a22b62,#b1325a,#c13a50,#c83f4b,#c03a51,#bc3754,#b0315b,#bf3952,#de5238,#de5238,#c43c4e,#bf3952,#cf4446,#ce4347,#b0315b,#c13a50,#e55c30,#e55c30,#b63458,#ad305d,#972766,#b1325a,#c43c4e,#c03a51,#c13a50,#ba3655,#bc3754,#b93556,#a92e5e,#b0315b,#b1325a,#b1325a,#d54a41,#d04545,#bc3754,#b73557,#ca404a,#cf4446,#d84c3e,#d44842,#a52c60,#b0315b,#d24644,#d44842,#e15635,#dd513a,#c63d4d,#cb4149,#c73e4c,#cb4149,#e55c30,#e35933,#bf3952,#b93556,#cc4248,#d54a41,#c63d4d,#c83f4b,#b63458,#b1325a,#c83f4b,#e05536,#db503b,#d94d3d,#e55c30,#de5238,#d54a41,#d94d3d,#c73e4c,#c73e4c,#c63d4d,#c03a51,#da4e3c,#d44842,#cb4149,#c73e4c,#982766,#a02a63,#b63458,#bf3952,#cc4248,#d04545,#cf4446,#cb4149,#bd3853,#b43359,#a02a63,#9d2964,#9f2a63,#a82e5f,#ae305c,#b43359,#d04545,#ed6925,#c63d4d,#bd3853,#ca404a,#ce4347,#a82e5f,#b0315b,#932667,#8f2469,#a22b62,#972766,#87216b,#8c2369,#ad305d,#a92e5e,#922568,#8c2369,#982766,#a32c61,#b93556,#bf3952,#b0315b,#ad305d,#902568,#88226a,#88226a,#8d2369,#cb4149,#c83f4b,#9d2964,#932667,#922568,#9a2865,#b0315b,#b0315b,#a62d60,#a22b62,#ce4347,#d84c3e,#ce4347,#cb4149,#c13a50,#b63458,#a92e5e,#b0315b,#c63d4d,#c03a51,#9d2964,#741a6e,#a32c61,#b0315b,#c83f4b,#ce4347,#982766,#b73557,#ab2f5e,#b1325a,#d94d3d,#d94d3d,#e15635,#d94d3d,#932667,#952667,#9b2964,#a32c61,#c73e4c,#db503b,#b93556,#9b2964,#ad305d,#b43359,#bc3754,#b73557,#c03a51,#b63458,#a22b62,#a32c61,#b93556,#bf3952,#b63458,#b1325a,#9b2964,#9f2a63,#b1325a,#da4e3c,#ce4347,#9a2865,#a82e5f,#b0315b,#9f2a63,#a62d60,#a52c60,#a02a63,#ca404a,#ca404a,#b43359,#b73557,#b73557,#b1325a,#b63458,#b1325a,#a62d60,#ad305d,#d44842,#d34743,#d94d3d,#d34743,#d34743,#d94d3d,#b3325a,#b1325a,#ce4347,#c33b4f,#a82e5f,#ad305d,#a52c60,#a52c60,#a32c61,#9b2964,#9d2964,#9f2a63,#ca404a,#c83f4b,#87216b,#7f1e6c,#902568,#952667,#7f1e6c,#84206b,#a22b62,#a22b62,#a52c60,#a22b62,#952667,#9d2964,#8f2469,#902568,#952667,#82206c,#781c6d,#67166e,#550f6d,#470b6a,#5c126e,#5c126e,#310a5c,#2b0b57)"></i><i style="top:222.59px;height:5.36px;width:744.2px;background:linear-gradient(90deg,#82206c,#9a2865,#ba3655,#c03a51,#ba3655,#ba3655,#972766,#922568,#c33b4f,#cb4149,#cb4149,#c33b4f,#ae305c,#a62d60,#bc3754,#c13a50,#da4e3c,#d94d3d,#d34743,#c33b4f,#952667,#9f2a63,#b93556,#8f2469,#6d186e,#69166e,#6f196e,#6a176e,#5d126e,#5c126e,#741a6e,#721a6e,#65156e,#64156e,#5c126e,#490b6a,#380962,#390963,#470b6a,#360961,#2d0b59,#510e6c,#5d126e,#61136e,#85216b,#6d186e,#67166e,#6a176e,#420a68,#5d126e,#550f6d,#490b6a,#5c126e,#64156e,#771c6d,#7f1e6c,#922568,#982766,#a22b62,#ad305d,#d54a41,#df5337,#a22b62,#9b2964,#a62d60,#a22b62,#cc4248,#ca404a,#751b6e,#771c6d,#781c6d,#781c6d,#61136e,#64156e,#550f6d,#67166e,#8a226a,#85216b,#741a6e,#6c186e,#470b6a,#3d0965,#3e0966,#360961,#4c0c6b,#4c0c6b,#390963,#390963,#550f6d,#57106e,#550f6d,#59106e,#7a1d6d,#87216b,#540f6d,#64156e,#8a226a,#982766,#a92e5e,#b1325a,#ce4347,#ca404a,#bf3952,#c63d4d,#d74b3f,#d74b3f,#bf3952,#b93556,#cc4248,#ca404a,#a92e5e,#b93556,#de5238,#de5238,#cb4149,#bd3853,#a82e5f,#ad305d,#c03a51,#bd3853,#c03a51,#ba3655,#bc3754,#c43c4e,#902568,#952667,#972766,#972766,#d04545,#cb4149,#b73557,#b3325a,#c73e4c,#b73557,#c13a50,#bd3853,#a92e5e,#ab2f5e,#ce4347,#c83f4b,#d84c3e,#d34743,#b0315b,#b63458,#b0315b,#b93556,#d54a41,#d24644,#bf3952,#b93556,#cc4248,#d34743,#c13a50,#c43c4e,#b1325a,#a62d60,#bf3952,#c13a50,#ad305d,#a92e5e,#bc3754,#b43359,#a82e5f,#ad305d,#8f2469,#8f2469,#a92e5e,#a32c61,#ab2f5e,#a32c61,#9a2865,#952667,#7f1e6c,#85216b,#9a2865,#a32c61,#cb4149,#ce4347,#dd513a,#d94d3d,#da4e3c,#d44842,#c43c4e,#ad305d,#ad305d,#b63458,#ba3655,#c13a50,#da4e3c,#d94d3d,#a62d60,#ab2f5e,#ba3655,#bd3853,#c73e4c,#cc4248,#b43359,#b1325a,#c83f4b,#c03a51,#b1325a,#b63458,#d34743,#cc4248,#b73557,#b3325a,#bf3952,#c33b4f,#d34743,#ec6726,#e35933,#e15635,#c63d4d,#c03a51,#bf3952,#c13a50,#f06f20,#ef6c23,#d44842,#cf4446,#cb4149,#d24644,#e15635,#e25734,#d44842,#cf4446,#e9612b,#ef6c23,#e75e2e,#e55c30,#e05536,#e65d2f,#dd513a,#e15635,#ef6c23,#eb6628,#d34743,#8a226a,#b73557,#bf3952,#d44842,#f57b17,#d24644,#cf4446,#c73e4c,#ca404a,#d84c3e,#d84c3e,#e8602d,#e25734,#a22b62,#a32c61,#87216b,#8d2369,#ce4347,#c83f4b,#a52c60,#a62d60,#b63458,#bd3853,#c13a50,#bf3952,#c83f4b,#c03a51,#c13a50,#c83f4b,#da4e3c,#cb4149,#c33b4f,#bf3952,#ab2f5e,#ae305c,#bf3952,#c03a51,#9a2865,#932667,#a32c61,#a92e5e,#972766,#a82e5f,#a62d60,#952667,#c13a50,#c43c4e,#ae305c,#b1325a,#c03a51,#bc3754,#c03a51,#c03a51,#b43359,#b93556,#c03a51,#bf3952,#c73e4c,#c13a50,#c03a51,#c63d4d,#a52c60,#a32c61,#c33b4f,#b93556,#9b2964,#9f2a63,#972766,#952667,#952667,#7c1d6d,#7f1e6c,#7f1e6c,#ab2f5e,#ab2f5e,#6c186e,#741a6e,#87216b,#8a226a,#741a6e,#781c6d,#972766,#982766,#a82e5f,#a82e5f,#982766,#a02a63,#b3325a,#a92e5e,#ae305c,#9d2964,#952667,#65156e,#550f6d,#470b6a,#5c126e,#57106e,#310a5c,#2d0b59)"></i><i style="top:226.96px;height:5.36px;width:744.2px;background:linear-gradient(90deg,#771c6d,#8d2369,#ae305c,#c13a50,#bc3754,#bc3754,#982766,#87216b,#b93556,#db503b,#da4e3c,#dd513a,#cc4248,#c73e4c,#d84c3e,#db503b,#d94d3d,#d94d3d,#d34743,#c33b4f,#952667,#a02a63,#ba3655,#b63458,#8d2369,#88226a,#8f2469,#8a226a,#7f1e6c,#7c1d6d,#8f2469,#87216b,#781c6d,#771c6d,#6d186e,#69166e,#5a116e,#5c126e,#69166e,#510e6c,#3b0964,#5d126e,#6c186e,#71196e,#952667,#922568,#8c2369,#9f2a63,#781c6d,#7d1e6d,#6c186e,#5f136e,#721a6e,#7a1d6d,#a22b62,#a82e5f,#84206b,#8a226a,#972766,#a02a63,#cb4149,#c83f4b,#85216b,#7f1e6c,#8d2369,#8a226a,#b73557,#b43359,#952667,#972766,#982766,#9a2865,#771c6d,#7a1d6d,#6c186e,#71196e,#922568,#8d2369,#85216b,#7d1e6d,#59106e,#4f0d6c,#801f6c,#781c6d,#7f1e6c,#801f6c,#6f196e,#71196e,#84206b,#85216b,#67166e,#6a176e,#88226a,#932667,#952667,#a22b62,#c63d4d,#b73557,#c63d4d,#cc4248,#b3325a,#b0315b,#a22b62,#d84c3e,#ef6c23,#ef6e21,#de5238,#da4e3c,#ea632a,#e8602d,#cf4446,#d34743,#ef6e21,#ef6c23,#e15635,#db503b,#b1325a,#b63458,#c83f4b,#db503b,#de5238,#da4e3c,#dd513a,#c73e4c,#b73557,#cc4248,#ce4347,#ce4347,#e15635,#de5238,#c03a51,#bd3853,#c73e4c,#ca404a,#d24644,#ce4347,#b43359,#b43359,#d44842,#d74b3f,#e35933,#e05536,#c13a50,#c63d4d,#c03a51,#c33b4f,#de5238,#db503b,#ce4347,#ca404a,#da4e3c,#df5337,#ce4347,#cf4446,#bd3853,#b93556,#cf4446,#b43359,#ae305c,#ad305d,#c03a51,#ba3655,#b0315b,#ab2f5e,#8d2369,#8d2369,#8d2369,#a32c61,#c43c4e,#bf3952,#932667,#8f2469,#771c6d,#7d1e6d,#bd3853,#c43c4e,#d04545,#d34743,#c73e4c,#c43c4e,#c73e4c,#c13a50,#b1325a,#b0315b,#b0315b,#b93556,#c43c4e,#cb4149,#e15635,#e05536,#b0315b,#a82e5f,#932667,#972766,#a02a63,#a32c61,#88226a,#a22b62,#bc3754,#b43359,#a52c60,#a22b62,#c33b4f,#c13a50,#ab2f5e,#a62d60,#b3325a,#ba3655,#cb4149,#ce4347,#bd3853,#ba3655,#9a2865,#972766,#952667,#9d2964,#d94d3d,#d84c3e,#ce4347,#ca404a,#c63d4d,#ca404a,#da4e3c,#da4e3c,#d34743,#ce4347,#e05536,#c63d4d,#b93556,#d34743,#cc4248,#a22b62,#932667,#972766,#b0315b,#a92e5e,#84206b,#7f1e6c,#a92e5e,#b0315b,#d24644,#d24644,#9a2865,#952667,#8d2369,#8f2469,#ba3655,#ba3655,#cf4446,#d34743,#8d2369,#8f2469,#922568,#972766,#bf3952,#ba3655,#982766,#8a226a,#982766,#a02a63,#9b2964,#982766,#b1325a,#ab2f5e,#972766,#9d2964,#b1325a,#ad305d,#a32c61,#a02a63,#8c2369,#8f2469,#9f2a63,#b43359,#a62d60,#a22b62,#b1325a,#b73557,#a32c61,#ab2f5e,#a92e5e,#a22b62,#cf4446,#d04545,#ba3655,#bc3754,#bc3754,#b93556,#bf3952,#bc3754,#972766,#9b2964,#b63458,#b43359,#bf3952,#ba3655,#b93556,#bd3853,#a32c61,#b0315b,#cf4446,#c83f4b,#ab2f5e,#ae305c,#a52c60,#a32c61,#a32c61,#9d2964,#9d2964,#9d2964,#c63d4d,#c63d4d,#88226a,#781c6d,#8d2369,#8f2469,#771c6d,#721a6e,#922568,#922568,#a62d60,#a62d60,#972766,#a82e5f,#9a2865,#902568,#972766,#85216b,#7f1e6c,#6d186e,#5d126e,#57106e,#6d186e,#490b6a,#1c0c43,#180c3c)"></i><i style="top:231.32px;height:5.36px;width:744.2px;background:linear-gradient(90deg,#7a1d6d,#902568,#ae305c,#c13a50,#bc3754,#bd3853,#9f2a63,#9b2964,#cb4149,#d34743,#d04545,#ca404a,#b93556,#b1325a,#c43c4e,#c73e4c,#c33b4f,#c03a51,#ba3655,#ab2f5e,#7c1d6d,#87216b,#a22b62,#9d2964,#7d1e6d,#781c6d,#7f1e6c,#7a1d6d,#6f196e,#57106e,#6a176e,#67166e,#59106e,#550f6d,#4a0c6b,#450a69,#340a5f,#380962,#6f196e,#61136e,#4d0d6c,#6f196e,#7d1e6d,#82206c,#a82e5f,#9f2a63,#972766,#a62d60,#7f1e6c,#84206b,#7c1d6d,#6f196e,#751b6e,#7c1d6d,#7f1e6c,#85216b,#982766,#8d2369,#952667,#a02a63,#ca404a,#c73e4c,#84206b,#7f1e6c,#a92e5e,#a52c60,#d04545,#ce4347,#b1325a,#b43359,#b63458,#b93556,#a22b62,#a52c60,#741a6e,#781c6d,#9a2865,#a22b62,#982766,#902568,#6c186e,#62146e,#61136e,#59106e,#5f136e,#57106e,#450a69,#490b6a,#5c126e,#5f136e,#61136e,#64156e,#82206c,#8d2369,#8d2369,#982766,#bc3754,#c63d4d,#d24644,#d84c3e,#c03a51,#bf3952,#b0315b,#b63458,#d54a41,#d74b3f,#bf3952,#bc3754,#d04545,#cf4446,#ad305d,#972766,#c03a51,#ce4347,#b93556,#b3325a,#9a2865,#9f2a63,#b43359,#b3325a,#b73557,#b43359,#b73557,#d54a41,#c63d4d,#c73e4c,#c83f4b,#c83f4b,#de5238,#db503b,#cc4248,#ca404a,#cc4248,#ce4347,#d54a41,#d94d3d,#ab2f5e,#ab2f5e,#cb4149,#cb4149,#d94d3d,#bd3853,#9a2865,#9d2964,#a52c60,#a82e5f,#c73e4c,#e25734,#d74b3f,#d34743,#e15635,#e45a31,#d44842,#d44842,#c33b4f,#bf3952,#b73557,#ba3655,#b43359,#b43359,#c83f4b,#cf4446,#d54a41,#d84c3e,#c03a51,#c03a51,#c03a51,#bc3754,#da4e3c,#d74b3f,#cf4446,#d24644,#bd3853,#c13a50,#d34743,#d84c3e,#e25734,#e35933,#e35933,#c63d4d,#ca404a,#c73e4c,#c63d4d,#c63d4d,#c63d4d,#cc4248,#d04545,#d74b3f,#ea632a,#ea632a,#c03a51,#b63458,#c43c4e,#c63d4d,#ce4347,#cf4446,#b73557,#ca404a,#e15635,#db503b,#cf4446,#d24644,#ea632a,#b73557,#a02a63,#9b2964,#a82e5f,#ce4347,#db503b,#dd513a,#cf4446,#d04545,#b63458,#b3325a,#b3325a,#c43c4e,#f2741c,#f3761b,#da4e3c,#d84c3e,#d34743,#d74b3f,#de5238,#dd513a,#d54a41,#d24644,#e25734,#f78212,#f1711f,#ef6e21,#ec6726,#d94d3d,#ce4347,#d04545,#e25734,#df5337,#952667,#8f2469,#b63458,#b93556,#ca404a,#c83f4b,#8c2369,#87216b,#b93556,#ba3655,#de5238,#de5238,#ec6726,#e9612b,#ae305c,#801f6c,#82206c,#87216b,#b0315b,#ae305c,#8c2369,#8f2469,#b0315b,#b63458,#b93556,#b73557,#c43c4e,#bf3952,#ab2f5e,#a82e5f,#bc3754,#bd3853,#a02a63,#9f2a63,#8c2369,#8d2369,#9b2964,#9d2964,#922568,#8f2469,#a02a63,#a32c61,#8f2469,#a92e5e,#a82e5f,#a52c60,#d34743,#d44842,#bf3952,#c03a51,#c03a51,#b3325a,#ba3655,#b73557,#a92e5e,#ad305d,#b3325a,#9a2865,#a52c60,#a22b62,#a02a63,#a32c61,#87216b,#87216b,#a02a63,#982766,#781c6d,#7a1d6d,#71196e,#6f196e,#6d186e,#69166e,#8c2369,#8a226a,#b63458,#b43359,#751b6e,#6f196e,#85216b,#c73e4c,#b1325a,#b63458,#d24644,#d34743,#972766,#982766,#88226a,#8f2469,#7f1e6c,#771c6d,#7d1e6d,#6d186e,#67166e,#801f6c,#71196e,#5d126e,#741a6e,#6f196e,#310a5c,#2b0b57)"></i><i style="top:235.69px;height:5.36px;width:744.2px;background:linear-gradient(90deg,#8f2469,#a32c61,#c13a50,#d24644,#b73557,#b93556,#972766,#952667,#c63d4d,#cb4149,#cb4149,#ce4347,#bc3754,#b63458,#c83f4b,#ca404a,#c63d4d,#c33b4f,#d54a41,#c73e4c,#9a2865,#a82e5f,#c13a50,#bf3952,#6c186e,#67166e,#932667,#8f2469,#84206b,#7f1e6c,#922568,#8d2369,#7d1e6d,#a02a63,#952667,#902568,#801f6c,#84206b,#922568,#520e6d,#3e0966,#62146e,#71196e,#751b6e,#9b2964,#9a2865,#922568,#82206c,#5a116e,#5f136e,#57106e,#4a0c6b,#5c126e,#b1325a,#b3325a,#b93556,#ca404a,#ce4347,#d44842,#e25734,#f78410,#ef6e21,#bd3853,#b93556,#a22b62,#9d2964,#ca404a,#c43c4e,#a62d60,#a92e5e,#ab2f5e,#ae305c,#982766,#9b2964,#8f2469,#ae305c,#cc4248,#c73e4c,#a02a63,#982766,#741a6e,#7d1e6d,#801f6c,#781c6d,#8d2369,#8f2469,#7a1d6d,#7c1d6d,#902568,#932667,#7a1d6d,#7f1e6c,#82206c,#8c2369,#8a226a,#932667,#b63458,#cc4248,#d84c3e,#dd513a,#d54a41,#d84c3e,#ca404a,#cf4446,#e9612b,#ea632a,#d84c3e,#d54a41,#e75e2e,#d44842,#b3325a,#b43359,#da4e3c,#d94d3d,#c63d4d,#c03a51,#a92e5e,#b1325a,#c43c4e,#c43c4e,#c83f4b,#c73e4c,#df5337,#e35933,#d44842,#d84c3e,#d84c3e,#cc4248,#e25734,#cc4248,#bd3853,#bc3754,#cc4248,#d84c3e,#df5337,#db503b,#b73557,#b63458,#d34743,#df5337,#ea632a,#e8602d,#ce4347,#d04545,#ca404a,#bc3754,#d74b3f,#d54a41,#ca404a,#c73e4c,#d54a41,#d84c3e,#c33b4f,#c43c4e,#9f2a63,#9b2964,#b43359,#b73557,#db503b,#db503b,#eb6429,#e8602d,#e15635,#e45a31,#ce4347,#cc4248,#ce4347,#b0315b,#d24644,#cf4446,#ab2f5e,#a92e5e,#902568,#ca404a,#d94d3d,#db503b,#e55c30,#e65d2f,#e65d2f,#e45a31,#e8602d,#e75e2e,#cc4248,#cc4248,#cc4248,#d34743,#d54a41,#da4e3c,#ec6726,#eb6429,#c03a51,#ba3655,#b93556,#b93556,#bf3952,#bf3952,#a52c60,#a32c61,#c13a50,#bd3853,#b73557,#ba3655,#d84c3e,#d84c3e,#c43c4e,#c03a51,#cc4248,#c03a51,#cc4248,#cf4446,#bf3952,#bc3754,#a02a63,#a02a63,#9f2a63,#a52c60,#ed6925,#ee6a24,#d44842,#d34743,#cc4248,#cf4446,#bc3754,#ba3655,#b73557,#b3325a,#c73e4c,#cb4149,#bd3853,#c63d4d,#c03a51,#c73e4c,#b93556,#ba3655,#cf4446,#cc4248,#a82e5f,#a22b62,#d24644,#d24644,#df5337,#dd513a,#a32c61,#8d2369,#88226a,#88226a,#b1325a,#b0315b,#c73e4c,#c33b4f,#7d1e6d,#62146e,#64156e,#69166e,#922568,#922568,#721a6e,#741a6e,#8d2369,#932667,#9f2a63,#9d2964,#ad305d,#a82e5f,#85216b,#8a226a,#9d2964,#9f2a63,#952667,#932667,#7f1e6c,#801f6c,#8f2469,#902568,#82206c,#7f1e6c,#902568,#932667,#85216b,#87216b,#982766,#952667,#c63d4d,#c83f4b,#ad305d,#ae305c,#ae305c,#b3325a,#ba3655,#b93556,#a92e5e,#b43359,#b93556,#b93556,#c43c4e,#c13a50,#bf3952,#c13a50,#a62d60,#a62d60,#c83f4b,#c33b4f,#a52c60,#a52c60,#9b2964,#982766,#982766,#801f6c,#87216b,#85216b,#b0315b,#ad305d,#6d186e,#67166e,#7f1e6c,#741a6e,#5c126e,#61136e,#801f6c,#82206c,#972766,#9a2865,#88226a,#9d2964,#8d2369,#85216b,#8d2369,#7d1e6d,#7f1e6c,#6f196e,#61136e,#540f6d,#6a176e,#65156e,#390963,#240c4f)"></i><i style="top:240.05px;height:5.36px;width:744.2px;background:linear-gradient(90deg,#a52c60,#b73557,#d24644,#df5337,#da4e3c,#db503b,#c03a51,#c03a51,#e75e2e,#eb6429,#d34743,#d74b3f,#c73e4c,#c13a50,#d34743,#f1731d,#ef6c23,#ee6a24,#ea632a,#df5337,#ba3655,#c73e4c,#dd513a,#d94d3d,#bf3952,#7a1d6d,#801f6c,#7c1d6d,#71196e,#6c186e,#7f1e6c,#7c1d6d,#6d186e,#67166e,#5c126e,#57106e,#490b6a,#7a1d6d,#87216b,#7a1d6d,#65156e,#88226a,#972766,#9b2964,#c03a51,#bd3853,#b73557,#972766,#6f196e,#741a6e,#6c186e,#5d126e,#490b6a,#4f0d6c,#510e6c,#57106e,#6a176e,#6f196e,#771c6d,#7d1e6d,#a92e5e,#d24644,#8f2469,#8c2369,#972766,#932667,#c13a50,#bf3952,#7f1e6c,#801f6c,#82206c,#85216b,#6d186e,#71196e,#62146e,#65156e,#87216b,#bc3754,#b63458,#b0315b,#952667,#8f2469,#922568,#8c2369,#932667,#6c186e,#5a116e,#5d126e,#982766,#9b2964,#9f2a63,#a22b62,#a52c60,#9b2964,#9a2865,#a22b62,#c13a50,#c83f4b,#d44842,#d84c3e,#c43c4e,#c33b4f,#b1325a,#b63458,#d44842,#d54a41,#bf3952,#c03a51,#d74b3f,#d54a41,#b3325a,#bc3754,#e05536,#e35933,#d34743,#d04545,#ba3655,#bd3853,#cf4446,#ce4347,#d34743,#cf4446,#d34743,#d54a41,#c33b4f,#c63d4d,#c63d4d,#c73e4c,#ba3655,#b93556,#a92e5e,#b73557,#c83f4b,#ec6726,#f1711f,#ef6e21,#cf4446,#a92e5e,#c83f4b,#c83f4b,#d74b3f,#d44842,#b43359,#b63458,#bd3853,#bd3853,#d94d3d,#d84c3e,#cc4248,#ca404a,#d74b3f,#d94d3d,#d54a41,#d54a41,#c43c4e,#c13a50,#d74b3f,#d94d3d,#ca404a,#ca404a,#de5238,#dd513a,#d44842,#d74b3f,#bd3853,#bd3853,#b73557,#b43359,#dd513a,#da4e3c,#d44842,#d24644,#bc3754,#bd3853,#cc4248,#c43c4e,#ce4347,#c63d4d,#c63d4d,#c33b4f,#ca404a,#e65d2f,#dd513a,#dd513a,#ad305d,#b3325a,#b43359,#d34743,#e65d2f,#e55c30,#b93556,#b43359,#c73e4c,#c73e4c,#cb4149,#cb4149,#bd3853,#bc3754,#d84c3e,#d54a41,#c63d4d,#c83f4b,#e25734,#e25734,#d04545,#cf4446,#e55c30,#e75e2e,#ef6c23,#f37819,#eb6429,#ea632a,#d74b3f,#bf3952,#bc3754,#b43359,#eb6429,#eb6628,#d04545,#d04545,#f06f20,#f1711f,#f8850f,#ef6c23,#ea632a,#e8602d,#f2741c,#f37819,#d04545,#cf4446,#cb4149,#c63d4d,#b73557,#b93556,#ce4347,#e05536,#c13a50,#bd3853,#db503b,#db503b,#e45a31,#e25734,#ad305d,#a82e5f,#a32c61,#a32c61,#c83f4b,#c73e4c,#e35933,#e05536,#a32c61,#a22b62,#a22b62,#a52c60,#cb4149,#cb4149,#922568,#932667,#a02a63,#a32c61,#a82e5f,#a62d60,#d54a41,#d34743,#c13a50,#c43c4e,#d34743,#d44842,#cc4248,#cb4149,#bc3754,#a52c60,#b3325a,#b3325a,#a52c60,#a32c61,#b63458,#b93556,#a52c60,#a82e5f,#a92e5e,#a82e5f,#d84c3e,#d94d3d,#bf3952,#c03a51,#bf3952,#bd3853,#cb4149,#ca404a,#a62d60,#a82e5f,#ad305d,#c83f4b,#d34743,#d04545,#cf4446,#d04545,#b63458,#b63458,#d74b3f,#d34743,#b63458,#8f2469,#84206b,#801f6c,#801f6c,#7d1e6d,#84206b,#82206c,#ae305c,#ab2f5e,#6c186e,#67166e,#7f1e6c,#7f1e6c,#65156e,#751b6e,#952667,#982766,#d24644,#d44842,#c43c4e,#c83f4b,#bc3754,#b3325a,#a02a63,#922568,#8f2469,#801f6c,#71196e,#65156e,#771c6d,#721a6e,#470b6a,#440a68)"></i><i style="top:244.42px;height:5.36px;width:744.2px;background:linear-gradient(90deg,#69166e,#7a1d6d,#972766,#a82e5f,#a02a63,#a32c61,#84206b,#85216b,#b93556,#bd3853,#e9612b,#eb6628,#e05536,#dd513a,#eb6429,#ea632a,#e65d2f,#e45a31,#e05536,#d44842,#ad305d,#b1325a,#c83f4b,#cc4248,#ad305d,#a82e5f,#ae305c,#952667,#88226a,#85216b,#9a2865,#972766,#87216b,#84206b,#9a2865,#952667,#87216b,#8a226a,#982766,#8c2369,#771c6d,#982766,#a62d60,#ab2f5e,#cc4248,#cb4149,#c43c4e,#c73e4c,#902568,#952667,#8c2369,#7f1e6c,#982766,#9f2a63,#9f2a63,#a52c60,#b93556,#bc3754,#c13a50,#c63d4d,#e75e2e,#e55c30,#ab2f5e,#a82e5f,#b43359,#b1325a,#e45a31,#e25734,#b63458,#b73557,#b93556,#ba3655,#a32c61,#9b2964,#8c2369,#8d2369,#ae305c,#a92e5e,#a32c61,#9f2a63,#952667,#8f2469,#952667,#8f2469,#982766,#9a2865,#8a226a,#6c186e,#82206c,#84206b,#88226a,#8c2369,#8f2469,#952667,#902568,#982766,#d94d3d,#df5337,#e75e2e,#ea632a,#e45a31,#e45a31,#d54a41,#d74b3f,#ce4347,#cf4446,#b73557,#b63458,#f1731d,#f1731d,#da4e3c,#db503b,#de5238,#de5238,#ce4347,#cc4248,#b73557,#b73557,#c83f4b,#c83f4b,#d34743,#d04545,#d34743,#d44842,#c03a51,#c33b4f,#c33b4f,#ef6e21,#f98c0a,#f98c0a,#f57d15,#f67e14,#fa9207,#eb6429,#ef6e21,#ef6c23,#cf4446,#cf4446,#e75e2e,#e65d2f,#f1711f,#e65d2f,#cb4149,#cb4149,#c13a50,#de5238,#f06f20,#ef6e21,#e8602d,#ce4347,#d94d3d,#da4e3c,#c63d4d,#c63d4d,#b43359,#b3325a,#cb4149,#cc4248,#c83f4b,#ca404a,#de5238,#de5238,#d54a41,#c73e4c,#ab2f5e,#c73e4c,#c73e4c,#c63d4d,#e45a31,#e25734,#de5238,#db503b,#c63d4d,#c73e4c,#d44842,#d54a41,#de5238,#df5337,#e45a31,#e45a31,#ef6c23,#ee6a24,#e35933,#dd513a,#d94d3d,#db503b,#db503b,#de5238,#ef6c23,#ee6a24,#b93556,#b63458,#c83f4b,#c33b4f,#c73e4c,#c73e4c,#ad305d,#ad305d,#cb4149,#c83f4b,#b63458,#b73557,#d44842,#d44842,#c43c4e,#c33b4f,#d04545,#d34743,#dd513a,#e55c30,#d94d3d,#ca404a,#b1325a,#b3325a,#ae305c,#b3325a,#f67e14,#f78212,#ce4347,#cf4446,#c63d4d,#c63d4d,#d44842,#d24644,#ca404a,#c73e4c,#d94d3d,#c03a51,#b0315b,#ae305c,#ab2f5e,#a82e5f,#a32c61,#a32c61,#bc3754,#ba3655,#972766,#932667,#b73557,#cf4446,#dd513a,#db503b,#a32c61,#a02a63,#9b2964,#9b2964,#c43c4e,#c13a50,#d84c3e,#d44842,#952667,#932667,#bc3754,#bd3853,#a52c60,#a52c60,#85216b,#87216b,#922568,#932667,#b63458,#b63458,#c63d4d,#c33b4f,#b0315b,#b3325a,#c13a50,#c13a50,#b93556,#ae305c,#9f2a63,#a02a63,#ad305d,#ad305d,#9f2a63,#9d2964,#b3325a,#b43359,#9f2a63,#a22b62,#a32c61,#a32c61,#d44842,#d74b3f,#cc4248,#cb4149,#ca404a,#c83f4b,#d04545,#ce4347,#bd3853,#84206b,#88226a,#88226a,#952667,#932667,#952667,#972766,#781c6d,#781c6d,#a02a63,#b63458,#972766,#952667,#88226a,#87216b,#a82e5f,#a32c61,#ab2f5e,#a92e5e,#cf4446,#ce4347,#82206c,#7d1e6d,#972766,#952667,#7a1d6d,#7f1e6c,#9f2a63,#a22b62,#b73557,#922568,#7f1e6c,#82206c,#741a6e,#6a176e,#741a6e,#972766,#932667,#85216b,#771c6d,#6c186e,#82206c,#7d1e6d,#520e6d,#4f0d6c)"></i><i style="top:248.78px;height:5.36px;width:744.2px;background:linear-gradient(90deg,#6c186e,#7d1e6d,#982766,#a92e5e,#a22b62,#a52c60,#85216b,#8a226a,#bd3853,#c13a50,#a92e5e,#ae305c,#9d2964,#982766,#ae305c,#b3325a,#ad305d,#a92e5e,#a52c60,#922568,#65156e,#771c6d,#922568,#8d2369,#6c186e,#741a6e,#7a1d6d,#741a6e,#67166e,#64156e,#7d1e6d,#7c1d6d,#6c186e,#69166e,#5f136e,#5c126e,#4d0d6c,#5c126e,#69166e,#5a116e,#450a69,#67166e,#751b6e,#741a6e,#982766,#972766,#8f2469,#922568,#6a176e,#6d186e,#65156e,#57106e,#64156e,#6a176e,#6a176e,#71196e,#85216b,#8c2369,#922568,#b3325a,#d94d3d,#d74b3f,#972766,#932667,#a02a63,#9a2865,#c83f4b,#c63d4d,#a82e5f,#a82e5f,#a92e5e,#c13a50,#ab2f5e,#b73557,#a82e5f,#a92e5e,#c73e4c,#c43c4e,#bf3952,#bc3754,#4f0d6c,#4a0c6b,#520e6d,#4d0d6c,#a62d60,#a82e5f,#982766,#9a2865,#b0315b,#b1325a,#b73557,#ba3655,#bc3754,#9b2964,#972766,#9b2964,#b93556,#bd3853,#c83f4b,#cc4248,#c43c4e,#a82e5f,#902568,#922568,#b43359,#b43359,#c83f4b,#c83f4b,#e05536,#e05536,#c03a51,#c13a50,#e55c30,#e65d2f,#c73e4c,#c83f4b,#b1325a,#b0315b,#c13a50,#b63458,#bc3754,#b93556,#bc3754,#bc3754,#a02a63,#a32c61,#a22b62,#a52c60,#c13a50,#c33b4f,#b63458,#b73557,#c73e4c,#c73e4c,#d04545,#cf4446,#a52c60,#a52c60,#c43c4e,#c43c4e,#d54a41,#d94d3d,#bc3754,#ba3655,#ae305c,#c03a51,#da4e3c,#d94d3d,#cf4446,#ce4347,#d94d3d,#da4e3c,#c43c4e,#cf4446,#bc3754,#bc3754,#d34743,#d44842,#d04545,#d24644,#e65d2f,#d94d3d,#d04545,#d34743,#b73557,#b63458,#b63458,#b3325a,#da4e3c,#d94d3d,#d34743,#d24644,#b93556,#88226a,#972766,#972766,#a22b62,#a22b62,#a22b62,#b3325a,#ba3655,#ba3655,#de5238,#de5238,#d94d3d,#da4e3c,#d94d3d,#da4e3c,#d74b3f,#d74b3f,#a82e5f,#a62d60,#bc3754,#bc3754,#c03a51,#c03a51,#a52c60,#9d2964,#bf3952,#bd3853,#a92e5e,#ab2f5e,#c83f4b,#c83f4b,#b63458,#ba3655,#c83f4b,#ca404a,#d44842,#d44842,#c63d4d,#de5238,#c83f4b,#cb4149,#c63d4d,#c83f4b,#f57b17,#ea632a,#cf4446,#d04545,#c63d4d,#c43c4e,#d34743,#df5337,#d84c3e,#d54a41,#e45a31,#e45a31,#d74b3f,#d74b3f,#d54a41,#cf4446,#c13a50,#c13a50,#d74b3f,#d54a41,#b73557,#b63458,#d54a41,#d54a41,#c73e4c,#c73e4c,#8a226a,#88226a,#85216b,#84206b,#ab2f5e,#a82e5f,#c13a50,#bf3952,#7c1d6d,#781c6d,#751b6e,#751b6e,#ae305c,#ae305c,#8f2469,#902568,#982766,#9a2865,#9d2964,#9d2964,#b0315b,#ae305c,#c03a51,#c03a51,#ce4347,#ce4347,#c63d4d,#c63d4d,#b73557,#b1325a,#bd3853,#bd3853,#b0315b,#b0315b,#9f2a63,#a22b62,#9b2964,#9d2964,#9f2a63,#a02a63,#d44842,#d54a41,#b93556,#972766,#952667,#922568,#9d2964,#9a2865,#85216b,#84206b,#b63458,#b63458,#c33b4f,#c33b4f,#c03a51,#d44842,#b93556,#b93556,#db503b,#9a2865,#781c6d,#771c6d,#6a176e,#69166e,#69166e,#741a6e,#7c1d6d,#781c6d,#a32c61,#b3325a,#741a6e,#71196e,#8a226a,#88226a,#6d186e,#71196e,#922568,#c83f4b,#db503b,#de5238,#ce4347,#d04545,#8c2369,#84206b,#8d2369,#61136e,#5f136e,#520e6d,#440a68,#6c186e,#84206b,#7f1e6c,#110a30,#0e092b)"></i><i style="top:253.15px;height:5.36px;width:744.2px;background:linear-gradient(90deg,#982766,#a82e5f,#c13a50,#cf4446,#c73e4c,#cc4248,#b0315b,#b43359,#e15635,#c13a50,#bd3853,#c13a50,#b3325a,#b0315b,#c43c4e,#c13a50,#bc3754,#e05536,#de5238,#d24644,#a62d60,#b73557,#cf4446,#cb4149,#ab2f5e,#a52c60,#9d2964,#972766,#8a226a,#87216b,#9a2865,#982766,#88226a,#87216b,#7d1e6d,#7a1d6d,#6d186e,#7a1d6d,#87216b,#781c6d,#360961,#59106e,#65156e,#69166e,#8d2369,#8c2369,#84206b,#88226a,#5d126e,#8a226a,#801f6c,#741a6e,#84206b,#6c186e,#6d186e,#741a6e,#88226a,#8f2469,#9d2964,#a32c61,#cc4248,#ca404a,#87216b,#84206b,#ae305c,#ad305d,#d84c3e,#d54a41,#7f1e6c,#7f1e6c,#7f1e6c,#7f1e6c,#65156e,#65156e,#540f6d,#71196e,#902568,#8d2369,#88226a,#87216b,#65156e,#64156e,#6c186e,#62146e,#6d186e,#71196e,#5f136e,#62146e,#771c6d,#7a1d6d,#9a2865,#9b2964,#9d2964,#a22b62,#9a2865,#9f2a63,#bc3754,#d74b3f,#df5337,#e25734,#dd513a,#dd513a,#c83f4b,#ef6c23,#fa9207,#fa9207,#f2741c,#f2741c,#fb9606,#fb9906,#ef6e21,#f06f20,#cf4446,#d04545,#c13a50,#c33b4f,#ab2f5e,#a92e5e,#ba3655,#b93556,#eb6429,#ea632a,#eb6628,#ea632a,#ca404a,#cb4149,#cb4149,#d54a41,#ea632a,#eb6628,#e45a31,#e65d2f,#ef6e21,#ef6e21,#f47918,#e35933,#c03a51,#d94d3d,#ee6a24,#ee6a24,#f98c0a,#f8890c,#eb6429,#c63d4d,#ba3655,#b73557,#d34743,#d04545,#d04545,#d04545,#db503b,#db503b,#ab2f5e,#ab2f5e,#972766,#972766,#b1325a,#b43359,#d94d3d,#db503b,#ed6925,#ee6a24,#e9612b,#eb6429,#d54a41,#d34743,#d34743,#d24644,#eb6429,#ea632a,#e55c30,#e45a31,#ce4347,#ce4347,#d94d3d,#d94d3d,#d84c3e,#d84c3e,#d94d3d,#c13a50,#c83f4b,#c83f4b,#da4e3c,#da4e3c,#d54a41,#d54a41,#d24644,#ba3655,#d34743,#d34743,#a32c61,#a32c61,#bc3754,#da4e3c,#dd513a,#dd513a,#c63d4d,#c63d4d,#e15635,#e15635,#ce4347,#ce4347,#e65d2f,#e65d2f,#d74b3f,#d74b3f,#e35933,#c43c4e,#cf4446,#ea632a,#de5238,#de5238,#ca404a,#cc4248,#c73e4c,#c83f4b,#f57b17,#f67e14,#e35933,#f57b17,#ef6c23,#ed6925,#f47918,#f3761b,#bd3853,#ba3655,#cc4248,#ca404a,#ba3655,#ba3655,#ba3655,#b93556,#c43c4e,#c43c4e,#d94d3d,#c73e4c,#a82e5f,#a82e5f,#ca404a,#c83f4b,#bd3853,#bc3754,#7f1e6c,#7f1e6c,#7c1d6d,#8d2369,#b43359,#b1325a,#d54a41,#d34743,#932667,#922568,#8c2369,#8c2369,#b43359,#8c2369,#6c186e,#6c186e,#741a6e,#741a6e,#771c6d,#771c6d,#8a226a,#9b2964,#87216b,#87216b,#952667,#952667,#6d186e,#6d186e,#5f136e,#5f136e,#6a176e,#922568,#84206b,#84206b,#9b2964,#9d2964,#87216b,#8a226a,#8d2369,#8f2469,#b3325a,#b63458,#922568,#902568,#8d2369,#8c2369,#952667,#922568,#7a1d6d,#781c6d,#7c1d6d,#7c1d6d,#b43359,#b43359,#b1325a,#b1325a,#932667,#932667,#9f2a63,#9d2964,#7c1d6d,#781c6d,#6c186e,#69166e,#6a176e,#84206b,#8c2369,#88226a,#9a2865,#972766,#57106e,#540f6d,#6f196e,#6c186e,#510e6c,#540f6d,#741a6e,#88226a,#a02a63,#a52c60,#8f2469,#87216b,#771c6d,#6f196e,#87216b,#8d2369,#8a226a,#7f1e6c,#721a6e,#65156e,#7d1e6d,#7a1d6d,#4d0d6c,#360961)"></i><i style="top:257.51px;height:5.36px;width:744.2px;background:linear-gradient(90deg,#82206c,#922568,#ad305d,#bc3754,#b43359,#b73557,#932667,#972766,#ca404a,#ce4347,#c83f4b,#cf4446,#c03a51,#bf3952,#d24644,#cf4446,#e75e2e,#e65d2f,#e05536,#d54a41,#b0315b,#c03a51,#d74b3f,#d34743,#b43359,#ae305c,#b73557,#b1325a,#a52c60,#a32c61,#85216b,#82206c,#7d1e6d,#7c1d6d,#721a6e,#71196e,#64156e,#65156e,#741a6e,#65156e,#4f0d6c,#71196e,#7d1e6d,#801f6c,#a52c60,#ab2f5e,#a32c61,#a62d60,#7d1e6d,#801f6c,#771c6d,#69166e,#902568,#952667,#972766,#9d2964,#b1325a,#b73557,#bf3952,#c43c4e,#e65d2f,#c43c4e,#7f1e6c,#7c1d6d,#c03a51,#bd3853,#e55c30,#db503b,#c13a50,#c13a50,#c13a50,#c13a50,#a92e5e,#a92e5e,#982766,#85216b,#a52c60,#c73e4c,#c43c4e,#c13a50,#a22b62,#9f2a63,#a82e5f,#a52c60,#b0315b,#b3325a,#952667,#982766,#ad305d,#b0315b,#b63458,#bf3952,#c03a51,#c43c4e,#bd3853,#c13a50,#982766,#9d2964,#a82e5f,#ad305d,#c43c4e,#c43c4e,#ad305d,#ad305d,#cc4248,#cc4248,#b3325a,#b3325a,#c43c4e,#c63d4d,#9f2a63,#a02a63,#cb4149,#e75e2e,#db503b,#dd513a,#c83f4b,#c63d4d,#d54a41,#d44842,#d94d3d,#d74b3f,#e8602d,#e75e2e,#d34743,#d44842,#d34743,#b93556,#d44842,#d54a41,#ce4347,#cf4446,#dd513a,#dd513a,#e45a31,#e45a31,#ae305c,#ae305c,#e8602d,#e8602d,#f2741c,#f1731d,#dd513a,#db503b,#d24644,#cf4446,#e75e2e,#e55c30,#b43359,#b43359,#c13a50,#c13a50,#a82e5f,#a82e5f,#922568,#922568,#c13a50,#c33b4f,#bf3952,#c03a51,#d84c3e,#d94d3d,#d24644,#d34743,#b73557,#b43359,#b1325a,#ae305c,#d44842,#d24644,#cc4248,#c43c4e,#a82e5f,#a82e5f,#b63458,#b63458,#bf3952,#bf3952,#c03a51,#c03a51,#c73e4c,#db503b,#d04545,#d04545,#ca404a,#ca404a,#c73e4c,#c73e4c,#bd3853,#bd3853,#8c2369,#952667,#ae305c,#ae305c,#b1325a,#b1325a,#952667,#952667,#d34743,#d34743,#c13a50,#c13a50,#dd513a,#dd513a,#cb4149,#a22b62,#b3325a,#b3325a,#bd3853,#bd3853,#ad305d,#ad305d,#a92e5e,#ad305d,#a52c60,#801f6c,#ca404a,#cb4149,#b43359,#b73557,#a92e5e,#a62d60,#b73557,#b43359,#ab2f5e,#a92e5e,#bd3853,#ce4347,#bd3853,#a92e5e,#a92e5e,#a92e5e,#982766,#982766,#b1325a,#b1325a,#902568,#902568,#d74b3f,#d74b3f,#e45a31,#e45a31,#b1325a,#b1325a,#b0315b,#c33b4f,#e25734,#e15635,#f06f20,#ef6e21,#bf3952,#bc3754,#a52c60,#a52c60,#cb4149,#cb4149,#ae305c,#ae305c,#b63458,#a22b62,#a62d60,#a62d60,#b93556,#ba3655,#a62d60,#a62d60,#bf3952,#bf3952,#b63458,#b43359,#a62d60,#a52c60,#b0315b,#982766,#8a226a,#88226a,#a02a63,#a22b62,#8c2369,#8d2369,#902568,#922568,#d84c3e,#d94d3d,#bc3754,#ba3655,#b93556,#9d2964,#a82e5f,#a62d60,#902568,#8f2469,#8f2469,#8f2469,#9d2964,#9b2964,#982766,#982766,#902568,#8f2469,#b73557,#b63458,#952667,#922568,#85216b,#82206c,#84206b,#801f6c,#781c6d,#771c6d,#a02a63,#9d2964,#5d126e,#5a116e,#751b6e,#781c6d,#5c126e,#5f136e,#801f6c,#902568,#a82e5f,#ab2f5e,#972766,#9a2865,#8a226a,#82206c,#8d2369,#82206c,#7a1d6d,#6d186e,#61136e,#550f6d,#6d186e,#69166e,#3d0965,#390963)"></i><i style="top:261.88px;height:5.36px;width:744.2px;background:linear-gradient(90deg,#71196e,#801f6c,#9b2964,#ab2f5e,#a32c61,#a82e5f,#ca404a,#cc4248,#f06f20,#f1731d,#ef6c23,#f1711f,#e75e2e,#c33b4f,#d54a41,#d34743,#ce4347,#cb4149,#b43359,#a62d60,#7c1d6d,#8d2369,#a82e5f,#8f2469,#6d186e,#67166e,#6d186e,#67166e,#c43c4e,#c33b4f,#d54a41,#d44842,#ca404a,#a62d60,#9f2a63,#9b2964,#8f2469,#922568,#9f2a63,#902568,#7a1d6d,#a82e5f,#b43359,#972766,#ba3655,#b73557,#b0315b,#b1325a,#8d2369,#902568,#85216b,#751b6e,#87216b,#902568,#922568,#9a2865,#b0315b,#b63458,#bd3853,#c43c4e,#cc4248,#ca404a,#87216b,#b63458,#c13a50,#c03a51,#e65d2f,#e55c30,#cc4248,#e15635,#e15635,#e15635,#ce4347,#ce4347,#a02a63,#a02a63,#bf3952,#bc3754,#b73557,#b43359,#902568,#8d2369,#952667,#922568,#9d2964,#9f2a63,#8f2469,#902568,#a62d60,#b1325a,#b73557,#a82e5f,#a92e5e,#ae305c,#a82e5f,#ae305c,#c83f4b,#ce4347,#d74b3f,#db503b,#d54a41,#dd513a,#c83f4b,#c83f4b,#e25734,#e25734,#d24644,#d24644,#e8602d,#e9612b,#ca404a,#cb4149,#f1731d,#f2741c,#e9612b,#ea632a,#d94d3d,#d84c3e,#e55c30,#f67e14,#f8850f,#f78410,#f8870e,#f8850f,#ec6726,#ed6925,#ec6726,#e15635,#f2741c,#f3761b,#ec6726,#ed6925,#f57b17,#f57b17,#eb6628,#eb6628,#da4e3c,#da4e3c,#ef6e21,#ef6e21,#e55c30,#e45a31,#ca404a,#c83f4b,#bd3853,#bc3754,#bc3754,#ba3655,#b0315b,#cf4446,#da4e3c,#da4e3c,#c43c4e,#c43c4e,#b1325a,#b1325a,#9a2865,#9b2964,#952667,#972766,#b3325a,#b43359,#a92e5e,#ab2f5e,#8a226a,#9f2a63,#9f2a63,#9d2964,#cc4248,#cb4149,#c43c4e,#c33b4f,#a62d60,#a62d60,#b43359,#b43359,#a02a63,#a02a63,#a22b62,#a22b62,#a92e5e,#a92e5e,#d74b3f,#d74b3f,#d04545,#d04545,#cc4248,#cc4248,#d54a41,#d54a41,#a62d60,#a62d60,#bf3952,#bf3952,#c33b4f,#c33b4f,#a62d60,#6a176e,#8f2469,#8f2469,#781c6d,#781c6d,#9a2865,#b63458,#a02a63,#a02a63,#b1325a,#d04545,#da4e3c,#da4e3c,#cb4149,#c03a51,#a82e5f,#a82e5f,#a02a63,#87216b,#c83f4b,#ca404a,#a52c60,#a62d60,#9a2865,#982766,#a82e5f,#9b2964,#922568,#922568,#a62d60,#a52c60,#922568,#902568,#8f2469,#b43359,#a32c61,#a22b62,#84206b,#84206b,#62146e,#62146e,#88226a,#8a226a,#9d2964,#9d2964,#801f6c,#801f6c,#7f1e6c,#7c1d6d,#a32c61,#a22b62,#bd3853,#ba3655,#771c6d,#751b6e,#6f196e,#6f196e,#982766,#982766,#781c6d,#781c6d,#801f6c,#801f6c,#84206b,#8f2469,#a32c61,#a32c61,#902568,#922568,#a22b62,#a32c61,#982766,#932667,#84206b,#84206b,#8d2369,#a32c61,#932667,#932667,#6f196e,#71196e,#5a116e,#5a116e,#5d126e,#922568,#ca404a,#cb4149,#ad305d,#ab2f5e,#ab2f5e,#ab2f5e,#b63458,#7a1d6d,#65156e,#65156e,#69166e,#67166e,#751b6e,#741a6e,#b93556,#b73557,#972766,#972766,#bf3952,#bc3754,#9b2964,#9a2865,#8d2369,#8a226a,#57106e,#550f6d,#5d126e,#5c126e,#85216b,#82206c,#420a68,#3e0966,#8d2369,#8c2369,#6f196e,#721a6e,#932667,#972766,#ae305c,#b1325a,#5d126e,#61136e,#4f0d6c,#490b6a,#520e6d,#7c1d6d,#7a1d6d,#6d186e,#61136e,#550f6d,#6d186e,#69166e,#3d0965,#390963)"></i><i style="top:266.24px;height:5.36px;width:744.2px;background:linear-gradient(90deg,#932667,#a32c61,#bd3853,#a62d60,#9f2a63,#a22b62,#801f6c,#ba3655,#e45a31,#e65d2f,#e25734,#e45a31,#d74b3f,#d54a41,#e55c30,#e35933,#c63d4d,#c43c4e,#c03a51,#b3325a,#87216b,#982766,#b3325a,#ad305d,#8a226a,#84206b,#8a226a,#84206b,#751b6e,#751b6e,#8c2369,#8c2369,#7d1e6d,#771c6d,#6f196e,#6d186e,#62146e,#64156e,#721a6e,#62146e,#400a67,#64156e,#902568,#932667,#b73557,#b43359,#ab2f5e,#ad305d,#82206c,#85216b,#7a1d6d,#6a176e,#982766,#9f2a63,#a22b62,#a92e5e,#bd3853,#c63d4d,#cc4248,#d34743,#f06f20,#da4e3c,#9a2865,#972766,#a52c60,#a32c61,#d04545,#cf4446,#b1325a,#b1325a,#b73557,#b73557,#9d2964,#9d2964,#a32c61,#a32c61,#c13a50,#bd3853,#b93556,#b43359,#932667,#8f2469,#9d2964,#982766,#a32c61,#a52c60,#952667,#972766,#ad305d,#721a6e,#781c6d,#7c1d6d,#7d1e6d,#84206b,#7d1e6d,#d24644,#e75e2e,#eb6429,#f1711f,#f3761b,#f06f20,#f06f20,#e25734,#c63d4d,#e15635,#e15635,#c73e4c,#c73e4c,#df5337,#e05536,#bd3853,#bf3952,#e25734,#ea632a,#de5238,#de5238,#c83f4b,#c83f4b,#de5238,#de5238,#e25734,#e25734,#e45a31,#e45a31,#cf4446,#cf4446,#ce4347,#bf3952,#d84c3e,#d94d3d,#ce4347,#cf4446,#db503b,#bd3853,#c73e4c,#c73e4c,#9b2964,#9f2a63,#c03a51,#c03a51,#d24644,#d24644,#b3325a,#b1325a,#a52c60,#a52c60,#bd3853,#bd3853,#b1325a,#b1325a,#bf3952,#bf3952,#d24644,#d24644,#c03a51,#c03a51,#d54a41,#d74b3f,#db503b,#db503b,#ed6925,#ed6925,#e75e2e,#e75e2e,#ca404a,#c73e4c,#c73e4c,#c63d4d,#9a2865,#982766,#902568,#8f2469,#8f2469,#8f2469,#e65d2f,#e65d2f,#eb6628,#c83f4b,#c83f4b,#c73e4c,#cf4446,#cf4446,#c33b4f,#c33b4f,#bc3754,#c43c4e,#c13a50,#c13a50,#d94d3d,#a02a63,#6c186e,#6c186e,#bf3952,#bf3952,#c13a50,#a52c60,#88226a,#88226a,#ab2f5e,#ab2f5e,#972766,#972766,#b73557,#d54a41,#c33b4f,#c33b4f,#d24644,#d24644,#db503b,#db503b,#cc4248,#f8850f,#ec6726,#ed6925,#e9612b,#e9612b,#fcac11,#da4e3c,#b93556,#b93556,#c03a51,#bf3952,#cf4446,#d94d3d,#d34743,#d24644,#e25734,#e65d2f,#d84c3e,#d74b3f,#d54a41,#d44842,#c43c4e,#c33b4f,#d84c3e,#d74b3f,#a82e5f,#a82e5f,#cc4248,#ce4347,#dd513a,#de5238,#a82e5f,#a92e5e,#952667,#922568,#ba3655,#b73557,#d04545,#ce4347,#8d2369,#8a226a,#ab2f5e,#ab2f5e,#cf4446,#cf4446,#b43359,#b43359,#ba3655,#ba3655,#ae305c,#b0315b,#c33b4f,#c43c4e,#b3325a,#d54a41,#e25734,#b73557,#ad305d,#ab2f5e,#9a2865,#982766,#a32c61,#a22b62,#922568,#902568,#a62d60,#a62d60,#8f2469,#b63458,#b73557,#b73557,#e55c30,#e65d2f,#ce4347,#cf4446,#d84c3e,#d84c3e,#df5337,#df5337,#d04545,#d04545,#d34743,#d24644,#db503b,#da4e3c,#751b6e,#741a6e,#520e6d,#510e6c,#7a1d6d,#5d126e,#3b0964,#380962,#290b55,#781c6d,#7a1d6d,#771c6d,#902568,#8d2369,#b73557,#b43359,#741a6e,#721a6e,#8d2369,#7c1d6d,#5f136e,#420a68,#64156e,#67166e,#801f6c,#85216b,#6f196e,#721a6e,#62146e,#5a116e,#65156e,#59106e,#57106e,#771c6d,#6a176e,#5f136e,#771c6d,#721a6e,#470b6a,#440a68)"></i><i style="top:270.60px;height:5.36px;width:744.2px;background:linear-gradient(90deg,#982766,#a82e5f,#c13a50,#cf4446,#c73e4c,#ca404a,#c63d4d,#c83f4b,#ed6925,#ee6a24,#eb6429,#ec6726,#e05536,#c83f4b,#da4e3c,#d94d3d,#d34743,#d24644,#ce4347,#c03a51,#c33b4f,#d24644,#e65d2f,#e25734,#982766,#922568,#982766,#922568,#85216b,#85216b,#9d2964,#a52c60,#982766,#982766,#902568,#771c6d,#6c186e,#6f196e,#7c1d6d,#6d186e,#57106e,#781c6d,#85216b,#88226a,#c83f4b,#c63d4d,#bc3754,#a82e5f,#7c1d6d,#7d1e6d,#721a6e,#61136e,#71196e,#932667,#972766,#9f2a63,#b43359,#bd3853,#c43c4e,#e9612b,#fa9207,#fa9008,#d74b3f,#d44842,#df5337,#b43359,#df5337,#dd513a,#c33b4f,#c33b4f,#c33b4f,#c33b4f,#ab2f5e,#9b2964,#8a226a,#a32c61,#c13a50,#bd3853,#b73557,#b3325a,#922568,#8c2369,#932667,#8f2469,#982766,#982766,#88226a,#8a226a,#a02a63,#a22b62,#a92e5e,#a92e5e,#ab2f5e,#b1325a,#ad305d,#b3325a,#ce4347,#d34743,#de5238,#e25734,#dd513a,#dd513a,#c83f4b,#c83f4b,#e35933,#e35933,#a02a63,#a02a63,#d84c3e,#d84c3e,#b3325a,#b3325a,#d94d3d,#d94d3d,#c83f4b,#c83f4b,#b0315b,#b0315b,#b0315b,#b0315b,#b73557,#d54a41,#d94d3d,#d94d3d,#c13a50,#c13a50,#a62d60,#a62d60,#c33b4f,#c33b4f,#b43359,#b43359,#c33b4f,#c33b4f,#ce4347,#ce4347,#cb4149,#cb4149,#cc4248,#cc4248,#dd513a,#dd513a,#c63d4d,#c63d4d,#bc3754,#d44842,#eb6628,#eb6628,#e55c30,#e55c30,#ed6925,#ed6925,#dd513a,#dd513a,#d74b3f,#d74b3f,#e9612b,#e9612b,#e55c30,#e55c30,#f3761b,#f47918,#ef6c23,#ef6c23,#da4e3c,#87216b,#87216b,#b1325a,#d74b3f,#d44842,#ea632a,#e8602d,#d34743,#d34743,#d34743,#d34743,#db503b,#db503b,#db503b,#db503b,#e25734,#e25734,#d84c3e,#e8602d,#e35933,#e35933,#e15635,#e15635,#f1731d,#d94d3d,#ab2f5e,#ab2f5e,#cf4446,#cf4446,#cc4248,#cc4248,#b1325a,#b1325a,#d24644,#d24644,#bf3952,#bf3952,#da4e3c,#da4e3c,#c83f4b,#c83f4b,#d74b3f,#c33b4f,#ce4347,#ce4347,#bd3853,#bd3853,#e05536,#e05536,#da4e3c,#da4e3c,#fa9207,#fa9207,#eb6628,#eb6628,#e45a31,#cc4248,#da4e3c,#da4e3c,#e35933,#e35933,#f06f20,#ef6e21,#e55c30,#e35933,#cb4149,#ca404a,#b93556,#b63458,#cc4248,#ca404a,#ad305d,#ae305c,#d24644,#c13a50,#d34743,#d44842,#9b2964,#9f2a63,#b63458,#b3325a,#d54a41,#d44842,#e8602d,#e65d2f,#ad305d,#ab2f5e,#8a226a,#6d186e,#972766,#972766,#87216b,#87216b,#8f2469,#85216b,#8a226a,#8d2369,#a22b62,#a52c60,#b43359,#b73557,#c73e4c,#c83f4b,#bd3853,#bc3754,#ab2f5e,#a92e5e,#b3325a,#b0315b,#87216b,#84206b,#9a2865,#9a2865,#801f6c,#801f6c,#a02a63,#a02a63,#d44842,#d44842,#b93556,#bc3754,#a62d60,#a82e5f,#b63458,#b73557,#a62d60,#ab2f5e,#ae305c,#ab2f5e,#c03a51,#bf3952,#b93556,#b73557,#952667,#932667,#bc3754,#ba3655,#982766,#972766,#87216b,#85216b,#85216b,#84206b,#8c2369,#8a226a,#9d2964,#9a2865,#59106e,#57106e,#721a6e,#6f196e,#84206b,#88226a,#a82e5f,#ad305d,#c33b4f,#c63d4d,#b3325a,#b63458,#7c1d6d,#741a6e,#7f1e6c,#721a6e,#972766,#8a226a,#2b0b57,#1f0c48,#390963,#340a5f,#0b0724,#09061f)"></i><i style="top:274.97px;height:5.36px;width:744.2px;background:linear-gradient(90deg,#84206b,#ae305c,#b63458,#972766,#ca404a,#d24644,#c33b4f,#d44842,#972766,#da4e3c,#a62d60,#d04545,#ad305d,#741a6e,#61136e,#771c6d,#932667,#8c2369,#801f6c,#902568,#5f136e,#71196e,#982766,#8a226a,#5f136e,#85216b,#84206b,#8f2469,#b1325a,#b63458,#df5337,#9f2a63,#a92e5e,#d74b3f,#ba3655,#ab2f5e,#9d2964,#8f2469,#ab2f5e,#a02a63,#781c6d,#7c1d6d,#6f196e,#61136e,#781c6d,#a52c60,#ab2f5e,#ad305d,#cf4446,#d24644,#cf4446,#741a6e,#972766,#b73557,#d34743,#ab2f5e,#d34743,#c13a50,#9d2964,#b1325a,#b93556,#bd3853,#8d2369,#8a226a,#a82e5f,#d84c3e,#e35933,#ea632a,#ca404a,#d24644,#d54a41,#b73557,#ab2f5e,#ca404a,#bf3952,#d54a41,#bf3952,#a92e5e,#c33b4f,#bc3754,#eb6628,#e45a31,#ca404a,#cf4446,#eb6429,#e65d2f,#cf4446,#b63458,#bf3952,#bf3952,#e8602d,#df5337,#b0315b,#c03a51,#d84c3e,#ab2f5e,#a02a63,#cb4149,#b0315b,#d04545,#bd3853,#da4e3c,#a32c61,#b43359,#c03a51,#c83f4b,#b1325a,#a82e5f,#e25734,#c03a51,#b43359,#c63d4d,#a32c61,#ba3655,#a62d60,#b0315b,#9a2865,#c83f4b,#ab2f5e,#9d2964,#b3325a,#781c6d,#6a176e,#8f2469,#a92e5e,#61136e,#5a116e,#b3325a,#922568,#9a2865,#a22b62,#bf3952,#b0315b,#c33b4f,#b73557,#a52c60,#902568,#b0315b,#c33b4f,#ab2f5e,#ab2f5e,#df5337,#c73e4c,#cc4248,#da4e3c,#c73e4c,#c63d4d,#ce4347,#b73557,#932667,#ba3655,#952667,#87216b,#85216b,#a92e5e,#8c2369,#310a5c,#4c0c6b,#310a5c,#550f6d,#a92e5e,#972766,#7f1e6c,#65156e,#57106e,#3d0965,#520e6d,#400a67)"></i><i style="top:279.33px;height:5.36px;width:744.2px;background:linear-gradient(90deg,#b93556,#dd513a,#e25734,#c03a51,#e9612b,#cc4248,#bd3853,#d44842,#d74b3f,#d24644,#9b2964,#c83f4b,#c03a51,#c13a50,#b1325a,#c63d4d,#b93556,#a62d60,#9b2964,#ab2f5e,#69166e,#982766,#bf3952,#b3325a,#62146e,#5a116e,#59106e,#62146e,#c03a51,#ce4347,#ef6e21,#ba3655,#d04545,#ec6726,#d74b3f,#e15635,#cc4248,#bc3754,#d44842,#c73e4c,#a32c61,#a62d60,#87216b,#771c6d,#8d2369,#88226a,#8d2369,#8f2469,#b43359,#f8870e,#f78410,#cf4446,#e8602d,#e15635,#f1731d,#e75e2e,#f98c0a,#eb6628,#da4e3c,#e8602d,#b73557,#bc3754,#a22b62,#c13a50,#da4e3c,#ce4347,#ef6e21,#e05536,#bc3754,#ea632a,#f47918,#e25734,#d84c3e,#da4e3c,#d04545,#dd513a,#f2741c,#e75e2e,#f47918,#db503b,#ec6726,#e55c30,#c63d4d,#de5238,#e75e2e,#e25734,#ca404a,#d54a41,#d84c3e,#d94d3d,#df5337,#ea632a,#e45a31,#d24644,#e75e2e,#c03a51,#d84c3e,#ee6a24,#c13a50,#e25734,#ea632a,#f8870e,#f06f20,#ed6925,#f3761b,#ea632a,#d74b3f,#c03a51,#ef6e21,#d44842,#ca404a,#e65d2f,#e25734,#f06f20,#e45a31,#de5238,#cc4248,#d44842,#b73557,#d94d3d,#e8602d,#b43359,#b1325a,#dd513a,#ec6726,#b63458,#ae305c,#d34743,#bf3952,#c63d4d,#b43359,#cb4149,#ca404a,#da4e3c,#d04545,#ad305d,#b3325a,#a02a63,#b43359,#9b2964,#902568,#fc9f07,#f67e14,#f78410,#fb9706,#a02a63,#c43c4e,#cc4248,#c43c4e,#67166e,#8f2469,#69166e,#59106e,#57106e,#5f136e,#85216b,#8a226a,#a52c60,#8a226a,#7f1e6c,#982766,#85216b,#6d186e,#8c2369,#7d1e6d,#400a67,#550f6d,#0c0826)"></i><i style="top:283.70px;height:5.36px;width:744.2px;background:linear-gradient(90deg,#b0315b,#d54a41,#a82e5f,#8a226a,#bf3952,#c43c4e,#b63458,#e35933,#dd513a,#d84c3e,#9f2a63,#cc4248,#ab2f5e,#ad305d,#da4e3c,#e8602d,#cf4446,#c63d4d,#922568,#a22b62,#6c186e,#9a2865,#c13a50,#b63458,#8c2369,#84206b,#85216b,#ae305c,#cb4149,#d84c3e,#ef6c23,#ba3655,#c73e4c,#dd513a,#c13a50,#bf3952,#a32c61,#982766,#b43359,#ad305d,#87216b,#82206c,#8c2369,#7a1d6d,#902568,#972766,#e25734,#952667,#d24644,#e15635,#df5337,#cb4149,#e45a31,#cf4446,#da4e3c,#b63458,#cf4446,#bc3754,#b63458,#d04545,#d74b3f,#da4e3c,#ab2f5e,#a82e5f,#d34743,#c73e4c,#bf3952,#cb4149,#a32c61,#ce4347,#df5337,#c03a51,#b3325a,#cf4446,#c43c4e,#c83f4b,#ae305c,#9a2865,#b43359,#c63d4d,#dd513a,#d34743,#b43359,#d04545,#ee6a24,#ae305c,#b0315b,#bd3853,#c63d4d,#c73e4c,#cb4149,#bc3754,#b1325a,#b1325a,#ce4347,#9f2a63,#ba3655,#c83f4b,#a62d60,#c83f4b,#b93556,#e15635,#d04545,#df5337,#e65d2f,#da4e3c,#cc4248,#c13a50,#cb4149,#a22b62,#952667,#cb4149,#c73e4c,#dd513a,#cc4248,#d84c3e,#c73e4c,#d84c3e,#bc3754,#dd513a,#eb6429,#bc3754,#b93556,#bc3754,#d24644,#9f2a63,#8f2469,#bc3754,#9d2964,#87216b,#8d2369,#a62d60,#972766,#ab2f5e,#8c2369,#771c6d,#7d1e6d,#6a176e,#b43359,#9b2964,#771c6d,#b0315b,#932667,#982766,#952667,#85216b,#84206b,#8d2369,#71196e,#4a0c6b,#721a6e,#6a176e,#5a116e,#5c126e,#65156e,#85216b,#440a68,#5f136e,#540f6d,#771c6d,#8f2469,#71196e,#59106e,#64156e,#550f6d,#3b0964,#510e6c,#1e0c45)"></i><i style="top:288.06px;height:5.36px;width:744.2px;background:linear-gradient(90deg,#982766,#c13a50,#c83f4b,#ab2f5e,#ed6925,#eb6429,#e05536,#ec6726,#e75e2e,#df5337,#ad305d,#d84c3e,#952667,#cc4248,#bf3952,#d04545,#a92e5e,#9f2a63,#8f2469,#9f2a63,#7a1d6d,#67166e,#902568,#85216b,#5d126e,#a92e5e,#9d2964,#a32c61,#c13a50,#c03a51,#e55c30,#922568,#a22b62,#e35933,#c33b4f,#c03a51,#a22b62,#8d2369,#a82e5f,#a92e5e,#952667,#7d1e6d,#88226a,#751b6e,#88226a,#85216b,#902568,#922568,#b73557,#e75e2e,#e55c30,#d34743,#c43c4e,#a92e5e,#c73e4c,#902568,#bc3754,#b73557,#9b2964,#b1325a,#9f2a63,#a32c61,#88226a,#a82e5f,#c43c4e,#b63458,#c63d4d,#d44842,#b0315b,#d24644,#e35933,#c83f4b,#ba3655,#d54a41,#ad305d,#ba3655,#9f2a63,#b93556,#cf4446,#ca404a,#972766,#8a226a,#69166e,#69166e,#d84c3e,#d44842,#ba3655,#d24644,#d94d3d,#d94d3d,#dd513a,#df5337,#d54a41,#cf4446,#e65d2f,#c03a51,#a82e5f,#b0315b,#932667,#b73557,#b1325a,#d04545,#bd3853,#b43359,#bf3952,#ad305d,#8f2469,#801f6c,#e55c30,#c33b4f,#b73557,#cb4149,#c83f4b,#de5238,#ce4347,#ca404a,#ae305c,#c13a50,#a02a63,#c43c4e,#d84c3e,#9f2a63,#9b2964,#b93556,#b0315b,#69166e,#61136e,#c83f4b,#ab2f5e,#b1325a,#b93556,#ce4347,#84206b,#982766,#8c2369,#982766,#9f2a63,#8c2369,#9f2a63,#85216b,#ae305c,#e45a31,#cf4446,#d34743,#e05536,#87216b,#a92e5e,#9a2865,#982766,#6d186e,#952667,#7c1d6d,#6d186e,#4c0c6b,#57106e,#84206b,#440a68,#781c6d,#5a116e,#7c1d6d,#c33b4f,#ae305c,#972766,#6f196e,#64156e,#450a69,#57106e,#240c4f)"></i><i style="top:292.43px;height:5.36px;width:744.2px;background:linear-gradient(90deg,#65156e,#902568,#982766,#781c6d,#d04545,#cc4248,#bd3853,#d44842,#cc4248,#b93556,#972766,#c73e4c,#a62d60,#ad305d,#9f2a63,#b63458,#a52c60,#982766,#88226a,#982766,#6f196e,#9f2a63,#b43359,#c73e4c,#a32c61,#9f2a63,#a22b62,#922568,#b0315b,#c13a50,#e75e2e,#c43c4e,#d24644,#f2741c,#d44842,#d04545,#b43359,#9f2a63,#c63d4d,#c03a51,#9f2a63,#a62d60,#b0315b,#8c2369,#a32c61,#a82e5f,#ab2f5e,#ba3655,#db503b,#e8602d,#e65d2f,#c83f4b,#e35933,#d84c3e,#ec6726,#c43c4e,#d84c3e,#c73e4c,#7d1e6d,#922568,#c33b4f,#c43c4e,#a92e5e,#a62d60,#c33b4f,#b43359,#952667,#c73e4c,#a02a63,#c63d4d,#d94d3d,#b73557,#c63d4d,#dd513a,#d24644,#ec6726,#da4e3c,#a02a63,#ba3655,#b3325a,#d34743,#c83f4b,#a92e5e,#ab2f5e,#ad305d,#a82e5f,#8c2369,#9a2865,#d24644,#d34743,#d84c3e,#c83f4b,#a62d60,#9f2a63,#bd3853,#8d2369,#7c1d6d,#84206b,#69166e,#a22b62,#8d2369,#ae305c,#982766,#e8602d,#ef6c23,#f98b0b,#ed6925,#c13a50,#ef6c23,#d04545,#c73e4c,#d84c3e,#d54a41,#e9612b,#db503b,#ec6726,#e05536,#ec6726,#d54a41,#d44842,#e15635,#b3325a,#b0315b,#d04545,#e45a31,#a62d60,#71196e,#9a2865,#7a1d6d,#b3325a,#ba3655,#c13a50,#b3325a,#b1325a,#a62d60,#9b2964,#a32c61,#952667,#a92e5e,#ad305d,#bd3853,#ba3655,#a62d60,#ab2f5e,#b93556,#a92e5e,#c63d4d,#ce4347,#c73e4c,#8f2469,#b63458,#922568,#a52c60,#a32c61,#ae305c,#d54a41,#7a1d6d,#972766,#7a1d6d,#9d2964,#b43359,#a82e5f,#902568,#8f2469,#69166e,#4f0d6c,#64156e,#320a5e)"></i><i style="top:296.79px;height:5.36px;width:744.2px;background:linear-gradient(90deg,#8c2369,#b63458,#b73557,#982766,#cc4248,#c73e4c,#d24644,#e35933,#bd3853,#b73557,#84206b,#b73557,#982766,#9f2a63,#7f1e6c,#932667,#84206b,#982766,#8a226a,#972766,#6f196e,#9a2865,#bf3952,#b73557,#922568,#71196e,#751b6e,#6c186e,#b43359,#bd3853,#e35933,#b43359,#b93556,#e35933,#ce4347,#cb4149,#b43359,#5c126e,#7a1d6d,#741a6e,#5c126e,#64156e,#6f196e,#751b6e,#8a226a,#9b2964,#a02a63,#7c1d6d,#a22b62,#a22b62,#9f2a63,#b43359,#d34743,#df5337,#f06f20,#ad305d,#d44842,#c33b4f,#a92e5e,#b3325a,#bc3754,#bc3754,#a22b62,#b93556,#d24644,#e15635,#eb6628,#f3761b,#c73e4c,#bf3952,#d34743,#b0315b,#d84c3e,#eb6628,#e35933,#ed6925,#db503b,#cb4149,#ba3655,#d54a41,#e8602d,#e05536,#c43c4e,#8d2369,#cc4248,#c73e4c,#ad305d,#ba3655,#d04545,#e15635,#e75e2e,#da4e3c,#d24644,#cb4149,#e25734,#a22b62,#bd3853,#c33b4f,#a82e5f,#e05536,#d04545,#e8602d,#da4e3c,#e75e2e,#e45a31,#d84c3e,#cc4248,#c03a51,#ed6925,#ce4347,#cc4248,#e05536,#e8602d,#f57d15,#ec6726,#ea632a,#771c6d,#8d2369,#8f2469,#b1325a,#c13a50,#82206c,#741a6e,#9b2964,#c33b4f,#7d1e6d,#65156e,#8f2469,#a92e5e,#b0315b,#b63458,#902568,#7f1e6c,#b3325a,#9a2865,#88226a,#922568,#88226a,#9b2964,#82206c,#771c6d,#ae305c,#922568,#952667,#b73557,#a62d60,#952667,#7c1d6d,#741a6e,#510e6c,#85216b,#5f136e,#59106e,#57106e,#62146e,#8d2369,#4d0d6c,#57106e,#390963,#85216b,#9d2964,#bc3754,#a52c60,#8c2369,#7f1e6c,#510e6c,#65156e,#340a5f)"></i><i style="top:301.16px;height:5.36px;width:744.2px;background:linear-gradient(90deg,#65156e,#902568,#982766,#781c6d,#ae305c,#da4e3c,#cc4248,#dd513a,#d04545,#ca404a,#922568,#c63d4d,#a92e5e,#b93556,#ae305c,#b93556,#ab2f5e,#4f0d6c,#400a67,#71196e,#450a69,#71196e,#932667,#bd3853,#9a2865,#972766,#922568,#7c1d6d,#952667,#9d2964,#c83f4b,#bc3754,#c73e4c,#d74b3f,#bc3754,#ba3655,#9f2a63,#67166e,#85216b,#7f1e6c,#5d126e,#62146e,#71196e,#61136e,#751b6e,#7c1d6d,#801f6c,#b3325a,#d44842,#e35933,#de5238,#ca404a,#e45a31,#cf4446,#d54a41,#ae305c,#d54a41,#c43c4e,#ba3655,#cc4248,#d34743,#d74b3f,#82206c,#7f1e6c,#9d2964,#a82e5f,#b93556,#c03a51,#9f2a63,#c43c4e,#f2741c,#dd513a,#9a2865,#a32c61,#952667,#a32c61,#87216b,#721a6e,#ce4347,#c73e4c,#de5238,#d54a41,#b93556,#952667,#c03a51,#b93556,#d34743,#df5337,#c63d4d,#c83f4b,#cf4446,#ca404a,#c13a50,#bc3754,#c83f4b,#972766,#b1325a,#b43359,#972766,#ba3655,#a62d60,#c63d4d,#df5337,#eb6628,#f2741c,#eb6429,#d54a41,#a82e5f,#cc4248,#b0315b,#a52c60,#c33b4f,#c13a50,#d94d3d,#c83f4b,#ab2f5e,#972766,#ab2f5e,#ae305c,#cc4248,#d94d3d,#9d2964,#7d1e6d,#c13a50,#d84c3e,#9a2865,#932667,#a82e5f,#88226a,#a62d60,#ad305d,#dd513a,#c13a50,#d24644,#ca404a,#bc3754,#c73e4c,#c13a50,#d34743,#932667,#922568,#c63d4d,#a92e5e,#c83f4b,#d54a41,#c63d4d,#c73e4c,#c63d4d,#c03a51,#9f2a63,#c43c4e,#82206c,#741a6e,#721a6e,#7a1d6d,#b3325a,#721a6e,#8d2369,#87216b,#a92e5e,#e25734,#d34743,#bf3952,#9a2865,#8c2369,#741a6e,#922568,#62146e)"></i><i style="top:305.52px;height:5.36px;width:744.2px;background:linear-gradient(90deg,#8c2369,#b63458,#e15635,#c83f4b,#ba3655,#b63458,#ab2f5e,#bf3952,#b63458,#ae305c,#7c1d6d,#b3325a,#972766,#9d2964,#932667,#a92e5e,#9b2964,#9b2964,#8f2469,#972766,#6a176e,#a22b62,#c13a50,#ca404a,#a92e5e,#a82e5f,#ae305c,#85216b,#9d2964,#a32c61,#cc4248,#cb4149,#d54a41,#f3761b,#e15635,#a22b62,#87216b,#741a6e,#952667,#a52c60,#84206b,#8c2369,#8d2369,#7d1e6d,#932667,#db503b,#df5337,#cf4446,#ea632a,#f37819,#cf4446,#b93556,#d74b3f,#c03a51,#f2741c,#d94d3d,#f3761b,#e9612b,#932667,#a82e5f,#b0315b,#c83f4b,#b0315b,#ad305d,#c73e4c,#ae305c,#bf3952,#cc4248,#c43c4e,#e35933,#f06f20,#d54a41,#c83f4b,#dd513a,#df5337,#e8602d,#ab2f5e,#972766,#bd3853,#b63458,#ce4347,#c33b4f,#9f2a63,#9d2964,#c83f4b,#c03a51,#a62d60,#b73557,#c33b4f,#c73e4c,#cf4446,#c13a50,#ba3655,#c73e4c,#dd513a,#ae305c,#c43c4e,#c63d4d,#9f2a63,#e25734,#d24644,#e9612b,#dd513a,#df5337,#e9612b,#df5337,#c73e4c,#a82e5f,#df5337,#b73557,#da4e3c,#e9612b,#e8602d,#f57d15,#ec6726,#d44842,#c13a50,#d44842,#b3325a,#cf4446,#da4e3c,#9d2964,#9b2964,#c03a51,#d84c3e,#9a2865,#781c6d,#a22b62,#801f6c,#bd3853,#a22b62,#b63458,#a32c61,#b3325a,#b43359,#a82e5f,#b63458,#a92e5e,#c33b4f,#a82e5f,#801f6c,#b63458,#c63d4d,#b63458,#c13a50,#b0315b,#b3325a,#bf3952,#b43359,#922568,#b93556,#952667,#85216b,#902568,#972766,#c03a51,#7f1e6c,#9a2865,#7f1e6c,#a22b62,#bc3754,#b3325a,#9b2964,#9a2865,#7c1d6d,#64156e,#741a6e,#440a68)"></i><i style="top:309.89px;height:5.36px;width:744.2px;background:linear-gradient(90deg,#8c2369,#b63458,#bd3853,#9f2a63,#f3761b,#f1711f,#e8602d,#c03a51,#b73557,#b0315b,#ae305c,#e05536,#ca404a,#d44842,#ba3655,#cf4446,#c43c4e,#a32c61,#982766,#9f2a63,#71196e,#a22b62,#c03a51,#bc3754,#da4e3c,#da4e3c,#c43c4e,#8d2369,#a22b62,#a92e5e,#d04545,#7a1d6d,#87216b,#b63458,#952667,#65156e,#85216b,#741a6e,#932667,#a22b62,#801f6c,#8a226a,#6c186e,#5d126e,#751b6e,#7d1e6d,#84206b,#751b6e,#9b2964,#b0315b,#ab2f5e,#922568,#b73557,#9d2964,#ba3655,#902568,#d84c3e,#c73e4c,#9a2865,#ad305d,#b43359,#d04545,#b93556,#b63458,#cf4446,#c13a50,#ae305c,#bf3952,#972766,#bd3853,#d24644,#a62d60,#972766,#df5337,#d44842,#e55c30,#d04545,#d04545,#e45a31,#df5337,#d04545,#c63d4d,#a32c61,#ae305c,#c83f4b,#c03a51,#a52c60,#b73557,#d34743,#d74b3f,#e25734,#d94d3d,#d24644,#cf4446,#f1711f,#cb4149,#db503b,#db503b,#781c6d,#9d2964,#87216b,#a92e5e,#bd3853,#d04545,#c43c4e,#b73557,#9a2865,#c43c4e,#f06f20,#d34743,#ca404a,#9a2865,#982766,#b43359,#a02a63,#bf3952,#ab2f5e,#bf3952,#a22b62,#c03a51,#cc4248,#8c2369,#932667,#bd3853,#d74b3f,#9a2865,#a22b62,#c83f4b,#7c1d6d,#84206b,#902568,#a32c61,#8f2469,#9f2a63,#982766,#902568,#a22b62,#7a1d6d,#8d2369,#6f196e,#6a176e,#9b2964,#781c6d,#7a1d6d,#87216b,#982766,#9d2964,#ab2f5e,#a82e5f,#87216b,#cc4248,#a92e5e,#741a6e,#721a6e,#781c6d,#bd3853,#7a1d6d,#932667,#7a1d6d,#9f2a63,#b3325a,#a22b62,#8a226a,#82206c,#741a6e,#5c126e,#5a116e,#280b53)"></i><i style="top:314.25px;height:5.36px;width:744.2px;background:linear-gradient(90deg,#c13a50,#e35933,#e75e2e,#b0315b,#de5238,#da4e3c,#cc4248,#c63d4d,#bc3754,#c33b4f,#8a226a,#c13a50,#a92e5e,#cc4248,#c43c4e,#d84c3e,#c83f4b,#c33b4f,#cb4149,#d04545,#771c6d,#9d2964,#e8602d,#e55c30,#cb4149,#82206c,#88226a,#87216b,#9d2964,#a92e5e,#cf4446,#88226a,#a52c60,#d24644,#b3325a,#b43359,#9a2865,#932667,#b1325a,#ad305d,#8a226a,#9f2a63,#ab2f5e,#87216b,#a02a63,#a92e5e,#ce4347,#cf4446,#b93556,#cb4149,#c83f4b,#b1325a,#cf4446,#df5337,#f67e14,#df5337,#e15635,#dd513a,#c63d4d,#d74b3f,#fc9f07,#fca50a,#c03a51,#bd3853,#d54a41,#ca404a,#df5337,#e9612b,#cb4149,#e75e2e,#fb9906,#f06f20,#e9612b,#f06f20,#f06f20,#f67e14,#e9612b,#db503b,#eb6628,#b1325a,#cb4149,#ca404a,#a92e5e,#932667,#ba3655,#a22b62,#85216b,#982766,#bf3952,#c33b4f,#cb4149,#c03a51,#b1325a,#ae305c,#c73e4c,#87216b,#9d2964,#9d2964,#721a6e,#972766,#801f6c,#c73e4c,#b63458,#ca404a,#d74b3f,#e55c30,#d04545,#c43c4e,#ab2f5e,#7d1e6d,#a22b62,#a52c60,#a22b62,#bd3853,#a92e5e,#a02a63,#8a226a,#6d186e,#c63d4d,#e15635,#eb6429,#b73557,#741a6e,#9d2964,#d34743,#952667,#801f6c,#b3325a,#952667,#9d2964,#9f2a63,#ad305d,#972766,#a32c61,#ab2f5e,#a22b62,#b1325a,#922568,#a32c61,#85216b,#8c2369,#bd3853,#9f2a63,#9f2a63,#ad305d,#9f2a63,#a32c61,#b0315b,#771c6d,#64156e,#8c2369,#69166e,#a32c61,#a22b62,#932667,#b93556,#751b6e,#8d2369,#9b2964,#bf3952,#d54a41,#c43c4e,#c63d4d,#c43c4e,#b93556,#88226a,#9b2964,#6c186e)"></i><i style="top:318.61px;height:5.36px;width:744.2px;background:linear-gradient(90deg,#9a2865,#c33b4f,#c83f4b,#ad305d,#db503b,#b43359,#bc3754,#ce4347,#c43c4e,#bf3952,#85216b,#d34743,#b93556,#c03a51,#84206b,#9d2964,#902568,#88226a,#8d2369,#9f2a63,#6f196e,#952667,#b3325a,#9b2964,#781c6d,#781c6d,#801f6c,#61136e,#771c6d,#7f1e6c,#df5337,#9d2964,#a82e5f,#a52c60,#82206c,#84206b,#69166e,#741a6e,#922568,#8a226a,#450a69,#4c0c6b,#57106e,#4a0c6b,#88226a,#932667,#9b2964,#972766,#bc3754,#ce4347,#cb4149,#b43359,#de5238,#c83f4b,#f1731d,#d84c3e,#f57b17,#d84c3e,#cf4446,#df5337,#e05536,#e8602d,#d54a41,#d34743,#e75e2e,#de5238,#dd513a,#d84c3e,#b3325a,#d34743,#e45a31,#c73e4c,#bc3754,#d44842,#ca404a,#d54a41,#bf3952,#c83f4b,#de5238,#e25734,#f1711f,#eb6429,#b93556,#b63458,#d94d3d,#bf3952,#a32c61,#b43359,#c03a51,#c33b4f,#c73e4c,#ba3655,#b3325a,#b0315b,#ed6925,#c63d4d,#d94d3d,#d94d3d,#8d2369,#b1325a,#d94d3d,#ef6c23,#c73e4c,#d94d3d,#e35933,#eb6628,#b63458,#a92e5e,#ce4347,#a52c60,#982766,#ae305c,#c43c4e,#ef6e21,#e45a31,#c63d4d,#9d2964,#d84c3e,#ba3655,#da4e3c,#e75e2e,#952667,#952667,#c13a50,#d94d3d,#9a2865,#8a226a,#b43359,#972766,#a02a63,#7c1d6d,#8c2369,#721a6e,#7d1e6d,#771c6d,#84206b,#952667,#8c2369,#9f2a63,#7a1d6d,#741a6e,#a82e5f,#88226a,#69166e,#781c6d,#65156e,#67166e,#87216b,#801f6c,#5f136e,#88226a,#7f1e6c,#71196e,#71196e,#71196e,#972766,#210c4a,#3b0964,#1e0c45,#420a68,#6a176e,#550f6d,#3e0966,#400a67,#290b55,#140b34,#260c51,#02020c)"></i><i style="top:322.98px;height:5.36px;width:744.2px;background:linear-gradient(90deg,#b63458,#da4e3c,#d74b3f,#bc3754,#e15635,#de5238,#d04545,#e15635,#d94d3d,#f06f20,#c83f4b,#ed6925,#b3325a,#b93556,#ad305d,#c33b4f,#932667,#8c2369,#982766,#9f2a63,#8f2469,#b3325a,#ce4347,#d54a41,#b93556,#8f2469,#972766,#982766,#c73e4c,#ce4347,#ec6726,#b3325a,#c73e4c,#ea632a,#d34743,#d74b3f,#c03a51,#b0315b,#cb4149,#bd3853,#972766,#9a2865,#982766,#8d2369,#a92e5e,#b63458,#972766,#982766,#bf3952,#cf4446,#eb6429,#da4e3c,#ef6e21,#de5238,#ef6c23,#d24644,#f98b0b,#f2741c,#a52c60,#ba3655,#c13a50,#ce4347,#972766,#932667,#b0315b,#a22b62,#c13a50,#ce4347,#a52c60,#dd513a,#eb6429,#de5238,#d44842,#da4e3c,#d24644,#f78212,#eb6628,#de5238,#ee6a24,#9d2964,#e65d2f,#d04545,#b1325a,#ae305c,#d84c3e,#d04545,#b63458,#c43c4e,#ce4347,#cf4446,#d74b3f,#cc4248,#c63d4d,#d24644,#e45a31,#b73557,#ce4347,#c83f4b,#ad305d,#ce4347,#87216b,#a82e5f,#932667,#a62d60,#f2741c,#ea632a,#d74b3f,#87216b,#ec6726,#cf4446,#c43c4e,#d54a41,#b63458,#cc4248,#ba3655,#d54a41,#a02a63,#b43359,#6a176e,#932667,#ab2f5e,#57106e,#550f6d,#7d1e6d,#982766,#520e6d,#741a6e,#a02a63,#84206b,#8f2469,#9d2964,#a92e5e,#8f2469,#922568,#4f0d6c,#85216b,#952667,#8d2369,#b3325a,#952667,#8f2469,#9d2964,#7f1e6c,#82206c,#721a6e,#61136e,#62146e,#6d186e,#67166e,#59106e,#84206b,#801f6c,#741a6e,#751b6e,#922568,#b63458,#540f6d,#6a176e,#4d0d6c,#6f196e,#84206b,#6d186e,#59106e,#470b6a,#3b0964,#3e0966,#540f6d,#210c4a)"></i><i style="top:327.34px;height:5.36px;width:744.2px;background:linear-gradient(90deg,#8c2369,#b63458,#bd3853,#9f2a63,#d04545,#d24644,#c43c4e,#d44842,#cc4248,#a22b62,#67166e,#ca404a,#a82e5f,#ad305d,#9d2964,#922568,#85216b,#7f1e6c,#741a6e,#781c6d,#8a226a,#b0315b,#cb4149,#8f2469,#6d186e,#781c6d,#801f6c,#922568,#8f2469,#982766,#c33b4f,#7a1d6d,#82206c,#b1325a,#902568,#a32c61,#88226a,#771c6d,#a92e5e,#9d2964,#4f0d6c,#4f0d6c,#59106e,#65156e,#82206c,#902568,#7c1d6d,#7d1e6d,#a32c61,#b73557,#b43359,#b93556,#b3325a,#982766,#b63458,#8c2369,#e45a31,#d54a41,#bd3853,#85216b,#8d2369,#922568,#9b2964,#982766,#c73e4c,#b93556,#b73557,#c33b4f,#982766,#ba3655,#ce4347,#b63458,#9b2964,#bc3754,#b1325a,#bf3952,#e15635,#d04545,#e45a31,#932667,#ae305c,#a22b62,#7d1e6d,#b93556,#f1711f,#ec6726,#d84c3e,#e35933,#f57b17,#f57d15,#f8870e,#e45a31,#df5337,#dd513a,#ee6a24,#ca404a,#cc4248,#cf4446,#b43359,#d24644,#bf3952,#db503b,#ca404a,#e55c30,#ec6726,#c73e4c,#ae305c,#a32c61,#df5337,#e25734,#d94d3d,#c03a51,#ba3655,#e35933,#b73557,#b3325a,#9d2964,#b73557,#9a2865,#f3761b,#fa9407,#e45a31,#82206c,#d24644,#e45a31,#a82e5f,#ab2f5e,#d44842,#a02a63,#ab2f5e,#a92e5e,#b43359,#c63d4d,#cb4149,#c33b4f,#ba3655,#d54a41,#cf4446,#bd3853,#a02a63,#7d1e6d,#b1325a,#932667,#922568,#a22b62,#922568,#922568,#9d2964,#952667,#8f2469,#ba3655,#9b2964,#781c6d,#7c1d6d,#7d1e6d,#a02a63,#6d186e,#82206c,#5a116e,#7a1d6d,#67166e,#510e6c,#3b0964,#65156e,#5d126e,#360961,#4c0c6b,#190c3e)"></i><i style="top:331.71px;height:5.36px;width:744.2px;background:linear-gradient(90deg,#9a2865,#c33b4f,#ca404a,#ad305d,#db503b,#f57b17,#ce4347,#dd513a,#d74b3f,#d24644,#b1325a,#da4e3c,#ba3655,#bc3754,#ab2f5e,#c13a50,#a02a63,#9a2865,#a62d60,#ad305d,#9b2964,#9f2a63,#bd3853,#b93556,#972766,#982766,#a22b62,#a52c60,#c43c4e,#ce4347,#c83f4b,#7f1e6c,#8c2369,#ba3655,#b73557,#d94d3d,#c33b4f,#b3325a,#b63458,#a82e5f,#7f1e6c,#972766,#a02a63,#972766,#c03a51,#cc4248,#d54a41,#b0315b,#d24644,#e15635,#df5337,#e45a31,#f47918,#da4e3c,#ed6925,#cf4446,#cc4248,#ba3655,#8c2369,#a02a63,#a92e5e,#ad305d,#922568,#8f2469,#ad305d,#b93556,#c73e4c,#cc4248,#a22b62,#c13a50,#bf3952,#9f2a63,#c43c4e,#e05536,#d84c3e,#e25734,#ba3655,#c63d4d,#8d2369,#87216b,#a22b62,#952667,#b0315b,#751b6e,#9d2964,#932667,#741a6e,#9d2964,#d34743,#bc3754,#c43c4e,#b73557,#b0315b,#781c6d,#952667,#b0315b,#c73e4c,#cb4149,#b0315b,#d04545,#a82e5f,#b1325a,#9b2964,#ad305d,#b93556,#7f1e6c,#62146e,#85216b,#d84c3e,#b3325a,#a62d60,#b93556,#a62d60,#e75e2e,#d94d3d,#d44842,#c33b4f,#9f2a63,#82206c,#f3761b,#de5238,#b0315b,#9d2964,#c13a50,#f78212,#cc4248,#c13a50,#e45a31,#cb4149,#d44842,#d34743,#db503b,#c33b4f,#c63d4d,#ae305c,#a52c60,#bd3853,#b43359,#c73e4c,#ab2f5e,#922568,#c43c4e,#a92e5e,#ae305c,#9d2964,#8c2369,#bf3952,#c73e4c,#c03a51,#741a6e,#d04545,#b43359,#a92e5e,#ab2f5e,#bd3853,#db503b,#9a2865,#ae305c,#801f6c,#a02a63,#b73557,#a22b62,#8d2369,#5d126e,#540f6d,#5c126e,#6f196e,#3e0966)"></i><i style="top:336.07px;height:5.36px;width:744.2px;background:linear-gradient(90deg,#a62d60,#ce4347,#d44842,#b93556,#f68013,#f57b17,#ed6925,#f68013,#e15635,#de5238,#ad305d,#d54a41,#b43359,#b73557,#a62d60,#bd3853,#b1325a,#b3325a,#a82e5f,#ad305d,#71196e,#952667,#b43359,#b0315b,#87216b,#87216b,#8c2369,#8f2469,#a92e5e,#b3325a,#d44842,#8f2469,#922568,#e15635,#c63d4d,#a02a63,#87216b,#a32c61,#9f2a63,#922568,#69166e,#6a176e,#59106e,#4f0d6c,#6c186e,#7c1d6d,#9f2a63,#a02a63,#c43c4e,#e05536,#de5238,#ca404a,#e45a31,#d04545,#e15635,#bd3853,#e05536,#ab2f5e,#8f2469,#a52c60,#b0315b,#c83f4b,#b0315b,#ab2f5e,#c73e4c,#bc3754,#d34743,#da4e3c,#d84c3e,#ed6925,#ec6726,#d84c3e,#d04545,#ea632a,#e35933,#f1731d,#e15635,#d04545,#e35933,#9a2865,#b43359,#d34743,#b43359,#cf4446,#b63458,#ab2f5e,#8d2369,#9d2964,#a92e5e,#c03a51,#c83f4b,#ba3655,#d54a41,#d24644,#e65d2f,#bd3853,#d34743,#ba3655,#9f2a63,#b63458,#8d2369,#ae305c,#9a2865,#b73557,#c33b4f,#b1325a,#7a1d6d,#71196e,#b43359,#8c2369,#922568,#a32c61,#9b2964,#e35933,#d34743,#cf4446,#bc3754,#a62d60,#87216b,#b3325a,#b1325a,#781c6d,#902568,#b73557,#de5238,#a02a63,#9b2964,#c73e4c,#88226a,#932667,#a52c60,#9a2865,#801f6c,#771c6d,#6d186e,#62146e,#71196e,#71196e,#84206b,#67166e,#751b6e,#ab2f5e,#8d2369,#b73557,#c63d4d,#cb4149,#b43359,#bf3952,#b93556,#781c6d,#a32c61,#82206c,#7c1d6d,#7d1e6d,#932667,#b73557,#71196e,#85216b,#69166e,#8a226a,#a22b62,#922568,#7d1e6d,#8f2469,#85216b,#6f196e,#84206b,#510e6c)"></i><i style="top:340.44px;height:5.36px;width:744.2px;background:linear-gradient(90deg,#390963,#65156e,#bf3952,#a02a63,#ce4347,#c83f4b,#c33b4f,#d54a41,#d94d3d,#d74b3f,#a52c60,#b93556,#932667,#952667,#9a2865,#b3325a,#922568,#8a226a,#972766,#9d2964,#6d186e,#922568,#972766,#922568,#6a176e,#6a176e,#982766,#9b2964,#b63458,#c03a51,#e15635,#a02a63,#ab2f5e,#c33b4f,#a32c61,#a32c61,#7c1d6d,#6a176e,#88226a,#7d1e6d,#65156e,#67166e,#721a6e,#5d126e,#7a1d6d,#da4e3c,#e15635,#e25734,#f57d15,#ce4347,#cb4149,#cf4446,#e8602d,#d54a41,#e9612b,#a52c60,#cc4248,#b73557,#a22b62,#b93556,#c33b4f,#d24644,#bc3754,#bc3754,#e25734,#d94d3d,#e55c30,#ea632a,#c63d4d,#b73557,#ca404a,#b0315b,#a62d60,#d34743,#ca404a,#d44842,#b93556,#a22b62,#d54a41,#d04545,#e45a31,#db503b,#ce4347,#dd513a,#f3761b,#d34743,#b93556,#d44842,#ae305c,#b1325a,#b93556,#a92e5e,#cc4248,#c73e4c,#de5238,#b0315b,#902568,#932667,#a22b62,#c43c4e,#a32c61,#c33b4f,#ae305c,#bd3853,#c83f4b,#b73557,#9b2964,#922568,#b3325a,#8a226a,#7c1d6d,#8d2369,#c43c4e,#d54a41,#c33b4f,#9f2a63,#8a226a,#9f2a63,#82206c,#ad305d,#c13a50,#85216b,#85216b,#ad305d,#ef6e21,#bd3853,#8f2469,#b93556,#9b2964,#a52c60,#7c1d6d,#8a226a,#71196e,#c33b4f,#ba3655,#801f6c,#8f2469,#82206c,#972766,#540f6d,#520e6d,#88226a,#ae305c,#b0315b,#bd3853,#972766,#982766,#a52c60,#9f2a63,#88226a,#b1325a,#801f6c,#721a6e,#741a6e,#771c6d,#b73557,#721a6e,#88226a,#440a68,#67166e,#801f6c,#6c186e,#550f6d,#5f136e,#520e6d,#3b0964,#510e6c,#1e0c45)"></i><i style="top:344.80px;height:5.36px;width:744.2px;background:linear-gradient(90deg,#741a6e,#9f2a63,#a62d60,#87216b,#d84c3e,#d44842,#9b2964,#b3325a,#ad305d,#c13a50,#8c2369,#b93556,#8a226a,#8a226a,#771c6d,#902568,#7c1d6d,#741a6e,#69166e,#721a6e,#420a68,#5f136e,#8f2469,#8a226a,#69166e,#310a5c,#390963,#3d0965,#59106e,#ad305d,#c33b4f,#7a1d6d,#85216b,#b43359,#932667,#67166e,#4c0c6b,#390963,#59106e,#4f0d6c,#8c2369,#340a5f,#400a67,#360961,#972766,#a62d60,#b0315b,#b1325a,#b0315b,#c13a50,#e25734,#cf4446,#e8602d,#d44842,#bf3952,#902568,#b73557,#a02a63,#8c2369,#a52c60,#b0315b,#e65d2f,#d54a41,#d74b3f,#c73e4c,#bd3853,#d84c3e,#cc4248,#9f2a63,#bc3754,#ce4347,#ae305c,#b93556,#d54a41,#ce4347,#d34743,#b73557,#9f2a63,#b63458,#c83f4b,#ab2f5e,#9f2a63,#7c1d6d,#781c6d,#a22b62,#dd513a,#8f2469,#b1325a,#bf3952,#c33b4f,#b0315b,#9f2a63,#922568,#c03a51,#d74b3f,#a82e5f,#c13a50,#b63458,#9a2865,#bd3853,#a82e5f,#bd3853,#a82e5f,#b93556,#b1325a,#9f2a63,#82206c,#781c6d,#d24644,#ad305d,#9f2a63,#ae305c,#9f2a63,#b43359,#a62d60,#a02a63,#8c2369,#741a6e,#510e6c,#781c6d,#8c2369,#420a68,#420a68,#6c186e,#8a226a,#84206b,#7d1e6d,#a82e5f,#88226a,#a82e5f,#a92e5e,#ba3655,#a52c60,#a62d60,#9d2964,#8f2469,#ae305c,#a22b62,#b63458,#7a1d6d,#781c6d,#a82e5f,#88226a,#62146e,#6f196e,#8f2469,#d54a41,#9a2865,#952667,#741a6e,#9d2964,#781c6d,#a92e5e,#a92e5e,#ae305c,#d24644,#4f0d6c,#67166e,#4c0c6b,#71196e,#b63458,#a32c61,#8d2369,#8c2369,#7f1e6c,#5f136e,#721a6e,#440a68)"></i><i style="top:349.17px;height:5.36px;width:744.2px;background:linear-gradient(90deg,#5a116e,#85216b,#982766,#781c6d,#b0315b,#c43c4e,#b43359,#d44842,#d04545,#cf4446,#88226a,#b63458,#4f0d6c,#4f0d6c,#3b0964,#902568,#972766,#8f2469,#69166e,#6f196e,#3e0966,#7a1d6d,#9a2865,#952667,#540f6d,#540f6d,#85216b,#88226a,#d44842,#9a2865,#c43c4e,#7c1d6d,#88226a,#e8602d,#d04545,#bd3853,#a32c61,#922568,#7d1e6d,#741a6e,#4f0d6c,#922568,#9d2964,#801f6c,#9d2964,#ab2f5e,#b63458,#7a1d6d,#a02a63,#b43359,#b1325a,#982766,#ed6925,#dd513a,#ee6a24,#cc4248,#ed6925,#bd3853,#a22b62,#ba3655,#c73e4c,#eb6628,#de5238,#df5337,#f2741c,#ee6a24,#d94d3d,#e8602d,#c13a50,#da4e3c,#fb9b06,#f57b17,#f2741c,#fcb014,#fca50a,#fcb014,#f57b17,#d04545,#e25734,#bd3853,#d44842,#ca404a,#ef6e21,#ee6a24,#df5337,#d84c3e,#c03a51,#d04545,#d54a41,#c33b4f,#ca404a,#cf4446,#c43c4e,#bd3853,#d44842,#ad305d,#c63d4d,#c83f4b,#b3325a,#d34743,#c03a51,#b63458,#a02a63,#b1325a,#e05536,#922568,#771c6d,#85216b,#c73e4c,#a02a63,#a02a63,#b0315b,#a62d60,#bc3754,#a62d60,#a22b62,#8c2369,#b43359,#902568,#87216b,#982766,#59106e,#a32c61,#cb4149,#e25734,#a92e5e,#64156e,#8d2369,#6d186e,#741a6e,#b43359,#c73e4c,#b3325a,#c13a50,#922568,#82206c,#7a1d6d,#6c186e,#85216b,#8d2369,#8f2469,#d04545,#ab2f5e,#ab2f5e,#d54a41,#c43c4e,#cb4149,#9a2865,#972766,#751b6e,#972766,#721a6e,#62146e,#bd3853,#c33b4f,#9a2865,#57106e,#71196e,#320a5e,#59106e,#932667,#801f6c,#69166e,#902568,#82206c,#67166e,#7c1d6d,#4d0d6c)"></i><i style="top:353.53px;height:5.36px;width:744.2px;background:linear-gradient(90deg,#62146e,#8d2369,#a82e5f,#87216b,#cb4149,#c63d4d,#b63458,#cb4149,#cc4248,#cb4149,#982766,#c63d4d,#a02a63,#7f1e6c,#82206c,#9a2865,#6d186e,#64156e,#801f6c,#88226a,#5a116e,#82206c,#bd3853,#b93556,#982766,#771c6d,#7f1e6c,#801f6c,#85216b,#8d2369,#ba3655,#71196e,#6d186e,#9f2a63,#7c1d6d,#7d1e6d,#8d2369,#7c1d6d,#8d2369,#85216b,#61136e,#67166e,#6c186e,#61136e,#7d1e6d,#8a226a,#7a1d6d,#7a1d6d,#a02a63,#d54a41,#d34743,#b3325a,#d24644,#bc3754,#d54a41,#b3325a,#d54a41,#c03a51,#c63d4d,#d94d3d,#e25734,#e8602d,#b63458,#ae305c,#ce4347,#b63458,#c63d4d,#cb4149,#9b2964,#b3325a,#e35933,#cc4248,#d54a41,#d74b3f,#d84c3e,#df5337,#c43c4e,#ba3655,#bf3952,#b73557,#ce4347,#da4e3c,#bd3853,#902568,#ba3655,#b1325a,#972766,#9d2964,#ab2f5e,#b0315b,#b73557,#a52c60,#9a2865,#932667,#dd513a,#ae305c,#c63d4d,#b0315b,#922568,#952667,#7f1e6c,#a02a63,#c43c4e,#a52c60,#b0315b,#cc4248,#c33b4f,#ba3655,#ed6925,#d04545,#a22b62,#b3325a,#88226a,#9d2964,#87216b,#84206b,#6f196e,#bd3853,#9b2964,#d24644,#e05536,#a82e5f,#a82e5f,#e35933,#f3761b,#c73e4c,#c13a50,#a32c61,#88226a,#922568,#952667,#a82e5f,#b0315b,#bd3853,#b43359,#a62d60,#b1325a,#7c1d6d,#902568,#781c6d,#85216b,#bd3853,#9d2964,#9d2964,#a92e5e,#952667,#9a2865,#a82e5f,#a52c60,#771c6d,#9f2a63,#7a1d6d,#6a176e,#67166e,#6d186e,#952667,#520e6d,#6a176e,#6d186e,#902568,#ab2f5e,#972766,#59106e,#4f0d6c,#420a68,#290b55,#771c6d,#470b6a)"></i><i style="top:357.90px;height:5.36px;width:744.2px;background:linear-gradient(90deg,#7f1e6c,#b0315b,#b73557,#952667,#c73e4c,#c03a51,#ba3655,#cf4446,#dd513a,#ee6a24,#c83f4b,#eb6628,#d24644,#d44842,#952667,#ab2f5e,#9b2964,#8d2369,#801f6c,#8a226a,#510e6c,#7c1d6d,#9f2a63,#9a2865,#82206c,#82206c,#8a226a,#8a226a,#b1325a,#b73557,#dd513a,#9a2865,#8a226a,#cc4248,#ae305c,#ae305c,#902568,#7f1e6c,#9f2a63,#c03a51,#9f2a63,#a52c60,#b1325a,#a62d60,#781c6d,#84206b,#8c2369,#8c2369,#e45a31,#ee6a24,#eb6628,#de5238,#d34743,#bd3853,#d74b3f,#ad305d,#e45a31,#b93556,#9b2964,#b3325a,#df5337,#eb6628,#db503b,#de5238,#f1711f,#a62d60,#b73557,#bd3853,#bf3952,#d84c3e,#e65d2f,#e8602d,#e45a31,#f78212,#f37819,#f06f20,#dd513a,#c83f4b,#e55c30,#bf3952,#ce4347,#c03a51,#c33b4f,#c33b4f,#c13a50,#d04545,#b73557,#c03a51,#cb4149,#ce4347,#d24644,#c63d4d,#bf3952,#ba3655,#b0315b,#a02a63,#b0315b,#b1325a,#932667,#b73557,#ca404a,#e35933,#d34743,#e05536,#c03a51,#b0315b,#a62d60,#9d2964,#da4e3c,#b73557,#8d2369,#9d2964,#932667,#922568,#7c1d6d,#781c6d,#67166e,#a22b62,#7f1e6c,#a32c61,#b63458,#982766,#972766,#c03a51,#d74b3f,#6d186e,#67166e,#902568,#9f2a63,#a62d60,#a92e5e,#982766,#84206b,#982766,#8f2469,#7f1e6c,#a92e5e,#9b2964,#b0315b,#982766,#ad305d,#c63d4d,#a62d60,#a62d60,#a82e5f,#932667,#982766,#a62d60,#952667,#751b6e,#9d2964,#7f1e6c,#9f2a63,#9d2964,#902568,#b73557,#751b6e,#b43359,#9a2865,#ba3655,#d04545,#8a226a,#751b6e,#751b6e,#7d1e6d,#67166e,#7c1d6d,#3b0964)"></i><i style="top:362.26px;height:5.36px;width:744.2px;background:linear-gradient(90deg,#8f2469,#b93556,#c03a51,#9f2a63,#ba3655,#b1325a,#9d2964,#b63458,#b0315b,#ae305c,#781c6d,#a92e5e,#85216b,#510e6c,#400a67,#550f6d,#922568,#87216b,#781c6d,#85216b,#82206c,#ad305d,#cf4446,#781c6d,#57106e,#57106e,#5f136e,#5f136e,#a32c61,#b0315b,#d54a41,#902568,#9b2964,#6c186e,#4a0c6b,#9a2865,#7f1e6c,#6d186e,#8d2369,#88226a,#6c186e,#741a6e,#801f6c,#741a6e,#751b6e,#801f6c,#87216b,#85216b,#a82e5f,#db503b,#d84c3e,#b3325a,#ea632a,#d94d3d,#ed6925,#d24644,#ec6726,#dd513a,#c43c4e,#9f2a63,#a92e5e,#b0315b,#972766,#ad305d,#cc4248,#c33b4f,#d24644,#e45a31,#d24644,#e65d2f,#f67e14,#e8602d,#c73e4c,#e55c30,#df5337,#e55c30,#cc4248,#d04545,#c73e4c,#bd3853,#d24644,#c43c4e,#c63d4d,#c73e4c,#e8602d,#eb6429,#d84c3e,#e35933,#ea632a,#da4e3c,#e25734,#da4e3c,#d54a41,#d34743,#e65d2f,#a62d60,#bc3754,#bc3754,#922568,#b63458,#cb4149,#e55c30,#d54a41,#cf4446,#d94d3d,#9f2a63,#82206c,#781c6d,#bc3754,#932667,#ca404a,#d74b3f,#cf4446,#df5337,#c03a51,#bf3952,#d54a41,#e75e2e,#ce4347,#c43c4e,#d34743,#7c1d6d,#7a1d6d,#c63d4d,#db503b,#a02a63,#9b2964,#c13a50,#a32c61,#932667,#982766,#c43c4e,#b1325a,#c03a51,#b63458,#a82e5f,#a32c61,#88226a,#9f2a63,#85216b,#a92e5e,#db503b,#c03a51,#c03a51,#a22b62,#8d2369,#922568,#a02a63,#9d2964,#982766,#bf3952,#9a2865,#8c2369,#69166e,#6f196e,#972766,#520e6d,#470b6a,#6c186e,#8d2369,#a52c60,#84206b,#71196e,#721a6e,#67166e,#520e6d,#8f2469,#540f6d)"></i><i style="top:366.62px;height:5.36px;width:744.2px;background:linear-gradient(90deg,#8a226a,#b43359,#d34743,#b3325a,#dd513a,#d54a41,#b63458,#d24644,#a82e5f,#a62d60,#71196e,#c13a50,#a02a63,#a52c60,#972766,#88226a,#771c6d,#6a176e,#5c126e,#6a176e,#65156e,#932667,#c43c4e,#c03a51,#a02a63,#a02a63,#a82e5f,#a62d60,#ba3655,#9b2964,#c43c4e,#7c1d6d,#b63458,#de5238,#b0315b,#b1325a,#972766,#85216b,#a52c60,#741a6e,#520e6d,#88226a,#952667,#87216b,#9f2a63,#922568,#972766,#85216b,#a62d60,#b63458,#b1325a,#eb6429,#bd3853,#a62d60,#c63d4d,#a92e5e,#c03a51,#a82e5f,#88226a,#972766,#9f2a63,#bc3754,#a22b62,#a52c60,#c43c4e,#e8602d,#f1711f,#f37819,#d44842,#cb4149,#db503b,#a02a63,#9a2865,#c13a50,#ce4347,#d54a41,#c63d4d,#ad305d,#bd3853,#b3325a,#8a226a,#781c6d,#540f6d,#a52c60,#cf4446,#e15635,#ca404a,#c33b4f,#cc4248,#cc4248,#df5337,#d84c3e,#b43359,#b43359,#ce4347,#972766,#ad305d,#932667,#88226a,#ad305d,#b3325a,#d24644,#bf3952,#ce4347,#d94d3d,#d44842,#bc3754,#b1325a,#e8602d,#ca404a,#a22b62,#b1325a,#bd3853,#cf4446,#bf3952,#ba3655,#a92e5e,#c63d4d,#ba3655,#d94d3d,#e65d2f,#b1325a,#b1325a,#d04545,#e65d2f,#b0315b,#ab2f5e,#d74b3f,#bc3754,#c13a50,#932667,#a82e5f,#c13a50,#cf4446,#c63d4d,#88226a,#932667,#9d2964,#b3325a,#ae305c,#ba3655,#e75e2e,#cf4446,#cf4446,#eb6628,#df5337,#e25734,#c13a50,#bf3952,#a02a63,#c63d4d,#cc4248,#bf3952,#a82e5f,#ae305c,#de5238,#a32c61,#ba3655,#a52c60,#c33b4f,#d54a41,#c33b4f,#61136e,#84206b,#9a2865,#85216b,#9a2865,#360961)"></i><i style="top:370.99px;height:5.36px;width:744.2px;background:linear-gradient(90deg,#ad305d,#d34743,#952667,#6f196e,#a02a63,#ca404a,#b63458,#cc4248,#c83f4b,#ec6726,#c73e4c,#e75e2e,#ce4347,#ad305d,#9d2964,#982766,#87216b,#7a1d6d,#6a176e,#62146e,#3b0964,#ab2f5e,#cf4446,#cb4149,#bc3754,#ba3655,#c13a50,#781c6d,#8d2369,#922568,#bc3754,#a92e5e,#b63458,#d44842,#b93556,#b93556,#a02a63,#ad305d,#cb4149,#c83f4b,#a92e5e,#8c2369,#9a2865,#771c6d,#8d2369,#952667,#982766,#952667,#d54a41,#df5337,#db503b,#cb4149,#d44842,#c03a51,#db503b,#b73557,#da4e3c,#c63d4d,#a92e5e,#982766,#d34743,#d74b3f,#a52c60,#a62d60,#c73e4c,#bf3952,#d94d3d,#de5238,#b3325a,#ce4347,#ce4347,#b3325a,#ad305d,#d54a41,#ce4347,#fb9b06,#f37819,#bd3853,#e9612b,#e15635,#ed6925,#e25734,#ad305d,#b0315b,#d34743,#cf4446,#b63458,#c43c4e,#ae305c,#b0315b,#ba3655,#b3325a,#b0315b,#dd513a,#ed6925,#c43c4e,#d54a41,#c43c4e,#a62d60,#c83f4b,#c73e4c,#c33b4f,#b0315b,#c03a51,#cc4248,#db503b,#c43c4e,#ba3655,#ed6925,#b73557,#a92e5e,#db503b,#d34743,#e25734,#d44842,#d44842,#cc4248,#e05536,#7f1e6c,#a52c60,#b73557,#8c2369,#8c2369,#d24644,#ce4347,#8f2469,#88226a,#b1325a,#922568,#c33b4f,#c63d4d,#a22b62,#d44842,#df5337,#d84c3e,#cb4149,#8c2369,#7d1e6d,#922568,#781c6d,#ce4347,#f2741c,#e05536,#e05536,#ab2f5e,#972766,#9b2964,#a92e5e,#cc4248,#b0315b,#ab2f5e,#87216b,#751b6e,#67166e,#6d186e,#bf3952,#7c1d6d,#952667,#751b6e,#71196e,#87216b,#6f196e,#a22b62,#a62d60,#9d2964,#781c6d,#8d2369,#5d126e)"></i><i style="top:375.35px;height:5.36px;width:744.2px;background:linear-gradient(90deg,#8d2369,#b73557,#bf3952,#9a2865,#c73e4c,#a92e5e,#922568,#dd513a,#db503b,#db503b,#ae305c,#ad305d,#88226a,#9b2964,#8a226a,#9d2964,#952667,#88226a,#781c6d,#87216b,#902568,#bc3754,#bf3952,#ba3655,#9a2865,#9a2865,#a22b62,#a02a63,#ca404a,#cc4248,#eb6429,#b1325a,#bd3853,#bc3754,#9d2964,#cb4149,#b63458,#a62d60,#c63d4d,#88226a,#6a176e,#741a6e,#801f6c,#b63458,#c73e4c,#a02a63,#a22b62,#9f2a63,#b73557,#c33b4f,#ba3655,#a62d60,#cb4149,#bd3853,#d94d3d,#b1325a,#d54a41,#c13a50,#902568,#a32c61,#982766,#9b2964,#7f1e6c,#82206c,#b93556,#ae305c,#c43c4e,#cb4149,#902568,#cb4149,#da4e3c,#c33b4f,#b1325a,#d44842,#ce4347,#f3761b,#e35933,#9f2a63,#b3325a,#b43359,#c73e4c,#b43359,#8f2469,#a52c60,#cf4446,#cc4248,#9a2865,#ab2f5e,#b43359,#b43359,#c03a51,#b73557,#64156e,#65156e,#801f6c,#ad305d,#c03a51,#c03a51,#a22b62,#ab2f5e,#952667,#8a226a,#751b6e,#88226a,#ae305c,#9f2a63,#801f6c,#9b2964,#d84c3e,#65156e,#932667,#a32c61,#9b2964,#bf3952,#972766,#972766,#85216b,#a02a63,#7f1e6c,#ee6a24,#f67e14,#d04545,#b93556,#dd513a,#ef6e21,#bf3952,#b43359,#d84c3e,#bd3853,#b43359,#952667,#a92e5e,#a82e5f,#b63458,#87216b,#932667,#922568,#82206c,#9b2964,#82206c,#84206b,#bc3754,#721a6e,#721a6e,#7f1e6c,#6a176e,#952667,#a32c61,#a02a63,#801f6c,#b3325a,#902568,#84206b,#280b53,#2f0a5b,#5a116e,#140b34,#2d0b59,#160b39,#5c126e,#721a6e,#5a116e,#490b6a,#4c0c6b,#440a68,#320a5e,#67166e,#360961)"></i><i style="top:379.72px;height:5.36px;width:744.2px;background:linear-gradient(90deg,#7f1e6c,#a92e5e,#902568,#69166e,#b43359,#a92e5e,#902568,#ad305d,#e15635,#e25734,#84206b,#b3325a,#8d2369,#8f2469,#7d1e6d,#520e6d,#400a67,#320a5e,#64156e,#71196e,#490b6a,#8c2369,#b0315b,#ab2f5e,#8a226a,#8a226a,#510e6c,#4d0d6c,#62146e,#7a1d6d,#a52c60,#5d126e,#6c186e,#ba3655,#9d2964,#a02a63,#8a226a,#7c1d6d,#b73557,#b43359,#972766,#a22b62,#8d2369,#771c6d,#8a226a,#8c2369,#8a226a,#7d1e6d,#952667,#932667,#8a226a,#801f6c,#a32c61,#8d2369,#c43c4e,#781c6d,#a32c61,#8c2369,#82206c,#952667,#9a2865,#9b2964,#952667,#972766,#bf3952,#b43359,#c13a50,#c73e4c,#972766,#b43359,#d84c3e,#c03a51,#ba3655,#db503b,#a32c61,#b0315b,#922568,#b73557,#cb4149,#c73e4c,#d74b3f,#c43c4e,#a02a63,#a22b62,#9b2964,#982766,#7a1d6d,#8f2469,#982766,#982766,#a52c60,#b63458,#922568,#932667,#ae305c,#982766,#ad305d,#ab2f5e,#8c2369,#c43c4e,#b0315b,#cf4446,#952667,#a92e5e,#b93556,#a92e5e,#64156e,#57106e,#b93556,#8d2369,#69166e,#781c6d,#6f196e,#a02a63,#9a2865,#9a2865,#952667,#b0315b,#8f2469,#b43359,#b93556,#7c1d6d,#7c1d6d,#a62d60,#c33b4f,#a82e5f,#a22b62,#c83f4b,#c03a51,#c73e4c,#d84c3e,#d04545,#bf3952,#cc4248,#d84c3e,#c43c4e,#cb4149,#bd3853,#b73557,#9f2a63,#9f2a63,#d34743,#a32c61,#a32c61,#b0315b,#ab2f5e,#b0315b,#ae305c,#a92e5e,#8a226a,#b43359,#8c2369,#801f6c,#82206c,#87216b,#e45a31,#a22b62,#b93556,#9a2865,#8a226a,#a02a63,#87216b,#741a6e,#7c1d6d,#741a6e,#5f136e,#b0315b,#801f6c)"></i><i style="top:384.08px;height:5.36px;width:744.2px;background:linear-gradient(90deg,#b63458,#da4e3c,#e05536,#bf3952,#f37819,#ed6925,#dd513a,#d34743,#f47918,#f57d15,#da4e3c,#f47918,#df5337,#d34743,#cb4149,#a22b62,#902568,#84206b,#741a6e,#a52c60,#7c1d6d,#a62d60,#c83f4b,#d34743,#b43359,#932667,#9a2865,#972766,#ab2f5e,#b1325a,#d74b3f,#b1325a,#952667,#c73e4c,#b1325a,#c73e4c,#b3325a,#c03a51,#dd513a,#db503b,#c33b4f,#a62d60,#b3325a,#9b2964,#d24644,#d34743,#a62d60,#a22b62,#c13a50,#cf4446,#ad305d,#e35933,#f68013,#ed6925,#e8602d,#c73e4c,#e9612b,#db503b,#c33b4f,#b3325a,#b73557,#b73557,#c33b4f,#c43c4e,#e45a31,#de5238,#cc4248,#d24644,#a32c61,#bf3952,#e05536,#ca404a,#c43c4e,#e35933,#ec6726,#f2741c,#eb6628,#de5238,#eb6628,#e15635,#eb6628,#a82e5f,#801f6c,#84206b,#d54a41,#d34743,#b93556,#d84c3e,#e05536,#e05536,#e8602d,#c03a51,#bd3853,#d54a41,#e9612b,#c43c4e,#d74b3f,#d54a41,#ba3655,#de5238,#ce4347,#cf4446,#ad305d,#d84c3e,#e35933,#d84c3e,#bf3952,#b3325a,#e65d2f,#c33b4f,#c43c4e,#d24644,#a92e5e,#bd3853,#9b2964,#9b2964,#ad305d,#c43c4e,#a62d60,#d84c3e,#e65d2f,#b43359,#b43359,#b0315b,#cc4248,#8d2369,#922568,#ba3655,#9b2964,#a22b62,#a62d60,#cf4446,#9b2964,#ab2f5e,#751b6e,#952667,#9d2964,#8a226a,#902568,#771c6d,#781c6d,#ca404a,#ab2f5e,#ab2f5e,#9d2964,#6a176e,#741a6e,#82206c,#7f1e6c,#801f6c,#ab2f5e,#8c2369,#550f6d,#59106e,#5f136e,#c33b4f,#801f6c,#9a2865,#781c6d,#a92e5e,#bd3853,#a52c60,#6f196e,#721a6e,#6a176e,#550f6d,#510e6c,#1e0c45)"></i><i style="top:388.45px;height:5.36px;width:744.2px;background:linear-gradient(90deg,#a02a63,#c83f4b,#cf4446,#a82e5f,#d04545,#d74b3f,#c03a51,#d94d3d,#d94d3d,#d74b3f,#ad305d,#d54a41,#b3325a,#ad305d,#d94d3d,#e65d2f,#da4e3c,#d04545,#9a2865,#a52c60,#7c1d6d,#c73e4c,#e35933,#e05536,#721a6e,#71196e,#87216b,#85216b,#9a2865,#932667,#bf3952,#781c6d,#8c2369,#bf3952,#a32c61,#b43359,#a02a63,#932667,#b3325a,#b1325a,#932667,#a02a63,#c63d4d,#982766,#d34743,#d34743,#c03a51,#bd3853,#d84c3e,#e25734,#d34743,#c13a50,#e15635,#d04545,#fb9706,#ed6925,#fb9906,#f78212,#b93556,#d24644,#d44842,#d44842,#bc3754,#bc3754,#d84c3e,#d04545,#d24644,#d74b3f,#a92e5e,#c63d4d,#d74b3f,#cf4446,#b43359,#d74b3f,#d04545,#db503b,#ad305d,#b1325a,#c73e4c,#b93556,#c63d4d,#b3325a,#8c2369,#8f2469,#c43c4e,#e25734,#cb4149,#d74b3f,#922568,#922568,#9d2964,#952667,#922568,#b3325a,#cc4248,#972766,#ab2f5e,#b73557,#982766,#bc3754,#a62d60,#cb4149,#82206c,#982766,#cc4248,#c03a51,#bd3853,#b0315b,#e45a31,#c03a51,#b1325a,#8d2369,#82206c,#972766,#84206b,#ab2f5e,#9b2964,#b43359,#b3325a,#d54a41,#da4e3c,#a32c61,#a32c61,#721a6e,#ae305c,#6c186e,#a22b62,#c83f4b,#a92e5e,#b1325a,#b43359,#b3325a,#9f2a63,#ad305d,#a02a63,#a22b62,#a82e5f,#972766,#a92e5e,#ad305d,#ad305d,#d04545,#b3325a,#b0315b,#bc3754,#a82e5f,#ab2f5e,#a92e5e,#a62d60,#87216b,#d84c3e,#bd3853,#b3325a,#a62d60,#b1325a,#d54a41,#741a6e,#8c2369,#6c186e,#88226a,#9d2964,#88226a,#751b6e,#781c6d,#85216b,#71196e,#84206b,#550f6d)"></i><i style="top:392.81px;height:5.36px;width:744.2px;background:linear-gradient(90deg,#9b2964,#c43c4e,#ca404a,#a22b62,#f68013,#ef6e21,#df5337,#f06f20,#f06f20,#ee6a24,#cc4248,#d94d3d,#b93556,#d24644,#c13a50,#d24644,#a32c61,#972766,#bf3952,#ca404a,#a32c61,#cc4248,#dd513a,#d84c3e,#ba3655,#b93556,#9f2a63,#9f2a63,#d04545,#d54a41,#de5238,#9f2a63,#ad305d,#da4e3c,#972766,#9a2865,#84206b,#751b6e,#e15635,#c13a50,#a52c60,#b1325a,#bd3853,#a92e5e,#c43c4e,#c73e4c,#c73e4c,#e75e2e,#eb6628,#f1711f,#d24644,#bf3952,#de5238,#db503b,#ef6e21,#f8870e,#fbbc21,#fca309,#d84c3e,#e45a31,#e75e2e,#dd513a,#b1325a,#b1325a,#cf4446,#c63d4d,#ef6c23,#f2741c,#d44842,#d74b3f,#e55c30,#c83f4b,#c13a50,#ef6c23,#ea632a,#f1711f,#e15635,#d84c3e,#e8602d,#e05536,#ed6925,#c63d4d,#a22b62,#b73557,#de5238,#b1325a,#bf3952,#b1325a,#b93556,#b73557,#e45a31,#df5337,#c03a51,#c13a50,#d94d3d,#d24644,#cf4446,#cf4446,#b3325a,#d24644,#b0315b,#ce4347,#bc3754,#d04545,#cf4446,#c33b4f,#a82e5f,#ae305c,#e45a31,#c13a50,#b3325a,#c13a50,#a52c60,#b93556,#a62d60,#bc3754,#ad305d,#c63d4d,#a62d60,#bc3754,#eb6628,#bd3853,#b93556,#dd513a,#f98e09,#d84c3e,#d34743,#d54a41,#b93556,#bf3952,#bf3952,#cf4446,#bd3853,#cb4149,#db503b,#ce4347,#d44842,#c63d4d,#c03a51,#b63458,#b63458,#d44842,#b73557,#b73557,#d44842,#c33b4f,#c73e4c,#cc4248,#ca404a,#ab2f5e,#d34743,#b43359,#972766,#982766,#9f2a63,#d34743,#932667,#ad305d,#741a6e,#922568,#a52c60,#8c2369,#88226a,#8d2369,#a62d60,#922568,#9b2964,#6c186e)"></i><i style="top:397.18px;height:5.36px;width:744.2px;background:linear-gradient(90deg,#a82e5f,#cf4446,#f8850f,#e35933,#f78212,#ea632a,#d74b3f,#ea632a,#eb6429,#da4e3c,#b1325a,#e75e2e,#ae305c,#b1325a,#a02a63,#b3325a,#ad305d,#a02a63,#922568,#b93556,#922568,#bd3853,#ea632a,#e55c30,#ca404a,#d74b3f,#da4e3c,#db503b,#d04545,#d74b3f,#d94d3d,#982766,#a52c60,#d34743,#ae305c,#b0315b,#b1325a,#a22b62,#c33b4f,#c13a50,#d44842,#de5238,#e65d2f,#9b2964,#ae305c,#b3325a,#b3325a,#da4e3c,#e05536,#e75e2e,#e15635,#cf4446,#e9612b,#d84c3e,#ed6925,#bf3952,#e25734,#d24644,#d24644,#df5337,#de5238,#df5337,#ba3655,#b93556,#d74b3f,#de5238,#e8602d,#de5238,#ce4347,#e15635,#e65d2f,#cf4446,#c73e4c,#cc4248,#d34743,#de5238,#c73e4c,#b43359,#c63d4d,#bd3853,#d34743,#c73e4c,#db503b,#dd513a,#f67e14,#c03a51,#a22b62,#ad305d,#e15635,#df5337,#e65d2f,#cb4149,#cf4446,#e05536,#f1711f,#cc4248,#df5337,#ba3655,#9a2865,#bc3754,#d94d3d,#ec6726,#e15635,#ee6a24,#f57d15,#e75e2e,#d34743,#dd513a,#fa9407,#eb6429,#e15635,#c73e4c,#bd3853,#cf4446,#bf3952,#ba3655,#a92e5e,#c33b4f,#a32c61,#dd513a,#e9612b,#d34743,#c73e4c,#e75e2e,#f57d15,#b93556,#b3325a,#d44842,#b63458,#ba3655,#bd3853,#d54a41,#c33b4f,#d04545,#a22b62,#902568,#9b2964,#8c2369,#a02a63,#6c186e,#6c186e,#a32c61,#801f6c,#801f6c,#8d2369,#ad305d,#b1325a,#bf3952,#bc3754,#8a226a,#b3325a,#902568,#84206b,#771c6d,#982766,#b1325a,#6f196e,#87216b,#67166e,#84206b,#ab2f5e,#922568,#7f1e6c,#71196e,#69166e,#540f6d,#69166e,#540f6d)"></i><i style="top:401.54px;height:5.36px;width:744.2px;background:linear-gradient(90deg,#ba3655,#de5238,#e35933,#bf3952,#df5337,#e15635,#9b2964,#b93556,#b93556,#bc3754,#8d2369,#f57b17,#e35933,#e55c30,#da4e3c,#b93556,#a82e5f,#c13a50,#b3325a,#c03a51,#9b2964,#c73e4c,#d74b3f,#cf4446,#ae305c,#a92e5e,#8a226a,#8c2369,#cc4248,#d44842,#de5238,#9b2964,#b0315b,#da4e3c,#e25734,#e35933,#d04545,#c33b4f,#bd3853,#eb6628,#d84c3e,#c63d4d,#d34743,#c43c4e,#d74b3f,#b73557,#b93556,#ae305c,#e35933,#e9612b,#e25734,#b73557,#e75e2e,#d44842,#e8602d,#c73e4c,#e8602d,#e45a31,#cf4446,#cf4446,#d44842,#d84c3e,#c03a51,#bd3853,#d74b3f,#ca404a,#d74b3f,#ea632a,#c83f4b,#e25734,#ee6a24,#c63d4d,#bd3853,#db503b,#d34743,#f1731d,#e35933,#d34743,#eb6628,#e8602d,#f67e14,#f1711f,#bd3853,#bf3952,#e35933,#e15635,#ca404a,#ec6726,#ef6c23,#e35933,#ea632a,#e45a31,#e25734,#bf3952,#d84c3e,#a92e5e,#cc4248,#cf4446,#9f2a63,#bf3952,#c43c4e,#dd513a,#cc4248,#de5238,#d94d3d,#ce4347,#b63458,#bf3952,#ef6c23,#eb6628,#e35933,#bc3754,#ad305d,#de5238,#e45a31,#e35933,#d84c3e,#ea632a,#bc3754,#dd513a,#e9612b,#b73557,#b73557,#e65d2f,#f57b17,#cb4149,#c43c4e,#d44842,#b43359,#b73557,#b93556,#cb4149,#ab2f5e,#ba3655,#b0315b,#a02a63,#eb6429,#e25734,#ee6a24,#8c2369,#932667,#c83f4b,#a92e5e,#bf3952,#ca404a,#b73557,#ba3655,#ce4347,#b43359,#b43359,#da4e3c,#9d2964,#8f2469,#b0315b,#b63458,#d84c3e,#88226a,#a22b62,#69166e,#85216b,#9a2865,#8d2369,#7a1d6d,#7f1e6c,#721a6e,#5d126e,#721a6e,#420a68)"></i><i style="top:405.91px;height:5.36px;width:744.2px;background:linear-gradient(90deg,#cb4149,#ea632a,#ee6a24,#ce4347,#ef6e21,#e45a31,#cc4248,#e35933,#df5337,#e25734,#ba3655,#e35933,#c43c4e,#c73e4c,#ba3655,#cb4149,#a32c61,#cf4446,#c13a50,#a52c60,#7f1e6c,#ae305c,#d74b3f,#cf4446,#ab2f5e,#c13a50,#c43c4e,#a82e5f,#c13a50,#ca404a,#eb6429,#d24644,#da4e3c,#fca309,#f57b17,#f57d15,#d24644,#c33b4f,#dd513a,#dd513a,#c43c4e,#c63d4d,#d24644,#d04545,#f2741c,#eb6628,#ed6925,#e65d2f,#f3761b,#ef6c23,#f57b17,#e9612b,#f78410,#ec6726,#f8890c,#db503b,#fca60c,#f1711f,#e25734,#ee6a24,#f98b0b,#fa9008,#f1731d,#f06f20,#ea632a,#e05536,#ea632a,#f06f20,#ef6e21,#fa9407,#fcac11,#ef6c23,#e8602d,#f57b17,#e25734,#eb6429,#d94d3d,#e75e2e,#f47918,#f37819,#fb9b06,#f8850f,#eb6628,#f78410,#fbbc21,#fb9b06,#f37819,#f78212,#f8890c,#f78410,#fb9b06,#fa9207,#f98e09,#fa9008,#fc9f07,#eb6628,#f68013,#eb6429,#d44842,#f8870e,#ee6a24,#f8890c,#d94d3d,#e8602d,#f1711f,#ea632a,#bd3853,#b43359,#ea632a,#da4e3c,#cf4446,#e35933,#dd513a,#ea632a,#de5238,#dd513a,#de5238,#ed6925,#d84c3e,#ef6e21,#f37819,#cb4149,#ce4347,#eb6628,#f8850f,#d34743,#da4e3c,#ef6e21,#d94d3d,#db503b,#d94d3d,#cc4248,#ba3655,#c83f4b,#bf3952,#b1325a,#e45a31,#da4e3c,#e8602d,#bf3952,#b1325a,#e15635,#c63d4d,#dd513a,#cc4248,#ba3655,#bf3952,#cb4149,#ca404a,#ad305d,#d04545,#b0315b,#a02a63,#982766,#9f2a63,#c63d4d,#84206b,#9d2964,#b63458,#9d2964,#b1325a,#982766,#85216b,#922568,#8a226a,#751b6e,#87216b,#59106e)"></i><i style="top:410.27px;height:5.36px;width:744.2px;background:linear-gradient(90deg,#cc4248,#eb6429,#ef6c23,#d04545,#ec6726,#eb6628,#d74b3f,#ea632a,#e05536,#b73557,#87216b,#b93556,#e05536,#ca404a,#bd3853,#ce4347,#c43c4e,#b93556,#a92e5e,#b63458,#6d186e,#9a2865,#c03a51,#ae305c,#8a226a,#7f1e6c,#84206b,#85216b,#9d2964,#9f2a63,#c83f4b,#82206c,#902568,#d54a41,#e65d2f,#e65d2f,#d44842,#c63d4d,#df5337,#e65d2f,#d24644,#b63458,#db503b,#d04545,#e8602d,#d84c3e,#da4e3c,#d24644,#e45a31,#f78212,#f2741c,#e45a31,#f47918,#e65d2f,#f57d15,#c73e4c,#ea632a,#df5337,#c13a50,#d04545,#d54a41,#d84c3e,#bf3952,#bc3754,#e9612b,#e05536,#ea632a,#fcaa0f,#f3761b,#ee6a24,#f68013,#e8602d,#e15635,#f57b17,#f06f20,#f57d15,#fa9207,#c33b4f,#d94d3d,#ec6726,#f2741c,#f1711f,#df5337,#df5337,#f68013,#fb9d07,#f47918,#f78410,#f8890c,#f78410,#f98e09,#f78410,#e45a31,#e45a31,#f47918,#bc3754,#d44842,#d84c3e,#bc3754,#cb4149,#c63d4d,#dd513a,#cc4248,#dd513a,#f78410,#f2741c,#e45a31,#df5337,#fb9b06,#ce4347,#c03a51,#ce4347,#c43c4e,#d54a41,#db503b,#db503b,#d04545,#c33b4f,#a32c61,#c73e4c,#e75e2e,#b63458,#b63458,#d44842,#e9612b,#b3325a,#a92e5e,#e25734,#c73e4c,#ca404a,#cc4248,#ec6726,#e05536,#c33b4f,#b93556,#ab2f5e,#f47918,#ef6c23,#c43c4e,#ad305d,#ad305d,#de5238,#cf4446,#cf4446,#da4e3c,#c73e4c,#ca404a,#d44842,#e75e2e,#cf4446,#d44842,#b43359,#a52c60,#a32c61,#c63d4d,#e45a31,#ad305d,#ae305c,#8d2369,#a62d60,#ba3655,#a02a63,#922568,#932667,#8a226a,#751b6e,#88226a,#59106e)"></i><i style="top:414.64px;height:5.36px;width:744.2px;background:linear-gradient(90deg,#c33b4f,#e45a31,#e9612b,#c83f4b,#ec6726,#e25734,#d84c3e,#e05536,#de5238,#df5337,#b3325a,#fca108,#f57b17,#f78212,#e9612b,#f2741c,#ba3655,#dd513a,#d04545,#d94d3d,#a02a63,#c83f4b,#e45a31,#e05536,#e9612b,#d34743,#d94d3d,#d74b3f,#e65d2f,#e9612b,#f78212,#cb4149,#d84c3e,#f67e14,#e75e2e,#f8890c,#ef6c23,#781c6d,#982766,#972766,#7a1d6d,#db503b,#e55c30,#ab2f5e,#df5337,#e55c30,#e75e2e,#e15635,#ed6925,#f8850f,#f67e14,#ea632a,#f78410,#eb6429,#f6d543,#fca80d,#f2e865,#f6d746,#ef6c23,#fa9207,#fbb81d,#fbb81d,#fa9207,#f06f20,#fa9008,#f67e14,#d54a41,#de5238,#b73557,#d54a41,#fb9606,#f1731d,#f98e09,#fbbc21,#fcae12,#f78212,#ea632a,#ca404a,#ce4347,#d54a41,#e8602d,#e05536,#c63d4d,#bf3952,#e45a31,#ea632a,#d34743,#da4e3c,#e45a31,#e15635,#f1711f,#eb6628,#e9612b,#e8602d,#f67e14,#da4e3c,#ec6726,#ef6e21,#e8602d,#f68013,#eb6429,#f78212,#ec6726,#f57d15,#f98c0a,#f57b17,#d44842,#ce4347,#f78410,#e55c30,#f47918,#e65d2f,#df5337,#d84c3e,#c83f4b,#cb4149,#e8602d,#e15635,#ba3655,#da4e3c,#e75e2e,#d54a41,#d44842,#e35933,#f2741c,#c43c4e,#bd3853,#df5337,#c33b4f,#c73e4c,#e05536,#da4e3c,#ca404a,#d84c3e,#d04545,#bc3754,#c63d4d,#ce4347,#de5238,#ca404a,#cb4149,#e8602d,#d24644,#d44842,#df5337,#bc3754,#bd3853,#ad305d,#da4e3c,#bd3853,#e15635,#c43c4e,#b63458,#b43359,#c13a50,#e15635,#a82e5f,#b3325a,#932667,#b0315b,#c33b4f,#85216b,#71196e,#6d186e,#62146e,#4c0c6b,#8f2469,#5f136e)"></i><i style="top:419.00px;height:6.89px;width:744.2px;background:linear-gradient(90deg,#cf4446,#ec6726,#f06f20,#c03a51,#e9612b,#de5238,#9b2964,#b63458,#b1325a,#e55c30,#bc3754,#d94d3d,#bf3952,#e55c30,#c03a51,#d04545,#c13a50,#b63458,#a62d60,#982766,#6c186e,#932667,#a82e5f,#a62d60,#9b2964,#9d2964,#a62d60,#a82e5f,#b93556,#ba3655,#de5238,#a32c61,#c13a50,#eb6429,#d84c3e,#e05536,#cc4248,#ce4347,#bf3952,#bf3952,#a22b62,#c73e4c,#d44842,#c63d4d,#d94d3d,#e05536,#e25734,#db503b,#f2741c,#fb9906,#fa9407,#f1731d,#fb9b06,#f47918,#f1711f,#df5337,#f4dd4f,#f7d13d,#fbb61a,#fac62d,#fcae12,#fcaa0f,#f78410,#e05536,#f68013,#fa9207,#fca50a,#fcb418,#f67e14,#fca60c,#fac62d,#fca108,#fb9706,#fac62d,#fbba1f,#fb9606,#f2741c,#ed6925,#f2741c,#ee6a24,#f78410,#f2741c,#d24644,#d34743,#f1711f,#ef6c23,#da4e3c,#e05536,#e35933,#ec6726,#db503b,#d24644,#dd513a,#da4e3c,#db503b,#b3325a,#fb9606,#fb9d07,#d94d3d,#ed6925,#dd513a,#df5337,#cc4248,#db503b,#e55c30,#d54a41,#c13a50,#c43c4e,#f47918,#e05536,#e75e2e,#ef6e21,#e9612b,#f2741c,#b3325a,#d04545,#c63d4d,#ec6726,#d74b3f,#ef6c23,#f68013,#d34743,#c63d4d,#e45a31,#f2741c,#c13a50,#a52c60,#ca404a,#c73e4c,#cc4248,#d94d3d,#bd3853,#a92e5e,#e8602d,#e15635,#d74b3f,#df5337,#d54a41,#c03a51,#a82e5f,#a92e5e,#c73e4c,#ab2f5e,#ae305c,#e15635,#ea632a,#ea632a,#b3325a,#ed6925,#d54a41,#ef6c23,#d84c3e,#932667,#922568,#982766,#922568,#7c1d6d,#952667,#741a6e,#922568,#b93556,#9f2a63,#88226a,#88226a,#7c1d6d,#7d1e6d,#922568,#62146e)"></i><i style="top:424.89px;height:6.89px;width:744.2px;background:linear-gradient(90deg,#c13a50,#e35933,#e75e2e,#c83f4b,#f06f20,#e8602d,#cc4248,#df5337,#da4e3c,#d94d3d,#a92e5e,#d94d3d,#bd3853,#c43c4e,#972766,#ab2f5e,#9a2865,#8d2369,#932667,#9a2865,#6a176e,#902568,#b0315b,#ce4347,#b43359,#b93556,#c33b4f,#85216b,#932667,#932667,#c33b4f,#84206b,#c33b4f,#ec6726,#dd513a,#d84c3e,#c33b4f,#a62d60,#c43c4e,#eb6628,#d84c3e,#982766,#a82e5f,#9a2865,#b1325a,#ea632a,#d54a41,#d84c3e,#eb6628,#f1711f,#eb6628,#d84c3e,#bf3952,#a02a63,#bf3952,#a32c61,#fcaa0f,#fca309,#f98b0b,#fb9706,#f67e14,#fa9008,#ef6c23,#ed6925,#f2741c,#eb6628,#f3761b,#fb9706,#d94d3d,#ef6c23,#f8850f,#eb6628,#e8602d,#f06f20,#eb6628,#f06f20,#e25734,#ce4347,#df5337,#cc4248,#de5238,#d04545,#da4e3c,#db503b,#ca404a,#c63d4d,#a82e5f,#b1325a,#b63458,#b1325a,#b93556,#ba3655,#b3325a,#ab2f5e,#ca404a,#9d2964,#bd3853,#c63d4d,#a82e5f,#df5337,#ca404a,#e05536,#ba3655,#cb4149,#d54a41,#c73e4c,#b0315b,#ab2f5e,#fb9706,#ef6e21,#e8602d,#e8602d,#e15635,#e45a31,#d94d3d,#dd513a,#d44842,#df5337,#c63d4d,#e35933,#ef6e21,#c33b4f,#c03a51,#df5337,#ef6c23,#ab2f5e,#a52c60,#cb4149,#bf3952,#c63d4d,#c83f4b,#d94d3d,#c73e4c,#de5238,#d74b3f,#ca404a,#d44842,#952667,#ab2f5e,#922568,#c13a50,#eb6628,#d94d3d,#ca404a,#d84c3e,#cb4149,#ca404a,#e8602d,#e25734,#c63d4d,#f47918,#e15635,#d74b3f,#c83f4b,#b3325a,#d54a41,#982766,#b0315b,#61136e,#7d1e6d,#ba3655,#a22b62,#8a226a,#88226a,#932667,#7a1d6d,#8f2469,#230c4c)"></i><i style="top:430.78px;height:6.89px;width:744.2px;background:linear-gradient(90deg,#d24644,#ee6a24,#f57b17,#df5337,#f67e14,#a22b62,#7f1e6c,#e15635,#de5238,#c63d4d,#b3325a,#de5238,#c13a50,#c73e4c,#ca404a,#da4e3c,#ce4347,#c43c4e,#b73557,#c73e4c,#9b2964,#c13a50,#b93556,#a92e5e,#8c2369,#a22b62,#ab2f5e,#a32c61,#b1325a,#ae305c,#d34743,#8f2469,#a32c61,#d84c3e,#c13a50,#c83f4b,#ae305c,#9b2964,#ba3655,#ba3655,#bd3853,#982766,#a82e5f,#982766,#b93556,#c03a51,#c13a50,#bc3754,#cb4149,#c73e4c,#ba3655,#9f2a63,#bc3754,#c13a50,#c13a50,#a22b62,#d34743,#ca404a,#d54a41,#e8602d,#e9612b,#d84c3e,#cc4248,#ca404a,#e05536,#f06f20,#f68013,#f98b0b,#e45a31,#ba3655,#e15635,#c83f4b,#c13a50,#da4e3c,#d34743,#dd513a,#c63d4d,#a02a63,#b73557,#ae305c,#c43c4e,#b63458,#c13a50,#c43c4e,#e9612b,#d24644,#b43359,#b73557,#bc3754,#b73557,#bd3853,#d94d3d,#bd3853,#932667,#b3325a,#84206b,#a32c61,#ba3655,#9d2964,#a82e5f,#8d2369,#b43359,#9f2a63,#b43359,#c33b4f,#5a116e,#3e0966,#340a5f,#781c6d,#b93556,#ab2f5e,#bc3754,#9f2a63,#c33b4f,#bf3952,#d84c3e,#ce4347,#e45a31,#d34743,#ec6726,#f57b17,#ce4347,#a02a63,#bc3754,#d34743,#b43359,#ae305c,#d84c3e,#bc3754,#c03a51,#c33b4f,#d44842,#8d2369,#ba3655,#b0315b,#a22b62,#da4e3c,#cf4446,#e05536,#cc4248,#972766,#cc4248,#b43359,#b73557,#c63d4d,#b63458,#b73557,#c13a50,#bc3754,#9a2865,#a92e5e,#87216b,#781c6d,#781c6d,#7d1e6d,#eb6429,#b43359,#c83f4b,#ab2f5e,#771c6d,#8a226a,#9a2865,#84206b,#902568,#84206b,#6d186e,#6c186e,#3b0964)"></i><i style="top:436.67px;height:6.89px;width:744.2px;background:linear-gradient(90deg,#b73557,#db503b,#f8870e,#e65d2f,#f98b0b,#e45a31,#d04545,#e25734,#ad305d,#cf4446,#9f2a63,#cc4248,#ca404a,#ce4347,#c03a51,#d34743,#c73e4c,#9d2964,#902568,#9a2865,#6d186e,#9f2a63,#c03a51,#bd3853,#9f2a63,#a02a63,#ab2f5e,#a32c61,#b1325a,#d24644,#ed6925,#bf3952,#d04545,#ed6925,#dd513a,#da4e3c,#c13a50,#a52c60,#c33b4f,#c43c4e,#ab2f5e,#ba3655,#b3325a,#a92e5e,#bd3853,#c33b4f,#8a226a,#82206c,#972766,#922568,#84206b,#9a2865,#ba3655,#781c6d,#982766,#71196e,#a22b62,#922568,#e35933,#ed6925,#f06f20,#f1711f,#922568,#902568,#ad305d,#ba3655,#c83f4b,#cf4446,#771c6d,#a92e5e,#bf3952,#a02a63,#972766,#ca404a,#b73557,#c63d4d,#c13a50,#b0315b,#c83f4b,#c03a51,#a52c60,#972766,#751b6e,#a52c60,#c03a51,#c03a51,#a22b62,#ba3655,#bf3952,#ba3655,#db503b,#ce4347,#d04545,#b63458,#d04545,#771c6d,#972766,#a02a63,#771c6d,#952667,#7a1d6d,#972766,#9a2865,#e55c30,#ef6e21,#e9612b,#d54a41,#85216b,#c33b4f,#ca404a,#bd3853,#cf4446,#cb4149,#f06f20,#fcb216,#fcb418,#fca309,#f78212,#e8602d,#f78212,#ef6e21,#c33b4f,#c33b4f,#e35933,#fcaa0f,#e75e2e,#eb6429,#f8890c,#eb6429,#ec6726,#d94d3d,#e65d2f,#d84c3e,#d04545,#fb9b06,#f8890c,#fb9706,#f8870e,#f67e14,#eb6429,#eb6628,#fca309,#d84c3e,#d94d3d,#ef6e21,#e55c30,#e75e2e,#df5337,#db503b,#c03a51,#f78410,#e9612b,#cc4248,#ce4347,#c33b4f,#e05536,#a22b62,#b63458,#bf3952,#d84c3e,#e55c30,#8d2369,#781c6d,#7a1d6d,#6f196e,#540f6d,#69166e,#380962)"></i><i style="top:442.56px;height:6.89px;width:744.2px;background:linear-gradient(90deg,#b73557,#e45a31,#e9612b,#d24644,#ef6c23,#e65d2f,#d34743,#f06f20,#ee6a24,#ed6925,#c73e4c,#d34743,#b3325a,#b63458,#a02a63,#b73557,#cf4446,#ae305c,#84206b,#8f2469,#ba3655,#dd513a,#f1731d,#8f2469,#6d186e,#6d186e,#751b6e,#6d186e,#ad305d,#ad305d,#d34743,#9f2a63,#b3325a,#e35933,#bc3754,#b73557,#9a2865,#84206b,#c43c4e,#c73e4c,#b1325a,#d24644,#df5337,#d24644,#e25734,#e55c30,#e55c30,#e05536,#d54a41,#de5238,#eb6429,#da4e3c,#ef6e21,#df5337,#f68013,#da4e3c,#e45a31,#d54a41,#e45a31,#f68013,#cb4149,#f57b17,#e75e2e,#cc4248,#da4e3c,#cf4446,#d94d3d,#f57d15,#d94d3d,#ec6726,#da4e3c,#bf3952,#b3325a,#f78410,#f47918,#f98e09,#f3761b,#ce4347,#e45a31,#df5337,#e15635,#d84c3e,#ef6e21,#f2741c,#fcb014,#fcb216,#de5238,#e45a31,#e75e2e,#e45a31,#e75e2e,#e55c30,#dd513a,#d74b3f,#eb6429,#b1325a,#ce4347,#d54a41,#ea632a,#f78410,#a32c61,#ef6e21,#d44842,#e8602d,#f3761b,#ef6c23,#b1325a,#9f2a63,#d34743,#a52c60,#982766,#f47918,#f37819,#fca50a,#eb6628,#eb6628,#a82e5f,#c03a51,#a02a63,#c43c4e,#d44842,#a82e5f,#a82e5f,#cf4446,#df5337,#a32c61,#9a2865,#d44842,#b43359,#b63458,#b93556,#e55c30,#d74b3f,#e25734,#da4e3c,#cf4446,#b73557,#a92e5e,#bd3853,#a52c60,#ed6925,#eb6429,#d44842,#d44842,#c83f4b,#b1325a,#b63458,#c33b4f,#d74b3f,#a02a63,#ca404a,#ad305d,#7f1e6c,#82206c,#82206c,#e45a31,#a82e5f,#ba3655,#7f1e6c,#9b2964,#b0315b,#85216b,#721a6e,#751b6e,#6c186e,#781c6d,#8d2369,#62146e)"></i><i style="top:448.45px;height:6.89px;width:744.2px;background:linear-gradient(90deg,#ae305c,#d44842,#cb4149,#d94d3d,#f3761b,#eb6628,#da4e3c,#eb6429,#a62d60,#a52c60,#6f196e,#cf4446,#ad305d,#b0315b,#9f2a63,#c43c4e,#b93556,#b1325a,#9b2964,#a62d60,#7c1d6d,#a52c60,#e25734,#df5337,#c43c4e,#c43c4e,#ca404a,#c73e4c,#d44842,#b0315b,#d44842,#972766,#a92e5e,#f1731d,#e15635,#cc4248,#a92e5e,#952667,#b43359,#b73557,#9f2a63,#c33b4f,#ad305d,#9d2964,#bf3952,#c13a50,#c33b4f,#dd513a,#ef6c23,#f57b17,#f1731d,#e45a31,#f06f20,#e15635,#de5238,#ba3655,#e05536,#d24644,#f3761b,#f98b0b,#fa9207,#fb9606,#e75e2e,#e65d2f,#e8602d,#df5337,#e8602d,#ee6a24,#bc3754,#d34743,#d44842,#b93556,#b1325a,#d34743,#d84c3e,#e45a31,#d04545,#87216b,#a22b62,#9a2865,#b3325a,#f3761b,#e15635,#c43c4e,#ea632a,#e9612b,#d44842,#cb4149,#cf4446,#c33b4f,#c73e4c,#b93556,#b93556,#b3325a,#d44842,#a92e5e,#dd513a,#e25734,#cb4149,#e25734,#ce4347,#e25734,#d44842,#e55c30,#ef6c23,#e05536,#c83f4b,#d44842,#f78212,#df5337,#d54a41,#f1711f,#ef6c23,#f8870e,#e75e2e,#c03a51,#d44842,#e75e2e,#d04545,#eb6628,#f57b17,#cf4446,#cf4446,#eb6628,#fb9906,#d94d3d,#d34743,#eb6628,#a62d60,#ab2f5e,#ad305d,#c03a51,#ad305d,#d44842,#ea632a,#e15635,#e8602d,#df5337,#9f2a63,#87216b,#b73557,#f78410,#e8602d,#e8602d,#d54a41,#c43c4e,#c73e4c,#b0315b,#ad305d,#bd3853,#e05536,#c63d4d,#ba3655,#bc3754,#c73e4c,#e25734,#922568,#a52c60,#84206b,#a02a63,#c73e4c,#b63458,#a32c61,#a62d60,#9f2a63,#902568,#a52c60,#751b6e)"></i><i style="top:454.34px;height:6.89px;width:744.2px;background:linear-gradient(90deg,#a92e5e,#d04545,#d54a41,#b1325a,#de5238,#d34743,#de5238,#ed6925,#e05536,#df5337,#e55c30,#f98c0a,#eb6429,#ec6726,#e25734,#c13a50,#bd3853,#b73557,#ad305d,#9a2865,#7c1d6d,#a62d60,#c73e4c,#c33b4f,#bd3853,#bd3853,#c33b4f,#c03a51,#cf4446,#e25734,#f78212,#bc3754,#ca404a,#d94d3d,#bf3952,#bd3853,#a32c61,#9d2964,#bd3853,#c13a50,#a92e5e,#d54a41,#e25734,#d34743,#d44842,#d84c3e,#d94d3d,#d54a41,#e05536,#e9612b,#e55c30,#d34743,#da4e3c,#c63d4d,#df5337,#cb4149,#ec6726,#e15635,#ce4347,#de5238,#e15635,#e05536,#c83f4b,#ca404a,#ec6726,#e65d2f,#ee6a24,#ef6e21,#cb4149,#ea632a,#d94d3d,#c13a50,#bd3853,#df5337,#e25734,#ea632a,#d74b3f,#bf3952,#d44842,#d74b3f,#e15635,#d44842,#b73557,#bc3754,#e8602d,#eb6628,#d74b3f,#c43c4e,#c83f4b,#ca404a,#d04545,#c63d4d,#c03a51,#c13a50,#dd513a,#b43359,#a82e5f,#b1325a,#922568,#b1325a,#a02a63,#bc3754,#a52c60,#9b2964,#f47918,#ec6726,#da4e3c,#d24644,#ef6e21,#d44842,#c83f4b,#b1325a,#a82e5f,#bd3853,#ae305c,#a92e5e,#9d2964,#b93556,#9b2964,#d04545,#eb6628,#b73557,#b63458,#d84c3e,#f57d15,#ca404a,#a82e5f,#cb4149,#ad305d,#b1325a,#b43359,#a62d60,#922568,#a22b62,#c03a51,#b1325a,#b93556,#ab2f5e,#cb4149,#c03a51,#c43c4e,#ed6925,#d74b3f,#d74b3f,#e9612b,#db503b,#de5238,#e8602d,#e65d2f,#c43c4e,#f1731d,#e45a31,#da4e3c,#b43359,#d74b3f,#ed6925,#87216b,#9b2964,#87216b,#a32c61,#b73557,#9d2964,#8a226a,#a82e5f,#9f2a63,#8c2369,#a02a63,#59106e)"></i><i style="top:460.23px;height:6.89px;width:744.2px;background:linear-gradient(90deg,#b43359,#d94d3d,#df5337,#e25734,#f78410,#ea632a,#d84c3e,#e8602d,#e15635,#e05536,#b3325a,#db503b,#bd3853,#b73557,#9f2a63,#b63458,#b3325a,#d54a41,#d94d3d,#e15635,#bf3952,#a32c61,#c63d4d,#c13a50,#a22b62,#a22b62,#a82e5f,#a62d60,#ba3655,#bd3853,#f2741c,#a02a63,#ad305d,#d74b3f,#ba3655,#ba3655,#a02a63,#8f2469,#b0315b,#a02a63,#87216b,#bf3952,#cc4248,#bc3754,#da4e3c,#dd513a,#df5337,#ca404a,#ed6925,#f98c0a,#f98b0b,#f06f20,#f3761b,#eb6429,#f8870e,#e75e2e,#fa9207,#fb9906,#f57d15,#f67e14,#f78410,#f9c932,#fca60c,#fca80d,#f7d13d,#ee6a24,#f8850f,#f8890c,#d94d3d,#ef6e21,#f78212,#f57d15,#f57b17,#fa9207,#f98b0b,#fca80d,#f78212,#ec6726,#f67e14,#f1731d,#f98b0b,#fca309,#ec6726,#eb6429,#f98e09,#f98b0b,#ec6726,#f1711f,#b93556,#b63458,#bf3952,#b63458,#d04545,#d24644,#d54a41,#a52c60,#c33b4f,#ca404a,#ae305c,#f1711f,#e25734,#f1731d,#b1325a,#bf3952,#c63d4d,#b1325a,#88226a,#84206b,#cb4149,#a82e5f,#9a2865,#a82e5f,#9d2964,#d04545,#c33b4f,#c63d4d,#a92e5e,#c73e4c,#ad305d,#f3761b,#fa9008,#e05536,#c83f4b,#e55c30,#f3761b,#9b2964,#902568,#b93556,#9a2865,#a02a63,#c43c4e,#d44842,#bd3853,#cb4149,#c43c4e,#b63458,#c13a50,#b43359,#c03a51,#a82e5f,#ce4347,#d74b3f,#ba3655,#ba3655,#c63d4d,#b3325a,#b1325a,#bf3952,#e25734,#c83f4b,#e65d2f,#b1325a,#a22b62,#982766,#bf3952,#db503b,#7c1d6d,#902568,#741a6e,#ad305d,#c03a51,#64156e,#520e6d,#550f6d,#4c0c6b,#5c126e,#71196e,#400a67)"></i><i style="top:466.12px;height:6.89px;width:744.2px;background:linear-gradient(90deg,#cf4446,#ec6726,#f06f20,#d84c3e,#f3761b,#ea632a,#da4e3c,#ef6e21,#eb6628,#ea632a,#952667,#c43c4e,#a22b62,#a22b62,#922568,#cc4248,#c03a51,#b93556,#ad305d,#b63458,#8c2369,#b3325a,#b93556,#b43359,#932667,#932667,#9d2964,#9a2865,#ad305d,#b1325a,#f57b17,#c73e4c,#d24644,#f1731d,#ba3655,#ba3655,#a22b62,#85216b,#a62d60,#ab2f5e,#922568,#b0315b,#bf3952,#b3325a,#c43c4e,#b3325a,#b43359,#b1325a,#d74b3f,#eb6628,#f47918,#e65d2f,#f68013,#ea632a,#f8850f,#f1731d,#fca80d,#fb9606,#f78410,#fa9407,#fb9706,#fb9706,#eb6628,#eb6628,#de5238,#d54a41,#e15635,#f1711f,#ce4347,#e15635,#ee6a24,#df5337,#dd513a,#f57b17,#f2741c,#fca60c,#f78212,#ec6726,#cc4248,#c13a50,#d54a41,#fa9407,#e55c30,#e25734,#f8870e,#df5337,#c63d4d,#cf4446,#d44842,#c43c4e,#cf4446,#ba3655,#b93556,#ba3655,#d74b3f,#bc3754,#d24644,#ce4347,#b1325a,#cf4446,#e55c30,#f47918,#e8602d,#ef6e21,#f37819,#de5238,#c83f4b,#c33b4f,#f3761b,#f06f20,#e9612b,#e05536,#d84c3e,#e65d2f,#db503b,#dd513a,#d24644,#e65d2f,#d24644,#fb9d07,#fbb81d,#ba3655,#b93556,#d94d3d,#ea632a,#a82e5f,#88226a,#ce4347,#bf3952,#c63d4d,#c83f4b,#d94d3d,#b3325a,#c03a51,#d74b3f,#cb4149,#d34743,#c73e4c,#d84c3e,#bc3754,#bc3754,#e8602d,#d04545,#d04545,#e15635,#d24644,#d54a41,#f78212,#f67e14,#9b2964,#c33b4f,#a02a63,#922568,#922568,#ae305c,#cb4149,#85216b,#932667,#741a6e,#902568,#d54a41,#c03a51,#ae305c,#b3325a,#6d186e,#59106e,#6f196e,#4f0d6c)"></i><i style="top:472.02px;height:6.89px;width:744.2px;background:linear-gradient(90deg,#d44842,#ef6e21,#f37819,#e05536,#fb9906,#ef6c23,#e35933,#e35933,#dd513a,#d74b3f,#c33b4f,#f68013,#e75e2e,#ea632a,#c63d4d,#d84c3e,#cb4149,#c33b4f,#b63458,#b63458,#8a226a,#9a2865,#ba3655,#b63458,#781c6d,#781c6d,#7f1e6c,#7a1d6d,#ce4347,#cf4446,#eb6628,#b73557,#c63d4d,#ce4347,#902568,#ca404a,#b3325a,#a22b62,#cf4446,#d34743,#bd3853,#cc4248,#da4e3c,#ab2f5e,#bd3853,#c13a50,#d04545,#cc4248,#ea632a,#e05536,#de5238,#ca404a,#fb9606,#f37819,#e65d2f,#c73e4c,#e9612b,#ea632a,#d74b3f,#d24644,#d44842,#d54a41,#ba3655,#ba3655,#d54a41,#cb4149,#e15635,#e65d2f,#bf3952,#f2741c,#f47918,#d04545,#ce4347,#eb6429,#e75e2e,#fb9606,#ea632a,#da4e3c,#ea632a,#d44842,#e55c30,#d54a41,#a82e5f,#a82e5f,#d34743,#c83f4b,#ad305d,#b73557,#bf3952,#dd513a,#e65d2f,#b63458,#c13a50,#c43c4e,#dd513a,#ad305d,#c03a51,#c13a50,#a22b62,#dd513a,#ca404a,#e25734,#b43359,#c43c4e,#c73e4c,#b63458,#c13a50,#b93556,#ef6c23,#d34743,#c83f4b,#d84c3e,#c63d4d,#d94d3d,#ca404a,#a82e5f,#972766,#b1325a,#922568,#cb4149,#db503b,#a22b62,#9f2a63,#c33b4f,#d84c3e,#952667,#ab2f5e,#d94d3d,#bd3853,#c43c4e,#c73e4c,#da4e3c,#ca404a,#d74b3f,#a02a63,#972766,#a22b62,#952667,#ab2f5e,#bd3853,#bf3952,#ea632a,#ab2f5e,#ab2f5e,#b73557,#a32c61,#cf4446,#db503b,#d94d3d,#bd3853,#e05536,#d44842,#ca404a,#cb4149,#a92e5e,#ca404a,#a52c60,#b93556,#982766,#922568,#a62d60,#8d2369,#8d2369,#902568,#88226a,#741a6e,#88226a,#360961)"></i><i style="top:477.91px;height:6.89px;width:744.2px;background:linear-gradient(90deg,#c43c4e,#e45a31,#e9612b,#d24644,#f2741c,#ea632a,#de5238,#f37819,#ee6a24,#e8602d,#b73557,#c83f4b,#a92e5e,#b0315b,#a32c61,#c33b4f,#b43359,#a82e5f,#9a2865,#8f2469,#5f136e,#85216b,#a52c60,#902568,#6d186e,#6d186e,#a82e5f,#a22b62,#b1325a,#b1325a,#ca404a,#a52c60,#b93556,#e55c30,#d24644,#d54a41,#bf3952,#ae305c,#cb4149,#ce4347,#b93556,#c73e4c,#b93556,#a62d60,#b93556,#bd3853,#bc3754,#b63458,#d04545,#da4e3c,#da4e3c,#c63d4d,#e15635,#cb4149,#df5337,#bc3754,#e05536,#d24644,#ec6726,#f37819,#f57b17,#ed6925,#d94d3d,#d84c3e,#eb6628,#de5238,#e8602d,#ee6a24,#bc3754,#d84c3e,#e75e2e,#a52c60,#a02a63,#ea632a,#e55c30,#ec6726,#da4e3c,#b43359,#cb4149,#c43c4e,#da4e3c,#db503b,#c03a51,#b73557,#df5337,#db503b,#a32c61,#b0315b,#b93556,#d74b3f,#e15635,#df5337,#e45a31,#e75e2e,#e35933,#b1325a,#c33b4f,#e15635,#c83f4b,#c03a51,#ab2f5e,#ca404a,#b73557,#d54a41,#e15635,#d54a41,#d54a41,#cb4149,#f47918,#da4e3c,#d24644,#a92e5e,#a52c60,#bf3952,#ad305d,#d74b3f,#c63d4d,#d94d3d,#bc3754,#d24644,#e05536,#ab2f5e,#ba3655,#d94d3d,#e75e2e,#ab2f5e,#a52c60,#cb4149,#ae305c,#932667,#982766,#c83f4b,#b43359,#c33b4f,#ba3655,#b93556,#c33b4f,#b63458,#ca404a,#b3325a,#ae305c,#df5337,#c43c4e,#c43c4e,#9b2964,#9a2865,#ab2f5e,#eb6429,#e9612b,#d34743,#ef6c23,#b3325a,#a82e5f,#a92e5e,#ab2f5e,#cb4149,#982766,#ad305d,#7d1e6d,#9b2964,#ae305c,#952667,#9d2964,#a02a63,#8d2369,#781c6d,#6f196e,#3e0966)"></i><i style="top:483.80px;height:6.89px;width:744.2px;background:linear-gradient(90deg,#cc4248,#eb6429,#ef6c23,#db503b,#f8850f,#f37819,#eb6628,#f3761b,#e45a31,#dd513a,#932667,#bf3952,#8d2369,#8f2469,#82206c,#a02a63,#a22b62,#972766,#290b55,#310a5c,#69166e,#8d2369,#ad305d,#6a176e,#490b6a,#4a0c6b,#520e6d,#59106e,#67166e,#67166e,#8f2469,#82206c,#952667,#cb4149,#a22b62,#a22b62,#87216b,#751b6e,#982766,#9b2964,#84206b,#952667,#9b2964,#88226a,#9b2964,#b93556,#c43c4e,#c33b4f,#d54a41,#d04545,#c43c4e,#ad305d,#9f2a63,#82206c,#a22b62,#771c6d,#a32c61,#a52c60,#88226a,#d84c3e,#da4e3c,#da4e3c,#9d2964,#9a2865,#b63458,#a62d60,#ab2f5e,#b73557,#8c2369,#932667,#a92e5e,#8c2369,#c13a50,#e05536,#d94d3d,#de5238,#c83f4b,#b43359,#d74b3f,#d04545,#e55c30,#c13a50,#a22b62,#a32c61,#cc4248,#cf4446,#b43359,#a62d60,#b1325a,#b1325a,#d34743,#ce4347,#cf4446,#d34743,#f8850f,#d84c3e,#e55c30,#e25734,#a92e5e,#cb4149,#b73557,#eb6429,#de5238,#eb6628,#bf3952,#b0315b,#932667,#88226a,#c73e4c,#9b2964,#902568,#a62d60,#ab2f5e,#d34743,#c83f4b,#b93556,#a32c61,#b93556,#972766,#741a6e,#87216b,#470b6a,#7f1e6c,#a52c60,#bf3952,#902568,#8a226a,#b1325a,#922568,#9a2865,#9b2964,#902568,#6c186e,#7a1d6d,#71196e,#62146e,#932667,#85216b,#9a2865,#82206c,#9d2964,#d24644,#b43359,#d04545,#da4e3c,#a52c60,#b0315b,#bd3853,#b43359,#952667,#bf3952,#9a2865,#6a176e,#a32c61,#a52c60,#69166e,#1c0c43,#801f6c,#5d126e,#7a1d6d,#8d2369,#982766,#8f2469,#a02a63,#982766,#721a6e,#87216b,#57106e)"></i><i style="top:489.69px;height:6.89px;width:744.2px;background:linear-gradient(90deg,#b93556,#dd513a,#e9612b,#d34743,#f47918,#f1731d,#ea632a,#df5337,#d94d3d,#d24644,#982766,#cc4248,#9d2964,#9d2964,#8f2469,#a62d60,#8a226a,#9a2865,#8f2469,#952667,#65156e,#9b2964,#b93556,#b73557,#982766,#9b2964,#b3325a,#ab2f5e,#5d126e,#5d126e,#85216b,#87216b,#982766,#cb4149,#ba3655,#ba3655,#ba3655,#a92e5e,#ca404a,#cc4248,#b73557,#8f2469,#a02a63,#8c2369,#65156e,#721a6e,#84206b,#b93556,#ce4347,#cb4149,#c03a51,#8c2369,#ab2f5e,#c63d4d,#de5238,#bc3754,#e15635,#c63d4d,#ad305d,#bd3853,#c13a50,#c43c4e,#b0315b,#ab2f5e,#c43c4e,#c43c4e,#d24644,#bd3853,#932667,#a52c60,#bc3754,#9a2865,#8f2469,#b63458,#ab2f5e,#b93556,#bd3853,#952667,#b0315b,#bf3952,#d84c3e,#cf4446,#b3325a,#a92e5e,#d24644,#cb4149,#b0315b,#b1325a,#ba3655,#d84c3e,#e15635,#da4e3c,#d94d3d,#da4e3c,#b73557,#801f6c,#d34743,#d44842,#a22b62,#c43c4e,#b0315b,#ce4347,#a62d60,#b93556,#e45a31,#d84c3e,#ca404a,#9b2964,#d94d3d,#b43359,#a82e5f,#f06f20,#ee6a24,#f57d15,#f06f20,#d24644,#bc3754,#d04545,#c13a50,#ea632a,#ee6a24,#c03a51,#bf3952,#f1731d,#fa9207,#ad305d,#a22b62,#c83f4b,#ab2f5e,#b3325a,#da4e3c,#e75e2e,#d94d3d,#c73e4c,#bd3853,#b1325a,#c13a50,#b43359,#ae305c,#952667,#972766,#cc4248,#b1325a,#b1325a,#bc3754,#cf4446,#d34743,#de5238,#b43359,#982766,#c03a51,#a02a63,#e15635,#e15635,#ae305c,#cc4248,#88226a,#801f6c,#5d126e,#781c6d,#8a226a,#6f196e,#902568,#a22b62,#9a2865,#5a116e,#6f196e,#3e0966)"></i><i style="top:495.58px;height:6.89px;width:744.2px;background:linear-gradient(90deg,#972766,#c03a51,#e55c30,#ce4347,#e65d2f,#e35933,#d74b3f,#e45a31,#f67e14,#f3761b,#cc4248,#ee6a24,#c43c4e,#c73e4c,#b93556,#df5337,#d84c3e,#d44842,#922568,#982766,#a02a63,#c33b4f,#dd513a,#ca404a,#ae305c,#8c2369,#972766,#902568,#ab2f5e,#ab2f5e,#cf4446,#a62d60,#b43359,#de5238,#c43c4e,#d84c3e,#c13a50,#b1325a,#cb4149,#ce4347,#b93556,#c83f4b,#d44842,#c43c4e,#c03a51,#c33b4f,#c43c4e,#c13a50,#de5238,#e45a31,#df5337,#d54a41,#ea632a,#d44842,#e9612b,#db503b,#ed6925,#e35933,#d74b3f,#e55c30,#e9612b,#eb6429,#bd3853,#b73557,#ce4347,#d44842,#df5337,#f1731d,#d84c3e,#f06f20,#f8870e,#e9612b,#bf3952,#d94d3d,#cf4446,#da4e3c,#e35933,#d34743,#e75e2e,#e55c30,#e25734,#db503b,#c13a50,#bf3952,#da4e3c,#d44842,#d24644,#dd513a,#e35933,#e45a31,#f67e14,#f1731d,#ef6c23,#ee6a24,#c43c4e,#932667,#ae305c,#b43359,#c03a51,#de5238,#d54a41,#eb6628,#dd513a,#cc4248,#d44842,#c13a50,#a82e5f,#ba3655,#ef6c23,#db503b,#e55c30,#ee6a24,#e9612b,#f3761b,#e9612b,#e35933,#d74b3f,#e8602d,#e55c30,#cf4446,#de5238,#a62d60,#d84c3e,#f1711f,#fa9008,#d94d3d,#d54a41,#ef6e21,#bf3952,#c63d4d,#c83f4b,#d84c3e,#c63d4d,#d34743,#ca404a,#bd3853,#c73e4c,#b73557,#e15635,#ce4347,#ce4347,#ea632a,#d24644,#d24644,#e8602d,#da4e3c,#de5238,#e75e2e,#e55c30,#972766,#bd3853,#9b2964,#c73e4c,#d54a41,#d94d3d,#f06f20,#c33b4f,#b43359,#902568,#b73557,#ce4347,#b3325a,#a02a63,#82206c,#7a1d6d,#781c6d,#8c2369,#5c126e)"></i><i style="top:501.47px;height:6.89px;width:744.2px;background:linear-gradient(90deg,#c63d4d,#e65d2f,#ea632a,#b1325a,#df5337,#db503b,#cf4446,#eb6628,#e55c30,#e25734,#b1325a,#da4e3c,#ca404a,#cc4248,#952667,#b1325a,#c63d4d,#c43c4e,#a92e5e,#a22b62,#721a6e,#9f2a63,#bd3853,#e05536,#c83f4b,#b0315b,#a82e5f,#a02a63,#b0315b,#b0315b,#d24644,#b73557,#c13a50,#e25734,#c83f4b,#c83f4b,#b0315b,#771c6d,#982766,#9b2964,#82206c,#932667,#a52c60,#a62d60,#b93556,#bd3853,#d24644,#d04545,#ee6a24,#f98e09,#f98b0b,#e05536,#f8850f,#d84c3e,#eb6628,#d04545,#f1711f,#f8850f,#ef6c23,#f78212,#f47918,#f67e14,#f57d15,#ed6925,#f78212,#ef6e21,#f8870e,#fb9906,#ef6e21,#ec6726,#f68013,#e9612b,#de5238,#ef6e21,#e75e2e,#e75e2e,#d44842,#c13a50,#e8602d,#e65d2f,#f57d15,#f1731d,#d74b3f,#d54a41,#f06f20,#ec6726,#d84c3e,#c83f4b,#d04545,#e25734,#e8602d,#e05536,#b43359,#b1325a,#cf4446,#d84c3e,#eb6628,#ef6e21,#e05536,#f78212,#e45a31,#f57b17,#ea632a,#de5238,#e35933,#d24644,#bc3754,#b73557,#f9c932,#fb9d07,#ea632a,#f1711f,#ea632a,#fa9008,#ef6e21,#ef6e21,#ee6a24,#f8870e,#eb6429,#f98c0a,#fca309,#f47918,#f47918,#fcaa0f,#f47918,#c83f4b,#c43c4e,#e45a31,#cf4446,#d44842,#dd513a,#e9612b,#ed6925,#f47918,#f06f20,#fa9008,#fb9d07,#f98c0a,#fca60c,#d54a41,#d54a41,#f47918,#e35933,#e35933,#d44842,#c33b4f,#c73e4c,#d34743,#d74b3f,#bc3754,#dd513a,#c13a50,#b43359,#b3325a,#b93556,#da4e3c,#ca404a,#de5238,#bf3952,#d34743,#b1325a,#922568,#801f6c,#84206b,#771c6d,#62146e,#a52c60,#751b6e)"></i><i style="top:507.36px;height:6.89px;width:744.2px;background:linear-gradient(90deg,#cf4446,#ec6726,#f06f20,#f1731d,#fcb418,#fcb014,#fc9f07,#f57d15,#ef6e21,#ea632a,#ba3655,#e25734,#c13a50,#c63d4d,#b73557,#d24644,#ce4347,#cb4149,#c63d4d,#cc4248,#a22b62,#d54a41,#eb6628,#e9612b,#eb6628,#ec6726,#b1325a,#ab2f5e,#bc3754,#e75e2e,#f8870e,#ce4347,#bf3952,#e45a31,#cb4149,#c83f4b,#eb6628,#e15635,#f37819,#f57b17,#b63458,#c63d4d,#f37819,#eb6429,#f37819,#e65d2f,#e8602d,#e8602d,#e15635,#f37819,#fcb418,#fa9008,#fcb216,#fca80d,#f8cd37,#fb9d07,#fca80d,#fb9606,#f47918,#f8870e,#f98e09,#fa9207,#f1711f,#ee6a24,#fcac11,#fb9606,#fca80d,#fbbe23,#f98c0a,#fac42a,#f8870e,#e65d2f,#e15635,#f1711f,#f2741c,#f8850f,#ee6a24,#e35933,#f67e14,#f37819,#f78410,#f37819,#fca108,#fca50a,#f4df53,#f7d340,#fcac11,#fbba1f,#fac026,#e75e2e,#ec6726,#e65d2f,#e25734,#e15635,#e8602d,#c03a51,#f9c72f,#f8cd37,#ed6925,#fa9008,#f37819,#fb9d07,#f78212,#fbba1f,#f8cd37,#fcb216,#fa9207,#ee6a24,#fbbc21,#f98b0b,#f57b17,#f98c0a,#f67e14,#f78212,#f57d15,#f57d15,#e05536,#ef6e21,#eb6628,#f98e09,#fca50a,#e8602d,#bd3853,#e05536,#f1711f,#c33b4f,#bd3853,#df5337,#c43c4e,#f8870e,#f98c0a,#d54a41,#c43c4e,#d04545,#d34743,#c73e4c,#d04545,#ba3655,#cc4248,#b63458,#b73557,#f68013,#e75e2e,#e75e2e,#ee6a24,#da4e3c,#de5238,#f1711f,#ef6e21,#dd513a,#f37819,#c63d4d,#db503b,#c13a50,#c43c4e,#eb6429,#b43359,#a22b62,#7c1d6d,#932667,#a32c61,#85216b,#8c2369,#8f2469,#982766,#5a116e,#6f196e,#3e0966)"></i><i style="top:513.25px;height:6.89px;width:744.2px;background:linear-gradient(90deg,#c13a50,#e35933,#e8602d,#bc3754,#e9612b,#ee6a24,#f06f20,#f57d15,#ef6c23,#ef6e21,#c13a50,#e8602d,#d04545,#e25734,#d84c3e,#eb6628,#d54a41,#d44842,#cf4446,#d74b3f,#902568,#c03a51,#dd513a,#f3761b,#df5337,#de5238,#d04545,#ce4347,#d54a41,#d84c3e,#f1711f,#bc3754,#cf4446,#ef6c23,#da4e3c,#8d2369,#741a6e,#62146e,#85216b,#a22b62,#88226a,#c43c4e,#d34743,#c33b4f,#d34743,#c63d4d,#d34743,#d44842,#f1731d,#fb9d07,#fb9b06,#d44842,#e9612b,#d24644,#f9cb35,#fb9d07,#f9cb35,#fbb81d,#fb9906,#fcae12,#f78212,#f78410,#e05536,#de5238,#f1711f,#e9612b,#f98b0b,#fc9f07,#ea632a,#f98c0a,#fca60c,#f3761b,#e9612b,#f57b17,#e25734,#ed6925,#df5337,#db503b,#ec6726,#e75e2e,#fc9f07,#ea632a,#d34743,#d94d3d,#fb9d07,#fc9f07,#f47918,#f3761b,#f37819,#e15635,#e75e2e,#e05536,#eb6429,#eb6429,#f78410,#da4e3c,#de5238,#df5337,#f1731d,#fb9b06,#f78212,#fcae12,#fa9207,#fca60c,#fcb216,#e55c30,#d04545,#ca404a,#f57d15,#ef6c23,#d54a41,#e15635,#da4e3c,#de5238,#e05536,#e05536,#b73557,#df5337,#c43c4e,#e25734,#fb9b06,#e45a31,#87216b,#b1325a,#ce4347,#b93556,#b43359,#ef6e21,#dd513a,#e25734,#ef6c23,#f68013,#ee6a24,#f8870e,#f57d15,#ef6c23,#ce4347,#c13a50,#d44842,#bf3952,#f37819,#fbba1f,#df5337,#df5337,#e75e2e,#d94d3d,#e15635,#ea632a,#e8602d,#d24644,#f47918,#e35933,#dd513a,#df5337,#e05536,#f37819,#f1711f,#f8870e,#952667,#ad305d,#da4e3c,#c13a50,#922568,#952667,#9b2964,#87216b,#88226a,#5a116e)"></i><i style="top:519.14px;height:6.89px;width:744.2px;background:linear-gradient(90deg,#902568,#ba3655,#c13a50,#a82e5f,#dd513a,#f57d15,#f1711f,#fb9906,#f78410,#f1711f,#9a2865,#cb4149,#ad305d,#b0315b,#a32c61,#b1325a,#ab2f5e,#a82e5f,#b73557,#c13a50,#982766,#cf4446,#e9612b,#e25734,#b43359,#b0315b,#b3325a,#b0315b,#b63458,#ba3655,#e8602d,#ab2f5e,#dd513a,#f68013,#e65d2f,#e75e2e,#b93556,#a82e5f,#c73e4c,#ca404a,#b73557,#c73e4c,#d54a41,#c43c4e,#b73557,#ad305d,#b1325a,#b3325a,#f37819,#fb9706,#fb9706,#f3761b,#fb9706,#f2741c,#fbb81d,#f98b0b,#fac62d,#fcb216,#f1731d,#fb9606,#fb9906,#fb9906,#f3761b,#f47918,#fb9b06,#f8890c,#f67e14,#fa9008,#eb6628,#f1711f,#f8870e,#f98b0b,#f57b17,#fb9706,#f8850f,#f68013,#ed6925,#e45a31,#f2741c,#f3761b,#f98e09,#f57b17,#cf4446,#d94d3d,#f8850f,#f8870e,#eb6628,#f3761b,#f3761b,#ef6e21,#fb9606,#f98b0b,#f8890c,#f8890c,#fcaa0f,#ee6a24,#f67e14,#f57d15,#e65d2f,#ea632a,#db503b,#f06f20,#e45a31,#f8890c,#fb9606,#f78212,#eb6429,#e55c30,#fac026,#f98e09,#f68013,#fa9407,#ed6925,#f06f20,#f78212,#f78212,#f1711f,#f98c0a,#c73e4c,#e45a31,#ce4347,#922568,#b63458,#da4e3c,#e25734,#bf3952,#b93556,#db503b,#c13a50,#c83f4b,#b93556,#cb4149,#b3325a,#c13a50,#b73557,#a92e5e,#c63d4d,#b93556,#b93556,#a02a63,#a22b62,#d44842,#dd513a,#dd513a,#cf4446,#cb4149,#ce4347,#d94d3d,#d74b3f,#cc4248,#eb6628,#8c2369,#801f6c,#84206b,#85216b,#a82e5f,#8f2469,#7f1e6c,#59106e,#71196e,#801f6c,#61136e,#5a116e,#5f136e,#5a116e,#470b6a,#6f196e,#3e0966)"></i><i style="top:525.03px;height:6.89px;width:744.2px;background:linear-gradient(90deg,#87216b,#b1325a,#b93556,#982766,#ce4347,#f8850f,#f3761b,#e45a31,#da4e3c,#d04545,#952667,#cc4248,#ca404a,#ce4347,#c03a51,#c83f4b,#c33b4f,#c33b4f,#bf3952,#b73557,#8c2369,#b43359,#d24644,#dd513a,#c03a51,#bf3952,#c63d4d,#c33b4f,#c73e4c,#ca404a,#db503b,#ad305d,#b93556,#e25734,#c83f4b,#a02a63,#85216b,#982766,#b73557,#bc3754,#a32c61,#b0315b,#c03a51,#da4e3c,#e75e2e,#e9612b,#eb6429,#da4e3c,#ef6e21,#e05536,#da4e3c,#c33b4f,#dd513a,#dd513a,#f68013,#d44842,#fb9606,#f78212,#eb6628,#f68013,#f78410,#f78410,#c83f4b,#c63d4d,#dd513a,#d24644,#df5337,#f37819,#f47918,#fca50a,#fbbe23,#f98e09,#d04545,#e55c30,#db503b,#e75e2e,#d74b3f,#e55c30,#f3761b,#ce4347,#e05536,#d34743,#b73557,#a92e5e,#da4e3c,#db503b,#d84c3e,#df5337,#e25734,#e45a31,#ea632a,#e35933,#e05536,#e05536,#f78410,#da4e3c,#e9612b,#cb4149,#ae305c,#cf4446,#bc3754,#ed6925,#e15635,#eb6628,#e9612b,#f1731d,#e25734,#c73e4c,#f37819,#e15635,#d74b3f,#e45a31,#df5337,#ee6a24,#c13a50,#c13a50,#b3325a,#ca404a,#ad305d,#d04545,#ef6e21,#c43c4e,#c33b4f,#eb6628,#c83f4b,#87216b,#de5238,#f57b17,#ce4347,#d54a41,#ca404a,#d84c3e,#c63d4d,#d04545,#de5238,#a82e5f,#b63458,#a92e5e,#e35933,#cf4446,#cf4446,#f2741c,#ce4347,#cf4446,#e45a31,#d74b3f,#d94d3d,#e05536,#e25734,#c73e4c,#e8602d,#d24644,#bc3754,#b1325a,#b43359,#d44842,#922568,#c33b4f,#a02a63,#b73557,#ce4347,#a62d60,#932667,#87216b,#7d1e6d,#6a176e,#7f1e6c,#922568)"></i><i style="top:530.92px;height:6.89px;width:744.2px;background:linear-gradient(90deg,#d74b3f,#f1711f,#f2741c,#e15635,#f98b0b,#f3761b,#ea632a,#fa9008,#f78410,#f78410,#972766,#c33b4f,#ae305c,#b0315b,#9d2964,#bd3853,#ba3655,#de5238,#d74b3f,#d94d3d,#b3325a,#d44842,#e05536,#de5238,#c43c4e,#c63d4d,#cc4248,#a02a63,#b1325a,#b3325a,#d54a41,#c63d4d,#d24644,#f2741c,#e05536,#d34743,#b93556,#a52c60,#c33b4f,#b1325a,#972766,#b63458,#c63d4d,#a92e5e,#bc3754,#bf3952,#c03a51,#a62d60,#e05536,#e75e2e,#e15635,#cc4248,#c13a50,#a62d60,#cb4149,#a52c60,#cf4446,#bf3952,#a32c61,#922568,#952667,#952667,#9f2a63,#9d2964,#b93556,#a92e5e,#b93556,#c43c4e,#b63458,#d54a41,#e45a31,#a32c61,#952667,#d54a41,#cb4149,#e65d2f,#d34743,#902568,#d54a41,#ce4347,#e15635,#d74b3f,#ab2f5e,#b1325a,#dd513a,#db503b,#b93556,#c63d4d,#ce4347,#ce4347,#d84c3e,#ce4347,#c83f4b,#d84c3e,#eb6429,#c33b4f,#d74b3f,#d84c3e,#b63458,#d54a41,#c33b4f,#e05536,#ba3655,#de5238,#e65d2f,#d94d3d,#c13a50,#d94d3d,#fa9008,#e65d2f,#de5238,#ea632a,#e55c30,#ec6726,#e15635,#e15635,#d54a41,#e75e2e,#e35933,#f78212,#fb9b06,#e65d2f,#cb4149,#e8602d,#f57d15,#ce4347,#ca404a,#ea632a,#eb6628,#f06f20,#f1731d,#f78410,#d34743,#dd513a,#d54a41,#a92e5e,#b73557,#ad305d,#f3761b,#e45a31,#e25734,#f8850f,#eb6429,#ef6e21,#f67e14,#ef6c23,#f8890c,#fb9606,#f98e09,#ed6925,#f3761b,#e25734,#da4e3c,#f1731d,#f3761b,#f06f20,#bf3952,#e35933,#c33b4f,#d74b3f,#e25734,#a22b62,#8f2469,#932667,#8a226a,#771c6d,#8a226a,#6f196e)"></i><i style="top:536.81px;height:6.89px;width:744.2px;background:linear-gradient(90deg,#8d2369,#b73557,#bf3952,#9b2964,#ef6e21,#ea632a,#dd513a,#eb6628,#a82e5f,#a52c60,#6f196e,#9a2865,#71196e,#932667,#7f1e6c,#a02a63,#982766,#9a2865,#982766,#9f2a63,#6f196e,#de5238,#f06f20,#f06f20,#a32c61,#a82e5f,#b43359,#ad305d,#d24644,#d24644,#ec6726,#b73557,#c63d4d,#fca309,#f67e14,#f47918,#a32c61,#8d2369,#ad305d,#d34743,#bd3853,#cc4248,#ca404a,#b93556,#ca404a,#de5238,#dd513a,#d44842,#b73557,#bf3952,#e45a31,#d24644,#f68013,#eb6429,#f78410,#e35933,#ec6726,#e05536,#cb4149,#d84c3e,#da4e3c,#da4e3c,#c03a51,#bd3853,#d74b3f,#cb4149,#d74b3f,#da4e3c,#b3325a,#d24644,#e25734,#c73e4c,#b73557,#d54a41,#a62d60,#b43359,#9a2865,#84206b,#ee6a24,#ea632a,#f67e14,#f06f20,#d74b3f,#c33b4f,#cc4248,#bd3853,#a32c61,#b63458,#c33b4f,#c73e4c,#e35933,#d94d3d,#d24644,#eb6429,#f78410,#db503b,#ec6726,#ee6a24,#9d2964,#c03a51,#b93556,#d54a41,#c33b4f,#e65d2f,#ed6925,#e25734,#c13a50,#b93556,#ec6726,#d04545,#d84c3e,#e45a31,#eb6429,#f57d15,#ee6a24,#ed6925,#db503b,#ec6726,#d94d3d,#f2741c,#fb9606,#e35933,#cb4149,#fb9b06,#fbba1f,#ed6925,#eb6628,#cc4248,#b43359,#bf3952,#f2741c,#e8602d,#e9612b,#ee6a24,#ea632a,#a02a63,#b63458,#ad305d,#da4e3c,#c13a50,#bd3853,#f06f20,#e05536,#e35933,#ed6925,#e45a31,#e25734,#e9612b,#e25734,#c43c4e,#e65d2f,#cf4446,#b1325a,#bc3754,#e65d2f,#f8850f,#d24644,#e35933,#a82e5f,#c03a51,#c63d4d,#ca404a,#b93556,#bc3754,#b3325a,#69166e,#7c1d6d,#4d0d6c)"></i><i style="top:542.70px;height:6.89px;width:744.2px;background:linear-gradient(90deg,#c03a51,#e25734,#e75e2e,#cc4248,#f3761b,#f1731d,#e65d2f,#f2741c,#ef6e21,#eb6628,#c43c4e,#e65d2f,#c73e4c,#c63d4d,#ad305d,#ca404a,#d04545,#d04545,#9a2865,#a52c60,#771c6d,#df5337,#f1731d,#f1711f,#a22b62,#c73e4c,#d04545,#ca404a,#d54a41,#ce4347,#ea632a,#ad305d,#bc3754,#f3761b,#e35933,#e05536,#ca404a,#9d2964,#bc3754,#bd3853,#a52c60,#b43359,#d04545,#bf3952,#c13a50,#c63d4d,#c63d4d,#bd3853,#d44842,#e65d2f,#df5337,#cb4149,#ee6a24,#dd513a,#ef6e21,#d34743,#ba3655,#d84c3e,#c03a51,#cf4446,#d24644,#eb6429,#d74b3f,#c43c4e,#dd513a,#d04545,#dd513a,#e45a31,#a92e5e,#ce4347,#de5238,#c33b4f,#b73557,#d54a41,#e9612b,#f1711f,#e25734,#cc4248,#d54a41,#cf4446,#e35933,#da4e3c,#b43359,#b43359,#da4e3c,#d74b3f,#c83f4b,#d84c3e,#d84c3e,#db503b,#e35933,#d84c3e,#dd513a,#d94d3d,#de5238,#b1325a,#c83f4b,#cc4248,#e15635,#f57b17,#cc4248,#e65d2f,#b1325a,#c13a50,#cc4248,#bc3754,#ab2f5e,#a02a63,#db503b,#b0315b,#a32c61,#a32c61,#9d2964,#b63458,#d04545,#bc3754,#ab2f5e,#cf4446,#ae305c,#d44842,#ef6e21,#c83f4b,#c73e4c,#e45a31,#f3761b,#9b2964,#972766,#d44842,#bc3754,#c63d4d,#d44842,#df5337,#cb4149,#d34743,#bf3952,#b63458,#cb4149,#c33b4f,#d34743,#b93556,#d54a41,#fa9407,#da4e3c,#de5238,#e55c30,#da4e3c,#da4e3c,#e15635,#e75e2e,#cb4149,#eb6429,#d54a41,#cc4248,#cf4446,#ad305d,#d24644,#a52c60,#c83f4b,#a32c61,#c13a50,#cc4248,#b0315b,#ae305c,#b1325a,#88226a,#741a6e,#88226a,#59106e)"></i><i style="top:548.59px;height:6.89px;width:744.2px;background:linear-gradient(90deg,#d74b3f,#f1711f,#ef6e21,#d94d3d,#f57b17,#f1711f,#e55c30,#f1711f,#ed6925,#eb6429,#64156e,#922568,#6a176e,#6a176e,#71196e,#bc3754,#b3325a,#ad305d,#a62d60,#b1325a,#88226a,#ae305c,#d04545,#bd3853,#a02a63,#a22b62,#ab2f5e,#bc3754,#c83f4b,#c83f4b,#e65d2f,#8f2469,#9f2a63,#d04545,#b3325a,#c13a50,#a62d60,#932667,#b3325a,#88226a,#6c186e,#7c1d6d,#8a226a,#a92e5e,#bc3754,#dd513a,#bd3853,#b73557,#d34743,#db503b,#e25734,#c13a50,#de5238,#e65d2f,#f57b17,#de5238,#f57d15,#f06f20,#cf4446,#b0315b,#b63458,#d04545,#b63458,#b3325a,#ce4347,#ab2f5e,#b93556,#c13a50,#972766,#b63458,#db503b,#c03a51,#b63458,#d44842,#a32c61,#b43359,#9b2964,#ab2f5e,#bd3853,#b63458,#c13a50,#c73e4c,#a62d60,#a62d60,#bd3853,#b63458,#9b2964,#a02a63,#ae305c,#b43359,#bc3754,#dd513a,#d54a41,#d04545,#e45a31,#ba3655,#a32c61,#a62d60,#8c2369,#d34743,#c33b4f,#e05536,#cf4446,#d24644,#da4e3c,#cc4248,#b1325a,#b3325a,#df5337,#ba3655,#b0315b,#ad305d,#a82e5f,#c03a51,#e55c30,#b93556,#d34743,#e35933,#a32c61,#cb4149,#c43c4e,#8c2369,#8c2369,#c03a51,#d84c3e,#982766,#c33b4f,#f98b0b,#ef6c23,#f3761b,#f47918,#f98b0b,#ef6e21,#f47918,#f67e14,#f2741c,#f8870e,#bd3853,#ce4347,#b1325a,#eb6628,#fb9d07,#f57d15,#eb6628,#e45a31,#da4e3c,#d54a41,#dd513a,#d74b3f,#a52c60,#f68013,#e8602d,#d94d3d,#db503b,#e05536,#f57b17,#b63458,#cc4248,#a62d60,#ba3655,#a02a63,#7f1e6c,#6c186e,#6f196e,#b63458,#a32c61,#b1325a,#82206c)"></i><i style="top:554.48px;height:6.89px;width:744.2px;background:linear-gradient(90deg,#d04545,#ed6925,#f1711f,#db503b,#f67e14,#f98e09,#f3761b,#f98c0a,#f78212,#da4e3c,#a82e5f,#d74b3f,#b63458,#b73557,#a62d60,#c03a51,#b63458,#cc4248,#bf3952,#cb4149,#a82e5f,#d24644,#ec6726,#da4e3c,#d54a41,#d54a41,#db503b,#d54a41,#e35933,#e35933,#f68013,#ea632a,#f1731d,#fcb014,#f98b0b,#f98b0b,#d44842,#c43c4e,#da4e3c,#da4e3c,#c13a50,#9d2964,#ab2f5e,#b1325a,#c33b4f,#c73e4c,#c83f4b,#e75e2e,#f98b0b,#f67e14,#f37819,#e45a31,#f57d15,#ef6e21,#f2741c,#d94d3d,#fb9b06,#f06f20,#e05536,#ec6726,#f06f20,#f1731d,#d34743,#ec6726,#f8850f,#f3761b,#fb9706,#e9612b,#c33b4f,#db503b,#e8602d,#d04545,#ee6a24,#fa9008,#ee6a24,#f67e14,#f8850f,#f1731d,#f67e14,#f3761b,#fa9407,#ee6a24,#e15635,#e05536,#f57d15,#f68013,#ea632a,#f37819,#e45a31,#e8602d,#ec6726,#e15635,#d94d3d,#d34743,#e65d2f,#bd3853,#d34743,#df5337,#ca404a,#ea632a,#df5337,#f37819,#fcac11,#fac228,#f7d13d,#f68013,#e8602d,#cc4248,#f47918,#da4e3c,#e45a31,#f06f20,#ef6c23,#fa9207,#f57b17,#f3761b,#e9612b,#f67e14,#ce4347,#eb6628,#f98b0b,#de5238,#de5238,#f8870e,#fcaa0f,#f57d15,#f37819,#fca60c,#d74b3f,#dd513a,#dd513a,#f37819,#e65d2f,#ec6726,#e8602d,#e25734,#f06f20,#eb6628,#f47918,#e55c30,#e15635,#f98b0b,#ee6a24,#f57d15,#fa9008,#f67e14,#f67e14,#f67e14,#f3761b,#df5337,#f67e14,#db503b,#cc4248,#c13a50,#c73e4c,#e65d2f,#ae305c,#c73e4c,#a02a63,#b3325a,#c83f4b,#a82e5f,#952667,#9a2865,#902568,#771c6d,#8c2369,#5c126e)"></i><i style="top:560.38px;height:6.89px;width:744.2px;background:linear-gradient(90deg,#e35933,#f78410,#f98c0a,#eb6628,#fca50a,#fb9906,#f68013,#f06f20,#ec6726,#eb6429,#bf3952,#f8870e,#cf4446,#d24644,#c33b4f,#ce4347,#c33b4f,#bd3853,#b3325a,#e55c30,#c83f4b,#d94d3d,#f1731d,#f1731d,#de5238,#cc4248,#d24644,#cc4248,#f78212,#f78212,#fcb014,#ea632a,#d94d3d,#f68013,#e9612b,#e9612b,#d74b3f,#da4e3c,#ef6c23,#ef6c23,#d54a41,#e05536,#e9612b,#a02a63,#b1325a,#b43359,#b63458,#b3325a,#e65d2f,#ef6c23,#eb6429,#da4e3c,#f67e14,#ea632a,#f1731d,#d74b3f,#d24644,#bf3952,#ca404a,#da4e3c,#fb9606,#fb9906,#f47918,#f37819,#f2741c,#eb6628,#f3761b,#fb9906,#ea632a,#f47918,#f98e09,#c63d4d,#ba3655,#de5238,#d74b3f,#e45a31,#d34743,#c43c4e,#f06f20,#ee6a24,#f8870e,#e55c30,#cb4149,#c43c4e,#f57b17,#f1711f,#e25734,#ec6726,#f78212,#f8870e,#fa9008,#f57d15,#f3761b,#ef6e21,#f98c0a,#e25734,#f06f20,#d34743,#bd3853,#de5238,#d94d3d,#f06f20,#e55c30,#f06f20,#f57b17,#ed6925,#d94d3d,#c43c4e,#ee6a24,#d84c3e,#ce4347,#df5337,#f67e14,#fb9d07,#f8850f,#f78212,#d54a41,#e65d2f,#c43c4e,#e55c30,#f1731d,#cc4248,#dd513a,#f47918,#fb9b06,#de5238,#d94d3d,#f1711f,#e9612b,#ec6726,#ed6925,#c13a50,#d74b3f,#df5337,#d94d3d,#cb4149,#d84c3e,#d04545,#df5337,#c73e4c,#c03a51,#f47918,#e55c30,#e8602d,#f06f20,#b0315b,#b1325a,#ba3655,#b43359,#902568,#c33b4f,#a52c60,#ba3655,#db503b,#d44842,#ef6c23,#d84c3e,#e75e2e,#c73e4c,#d74b3f,#de5238,#c13a50,#a82e5f,#ab2f5e,#c73e4c,#b43359,#c73e4c,#9a2865)"></i><i style="top:566.27px;height:6.89px;width:744.2px;background:linear-gradient(90deg,#e8602d,#f98c0a,#fb9606,#eb6429,#fb9906,#ed6925,#e65d2f,#f1731d,#ef6c23,#ec6726,#c33b4f,#e8602d,#cc4248,#cf4446,#ba3655,#d04545,#c63d4d,#bf3952,#b43359,#e05536,#c33b4f,#e65d2f,#dd513a,#d94d3d,#bd3853,#bd3853,#c33b4f,#cb4149,#d54a41,#d74b3f,#ef6e21,#9d2964,#ad305d,#db503b,#d54a41,#d54a41,#d74b3f,#bd3853,#d94d3d,#da4e3c,#c43c4e,#bf3952,#cb4149,#d24644,#de5238,#a52c60,#a52c60,#a02a63,#f57d15,#f98c0a,#f8850f,#e65d2f,#f78212,#e45a31,#f8870e,#e55c30,#f8890c,#cb4149,#b1325a,#c43c4e,#ca404a,#f57d15,#e8602d,#e8602d,#f68013,#f1731d,#f37819,#f78212,#de5238,#f1711f,#ea632a,#d04545,#c43c4e,#de5238,#eb6429,#f3761b,#e65d2f,#d94d3d,#f06f20,#ed6925,#e55c30,#db503b,#c03a51,#c83f4b,#e9612b,#d24644,#b93556,#c73e4c,#d24644,#d44842,#fca50a,#e65d2f,#df5337,#da4e3c,#de5238,#b1325a,#c83f4b,#cc4248,#b3325a,#e15635,#d34743,#eb6628,#bd3853,#cc4248,#d74b3f,#ed6925,#da4e3c,#d24644,#f8870e,#e55c30,#db503b,#e8602d,#e35933,#f57d15,#ee6a24,#de5238,#d24644,#e55c30,#902568,#d24644,#e15635,#b1325a,#b3325a,#d84c3e,#ec6726,#d94d3d,#c13a50,#e15635,#a02a63,#a52c60,#a62d60,#b73557,#a02a63,#e9612b,#a62d60,#9a2865,#a82e5f,#9d2964,#a22b62,#87216b,#ab2f5e,#da4e3c,#c13a50,#d84c3e,#e25734,#d54a41,#e55c30,#ec6726,#e9612b,#d04545,#ea632a,#d44842,#cc4248,#cf4446,#d44842,#d94d3d,#e15635,#ef6c23,#b73557,#c83f4b,#d04545,#ba3655,#a82e5f,#c33b4f,#ba3655,#59106e,#6d186e,#520e6d)"></i><i style="top:572.16px;height:6.89px;width:744.2px;background:linear-gradient(90deg,#cf4446,#ec6726,#f06f20,#922568,#c13a50,#b93556,#ce4347,#e05536,#e35933,#e15635,#b43359,#902568,#6a176e,#6d186e,#8d2369,#a52c60,#982766,#6c186e,#61136e,#71196e,#62146e,#952667,#bd3853,#b93556,#c63d4d,#b0315b,#b73557,#b0315b,#a82e5f,#cc4248,#e9612b,#b1325a,#9b2964,#cc4248,#b1325a,#a32c61,#8a226a,#8d2369,#ae305c,#b1325a,#982766,#a82e5f,#bf3952,#a82e5f,#b73557,#b73557,#b63458,#d94d3d,#ed6925,#f2741c,#ef6e21,#7c1d6d,#a22b62,#e05536,#c63d4d,#9d2964,#c73e4c,#d94d3d,#c03a51,#c73e4c,#ca404a,#f1711f,#ab2f5e,#ad305d,#cb4149,#b43359,#c43c4e,#ce4347,#a32c61,#c33b4f,#f1711f,#e25734,#d74b3f,#eb6628,#d94d3d,#e45a31,#d04545,#922568,#ad305d,#a52c60,#f3761b,#ed6925,#d74b3f,#d84c3e,#e55c30,#e15635,#cb4149,#d34743,#db503b,#dd513a,#e35933,#f06f20,#ec6726,#ea632a,#f68013,#b63458,#cc4248,#cc4248,#b3325a,#d44842,#c03a51,#dd513a,#cc4248,#da4e3c,#f3761b,#d94d3d,#c83f4b,#bf3952,#f8870e,#e55c30,#da4e3c,#e55c30,#d24644,#e05536,#d44842,#d74b3f,#cc4248,#ca404a,#b0315b,#d54a41,#e65d2f,#e15635,#e25734,#f78212,#f37819,#c83f4b,#c13a50,#f06f20,#da4e3c,#dd513a,#de5238,#db503b,#ca404a,#e9612b,#e35933,#c83f4b,#d34743,#c83f4b,#d94d3d,#da4e3c,#da4e3c,#f78410,#dd513a,#dd513a,#dd513a,#d84c3e,#da4e3c,#e35933,#cb4149,#ad305d,#d44842,#b93556,#b43359,#b73557,#d34743,#eb6429,#b63458,#cb4149,#cc4248,#db503b,#e25734,#c73e4c,#88226a,#8c2369,#82206c,#9a2865,#ad305d,#7f1e6c)"></i><i style="top:578.05px;height:6.89px;width:744.2px;background:linear-gradient(90deg,#82206c,#ad305d,#b43359,#cc4248,#ee6a24,#e9612b,#db503b,#eb6429,#e45a31,#e25734,#b63458,#e05536,#c33b4f,#c73e4c,#d74b3f,#e75e2e,#e05536,#c83f4b,#b93556,#c63d4d,#9a2865,#b3325a,#d54a41,#d24644,#b43359,#ab2f5e,#b3325a,#ab2f5e,#e25734,#e25734,#f3761b,#c43c4e,#d24644,#f2741c,#e15635,#ea632a,#d94d3d,#cb4149,#e45a31,#eb6429,#c73e4c,#d54a41,#e15635,#e8602d,#ef6c23,#fb9b06,#e65d2f,#e15635,#f1731d,#f57d15,#f2741c,#f57d15,#fcaa0f,#f98e09,#fca309,#e55c30,#f8890c,#f37819,#e55c30,#ef6c23,#f1711f,#f2741c,#de5238,#e65d2f,#f68013,#fcac11,#fac42a,#f7d13d,#e55c30,#f57d15,#f98c0a,#fcaa0f,#f98e09,#fcb216,#fca108,#f1731d,#e15635,#d24644,#fca309,#fb9b06,#fbbc21,#f67e14,#e65d2f,#f1731d,#fca60c,#fc9f07,#f67e14,#f06f20,#f57b17,#f57d15,#f8870e,#d84c3e,#d24644,#cf4446,#e45a31,#ae305c,#c63d4d,#c83f4b,#bc3754,#da4e3c,#c83f4b,#e35933,#e75e2e,#f06f20,#ef6c23,#e45a31,#d04545,#c83f4b,#f67e14,#e15635,#d34743,#dd513a,#c63d4d,#d44842,#c73e4c,#ca404a,#d74b3f,#eb6429,#d84c3e,#f1711f,#f98b0b,#c33b4f,#c43c4e,#f98c0a,#f8890c,#d54a41,#ce4347,#e8602d,#ed6925,#ef6c23,#ef6e21,#f78410,#d84c3e,#c43c4e,#bc3754,#ae305c,#bc3754,#ae305c,#ba3655,#a22b62,#a22b62,#d54a41,#db503b,#db503b,#e45a31,#d54a41,#f2741c,#f78410,#f68013,#e8602d,#ee6a24,#da4e3c,#d24644,#d54a41,#da4e3c,#f1731d,#c43c4e,#d84c3e,#c73e4c,#d74b3f,#de5238,#a62d60,#932667,#982766,#932667,#801f6c,#b3325a,#84206b)"></i><i style="top:583.94px;height:6.89px;width:744.2px;background:linear-gradient(90deg,#e05536,#f47918,#f8870e,#f47918,#f57b17,#f57b17,#fb9906,#fca309,#fb9906,#fa9207,#e45a31,#f57d15,#f1731d,#fca309,#fca50a,#fcb418,#fcac11,#fca60c,#fb9606,#fb9b06,#f37819,#f98e09,#fca50a,#fca108,#fa9407,#fa9407,#fb9706,#fca108,#fcaa0f,#fcaa0f,#fbba1f,#f98c0a,#fa9008,#fcaa0f,#f78410,#f78410,#f57b17,#f1711f,#f98e09,#fa9407,#f8870e,#fb9606,#fbb61a,#fca50a,#fcaa0f,#fca60c,#fca108,#f1731d,#f68013,#f2741c,#fa9008,#f78212,#fa9008,#f57b17,#f57b17,#eb6429,#f57b17,#f1711f,#cf4446,#e55c30,#ea632a,#ee6a24,#e8602d,#e75e2e,#ef6c23,#eb6429,#f1711f,#f37819,#ea632a,#f2741c,#f2741c,#ea632a,#e65d2f,#ef6e21,#ec6726,#eb6429,#e05536,#de5238,#e55c30,#e65d2f,#f06f20,#e35933,#d94d3d,#dd513a,#eb6429,#e65d2f,#e45a31,#eb6429,#e9612b,#ec6726,#f78410,#f57d15,#f37819,#f57d15,#f3761b,#e55c30,#ec6726,#f3761b,#eb6628,#f47918,#ef6e21,#f68013,#e75e2e,#e8602d,#e9612b,#e05536,#e25734,#e25734,#f47918,#ee6a24,#f47918,#f78410,#f67e14,#f98c0a,#e8602d,#e75e2e,#eb6429,#f1711f,#e8602d,#f1731d,#f8890c,#ec6726,#ec6726,#f8850f,#fa9207,#ef6e21,#ee6a24,#f68013,#f06f20,#f8870e,#f8890c,#fb9606,#f8890c,#ed6925,#eb6429,#f78410,#f98b0b,#f78212,#f98e09,#e75e2e,#e75e2e,#f57b17,#ed6925,#ef6e21,#f2741c,#ee6a24,#ef6c23,#f78410,#f78212,#f1711f,#f8850f,#f2741c,#ee6a24,#ef6c23,#ef6c23,#f57b17,#e25734,#e55c30,#d24644,#d54a41,#d54a41,#db503b,#d04545,#cb4149,#bf3952,#902568,#952667,#932667)"></i><i style="top:589.83px;height:6.89px;width:744.2px;background:linear-gradient(90deg,#e75e2e,#f8850f,#fa9407,#f8850f,#fbba1f,#fbba1f,#fcb014,#fbb81d,#fcb014,#fca80d,#f3761b,#fb9d07,#fca60c,#fcb418,#fbb61a,#fbba1f,#fb9b06,#fb9606,#fa9008,#fb9606,#fb9906,#fcb216,#fbba1f,#fbba1f,#fbb81d,#fbb81d,#fbba1f,#fbba1f,#fcac11,#fbba1f,#fbba1f,#f98c0a,#fa9008,#fbba1f,#fbba1f,#fcac11,#fb9d07,#fa9207,#fca80d,#fca108,#fb9606,#fbba1f,#fbba1f,#fbb61a,#fca50a,#fca309,#fca60c,#fcae12,#fbba1f,#fbba1f,#fbba1f,#fca50a,#fcb418,#fca108,#fcb014,#fb9706,#fcb216,#fcac11,#f68013,#fa9207,#fcaa0f,#fcb418,#fcb014,#fcb014,#fbba1f,#fbba1f,#fbba1f,#fbba1f,#fbb61a,#fcaa0f,#fbb81d,#fca50a,#fbb61a,#fbba1f,#fbba1f,#fbba1f,#fca80d,#fb9606,#fca309,#fca50a,#fbba1f,#fbb81d,#fcac11,#fca60c,#fbba1f,#fcb216,#fca50a,#fcb418,#fbba1f,#fbba1f,#fbba1f,#fbba1f,#fc9f07,#fb9d07,#fbba1f,#fbba1f,#fbba1f,#fbba1f,#fbba1f,#fcb216,#fca50a,#fbba1f,#fcaa0f,#fcae12,#fcb014,#fb9d07,#f98e09,#f98e09,#fbba1f,#fcaa0f,#fbba1f,#fbba1f,#fbba1f,#fbb81d,#fcac11,#fcac11,#fca309,#fcac11,#fb9706,#fcae12,#fbba1f,#fbba1f,#fbba1f,#fbba1f,#fbba1f,#fcb216,#fa9407,#fcac11,#fa9407,#fb9906,#fb9b06,#fbba1f,#fbba1f,#fbba1f,#fbba1f,#fcb418,#fcb216,#fcaa0f,#fbb81d,#fca80d,#fca80d,#fbba1f,#fcb014,#fcb014,#fbb81d,#fbba1f,#fbba1f,#fbba1f,#fbba1f,#fbba1f,#fbba1f,#fbba1f,#fbba1f,#fbba1f,#fbba1f,#fbba1f,#fc9f07,#fcaa0f,#f98b0b,#fa9008,#f68013,#ed6925,#e45a31,#e65d2f,#dd513a,#c73e4c,#cc4248,#b93556)"></i><i style="top:595.72px;height:6.89px;width:744.2px;background:linear-gradient(90deg,#ea632a,#f98b0b,#f78410,#f3761b,#fbba1f,#fbba1f,#fca80d,#fc9f07,#fb9606,#f98e09,#f98e09,#fca80d,#fc9f07,#fc9f07,#fca108,#fbba1f,#fbb81d,#fbba1f,#fbba1f,#fbba1f,#fbb81d,#fbb81d,#fbba1f,#fbba1f,#fbb61a,#fbb61a,#fcae12,#fcaa0f,#fcb216,#fcb216,#fbba1f,#fb9906,#fb9d07,#fbb81d,#fcac11,#fb9b06,#f98c0a,#f78212,#fb9706,#fb9d07,#f8850f,#fcb216,#fbba1f,#fcac11,#fcb216,#fbba1f,#fbba1f,#fca309,#fcb216,#fbb81d,#fcae12,#fc9f07,#fcae12,#fb9906,#fca80d,#fca80d,#fca309,#fb9706,#f98b0b,#fb9d07,#fcaa0f,#fca60c,#fb9906,#f98c0a,#fb9d07,#fbba1f,#fca60c,#fcac11,#fa9207,#fca60c,#fbba1f,#fcb418,#fcac11,#fbba1f,#fcb418,#fbba1f,#fcb014,#fca50a,#fca108,#fca309,#fbba1f,#fbb81d,#fca50a,#fbba1f,#fbba1f,#fbba1f,#fca60c,#fbb61a,#fbba1f,#fcb014,#fbb81d,#fcb014,#fcaa0f,#fbb81d,#fbba1f,#fca80d,#fbb81d,#fbba1f,#fbba1f,#fbba1f,#fbb61a,#fbba1f,#fbba1f,#fbba1f,#fbba1f,#fcb014,#fca108,#fa9407,#fbba1f,#fcae12,#fc9f07,#fcaa0f,#fca50a,#fcb418,#fbb81d,#fbb81d,#fcae12,#fbba1f,#fcb418,#fbb61a,#fbba1f,#fa9207,#fa9207,#fbba1f,#fbba1f,#fca309,#fc9f07,#fbb81d,#fca50a,#fca80d,#fcac11,#fbba1f,#fbba1f,#fbba1f,#fbba1f,#fbba1f,#fbba1f,#fbb81d,#fbba1f,#fbba1f,#fbba1f,#fbba1f,#fbba1f,#fbba1f,#fbba1f,#fbb61a,#fbb81d,#fbba1f,#fbba1f,#fbba1f,#fbba1f,#fbba1f,#fcae12,#fcb014,#fcb216,#fbba1f,#f8890c,#fa9407,#f37819,#f8890c,#f8870e,#f06f20,#e9612b,#ec6726,#e45a31,#d74b3f,#de5238,#c63d4d)"></i><i style="top:601.61px;height:6.89px;width:744.2px;background:linear-gradient(90deg,#801f6c,#a52c60,#b3325a,#ab2f5e,#c73e4c,#c73e4c,#c13a50,#c83f4b,#cb4149,#b73557,#982766,#ca404a,#c13a50,#cb4149,#cc4248,#ba3655,#b43359,#b0315b,#ab2f5e,#ba3655,#a62d60,#bf3952,#ce4347,#bd3853,#c63d4d,#c63d4d,#c83f4b,#c63d4d,#c13a50,#c13a50,#d24644,#ae305c,#b1325a,#bd3853,#ad305d,#ad305d,#b43359,#ab2f5e,#bc3754,#cb4149,#c33b4f,#cc4248,#d34743,#ae305c,#b3325a,#b0315b,#ab2f5e,#ab2f5e,#b73557,#b93556,#b1325a,#a02a63,#ad305d,#9a2865,#a22b62,#8c2369,#a22b62,#9d2964,#902568,#982766,#a22b62,#922568,#87216b,#85216b,#a92e5e,#a32c61,#ab2f5e,#b0315b,#a22b62,#b3325a,#bc3754,#ad305d,#952667,#a62d60,#9f2a63,#9d2964,#8a226a,#9a2865,#a62d60,#a62d60,#b93556,#952667,#85216b,#801f6c,#922568,#952667,#9d2964,#a92e5e,#9d2964,#a22b62,#a82e5f,#a22b62,#a62d60,#a52c60,#b3325a,#9b2964,#ba3655,#bc3754,#ad305d,#bf3952,#ab2f5e,#bc3754,#ae305c,#b43359,#b43359,#a62d60,#8c2369,#8c2369,#b3325a,#a32c61,#9f2a63,#b93556,#b43359,#c03a51,#b1325a,#b0315b,#a82e5f,#a92e5e,#982766,#ab2f5e,#b0315b,#902568,#a62d60,#ba3655,#bf3952,#9f2a63,#9b2964,#b0315b,#a02a63,#b3325a,#b43359,#bd3853,#a62d60,#ae305c,#a92e5e,#a22b62,#b63458,#b0315b,#b93556,#ad305d,#ae305c,#b93556,#a82e5f,#a82e5f,#b3325a,#a82e5f,#a92e5e,#b1325a,#b63458,#a62d60,#bc3754,#ad305d,#ae305c,#b0315b,#9b2964,#ad305d,#88226a,#a92e5e,#902568,#84206b,#84206b,#6d186e,#5f136e,#61136e,#510e6c,#390963,#3b0964,#1e0c45)"></i><i style="top:120.0px;height:487.5px;left:675.9px;width:3px;background:linear-gradient(rgba(240,110,40,0),rgba(250,150,30,0.30) 40%,rgba(250,160,20,0.30))"></i><i style="top:120.0px;height:487.5px;left:703.9px;width:3px;background:linear-gradient(rgba(240,110,40,0),rgba(250,150,30,0.40) 40%,rgba(250,160,20,0.40))"></i><i style="top:120.0px;height:487.5px;left:718.5px;width:3px;background:linear-gradient(rgba(240,110,40,0),rgba(250,150,30,0.45) 40%,rgba(250,160,20,0.45))"></i><i style="top:120.0px;height:487.5px;left:215.8px;width:3px;background:linear-gradient(rgba(240,110,40,0),rgba(250,150,30,0.14) 40%,rgba(250,160,20,0.14))"></i><i style="top:120.0px;height:487.5px;left:229.0px;width:3px;background:linear-gradient(rgba(240,110,40,0),rgba(250,150,30,0.14) 40%,rgba(250,160,20,0.14))"></i><i style="top:120.0px;height:487.5px;left:249.2px;width:3px;background:linear-gradient(rgba(240,110,40,0),rgba(250,150,30,0.14) 40%,rgba(250,160,20,0.14))"></i><i style="top:120.0px;height:487.5px;left:258.2px;width:3px;background:linear-gradient(rgba(240,110,40,0),rgba(250,150,30,0.14) 40%,rgba(250,160,20,0.14))"></i><i style="top:120.0px;height:487.5px;left:280.7px;width:3px;background:linear-gradient(rgba(240,110,40,0),rgba(250,150,30,0.14) 40%,rgba(250,160,20,0.14))"></i><i style="top:120.0px;height:487.5px;left:294.9px;width:3px;background:linear-gradient(rgba(240,110,40,0),rgba(250,150,30,0.14) 40%,rgba(250,160,20,0.14))"></i><i style="top:120.0px;height:487.5px;left:307.0px;width:3px;background:linear-gradient(rgba(240,110,40,0),rgba(250,150,30,0.14) 40%,rgba(250,160,20,0.14))"></i><i style="top:120.0px;height:487.5px;left:321.2px;width:3px;background:linear-gradient(rgba(240,110,40,0),rgba(250,150,30,0.14) 40%,rgba(250,160,20,0.14))"></i><i style="top:120.0px;height:487.5px;left:337.2px;width:3px;background:linear-gradient(rgba(240,110,40,0),rgba(250,150,30,0.14) 40%,rgba(250,160,20,0.14))"></i><i style="top:120.0px;height:487.5px;left:349.6px;width:3px;background:linear-gradient(rgba(240,110,40,0),rgba(250,150,30,0.14) 40%,rgba(250,160,20,0.14))"></i><i style="top:120.0px;height:487.5px;left:363.4px;width:3px;background:linear-gradient(rgba(240,110,40,0),rgba(250,150,30,0.14) 40%,rgba(250,160,20,0.14))"></i><i style="top:120.0px;height:487.5px;left:392.8px;width:3px;background:linear-gradient(rgba(240,110,40,0),rgba(250,150,30,0.14) 40%,rgba(250,160,20,0.14))"></i><i style="top:120.0px;height:487.5px;left:417.1px;width:3px;background:linear-gradient(rgba(240,110,40,0),rgba(250,150,30,0.14) 40%,rgba(250,160,20,0.14))"></i><i style="top:120.0px;height:487.5px;left:434.4px;width:3px;background:linear-gradient(rgba(240,110,40,0),rgba(250,150,30,0.14) 40%,rgba(250,160,20,0.14))"></i><i style="top:120.0px;height:487.5px;left:448.5px;width:3px;background:linear-gradient(rgba(240,110,40,0),rgba(250,150,30,0.14) 40%,rgba(250,160,20,0.14))"></i><i style="top:120.0px;height:487.5px;left:463.8px;width:3px;background:linear-gradient(rgba(240,110,40,0),rgba(250,150,30,0.14) 40%,rgba(250,160,20,0.14))"></i><i style="top:120.0px;height:487.5px;left:479.0px;width:3px;background:linear-gradient(rgba(240,110,40,0),rgba(250,150,30,0.14) 40%,rgba(250,160,20,0.14))"></i><i style="top:120.0px;height:487.5px;left:492.2px;width:3px;background:linear-gradient(rgba(240,110,40,0),rgba(250,150,30,0.14) 40%,rgba(250,160,20,0.14))"></i><i style="top:120.0px;height:487.5px;left:506.4px;width:3px;background:linear-gradient(rgba(240,110,40,0),rgba(250,150,30,0.14) 40%,rgba(250,160,20,0.14))"></i><i style="top:120.0px;height:487.5px;left:518.5px;width:3px;background:linear-gradient(rgba(240,110,40,0),rgba(250,150,30,0.14) 40%,rgba(250,160,20,0.14))"></i><i style="top:120.0px;height:487.5px;left:533.2px;width:3px;background:linear-gradient(rgba(240,110,40,0),rgba(250,150,30,0.14) 40%,rgba(250,160,20,0.14))"></i><i style="top:120.0px;height:487.5px;left:547.5px;width:3px;background:linear-gradient(rgba(240,110,40,0),rgba(250,150,30,0.14) 40%,rgba(250,160,20,0.14))"></i><i style="top:120.0px;height:487.5px;left:561.7px;width:3px;background:linear-gradient(rgba(240,110,40,0),rgba(250,150,30,0.14) 40%,rgba(250,160,20,0.14))"></i><i style="top:120.0px;height:487.5px;left:575.9px;width:3px;background:linear-gradient(rgba(240,110,40,0),rgba(250,150,30,0.14) 40%,rgba(250,160,20,0.14))"></i><i style="top:120.0px;height:487.5px;left:593.1px;width:3px;background:linear-gradient(rgba(240,110,40,0),rgba(250,150,30,0.14) 40%,rgba(250,160,20,0.14))"></i><i style="top:120.0px;height:487.5px;left:605.2px;width:3px;background:linear-gradient(rgba(240,110,40,0),rgba(250,150,30,0.14) 40%,rgba(250,160,20,0.14))"></i><i style="top:120.0px;height:487.5px;left:618.4px;width:3px;background:linear-gradient(rgba(240,110,40,0),rgba(250,150,30,0.14) 40%,rgba(250,160,20,0.14))"></i><i style="top:120.0px;height:487.5px;left:632.6px;width:3px;background:linear-gradient(rgba(240,110,40,0),rgba(250,150,30,0.14) 40%,rgba(250,160,20,0.14))"></i><i style="top:120.0px;height:487.5px;left:647.9px;width:3px;background:linear-gradient(rgba(240,110,40,0),rgba(250,150,30,0.14) 40%,rgba(250,160,20,0.14))"></i><i style="top:120.0px;height:487.5px;left:661.0px;width:3px;background:linear-gradient(rgba(240,110,40,0),rgba(250,150,30,0.14) 40%,rgba(250,160,20,0.14))"></i><i style="top:0;height:100%;width:1.9px;background:#000004"></i><i style="top:0;height:100%;left:1.9px;width:1.2px;background:linear-gradient(#000004 28%,#3b0f70 42%)"></i></div><svg width="1200" height="750" viewBox="0 0 1200 750" style="position:absolute;left:0;top:0"><defs><linearGradient id="cbg" x1="0" y1="0" x2="0" y2="1"><stop offset="0.0000" stop-color="#fcfea4"/><stop offset="0.0312" stop-color="#f3f689"/><stop offset="0.0625" stop-color="#f1e968"/><stop offset="0.0938" stop-color="#f4db4b"/><stop offset="0.1250" stop-color="#f8cb34"/><stop offset="0.1562" stop-color="#fabb21"/><stop offset="0.1875" stop-color="#fbac10"/><stop offset="0.2188" stop-color="#fb9d06"/><stop offset="0.2500" stop-color="#f98e08"/><stop offset="0.2812" stop-color="#f68012"/><stop offset="0.3125" stop-color="#f1721d"/><stop offset="0.3438" stop-color="#eb6527"/><stop offset="0.3750" stop-color="#e45a31"/><stop offset="0.4062" stop-color="#db4f3a"/><stop offset="0.4375" stop-color="#d14643"/><stop offset="0.4688" stop-color="#c73e4c"/><stop offset="0.5000" stop-color="#bb3754"/><stop offset="0.5312" stop-color="#af315b"/><stop offset="0.5625" stop-color="#a32b61"/><stop offset="0.5938" stop-color="#962666"/><stop offset="0.6250" stop-color="#892269"/><stop offset="0.6562" stop-color="#7d1d6c"/><stop offset="0.6875" stop-color="#70196e"/><stop offset="0.7188" stop-color="#63146e"/><stop offset="0.7500" stop-color="#570f6d"/><stop offset="0.7812" stop-color="#4a0b6a"/><stop offset="0.8125" stop-color="#3c0965"/><stop offset="0.8438" stop-color="#2e0a5a"/><stop offset="0.8750" stop-color="#200c4a"/><stop offset="0.9062" stop-color="#140b36"/><stop offset="0.9375" stop-color="#0a0723"/><stop offset="0.9688" stop-color="#030212"/><stop offset="1.0000" stop-color="#000003"/></linearGradient></defs><rect x="1020.60" y="55.50" width="29.90" height="607.50" fill="url(#cbg)"/><rect x="1020.60" y="55.50" width="29.90" height="607.50" fill="none" stroke="#000" stroke-width="1.67"/><rect x="133.30" y="55.50" width="836.30" height="607.50" fill="none" stroke="#000" stroke-width="1.67"/><line x1="126.00" y1="97.90" x2="133.30" y2="97.90" stroke="#000" stroke-width="1.67"/><text x="116.50" y="105.80" font-size="22.80" text-anchor="end" textLength="66.25" lengthAdjust="spacingAndGlyphs">16384</text><line x1="126.00" y1="190.40" x2="133.30" y2="190.40" stroke="#000" stroke-width="1.67"/><text x="116.50" y="198.30" font-size="22.80" text-anchor="end" textLength="53.00" lengthAdjust="spacingAndGlyphs">8192</text><line x1="126.00" y1="283.90" x2="133.30" y2="283.90" stroke="#000" stroke-width="1.67"/><text x="116.50" y="291.80" font-size="22.80" text-anchor="end" textLength="53.00" lengthAdjust="spacingAndGlyphs">4096</text><line x1="126.00" y1="377.00" x2="133.30" y2="377.00" stroke="#000" stroke-width="1.67"/><text x="116.50" y="384.90" font-size="22.80" text-anchor="end" textLength="53.00" lengthAdjust="spacingAndGlyphs">2048</text><line x1="126.00" y1="470.30" x2="133.30" y2="470.30" stroke="#000" stroke-width="1.67"/><text x="116.50" y="478.20" font-size="22.80" text-anchor="end" textLength="53.00" lengthAdjust="spacingAndGlyphs">1024</text><line x1="126.00" y1="563.60" x2="133.30" y2="563.60" stroke="#000" stroke-width="1.67"/><text x="116.50" y="571.50" font-size="22.80" text-anchor="end" textLength="39.75" lengthAdjust="spacingAndGlyphs">512</text><line x1="126.00" y1="660.00" x2="133.30" y2="660.00" stroke="#000" stroke-width="1.67"/><text x="117.00" y="667.90" font-size="22.80" text-anchor="end">0</text><line x1="132.90" y1="663.00" x2="132.90" y2="670.30" stroke="#000" stroke-width="1.67"/><text x="132.90" y="692.60" font-size="22.80" text-anchor="middle">0</text><line x1="310.05" y1="663.00" x2="310.05" y2="670.30" stroke="#000" stroke-width="1.67"/><text x="310.05" y="692.60" font-size="22.80" text-anchor="middle">5</text><line x1="487.20" y1="663.00" x2="487.20" y2="670.30" stroke="#000" stroke-width="1.67"/><text x="487.20" y="692.60" font-size="22.80" text-anchor="middle" textLength="26.50" lengthAdjust="spacingAndGlyphs">10</text><line x1="664.35" y1="663.00" x2="664.35" y2="670.30" stroke="#000" stroke-width="1.67"/><text x="664.35" y="692.60" font-size="22.80" text-anchor="middle" textLength="26.50" lengthAdjust="spacingAndGlyphs">15</text><line x1="841.50" y1="663.00" x2="841.50" y2="670.30" stroke="#000" stroke-width="1.67"/><text x="841.50" y="692.60" font-size="22.80" text-anchor="middle" textLength="26.50" lengthAdjust="spacingAndGlyphs">20</text><line x1="1050.50" y1="55.70" x2="1057.80" y2="55.70" stroke="#000" stroke-width="1.67"/><text x="1067.00" y="63.60" font-size="22.80" text-anchor="start" textLength="64.80" lengthAdjust="spacingAndGlyphs">+0 dB</text><line x1="1050.50" y1="131.65" x2="1057.80" y2="131.65" stroke="#000" stroke-width="1.67"/><text x="1067.00" y="139.55" font-size="22.80" text-anchor="start" textLength="68.20" lengthAdjust="spacingAndGlyphs">-10 dB</text><line x1="1050.50" y1="207.60" x2="1057.80" y2="207.60" stroke="#000" stroke-width="1.67"/><text x="1067.00" y="215.50" font-size="22.80" text-anchor="start" textLength="68.20" lengthAdjust="spacingAndGlyphs">-20 dB</text><line x1="1050.50" y1="283.55" x2="1057.80" y2="283.55" stroke="#000" stroke-width="1.67"/><text x="1067.00" y="291.45" font-size="22.80" text-anchor="start" textLength="68.20" lengthAdjust="spacingAndGlyphs">-30 dB</text><line x1="1050.50" y1="359.50" x2="1057.80" y2="359.50" stroke="#000" stroke-width="1.67"/><text x="1067.00" y="367.40" font-size="22.80" text-anchor="start" textLength="68.20" lengthAdjust="spacingAndGlyphs">-40 dB</text><line x1="1050.50" y1="435.45" x2="1057.80" y2="435.45" stroke="#000" stroke-width="1.67"/><text x="1067.00" y="443.35" font-size="22.80" text-anchor="start" textLength="68.20" lengthAdjust="spacingAndGlyphs">-50 dB</text><line x1="1050.50" y1="511.40" x2="1057.80" y2="511.40" stroke="#000" stroke-width="1.67"/><text x="1067.00" y="519.30" font-size="22.80" text-anchor="start" textLength="68.20" lengthAdjust="spacingAndGlyphs">-60 dB</text><line x1="1050.50" y1="587.35" x2="1057.80" y2="587.35" stroke="#000" stroke-width="1.67"/><text x="1067.00" y="595.25" font-size="22.80" text-anchor="start" textLength="68.20" lengthAdjust="spacingAndGlyphs">-70 dB</text><line x1="1050.50" y1="663.30" x2="1057.80" y2="663.30" stroke="#000" stroke-width="1.67"/><text x="1067.00" y="671.20" font-size="22.80" text-anchor="start" textLength="68.20" lengthAdjust="spacingAndGlyphs">-80 dB</text><text x="550.50" y="722.20" font-size="22.80" text-anchor="middle" textLength="51.00" lengthAdjust="spacingAndGlyphs">Time</text><text x="39.60" y="362.20" font-size="22.80" text-anchor="middle" transform="rotate(-90 39.6 362.2)">Hz</text><text x="550.30" y="43.70" font-size="25.00" text-anchor="middle" textLength="881.50" lengthAdjust="spacingAndGlyphs">Mel Spec. (R) | BS11 - 07 - Bob Dylan &amp; The Band - Big Dog.wav - bigd</text></svg></body></html>
